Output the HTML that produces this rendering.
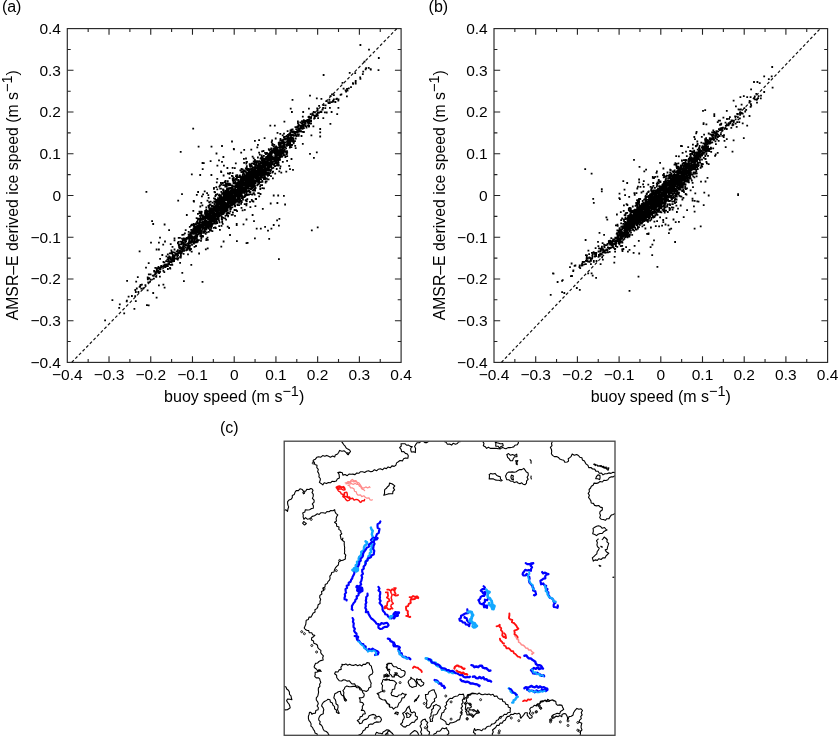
<!DOCTYPE html><html><head><meta charset="utf-8"><style>html,body{margin:0;padding:0;background:#fff;}svg{display:block;}svg{font-size:16px;}text{font-family:"Liberation Sans", Arial, Helvetica, sans-serif;fill:#000;}</style></head><body>
<svg width="838" height="736" viewBox="0 0 838 736">
<path d="M88.16 28.60v3.4M88.16 362.40v-3.4M67.30 341.54h3.4M401.10 341.54h-3.4M109.02 28.60v6.2M109.02 362.40v-6.2M67.30 320.68h6.2M401.10 320.68h-6.2M129.89 28.60v3.4M129.89 362.40v-3.4M67.30 299.81h3.4M401.10 299.81h-3.4M150.75 28.60v6.2M150.75 362.40v-6.2M67.30 278.95h6.2M401.10 278.95h-6.2M171.61 28.60v3.4M171.61 362.40v-3.4M67.30 258.09h3.4M401.10 258.09h-3.4M192.48 28.60v6.2M192.48 362.40v-6.2M67.30 237.22h6.2M401.10 237.22h-6.2M213.34 28.60v3.4M213.34 362.40v-3.4M67.30 216.36h3.4M401.10 216.36h-3.4M234.20 28.60v6.2M234.20 362.40v-6.2M67.30 195.50h6.2M401.10 195.50h-6.2M255.06 28.60v3.4M255.06 362.40v-3.4M67.30 174.64h3.4M401.10 174.64h-3.4M275.93 28.60v6.2M275.93 362.40v-6.2M67.30 153.78h6.2M401.10 153.78h-6.2M296.79 28.60v3.4M296.79 362.40v-3.4M67.30 132.91h3.4M401.10 132.91h-3.4M317.65 28.60v6.2M317.65 362.40v-6.2M67.30 112.05h6.2M401.10 112.05h-6.2M338.51 28.60v3.4M338.51 362.40v-3.4M67.30 91.19h3.4M401.10 91.19h-3.4M359.38 28.60v6.2M359.38 362.40v-6.2M67.30 70.32h6.2M401.10 70.32h-6.2M380.24 28.60v3.4M380.24 362.40v-3.4M67.30 49.46h3.4M401.10 49.46h-3.4" stroke="#222" stroke-width="1.1" fill="none"/>
<rect x="67.30" y="28.60" width="333.80" height="333.80" stroke="#262626" stroke-width="1.15" fill="none"/>
<text x="67.30" y="380.2" text-anchor="middle" font-size="15.5">−0.4</text>
<text x="61.00" y="367.80" text-anchor="end" font-size="15.5">−0.4</text>
<text x="109.02" y="380.2" text-anchor="middle" font-size="15.5">−0.3</text>
<text x="61.00" y="326.07" text-anchor="end" font-size="15.5">−0.3</text>
<text x="150.75" y="380.2" text-anchor="middle" font-size="15.5">−0.2</text>
<text x="61.00" y="284.35" text-anchor="end" font-size="15.5">−0.2</text>
<text x="192.48" y="380.2" text-anchor="middle" font-size="15.5">−0.1</text>
<text x="61.00" y="242.62" text-anchor="end" font-size="15.5">−0.1</text>
<text x="234.20" y="380.2" text-anchor="middle" font-size="15.5">0</text>
<text x="61.00" y="200.90" text-anchor="end" font-size="15.5">0</text>
<text x="275.93" y="380.2" text-anchor="middle" font-size="15.5">0.1</text>
<text x="61.00" y="159.18" text-anchor="end" font-size="15.5">0.1</text>
<text x="317.65" y="380.2" text-anchor="middle" font-size="15.5">0.2</text>
<text x="61.00" y="117.45" text-anchor="end" font-size="15.5">0.2</text>
<text x="359.38" y="380.2" text-anchor="middle" font-size="15.5">0.3</text>
<text x="61.00" y="75.72" text-anchor="end" font-size="15.5">0.3</text>
<text x="401.10" y="380.2" text-anchor="middle" font-size="15.5">0.4</text>
<text x="61.00" y="34.00" text-anchor="end" font-size="15.5">0.4</text>
<line x1="71.7" y1="362.4" x2="396.8" y2="28.6" stroke="#111" stroke-width="1.2" stroke-dasharray="3 2.2"/>
<path d="M192.3 127.8h1.8v1.8h-1.8zM197.7 145.8h1.8v1.8h-1.8zM210.6 145.8h1.8v1.8h-1.8zM221.1 145.1h1.8v1.8h-1.8zM231.1 140.6h1.8v1.8h-1.8zM232.9 148.0h1.8v1.8h-1.8zM179.8 151.0h1.8v1.8h-1.8zM215.6 152.6h1.8v1.8h-1.8zM201.6 162.1h1.8v1.8h-1.8zM202.9 162.3h1.8v1.8h-1.8zM209.7 160.3h1.8v1.8h-1.8zM218.1 159.4h1.8v1.8h-1.8zM221.1 161.0h1.8v1.8h-1.8zM216.5 164.8h1.8v1.8h-1.8zM226.5 167.1h1.8v1.8h-1.8zM201.8 168.2h1.8v1.8h-1.8zM220.4 171.2h1.8v1.8h-1.8zM222.7 174.6h1.8v1.8h-1.8zM190.9 173.5h1.8v1.8h-1.8zM199.3 174.1h1.8v1.8h-1.8zM231.7 172.3h1.8v1.8h-1.8zM232.9 176.9h1.8v1.8h-1.8zM215.9 181.4h1.8v1.8h-1.8zM220.4 183.7h1.8v1.8h-1.8zM223.8 181.4h1.8v1.8h-1.8zM229.5 183.7h1.8v1.8h-1.8zM145.5 190.9h1.8v1.8h-1.8zM181.1 193.2h1.8v1.8h-1.8zM195.9 193.9h1.8v1.8h-1.8zM203.8 190.5h1.8v1.8h-1.8zM202.2 193.4h1.8v1.8h-1.8zM213.6 190.9h1.8v1.8h-1.8zM284.2 203.6h1.8v1.8h-1.8zM272.8 194.6h1.8v1.8h-1.8zM277.3 194.6h1.8v1.8h-1.8zM251.7 214.1h1.8v1.8h-1.8zM253.1 220.2h1.8v1.8h-1.8zM245.6 218.6h1.8v1.8h-1.8zM235.8 223.1h1.8v1.8h-1.8zM235.8 224.1h1.8v1.8h-1.8zM255.8 227.7h1.8v1.8h-1.8zM259.9 227.7h1.8v1.8h-1.8zM264.2 225.9h1.8v1.8h-1.8zM267.1 229.7h1.8v1.8h-1.8zM270.5 227.7h1.8v1.8h-1.8zM272.8 224.1h1.8v1.8h-1.8zM276.2 219.5h1.8v1.8h-1.8zM278.5 217.9h1.8v1.8h-1.8zM278.0 224.7h1.8v1.8h-1.8zM268.3 237.9h1.8v1.8h-1.8zM236.0 240.2h1.8v1.8h-1.8zM245.6 242.2h1.8v1.8h-1.8zM246.7 242.0h1.8v1.8h-1.8zM278.0 258.3h1.8v1.8h-1.8zM310.9 229.5h1.8v1.8h-1.8zM316.8 226.5h1.8v1.8h-1.8zM359.5 44.1h1.8v1.8h-1.8zM368.1 48.7h1.8v1.8h-1.8zM377.9 57.1h1.8v1.8h-1.8zM363.6 60.7h1.8v1.8h-1.8zM369.9 68.6h1.8v1.8h-1.8zM377.6 69.3h1.8v1.8h-1.8zM359.5 77.9h1.8v1.8h-1.8zM348.8 72.0h1.8v1.8h-1.8zM341.6 82.0h1.8v1.8h-1.8zM322.7 74.1h1.8v1.8h-1.8zM342.7 87.7h1.8v1.8h-1.8zM339.7 94.0h1.8v1.8h-1.8zM331.1 93.4h1.8v1.8h-1.8zM329.5 95.2h1.8v1.8h-1.8zM325.5 100.2h1.8v1.8h-1.8zM315.9 97.4h1.8v1.8h-1.8zM320.5 97.9h1.8v1.8h-1.8zM309.1 94.7h1.8v1.8h-1.8zM291.6 99.0h1.8v1.8h-1.8zM289.8 107.7h1.8v1.8h-1.8zM291.0 111.1h1.8v1.8h-1.8zM302.3 111.1h1.8v1.8h-1.8zM308.0 107.7h1.8v1.8h-1.8zM313.7 111.5h1.8v1.8h-1.8zM320.5 111.1h1.8v1.8h-1.8zM323.9 111.5h1.8v1.8h-1.8zM330.7 111.1h1.8v1.8h-1.8zM337.5 107.0h1.8v1.8h-1.8zM336.3 113.3h1.8v1.8h-1.8zM329.5 122.9h1.8v1.8h-1.8zM319.3 128.1h1.8v1.8h-1.8zM319.3 131.5h1.8v1.8h-1.8zM319.3 135.6h1.8v1.8h-1.8zM312.5 125.4h1.8v1.8h-1.8zM310.2 122.4h1.8v1.8h-1.8zM283.5 120.8h1.8v1.8h-1.8zM269.4 124.7h1.8v1.8h-1.8zM273.9 124.7h1.8v1.8h-1.8zM263.7 137.2h1.8v1.8h-1.8zM254.0 139.9h1.8v1.8h-1.8zM243.3 149.0h1.8v1.8h-1.8zM233.1 148.5h1.8v1.8h-1.8zM309.1 153.0h1.8v1.8h-1.8zM315.9 151.4h1.8v1.8h-1.8zM313.0 156.9h1.8v1.8h-1.8zM292.1 168.9h1.8v1.8h-1.8zM281.9 161.0h1.8v1.8h-1.8zM177.3 199.8h1.8v1.8h-1.8zM151.2 220.2h1.8v1.8h-1.8zM152.3 223.1h1.8v1.8h-1.8zM163.7 223.6h1.8v1.8h-1.8zM168.2 229.3h1.8v1.8h-1.8zM150.1 241.8h1.8v1.8h-1.8zM159.1 236.8h1.8v1.8h-1.8zM158.0 241.8h1.8v1.8h-1.8zM164.1 240.6h1.8v1.8h-1.8zM155.7 248.6h1.8v1.8h-1.8zM158.0 248.6h1.8v1.8h-1.8zM138.7 250.4h1.8v1.8h-1.8zM147.8 262.2h1.8v1.8h-1.8zM145.1 266.7h1.8v1.8h-1.8zM126.2 279.9h1.8v1.8h-1.8zM135.3 280.8h1.8v1.8h-1.8zM136.9 276.2h1.8v1.8h-1.8zM141.0 283.7h1.8v1.8h-1.8zM146.7 289.4h1.8v1.8h-1.8zM152.3 292.1h1.8v1.8h-1.8zM155.7 296.7h1.8v1.8h-1.8zM158.0 284.4h1.8v1.8h-1.8zM162.5 283.7h1.8v1.8h-1.8zM163.7 286.7h1.8v1.8h-1.8zM111.5 299.2h1.8v1.8h-1.8zM118.3 306.9h1.8v1.8h-1.8zM123.3 312.5h1.8v1.8h-1.8zM133.5 308.0h1.8v1.8h-1.8zM134.9 300.3h1.8v1.8h-1.8zM146.0 304.2h1.8v1.8h-1.8zM147.8 304.4h1.8v1.8h-1.8zM104.2 319.4h1.8v1.8h-1.8zM183.0 280.3h1.8v1.8h-1.8zM201.6 281.0h1.8v1.8h-1.8zM181.4 271.9h1.8v1.8h-1.8zM190.4 264.0h1.8v1.8h-1.8zM222.7 240.6h1.8v1.8h-1.8zM220.4 245.8h1.8v1.8h-1.8zM206.8 247.4h1.8v1.8h-1.8zM198.2 252.6h1.8v1.8h-1.8zM235.0 198.5h1.8v1.8h-1.8zM229.7 191.5h1.8v1.8h-1.8zM197.0 222.4h1.8v1.8h-1.8zM180.7 240.8h1.8v1.8h-1.8zM190.6 237.1h1.8v1.8h-1.8zM312.8 114.4h1.8v1.8h-1.8zM248.7 179.5h1.8v1.8h-1.8zM240.6 187.0h1.8v1.8h-1.8zM215.2 218.0h1.8v1.8h-1.8zM237.1 190.6h1.8v1.8h-1.8zM242.9 172.0h1.8v1.8h-1.8zM226.1 198.7h1.8v1.8h-1.8zM369.7 68.3h1.8v1.8h-1.8zM206.1 210.4h1.8v1.8h-1.8zM208.7 218.0h1.8v1.8h-1.8zM267.5 155.1h1.8v1.8h-1.8zM298.4 130.4h1.8v1.8h-1.8zM282.6 144.8h1.8v1.8h-1.8zM305.6 125.5h1.8v1.8h-1.8zM259.7 173.7h1.8v1.8h-1.8zM188.8 248.0h1.8v1.8h-1.8zM196.0 229.3h1.8v1.8h-1.8zM180.6 248.5h1.8v1.8h-1.8zM243.4 178.5h1.8v1.8h-1.8zM221.7 210.1h1.8v1.8h-1.8zM203.3 230.4h1.8v1.8h-1.8zM218.1 219.7h1.8v1.8h-1.8zM218.5 203.5h1.8v1.8h-1.8zM216.7 214.7h1.8v1.8h-1.8zM189.7 232.0h1.8v1.8h-1.8zM211.9 214.6h1.8v1.8h-1.8zM205.2 214.8h1.8v1.8h-1.8zM188.2 240.4h1.8v1.8h-1.8zM234.4 201.7h1.8v1.8h-1.8zM289.6 129.4h1.8v1.8h-1.8zM192.9 229.5h1.8v1.8h-1.8zM286.6 140.0h1.8v1.8h-1.8zM268.3 165.2h1.8v1.8h-1.8zM224.5 207.2h1.8v1.8h-1.8zM219.7 197.7h1.8v1.8h-1.8zM179.0 249.8h1.8v1.8h-1.8zM225.2 210.8h1.8v1.8h-1.8zM246.4 186.6h1.8v1.8h-1.8zM186.6 248.9h1.8v1.8h-1.8zM249.5 173.3h1.8v1.8h-1.8zM278.5 146.6h1.8v1.8h-1.8zM155.6 270.4h1.8v1.8h-1.8zM199.5 228.6h1.8v1.8h-1.8zM235.5 179.0h1.8v1.8h-1.8zM309.7 122.8h1.8v1.8h-1.8zM261.9 168.1h1.8v1.8h-1.8zM165.4 263.4h1.8v1.8h-1.8zM271.1 167.5h1.8v1.8h-1.8zM235.0 192.3h1.8v1.8h-1.8zM225.6 207.0h1.8v1.8h-1.8zM267.5 165.5h1.8v1.8h-1.8zM265.0 168.2h1.8v1.8h-1.8zM225.0 182.6h1.8v1.8h-1.8zM283.5 136.0h1.8v1.8h-1.8zM275.5 158.4h1.8v1.8h-1.8zM240.1 176.6h1.8v1.8h-1.8zM186.9 237.6h1.8v1.8h-1.8zM361.9 73.3h1.8v1.8h-1.8zM257.8 163.7h1.8v1.8h-1.8zM242.0 196.3h1.8v1.8h-1.8zM176.4 255.4h1.8v1.8h-1.8zM223.9 197.9h1.8v1.8h-1.8zM248.6 170.1h1.8v1.8h-1.8zM205.6 217.4h1.8v1.8h-1.8zM215.2 220.3h1.8v1.8h-1.8zM279.6 138.0h1.8v1.8h-1.8zM236.1 195.8h1.8v1.8h-1.8zM216.8 213.8h1.8v1.8h-1.8zM264.1 152.0h1.8v1.8h-1.8zM246.9 186.6h1.8v1.8h-1.8zM278.6 154.7h1.8v1.8h-1.8zM266.0 162.4h1.8v1.8h-1.8zM228.3 201.2h1.8v1.8h-1.8zM210.6 208.8h1.8v1.8h-1.8zM216.0 202.4h1.8v1.8h-1.8zM304.7 123.0h1.8v1.8h-1.8zM267.9 162.1h1.8v1.8h-1.8zM258.9 165.1h1.8v1.8h-1.8zM155.4 276.0h1.8v1.8h-1.8zM222.8 204.1h1.8v1.8h-1.8zM192.0 232.4h1.8v1.8h-1.8zM241.8 176.7h1.8v1.8h-1.8zM274.5 148.0h1.8v1.8h-1.8zM254.1 169.3h1.8v1.8h-1.8zM159.6 268.1h1.8v1.8h-1.8zM255.7 171.6h1.8v1.8h-1.8zM263.8 171.8h1.8v1.8h-1.8zM245.0 171.0h1.8v1.8h-1.8zM282.0 151.8h1.8v1.8h-1.8zM287.4 143.1h1.8v1.8h-1.8zM255.9 178.9h1.8v1.8h-1.8zM236.4 199.7h1.8v1.8h-1.8zM290.5 130.7h1.8v1.8h-1.8zM240.9 182.9h1.8v1.8h-1.8zM242.7 169.5h1.8v1.8h-1.8zM230.8 213.9h1.8v1.8h-1.8zM249.6 175.3h1.8v1.8h-1.8zM222.3 206.3h1.8v1.8h-1.8zM184.1 240.2h1.8v1.8h-1.8zM249.7 176.0h1.8v1.8h-1.8zM267.7 161.5h1.8v1.8h-1.8zM252.7 168.4h1.8v1.8h-1.8zM200.5 236.3h1.8v1.8h-1.8zM253.2 181.4h1.8v1.8h-1.8zM290.7 130.3h1.8v1.8h-1.8zM290.2 136.9h1.8v1.8h-1.8zM222.6 210.9h1.8v1.8h-1.8zM249.8 183.6h1.8v1.8h-1.8zM209.3 208.6h1.8v1.8h-1.8zM278.2 152.9h1.8v1.8h-1.8zM308.2 125.1h1.8v1.8h-1.8zM237.4 179.1h1.8v1.8h-1.8zM238.4 185.5h1.8v1.8h-1.8zM302.9 119.2h1.8v1.8h-1.8zM250.7 185.6h1.8v1.8h-1.8zM250.9 169.1h1.8v1.8h-1.8zM297.6 127.7h1.8v1.8h-1.8zM217.4 213.1h1.8v1.8h-1.8zM278.9 153.6h1.8v1.8h-1.8zM228.7 200.1h1.8v1.8h-1.8zM282.9 151.8h1.8v1.8h-1.8zM255.4 174.9h1.8v1.8h-1.8zM260.5 173.3h1.8v1.8h-1.8zM237.3 198.8h1.8v1.8h-1.8zM204.4 228.9h1.8v1.8h-1.8zM206.6 211.9h1.8v1.8h-1.8zM227.8 195.6h1.8v1.8h-1.8zM243.1 186.9h1.8v1.8h-1.8zM252.4 186.4h1.8v1.8h-1.8zM274.6 156.7h1.8v1.8h-1.8zM262.5 162.5h1.8v1.8h-1.8zM278.6 144.5h1.8v1.8h-1.8zM229.4 210.4h1.8v1.8h-1.8zM279.6 148.9h1.8v1.8h-1.8zM214.6 222.2h1.8v1.8h-1.8zM271.6 158.1h1.8v1.8h-1.8zM231.4 189.9h1.8v1.8h-1.8zM153.4 270.8h1.8v1.8h-1.8zM297.1 122.3h1.8v1.8h-1.8zM228.7 184.1h1.8v1.8h-1.8zM208.3 217.6h1.8v1.8h-1.8zM190.3 231.3h1.8v1.8h-1.8zM239.7 183.4h1.8v1.8h-1.8zM201.8 235.7h1.8v1.8h-1.8zM271.7 143.0h1.8v1.8h-1.8zM187.8 230.9h1.8v1.8h-1.8zM231.0 197.4h1.8v1.8h-1.8zM228.3 195.7h1.8v1.8h-1.8zM264.5 163.8h1.8v1.8h-1.8zM200.1 226.7h1.8v1.8h-1.8zM206.3 212.6h1.8v1.8h-1.8zM226.4 208.5h1.8v1.8h-1.8zM261.4 159.9h1.8v1.8h-1.8zM241.3 177.4h1.8v1.8h-1.8zM308.7 116.7h1.8v1.8h-1.8zM219.8 204.1h1.8v1.8h-1.8zM265.4 152.8h1.8v1.8h-1.8zM286.0 137.9h1.8v1.8h-1.8zM253.1 163.1h1.8v1.8h-1.8zM252.5 170.7h1.8v1.8h-1.8zM159.0 271.1h1.8v1.8h-1.8zM249.5 180.2h1.8v1.8h-1.8zM253.8 193.8h1.8v1.8h-1.8zM243.8 175.2h1.8v1.8h-1.8zM352.0 82.3h1.8v1.8h-1.8zM264.4 166.0h1.8v1.8h-1.8zM250.1 177.4h1.8v1.8h-1.8zM215.9 213.8h1.8v1.8h-1.8zM223.6 202.4h1.8v1.8h-1.8zM215.5 200.4h1.8v1.8h-1.8zM305.4 120.5h1.8v1.8h-1.8zM352.2 82.9h1.8v1.8h-1.8zM249.0 175.5h1.8v1.8h-1.8zM179.8 251.3h1.8v1.8h-1.8zM204.0 229.0h1.8v1.8h-1.8zM244.0 191.0h1.8v1.8h-1.8zM246.7 177.7h1.8v1.8h-1.8zM223.6 195.5h1.8v1.8h-1.8zM213.6 203.3h1.8v1.8h-1.8zM207.4 218.8h1.8v1.8h-1.8zM205.2 223.3h1.8v1.8h-1.8zM237.2 188.7h1.8v1.8h-1.8zM332.1 99.7h1.8v1.8h-1.8zM189.1 233.3h1.8v1.8h-1.8zM302.5 125.7h1.8v1.8h-1.8zM252.4 174.1h1.8v1.8h-1.8zM308.3 115.8h1.8v1.8h-1.8zM237.6 181.9h1.8v1.8h-1.8zM205.3 215.6h1.8v1.8h-1.8zM235.3 179.0h1.8v1.8h-1.8zM227.7 201.1h1.8v1.8h-1.8zM246.3 182.6h1.8v1.8h-1.8zM364.7 68.4h1.8v1.8h-1.8zM263.1 178.1h1.8v1.8h-1.8zM266.8 172.2h1.8v1.8h-1.8zM224.1 196.6h1.8v1.8h-1.8zM243.9 173.5h1.8v1.8h-1.8zM256.4 172.1h1.8v1.8h-1.8zM294.3 144.9h1.8v1.8h-1.8zM166.9 260.8h1.8v1.8h-1.8zM244.9 190.7h1.8v1.8h-1.8zM245.4 192.2h1.8v1.8h-1.8zM251.6 182.4h1.8v1.8h-1.8zM230.6 196.4h1.8v1.8h-1.8zM267.8 167.4h1.8v1.8h-1.8zM182.4 248.3h1.8v1.8h-1.8zM251.6 166.3h1.8v1.8h-1.8zM227.0 200.4h1.8v1.8h-1.8zM250.5 170.2h1.8v1.8h-1.8zM230.8 194.1h1.8v1.8h-1.8zM219.3 187.7h1.8v1.8h-1.8zM192.7 237.6h1.8v1.8h-1.8zM247.2 181.7h1.8v1.8h-1.8zM257.9 171.0h1.8v1.8h-1.8zM215.5 206.4h1.8v1.8h-1.8zM183.5 243.5h1.8v1.8h-1.8zM204.1 211.5h1.8v1.8h-1.8zM232.8 190.0h1.8v1.8h-1.8zM262.5 169.0h1.8v1.8h-1.8zM290.5 140.0h1.8v1.8h-1.8zM268.1 157.3h1.8v1.8h-1.8zM220.8 218.1h1.8v1.8h-1.8zM209.8 209.6h1.8v1.8h-1.8zM224.7 194.0h1.8v1.8h-1.8zM218.1 211.2h1.8v1.8h-1.8zM263.2 170.5h1.8v1.8h-1.8zM200.5 219.0h1.8v1.8h-1.8zM273.7 162.8h1.8v1.8h-1.8zM248.3 180.5h1.8v1.8h-1.8zM307.4 120.3h1.8v1.8h-1.8zM249.6 175.3h1.8v1.8h-1.8zM180.1 247.2h1.8v1.8h-1.8zM182.8 233.7h1.8v1.8h-1.8zM202.6 221.2h1.8v1.8h-1.8zM216.0 204.2h1.8v1.8h-1.8zM247.8 173.9h1.8v1.8h-1.8zM308.4 120.8h1.8v1.8h-1.8zM229.7 193.3h1.8v1.8h-1.8zM277.8 142.0h1.8v1.8h-1.8zM277.2 157.8h1.8v1.8h-1.8zM272.4 148.0h1.8v1.8h-1.8zM291.7 128.4h1.8v1.8h-1.8zM270.4 157.0h1.8v1.8h-1.8zM223.1 200.1h1.8v1.8h-1.8zM213.0 187.9h1.8v1.8h-1.8zM211.3 209.1h1.8v1.8h-1.8zM190.8 250.7h1.8v1.8h-1.8zM203.2 224.2h1.8v1.8h-1.8zM184.7 240.2h1.8v1.8h-1.8zM254.6 177.4h1.8v1.8h-1.8zM197.1 231.2h1.8v1.8h-1.8zM215.5 204.9h1.8v1.8h-1.8zM196.5 228.6h1.8v1.8h-1.8zM202.6 220.9h1.8v1.8h-1.8zM275.4 160.4h1.8v1.8h-1.8zM222.9 207.3h1.8v1.8h-1.8zM251.6 172.5h1.8v1.8h-1.8zM233.6 209.1h1.8v1.8h-1.8zM273.2 160.3h1.8v1.8h-1.8zM245.0 178.2h1.8v1.8h-1.8zM254.8 198.0h1.8v1.8h-1.8zM157.6 265.9h1.8v1.8h-1.8zM266.2 172.1h1.8v1.8h-1.8zM194.8 231.1h1.8v1.8h-1.8zM274.3 158.6h1.8v1.8h-1.8zM253.5 173.6h1.8v1.8h-1.8zM208.6 225.9h1.8v1.8h-1.8zM147.3 281.4h1.8v1.8h-1.8zM179.6 240.7h1.8v1.8h-1.8zM250.8 168.3h1.8v1.8h-1.8zM294.5 132.3h1.8v1.8h-1.8zM270.8 159.8h1.8v1.8h-1.8zM276.1 146.7h1.8v1.8h-1.8zM265.1 156.4h1.8v1.8h-1.8zM204.0 220.3h1.8v1.8h-1.8zM215.0 215.7h1.8v1.8h-1.8zM235.5 193.4h1.8v1.8h-1.8zM236.6 195.6h1.8v1.8h-1.8zM241.1 190.5h1.8v1.8h-1.8zM276.6 157.6h1.8v1.8h-1.8zM257.2 171.8h1.8v1.8h-1.8zM258.3 195.4h1.8v1.8h-1.8zM257.4 172.7h1.8v1.8h-1.8zM239.9 179.2h1.8v1.8h-1.8zM215.9 215.7h1.8v1.8h-1.8zM233.0 192.3h1.8v1.8h-1.8zM260.6 173.2h1.8v1.8h-1.8zM293.7 131.9h1.8v1.8h-1.8zM264.9 158.4h1.8v1.8h-1.8zM192.6 231.3h1.8v1.8h-1.8zM194.9 223.7h1.8v1.8h-1.8zM274.9 157.4h1.8v1.8h-1.8zM196.5 233.7h1.8v1.8h-1.8zM225.7 205.7h1.8v1.8h-1.8zM230.8 190.5h1.8v1.8h-1.8zM262.3 162.0h1.8v1.8h-1.8zM223.5 205.2h1.8v1.8h-1.8zM240.7 199.7h1.8v1.8h-1.8zM247.4 178.3h1.8v1.8h-1.8zM156.0 268.7h1.8v1.8h-1.8zM203.2 231.6h1.8v1.8h-1.8zM237.8 193.3h1.8v1.8h-1.8zM200.2 218.6h1.8v1.8h-1.8zM281.6 142.2h1.8v1.8h-1.8zM206.9 225.8h1.8v1.8h-1.8zM322.2 106.9h1.8v1.8h-1.8zM213.1 197.4h1.8v1.8h-1.8zM244.7 187.6h1.8v1.8h-1.8zM251.0 179.7h1.8v1.8h-1.8zM234.9 184.9h1.8v1.8h-1.8zM209.8 222.1h1.8v1.8h-1.8zM201.7 216.6h1.8v1.8h-1.8zM241.7 182.1h1.8v1.8h-1.8zM290.3 138.4h1.8v1.8h-1.8zM200.8 217.7h1.8v1.8h-1.8zM220.2 204.7h1.8v1.8h-1.8zM273.2 164.2h1.8v1.8h-1.8zM242.8 189.0h1.8v1.8h-1.8zM332.5 100.6h1.8v1.8h-1.8zM240.6 179.5h1.8v1.8h-1.8zM226.1 187.3h1.8v1.8h-1.8zM268.5 163.0h1.8v1.8h-1.8zM202.8 231.0h1.8v1.8h-1.8zM238.6 181.2h1.8v1.8h-1.8zM243.7 182.3h1.8v1.8h-1.8zM238.6 185.4h1.8v1.8h-1.8zM293.4 130.9h1.8v1.8h-1.8zM224.4 191.9h1.8v1.8h-1.8zM259.9 161.4h1.8v1.8h-1.8zM243.3 192.0h1.8v1.8h-1.8zM222.6 189.0h1.8v1.8h-1.8zM248.0 169.9h1.8v1.8h-1.8zM236.6 187.7h1.8v1.8h-1.8zM206.9 217.0h1.8v1.8h-1.8zM254.0 159.1h1.8v1.8h-1.8zM256.6 169.4h1.8v1.8h-1.8zM199.5 226.4h1.8v1.8h-1.8zM233.8 203.0h1.8v1.8h-1.8zM244.7 186.3h1.8v1.8h-1.8zM213.6 212.0h1.8v1.8h-1.8zM289.5 138.4h1.8v1.8h-1.8zM245.9 168.6h1.8v1.8h-1.8zM221.4 209.4h1.8v1.8h-1.8zM258.3 181.9h1.8v1.8h-1.8zM204.9 228.6h1.8v1.8h-1.8zM289.2 137.2h1.8v1.8h-1.8zM225.2 205.5h1.8v1.8h-1.8zM284.7 138.5h1.8v1.8h-1.8zM242.1 189.2h1.8v1.8h-1.8zM177.0 249.2h1.8v1.8h-1.8zM291.4 139.7h1.8v1.8h-1.8zM222.5 197.2h1.8v1.8h-1.8zM285.9 153.1h1.8v1.8h-1.8zM268.5 156.6h1.8v1.8h-1.8zM278.3 150.4h1.8v1.8h-1.8zM219.5 210.7h1.8v1.8h-1.8zM171.4 263.9h1.8v1.8h-1.8zM264.1 177.3h1.8v1.8h-1.8zM251.1 167.6h1.8v1.8h-1.8zM265.0 161.6h1.8v1.8h-1.8zM212.7 213.8h1.8v1.8h-1.8zM257.6 173.2h1.8v1.8h-1.8zM253.6 179.8h1.8v1.8h-1.8zM237.0 196.9h1.8v1.8h-1.8zM208.8 210.6h1.8v1.8h-1.8zM284.2 141.7h1.8v1.8h-1.8zM196.9 239.3h1.8v1.8h-1.8zM229.5 193.3h1.8v1.8h-1.8zM243.1 183.1h1.8v1.8h-1.8zM221.5 208.1h1.8v1.8h-1.8zM258.7 173.2h1.8v1.8h-1.8zM218.7 212.2h1.8v1.8h-1.8zM317.2 117.2h1.8v1.8h-1.8zM227.7 183.3h1.8v1.8h-1.8zM229.9 206.5h1.8v1.8h-1.8zM245.1 174.5h1.8v1.8h-1.8zM264.5 172.7h1.8v1.8h-1.8zM234.3 187.4h1.8v1.8h-1.8zM288.1 133.3h1.8v1.8h-1.8zM253.8 169.9h1.8v1.8h-1.8zM233.2 188.7h1.8v1.8h-1.8zM264.5 165.2h1.8v1.8h-1.8zM220.4 212.8h1.8v1.8h-1.8zM217.1 197.3h1.8v1.8h-1.8zM248.6 171.7h1.8v1.8h-1.8zM199.4 235.3h1.8v1.8h-1.8zM229.5 196.6h1.8v1.8h-1.8zM226.4 212.5h1.8v1.8h-1.8zM251.1 184.4h1.8v1.8h-1.8zM259.0 173.7h1.8v1.8h-1.8zM172.3 258.7h1.8v1.8h-1.8zM246.5 179.7h1.8v1.8h-1.8zM194.7 240.9h1.8v1.8h-1.8zM200.0 232.5h1.8v1.8h-1.8zM279.1 156.7h1.8v1.8h-1.8zM184.4 241.4h1.8v1.8h-1.8zM300.4 127.7h1.8v1.8h-1.8zM237.0 193.4h1.8v1.8h-1.8zM234.3 191.0h1.8v1.8h-1.8zM170.7 259.2h1.8v1.8h-1.8zM225.2 196.9h1.8v1.8h-1.8zM234.1 215.0h1.8v1.8h-1.8zM265.8 168.2h1.8v1.8h-1.8zM208.8 212.0h1.8v1.8h-1.8zM236.9 187.1h1.8v1.8h-1.8zM232.3 203.4h1.8v1.8h-1.8zM171.8 255.8h1.8v1.8h-1.8zM236.5 182.3h1.8v1.8h-1.8zM276.9 159.3h1.8v1.8h-1.8zM278.5 141.5h1.8v1.8h-1.8zM240.0 196.0h1.8v1.8h-1.8zM214.7 214.3h1.8v1.8h-1.8zM200.2 234.3h1.8v1.8h-1.8zM213.0 209.4h1.8v1.8h-1.8zM354.8 82.7h1.8v1.8h-1.8zM268.0 159.2h1.8v1.8h-1.8zM259.5 171.1h1.8v1.8h-1.8zM208.6 219.7h1.8v1.8h-1.8zM240.6 191.6h1.8v1.8h-1.8zM255.9 169.6h1.8v1.8h-1.8zM282.7 147.1h1.8v1.8h-1.8zM263.8 166.3h1.8v1.8h-1.8zM212.9 211.7h1.8v1.8h-1.8zM189.5 234.3h1.8v1.8h-1.8zM246.2 193.6h1.8v1.8h-1.8zM227.4 201.6h1.8v1.8h-1.8zM240.2 187.4h1.8v1.8h-1.8zM211.9 209.7h1.8v1.8h-1.8zM256.7 170.6h1.8v1.8h-1.8zM263.8 168.0h1.8v1.8h-1.8zM219.8 208.8h1.8v1.8h-1.8zM229.9 198.9h1.8v1.8h-1.8zM210.7 210.9h1.8v1.8h-1.8zM212.8 222.6h1.8v1.8h-1.8zM252.1 177.6h1.8v1.8h-1.8zM300.7 122.3h1.8v1.8h-1.8zM209.8 200.7h1.8v1.8h-1.8zM255.4 176.9h1.8v1.8h-1.8zM238.3 183.4h1.8v1.8h-1.8zM231.6 200.7h1.8v1.8h-1.8zM231.4 196.7h1.8v1.8h-1.8zM206.5 213.0h1.8v1.8h-1.8zM205.3 225.6h1.8v1.8h-1.8zM206.7 215.4h1.8v1.8h-1.8zM205.0 227.5h1.8v1.8h-1.8zM260.7 167.5h1.8v1.8h-1.8zM226.9 196.4h1.8v1.8h-1.8zM188.4 245.6h1.8v1.8h-1.8zM247.7 182.8h1.8v1.8h-1.8zM229.0 202.8h1.8v1.8h-1.8zM284.0 143.9h1.8v1.8h-1.8zM218.8 209.1h1.8v1.8h-1.8zM257.5 179.3h1.8v1.8h-1.8zM237.7 200.9h1.8v1.8h-1.8zM246.0 176.2h1.8v1.8h-1.8zM227.4 195.1h1.8v1.8h-1.8zM276.7 163.6h1.8v1.8h-1.8zM280.7 151.6h1.8v1.8h-1.8zM216.3 215.3h1.8v1.8h-1.8zM301.1 126.2h1.8v1.8h-1.8zM259.5 174.3h1.8v1.8h-1.8zM139.7 284.1h1.8v1.8h-1.8zM234.6 194.7h1.8v1.8h-1.8zM241.5 171.0h1.8v1.8h-1.8zM301.7 122.6h1.8v1.8h-1.8zM234.5 186.1h1.8v1.8h-1.8zM267.8 171.7h1.8v1.8h-1.8zM298.2 130.8h1.8v1.8h-1.8zM235.8 199.2h1.8v1.8h-1.8zM226.2 198.5h1.8v1.8h-1.8zM206.7 210.4h1.8v1.8h-1.8zM222.4 198.1h1.8v1.8h-1.8zM180.2 247.8h1.8v1.8h-1.8zM206.4 225.6h1.8v1.8h-1.8zM262.6 171.5h1.8v1.8h-1.8zM206.3 221.6h1.8v1.8h-1.8zM214.1 209.3h1.8v1.8h-1.8zM258.3 169.1h1.8v1.8h-1.8zM255.2 167.4h1.8v1.8h-1.8zM238.9 195.6h1.8v1.8h-1.8zM239.1 174.4h1.8v1.8h-1.8zM264.9 170.3h1.8v1.8h-1.8zM194.1 223.6h1.8v1.8h-1.8zM242.8 184.4h1.8v1.8h-1.8zM253.8 175.6h1.8v1.8h-1.8zM299.9 125.1h1.8v1.8h-1.8zM241.2 177.5h1.8v1.8h-1.8zM292.5 140.3h1.8v1.8h-1.8zM195.3 235.5h1.8v1.8h-1.8zM219.9 208.5h1.8v1.8h-1.8zM221.5 202.6h1.8v1.8h-1.8zM243.9 178.0h1.8v1.8h-1.8zM266.8 166.4h1.8v1.8h-1.8zM208.7 207.8h1.8v1.8h-1.8zM301.7 121.2h1.8v1.8h-1.8zM261.5 168.6h1.8v1.8h-1.8zM193.3 231.5h1.8v1.8h-1.8zM279.0 146.2h1.8v1.8h-1.8zM207.6 218.8h1.8v1.8h-1.8zM239.0 182.6h1.8v1.8h-1.8zM212.5 208.6h1.8v1.8h-1.8zM227.0 200.4h1.8v1.8h-1.8zM281.3 147.0h1.8v1.8h-1.8zM173.6 237.4h1.8v1.8h-1.8zM221.0 206.1h1.8v1.8h-1.8zM229.9 198.0h1.8v1.8h-1.8zM185.0 238.1h1.8v1.8h-1.8zM246.9 177.2h1.8v1.8h-1.8zM284.5 156.1h1.8v1.8h-1.8zM235.7 189.3h1.8v1.8h-1.8zM167.6 258.2h1.8v1.8h-1.8zM191.2 230.7h1.8v1.8h-1.8zM220.0 214.3h1.8v1.8h-1.8zM155.1 272.2h1.8v1.8h-1.8zM251.1 176.4h1.8v1.8h-1.8zM258.4 160.2h1.8v1.8h-1.8zM278.2 156.3h1.8v1.8h-1.8zM316.9 114.6h1.8v1.8h-1.8zM255.9 170.0h1.8v1.8h-1.8zM276.5 148.3h1.8v1.8h-1.8zM226.5 195.8h1.8v1.8h-1.8zM247.6 172.3h1.8v1.8h-1.8zM230.1 203.1h1.8v1.8h-1.8zM283.1 148.3h1.8v1.8h-1.8zM258.6 173.9h1.8v1.8h-1.8zM259.9 166.8h1.8v1.8h-1.8zM193.8 230.7h1.8v1.8h-1.8zM233.3 201.2h1.8v1.8h-1.8zM227.1 198.3h1.8v1.8h-1.8zM255.6 177.3h1.8v1.8h-1.8zM225.9 213.2h1.8v1.8h-1.8zM198.8 212.1h1.8v1.8h-1.8zM217.7 215.2h1.8v1.8h-1.8zM255.4 171.2h1.8v1.8h-1.8zM294.8 137.6h1.8v1.8h-1.8zM200.8 230.1h1.8v1.8h-1.8zM244.6 182.0h1.8v1.8h-1.8zM236.0 177.1h1.8v1.8h-1.8zM269.1 151.3h1.8v1.8h-1.8zM236.9 200.3h1.8v1.8h-1.8zM264.2 174.0h1.8v1.8h-1.8zM243.2 179.1h1.8v1.8h-1.8zM249.6 181.9h1.8v1.8h-1.8zM219.0 199.6h1.8v1.8h-1.8zM244.9 175.8h1.8v1.8h-1.8zM270.8 141.2h1.8v1.8h-1.8zM260.2 173.1h1.8v1.8h-1.8zM261.7 156.6h1.8v1.8h-1.8zM211.1 222.8h1.8v1.8h-1.8zM228.2 202.6h1.8v1.8h-1.8zM283.7 137.3h1.8v1.8h-1.8zM261.7 169.7h1.8v1.8h-1.8zM274.3 154.1h1.8v1.8h-1.8zM214.2 201.6h1.8v1.8h-1.8zM270.1 161.2h1.8v1.8h-1.8zM221.2 211.8h1.8v1.8h-1.8zM262.2 170.8h1.8v1.8h-1.8zM222.9 209.4h1.8v1.8h-1.8zM247.4 169.2h1.8v1.8h-1.8zM254.7 171.1h1.8v1.8h-1.8zM172.0 257.6h1.8v1.8h-1.8zM277.2 153.8h1.8v1.8h-1.8zM238.1 191.5h1.8v1.8h-1.8zM263.1 187.4h1.8v1.8h-1.8zM221.6 212.6h1.8v1.8h-1.8zM276.0 155.3h1.8v1.8h-1.8zM226.3 208.4h1.8v1.8h-1.8zM224.7 195.7h1.8v1.8h-1.8zM247.2 175.4h1.8v1.8h-1.8zM194.1 231.5h1.8v1.8h-1.8zM191.9 229.9h1.8v1.8h-1.8zM293.6 130.9h1.8v1.8h-1.8zM354.7 81.6h1.8v1.8h-1.8zM257.0 168.5h1.8v1.8h-1.8zM205.9 227.0h1.8v1.8h-1.8zM232.1 185.8h1.8v1.8h-1.8zM240.5 190.8h1.8v1.8h-1.8zM234.3 192.4h1.8v1.8h-1.8zM224.8 209.3h1.8v1.8h-1.8zM217.5 203.3h1.8v1.8h-1.8zM279.1 143.5h1.8v1.8h-1.8zM260.3 165.9h1.8v1.8h-1.8zM226.6 199.1h1.8v1.8h-1.8zM236.6 185.9h1.8v1.8h-1.8zM248.8 190.8h1.8v1.8h-1.8zM225.7 203.4h1.8v1.8h-1.8zM225.5 195.7h1.8v1.8h-1.8zM273.0 149.5h1.8v1.8h-1.8zM190.0 234.4h1.8v1.8h-1.8zM182.0 240.3h1.8v1.8h-1.8zM248.8 187.9h1.8v1.8h-1.8zM291.8 140.8h1.8v1.8h-1.8zM228.4 198.2h1.8v1.8h-1.8zM224.4 195.3h1.8v1.8h-1.8zM311.7 112.6h1.8v1.8h-1.8zM345.2 90.8h1.8v1.8h-1.8zM263.0 157.7h1.8v1.8h-1.8zM183.2 238.7h1.8v1.8h-1.8zM224.4 206.2h1.8v1.8h-1.8zM215.4 214.3h1.8v1.8h-1.8zM258.2 176.6h1.8v1.8h-1.8zM198.9 220.4h1.8v1.8h-1.8zM214.4 201.7h1.8v1.8h-1.8zM266.7 168.0h1.8v1.8h-1.8zM165.8 264.9h1.8v1.8h-1.8zM299.4 130.2h1.8v1.8h-1.8zM247.7 180.8h1.8v1.8h-1.8zM203.3 220.8h1.8v1.8h-1.8zM205.6 228.4h1.8v1.8h-1.8zM192.1 231.0h1.8v1.8h-1.8zM256.8 171.1h1.8v1.8h-1.8zM222.9 203.1h1.8v1.8h-1.8zM250.3 186.1h1.8v1.8h-1.8zM269.2 162.1h1.8v1.8h-1.8zM304.6 120.9h1.8v1.8h-1.8zM238.7 200.7h1.8v1.8h-1.8zM214.4 195.2h1.8v1.8h-1.8zM204.5 221.0h1.8v1.8h-1.8zM196.1 221.1h1.8v1.8h-1.8zM166.4 258.8h1.8v1.8h-1.8zM261.5 187.3h1.8v1.8h-1.8zM173.7 257.4h1.8v1.8h-1.8zM207.5 221.3h1.8v1.8h-1.8zM225.4 190.2h1.8v1.8h-1.8zM290.6 128.8h1.8v1.8h-1.8zM234.6 185.6h1.8v1.8h-1.8zM259.2 173.4h1.8v1.8h-1.8zM225.3 192.2h1.8v1.8h-1.8zM229.7 196.5h1.8v1.8h-1.8zM180.0 253.5h1.8v1.8h-1.8zM247.0 184.0h1.8v1.8h-1.8zM206.7 215.2h1.8v1.8h-1.8zM227.5 202.0h1.8v1.8h-1.8zM263.8 172.6h1.8v1.8h-1.8zM299.3 127.1h1.8v1.8h-1.8zM250.0 170.6h1.8v1.8h-1.8zM230.3 202.5h1.8v1.8h-1.8zM246.1 177.3h1.8v1.8h-1.8zM254.6 182.2h1.8v1.8h-1.8zM180.7 247.5h1.8v1.8h-1.8zM262.2 172.5h1.8v1.8h-1.8zM269.9 156.9h1.8v1.8h-1.8zM197.1 239.5h1.8v1.8h-1.8zM267.7 156.5h1.8v1.8h-1.8zM268.0 173.1h1.8v1.8h-1.8zM194.0 241.6h1.8v1.8h-1.8zM254.6 176.9h1.8v1.8h-1.8zM245.7 194.0h1.8v1.8h-1.8zM236.4 183.9h1.8v1.8h-1.8zM254.7 164.5h1.8v1.8h-1.8zM271.4 143.1h1.8v1.8h-1.8zM259.5 169.2h1.8v1.8h-1.8zM225.3 191.9h1.8v1.8h-1.8zM198.2 229.0h1.8v1.8h-1.8zM203.8 220.1h1.8v1.8h-1.8zM248.8 181.7h1.8v1.8h-1.8zM221.9 204.8h1.8v1.8h-1.8zM253.9 176.2h1.8v1.8h-1.8zM255.6 180.7h1.8v1.8h-1.8zM204.8 220.0h1.8v1.8h-1.8zM228.1 197.2h1.8v1.8h-1.8zM247.1 168.2h1.8v1.8h-1.8zM235.4 190.9h1.8v1.8h-1.8zM206.3 224.6h1.8v1.8h-1.8zM217.0 216.4h1.8v1.8h-1.8zM195.5 225.7h1.8v1.8h-1.8zM228.9 191.0h1.8v1.8h-1.8zM267.3 155.5h1.8v1.8h-1.8zM301.8 122.9h1.8v1.8h-1.8zM256.5 171.0h1.8v1.8h-1.8zM249.5 191.3h1.8v1.8h-1.8zM187.8 234.0h1.8v1.8h-1.8zM236.5 198.1h1.8v1.8h-1.8zM257.4 178.6h1.8v1.8h-1.8zM223.1 196.9h1.8v1.8h-1.8zM252.6 170.1h1.8v1.8h-1.8zM179.9 256.6h1.8v1.8h-1.8zM246.2 178.6h1.8v1.8h-1.8zM297.1 131.0h1.8v1.8h-1.8zM268.5 161.6h1.8v1.8h-1.8zM212.8 207.3h1.8v1.8h-1.8zM241.4 186.1h1.8v1.8h-1.8zM284.8 135.7h1.8v1.8h-1.8zM264.2 176.2h1.8v1.8h-1.8zM217.5 203.3h1.8v1.8h-1.8zM257.3 171.2h1.8v1.8h-1.8zM243.7 184.7h1.8v1.8h-1.8zM214.2 216.8h1.8v1.8h-1.8zM214.9 216.4h1.8v1.8h-1.8zM216.6 211.4h1.8v1.8h-1.8zM274.9 151.1h1.8v1.8h-1.8zM246.8 179.5h1.8v1.8h-1.8zM248.1 169.6h1.8v1.8h-1.8zM265.7 180.4h1.8v1.8h-1.8zM238.4 194.1h1.8v1.8h-1.8zM210.1 207.3h1.8v1.8h-1.8zM295.8 135.2h1.8v1.8h-1.8zM245.4 183.8h1.8v1.8h-1.8zM214.9 227.3h1.8v1.8h-1.8zM241.7 187.9h1.8v1.8h-1.8zM239.8 184.3h1.8v1.8h-1.8zM319.4 110.8h1.8v1.8h-1.8zM239.1 185.0h1.8v1.8h-1.8zM177.5 257.3h1.8v1.8h-1.8zM274.8 152.8h1.8v1.8h-1.8zM237.7 183.1h1.8v1.8h-1.8zM244.0 182.0h1.8v1.8h-1.8zM223.6 198.7h1.8v1.8h-1.8zM218.9 197.8h1.8v1.8h-1.8zM236.0 199.7h1.8v1.8h-1.8zM197.4 228.8h1.8v1.8h-1.8zM243.8 203.2h1.8v1.8h-1.8zM296.2 126.3h1.8v1.8h-1.8zM280.4 154.1h1.8v1.8h-1.8zM250.0 178.9h1.8v1.8h-1.8zM249.8 180.9h1.8v1.8h-1.8zM252.8 173.8h1.8v1.8h-1.8zM171.1 263.5h1.8v1.8h-1.8zM147.9 273.4h1.8v1.8h-1.8zM270.1 150.9h1.8v1.8h-1.8zM263.8 164.0h1.8v1.8h-1.8zM126.0 299.8h1.8v1.8h-1.8zM262.6 150.1h1.8v1.8h-1.8zM233.7 204.7h1.8v1.8h-1.8zM216.7 209.4h1.8v1.8h-1.8zM242.1 180.4h1.8v1.8h-1.8zM215.9 201.3h1.8v1.8h-1.8zM195.6 232.1h1.8v1.8h-1.8zM262.4 175.0h1.8v1.8h-1.8zM216.6 207.6h1.8v1.8h-1.8zM224.5 208.9h1.8v1.8h-1.8zM196.1 229.8h1.8v1.8h-1.8zM265.5 169.5h1.8v1.8h-1.8zM266.1 173.8h1.8v1.8h-1.8zM213.7 217.5h1.8v1.8h-1.8zM236.2 184.3h1.8v1.8h-1.8zM290.6 138.6h1.8v1.8h-1.8zM225.1 202.7h1.8v1.8h-1.8zM228.5 182.8h1.8v1.8h-1.8zM221.2 192.8h1.8v1.8h-1.8zM232.2 185.9h1.8v1.8h-1.8zM159.5 267.1h1.8v1.8h-1.8zM280.1 149.2h1.8v1.8h-1.8zM228.6 212.5h1.8v1.8h-1.8zM235.5 185.6h1.8v1.8h-1.8zM205.8 224.8h1.8v1.8h-1.8zM202.5 222.8h1.8v1.8h-1.8zM277.7 156.8h1.8v1.8h-1.8zM222.0 199.8h1.8v1.8h-1.8zM222.7 205.9h1.8v1.8h-1.8zM223.0 203.4h1.8v1.8h-1.8zM213.4 218.3h1.8v1.8h-1.8zM251.0 183.6h1.8v1.8h-1.8zM262.0 169.6h1.8v1.8h-1.8zM208.0 217.1h1.8v1.8h-1.8zM222.4 209.9h1.8v1.8h-1.8zM196.8 227.4h1.8v1.8h-1.8zM246.4 186.6h1.8v1.8h-1.8zM221.9 182.1h1.8v1.8h-1.8zM274.4 159.7h1.8v1.8h-1.8zM303.0 131.1h1.8v1.8h-1.8zM261.1 171.9h1.8v1.8h-1.8zM204.6 223.2h1.8v1.8h-1.8zM208.7 219.7h1.8v1.8h-1.8zM239.8 200.4h1.8v1.8h-1.8zM227.5 203.7h1.8v1.8h-1.8zM170.3 258.2h1.8v1.8h-1.8zM239.1 175.9h1.8v1.8h-1.8zM213.8 213.3h1.8v1.8h-1.8zM269.5 152.8h1.8v1.8h-1.8zM229.4 200.4h1.8v1.8h-1.8zM285.2 151.8h1.8v1.8h-1.8zM266.0 158.1h1.8v1.8h-1.8zM238.2 186.7h1.8v1.8h-1.8zM259.2 174.0h1.8v1.8h-1.8zM244.6 188.7h1.8v1.8h-1.8zM188.6 238.1h1.8v1.8h-1.8zM222.4 184.3h1.8v1.8h-1.8zM228.1 197.2h1.8v1.8h-1.8zM139.2 285.6h1.8v1.8h-1.8zM251.2 187.1h1.8v1.8h-1.8zM183.0 237.5h1.8v1.8h-1.8zM302.4 124.7h1.8v1.8h-1.8zM223.4 202.7h1.8v1.8h-1.8zM273.4 151.2h1.8v1.8h-1.8zM215.8 200.7h1.8v1.8h-1.8zM253.2 174.7h1.8v1.8h-1.8zM227.9 193.3h1.8v1.8h-1.8zM234.2 205.4h1.8v1.8h-1.8zM214.1 217.8h1.8v1.8h-1.8zM309.8 113.2h1.8v1.8h-1.8zM262.8 163.2h1.8v1.8h-1.8zM249.3 164.7h1.8v1.8h-1.8zM270.2 159.2h1.8v1.8h-1.8zM163.4 271.3h1.8v1.8h-1.8zM228.6 182.8h1.8v1.8h-1.8zM280.9 139.4h1.8v1.8h-1.8zM195.1 245.1h1.8v1.8h-1.8zM275.9 164.3h1.8v1.8h-1.8zM204.0 223.7h1.8v1.8h-1.8zM229.2 171.9h1.8v1.8h-1.8zM259.4 178.4h1.8v1.8h-1.8zM261.1 159.3h1.8v1.8h-1.8zM250.3 171.5h1.8v1.8h-1.8zM224.1 193.7h1.8v1.8h-1.8zM154.1 273.3h1.8v1.8h-1.8zM248.0 173.9h1.8v1.8h-1.8zM259.3 167.0h1.8v1.8h-1.8zM219.7 210.4h1.8v1.8h-1.8zM262.7 159.0h1.8v1.8h-1.8zM286.3 151.6h1.8v1.8h-1.8zM297.8 135.0h1.8v1.8h-1.8zM224.6 197.0h1.8v1.8h-1.8zM254.2 189.7h1.8v1.8h-1.8zM248.0 183.0h1.8v1.8h-1.8zM258.7 173.1h1.8v1.8h-1.8zM217.1 217.0h1.8v1.8h-1.8zM178.2 246.3h1.8v1.8h-1.8zM296.6 133.3h1.8v1.8h-1.8zM228.8 197.0h1.8v1.8h-1.8zM292.5 138.6h1.8v1.8h-1.8zM233.8 192.6h1.8v1.8h-1.8zM248.2 169.2h1.8v1.8h-1.8zM271.2 139.6h1.8v1.8h-1.8zM238.4 180.5h1.8v1.8h-1.8zM257.7 176.7h1.8v1.8h-1.8zM221.8 210.4h1.8v1.8h-1.8zM258.5 171.2h1.8v1.8h-1.8zM254.4 163.2h1.8v1.8h-1.8zM214.2 191.5h1.8v1.8h-1.8zM279.7 150.5h1.8v1.8h-1.8zM182.6 243.7h1.8v1.8h-1.8zM196.6 224.4h1.8v1.8h-1.8zM245.6 172.0h1.8v1.8h-1.8zM264.7 170.2h1.8v1.8h-1.8zM176.4 252.8h1.8v1.8h-1.8zM222.3 203.8h1.8v1.8h-1.8zM184.1 241.6h1.8v1.8h-1.8zM297.3 129.2h1.8v1.8h-1.8zM227.2 188.7h1.8v1.8h-1.8zM206.6 236.8h1.8v1.8h-1.8zM215.5 201.3h1.8v1.8h-1.8zM236.8 188.6h1.8v1.8h-1.8zM217.5 204.9h1.8v1.8h-1.8zM225.0 191.6h1.8v1.8h-1.8zM224.0 195.0h1.8v1.8h-1.8zM215.6 203.7h1.8v1.8h-1.8zM232.7 199.0h1.8v1.8h-1.8zM234.2 185.3h1.8v1.8h-1.8zM307.6 116.1h1.8v1.8h-1.8zM260.9 174.4h1.8v1.8h-1.8zM263.7 159.9h1.8v1.8h-1.8zM228.0 187.2h1.8v1.8h-1.8zM207.8 196.9h1.8v1.8h-1.8zM231.2 188.7h1.8v1.8h-1.8zM158.7 268.8h1.8v1.8h-1.8zM239.3 180.6h1.8v1.8h-1.8zM242.0 190.6h1.8v1.8h-1.8zM193.6 245.9h1.8v1.8h-1.8zM272.9 149.7h1.8v1.8h-1.8zM266.6 168.3h1.8v1.8h-1.8zM261.2 167.4h1.8v1.8h-1.8zM253.5 187.2h1.8v1.8h-1.8zM316.4 112.8h1.8v1.8h-1.8zM263.6 159.7h1.8v1.8h-1.8zM211.4 205.3h1.8v1.8h-1.8zM201.9 223.6h1.8v1.8h-1.8zM283.6 141.3h1.8v1.8h-1.8zM230.1 207.9h1.8v1.8h-1.8zM233.9 167.2h1.8v1.8h-1.8zM251.2 172.1h1.8v1.8h-1.8zM237.8 194.3h1.8v1.8h-1.8zM264.1 167.6h1.8v1.8h-1.8zM270.3 157.7h1.8v1.8h-1.8zM243.3 191.2h1.8v1.8h-1.8zM235.0 194.9h1.8v1.8h-1.8zM279.1 152.9h1.8v1.8h-1.8zM211.3 216.6h1.8v1.8h-1.8zM264.4 166.6h1.8v1.8h-1.8zM214.5 210.1h1.8v1.8h-1.8zM275.5 151.6h1.8v1.8h-1.8zM216.5 206.2h1.8v1.8h-1.8zM266.3 157.3h1.8v1.8h-1.8zM220.4 190.9h1.8v1.8h-1.8zM250.8 182.2h1.8v1.8h-1.8zM317.9 111.9h1.8v1.8h-1.8zM211.5 223.8h1.8v1.8h-1.8zM222.5 188.8h1.8v1.8h-1.8zM286.9 143.8h1.8v1.8h-1.8zM198.3 227.9h1.8v1.8h-1.8zM274.4 150.2h1.8v1.8h-1.8zM213.8 213.0h1.8v1.8h-1.8zM179.3 256.0h1.8v1.8h-1.8zM187.7 233.4h1.8v1.8h-1.8zM179.0 247.4h1.8v1.8h-1.8zM232.2 179.8h1.8v1.8h-1.8zM178.0 244.4h1.8v1.8h-1.8zM163.1 265.8h1.8v1.8h-1.8zM252.4 181.3h1.8v1.8h-1.8zM213.3 209.7h1.8v1.8h-1.8zM232.3 202.6h1.8v1.8h-1.8zM211.9 213.5h1.8v1.8h-1.8zM216.8 209.4h1.8v1.8h-1.8zM211.4 218.8h1.8v1.8h-1.8zM223.3 194.2h1.8v1.8h-1.8zM283.2 138.7h1.8v1.8h-1.8zM256.5 164.4h1.8v1.8h-1.8zM223.9 192.1h1.8v1.8h-1.8zM247.0 180.0h1.8v1.8h-1.8zM265.7 163.7h1.8v1.8h-1.8zM208.4 219.1h1.8v1.8h-1.8zM261.3 166.4h1.8v1.8h-1.8zM277.7 154.2h1.8v1.8h-1.8zM262.6 166.0h1.8v1.8h-1.8zM226.8 189.5h1.8v1.8h-1.8zM282.5 154.4h1.8v1.8h-1.8zM180.8 242.6h1.8v1.8h-1.8zM304.3 120.0h1.8v1.8h-1.8zM271.9 156.4h1.8v1.8h-1.8zM315.5 113.5h1.8v1.8h-1.8zM199.4 227.9h1.8v1.8h-1.8zM231.9 175.4h1.8v1.8h-1.8zM231.2 186.8h1.8v1.8h-1.8zM249.9 181.9h1.8v1.8h-1.8zM287.4 144.3h1.8v1.8h-1.8zM210.9 208.1h1.8v1.8h-1.8zM247.6 177.8h1.8v1.8h-1.8zM154.6 271.2h1.8v1.8h-1.8zM188.7 236.3h1.8v1.8h-1.8zM236.6 185.8h1.8v1.8h-1.8zM242.4 182.9h1.8v1.8h-1.8zM274.6 154.1h1.8v1.8h-1.8zM176.1 250.5h1.8v1.8h-1.8zM198.4 232.8h1.8v1.8h-1.8zM238.8 188.3h1.8v1.8h-1.8zM212.5 215.1h1.8v1.8h-1.8zM246.1 176.5h1.8v1.8h-1.8zM275.9 147.5h1.8v1.8h-1.8zM268.2 158.4h1.8v1.8h-1.8zM246.1 161.0h1.8v1.8h-1.8zM212.0 214.1h1.8v1.8h-1.8zM286.4 143.4h1.8v1.8h-1.8zM212.9 214.5h1.8v1.8h-1.8zM278.7 158.4h1.8v1.8h-1.8zM244.1 181.2h1.8v1.8h-1.8zM264.1 172.8h1.8v1.8h-1.8zM232.3 196.4h1.8v1.8h-1.8zM168.3 263.3h1.8v1.8h-1.8zM223.4 200.3h1.8v1.8h-1.8zM254.8 177.5h1.8v1.8h-1.8zM239.2 195.7h1.8v1.8h-1.8zM245.1 186.8h1.8v1.8h-1.8zM195.7 240.9h1.8v1.8h-1.8zM165.5 255.5h1.8v1.8h-1.8zM251.8 179.2h1.8v1.8h-1.8zM269.3 172.3h1.8v1.8h-1.8zM197.8 233.5h1.8v1.8h-1.8zM167.8 262.9h1.8v1.8h-1.8zM178.2 246.6h1.8v1.8h-1.8zM273.8 156.2h1.8v1.8h-1.8zM197.4 229.3h1.8v1.8h-1.8zM210.6 218.2h1.8v1.8h-1.8zM200.3 235.5h1.8v1.8h-1.8zM247.8 185.8h1.8v1.8h-1.8zM232.0 201.3h1.8v1.8h-1.8zM220.1 200.5h1.8v1.8h-1.8zM219.7 201.2h1.8v1.8h-1.8zM281.3 141.1h1.8v1.8h-1.8zM281.5 150.6h1.8v1.8h-1.8zM229.5 186.9h1.8v1.8h-1.8zM281.7 152.4h1.8v1.8h-1.8zM212.0 213.6h1.8v1.8h-1.8zM260.3 156.9h1.8v1.8h-1.8zM202.8 230.8h1.8v1.8h-1.8zM202.1 215.2h1.8v1.8h-1.8zM262.3 160.7h1.8v1.8h-1.8zM299.6 130.4h1.8v1.8h-1.8zM259.9 184.2h1.8v1.8h-1.8zM253.5 174.6h1.8v1.8h-1.8zM198.0 226.3h1.8v1.8h-1.8zM254.0 172.5h1.8v1.8h-1.8zM240.9 180.7h1.8v1.8h-1.8zM218.8 215.0h1.8v1.8h-1.8zM277.7 150.1h1.8v1.8h-1.8zM260.0 176.0h1.8v1.8h-1.8zM266.1 157.5h1.8v1.8h-1.8zM118.9 303.5h1.8v1.8h-1.8zM134.4 289.1h1.8v1.8h-1.8zM252.5 200.6h1.8v1.8h-1.8zM250.8 164.9h1.8v1.8h-1.8zM277.7 151.6h1.8v1.8h-1.8zM224.2 195.1h1.8v1.8h-1.8zM261.7 170.9h1.8v1.8h-1.8zM258.0 174.7h1.8v1.8h-1.8zM206.6 199.8h1.8v1.8h-1.8zM192.1 232.9h1.8v1.8h-1.8zM262.3 168.8h1.8v1.8h-1.8zM268.0 164.0h1.8v1.8h-1.8zM173.2 255.7h1.8v1.8h-1.8zM268.3 149.3h1.8v1.8h-1.8zM221.0 198.9h1.8v1.8h-1.8zM239.6 186.9h1.8v1.8h-1.8zM195.0 234.4h1.8v1.8h-1.8zM235.0 178.5h1.8v1.8h-1.8zM219.2 196.6h1.8v1.8h-1.8zM253.8 181.9h1.8v1.8h-1.8zM248.7 172.1h1.8v1.8h-1.8zM265.5 161.1h1.8v1.8h-1.8zM252.8 188.8h1.8v1.8h-1.8zM159.4 267.7h1.8v1.8h-1.8zM235.5 200.8h1.8v1.8h-1.8zM178.4 243.9h1.8v1.8h-1.8zM327.4 101.6h1.8v1.8h-1.8zM207.5 204.9h1.8v1.8h-1.8zM237.4 188.1h1.8v1.8h-1.8zM224.7 192.8h1.8v1.8h-1.8zM335.4 98.3h1.8v1.8h-1.8zM221.6 200.8h1.8v1.8h-1.8zM198.2 225.9h1.8v1.8h-1.8zM247.5 173.6h1.8v1.8h-1.8zM238.3 190.2h1.8v1.8h-1.8zM210.4 221.5h1.8v1.8h-1.8zM193.1 230.3h1.8v1.8h-1.8zM289.2 144.0h1.8v1.8h-1.8zM216.4 213.0h1.8v1.8h-1.8zM243.3 190.4h1.8v1.8h-1.8zM203.3 221.0h1.8v1.8h-1.8zM191.8 232.6h1.8v1.8h-1.8zM284.0 138.5h1.8v1.8h-1.8zM204.7 215.4h1.8v1.8h-1.8zM217.4 201.8h1.8v1.8h-1.8zM224.6 214.9h1.8v1.8h-1.8zM296.5 133.7h1.8v1.8h-1.8zM223.5 211.8h1.8v1.8h-1.8zM171.2 252.6h1.8v1.8h-1.8zM207.9 231.0h1.8v1.8h-1.8zM213.3 207.3h1.8v1.8h-1.8zM209.8 215.6h1.8v1.8h-1.8zM222.3 189.2h1.8v1.8h-1.8zM261.6 163.8h1.8v1.8h-1.8zM182.3 246.5h1.8v1.8h-1.8zM270.1 155.1h1.8v1.8h-1.8zM221.5 197.2h1.8v1.8h-1.8zM308.1 122.6h1.8v1.8h-1.8zM252.8 184.3h1.8v1.8h-1.8zM268.3 174.3h1.8v1.8h-1.8zM225.5 184.5h1.8v1.8h-1.8zM224.8 192.4h1.8v1.8h-1.8zM231.5 202.0h1.8v1.8h-1.8zM272.9 150.7h1.8v1.8h-1.8zM225.9 185.2h1.8v1.8h-1.8zM217.6 217.9h1.8v1.8h-1.8zM283.8 149.2h1.8v1.8h-1.8zM226.4 204.8h1.8v1.8h-1.8zM282.0 151.9h1.8v1.8h-1.8zM219.5 207.4h1.8v1.8h-1.8zM237.4 204.2h1.8v1.8h-1.8zM209.3 211.3h1.8v1.8h-1.8zM255.9 175.4h1.8v1.8h-1.8zM250.0 175.3h1.8v1.8h-1.8zM196.3 235.1h1.8v1.8h-1.8zM265.5 171.4h1.8v1.8h-1.8zM244.3 183.4h1.8v1.8h-1.8zM168.9 252.5h1.8v1.8h-1.8zM246.4 198.2h1.8v1.8h-1.8zM276.7 159.5h1.8v1.8h-1.8zM191.1 244.0h1.8v1.8h-1.8zM179.5 246.3h1.8v1.8h-1.8zM324.4 107.2h1.8v1.8h-1.8zM288.6 138.0h1.8v1.8h-1.8zM229.3 184.2h1.8v1.8h-1.8zM237.3 180.3h1.8v1.8h-1.8zM233.2 190.8h1.8v1.8h-1.8zM262.8 169.3h1.8v1.8h-1.8zM177.0 242.1h1.8v1.8h-1.8zM170.2 261.1h1.8v1.8h-1.8zM228.6 194.7h1.8v1.8h-1.8zM243.9 184.2h1.8v1.8h-1.8zM272.9 150.6h1.8v1.8h-1.8zM142.7 287.2h1.8v1.8h-1.8zM186.5 247.6h1.8v1.8h-1.8zM259.6 165.4h1.8v1.8h-1.8zM238.5 180.3h1.8v1.8h-1.8zM224.9 198.1h1.8v1.8h-1.8zM195.1 230.1h1.8v1.8h-1.8zM259.6 193.1h1.8v1.8h-1.8zM270.9 158.3h1.8v1.8h-1.8zM207.2 223.3h1.8v1.8h-1.8zM264.2 164.2h1.8v1.8h-1.8zM281.2 148.9h1.8v1.8h-1.8zM221.6 205.8h1.8v1.8h-1.8zM284.4 146.2h1.8v1.8h-1.8zM219.5 210.2h1.8v1.8h-1.8zM260.5 161.3h1.8v1.8h-1.8zM229.4 199.0h1.8v1.8h-1.8zM232.6 191.2h1.8v1.8h-1.8zM237.8 181.2h1.8v1.8h-1.8zM171.5 256.0h1.8v1.8h-1.8zM186.4 242.9h1.8v1.8h-1.8zM298.6 130.8h1.8v1.8h-1.8zM227.3 198.8h1.8v1.8h-1.8zM203.9 226.3h1.8v1.8h-1.8zM192.4 230.7h1.8v1.8h-1.8zM163.7 264.8h1.8v1.8h-1.8zM261.4 180.0h1.8v1.8h-1.8zM213.0 213.8h1.8v1.8h-1.8zM208.1 205.6h1.8v1.8h-1.8zM230.4 196.5h1.8v1.8h-1.8zM274.9 149.4h1.8v1.8h-1.8zM255.7 177.2h1.8v1.8h-1.8zM316.9 111.3h1.8v1.8h-1.8zM267.0 159.8h1.8v1.8h-1.8zM277.1 157.4h1.8v1.8h-1.8zM223.1 207.2h1.8v1.8h-1.8zM168.7 255.9h1.8v1.8h-1.8zM218.5 215.6h1.8v1.8h-1.8zM266.1 159.9h1.8v1.8h-1.8zM216.4 205.4h1.8v1.8h-1.8zM181.5 249.7h1.8v1.8h-1.8zM226.9 189.8h1.8v1.8h-1.8zM210.1 221.1h1.8v1.8h-1.8zM254.5 166.4h1.8v1.8h-1.8zM208.2 218.2h1.8v1.8h-1.8zM212.7 214.1h1.8v1.8h-1.8zM222.0 203.4h1.8v1.8h-1.8zM266.8 155.0h1.8v1.8h-1.8zM152.9 274.9h1.8v1.8h-1.8zM257.7 164.2h1.8v1.8h-1.8zM260.4 168.5h1.8v1.8h-1.8zM269.0 168.8h1.8v1.8h-1.8zM242.0 176.5h1.8v1.8h-1.8zM240.5 171.2h1.8v1.8h-1.8zM266.6 160.7h1.8v1.8h-1.8zM255.5 160.2h1.8v1.8h-1.8zM170.3 252.5h1.8v1.8h-1.8zM240.9 191.0h1.8v1.8h-1.8zM208.0 225.7h1.8v1.8h-1.8zM231.4 188.1h1.8v1.8h-1.8zM134.3 295.3h1.8v1.8h-1.8zM265.8 164.2h1.8v1.8h-1.8zM187.4 236.4h1.8v1.8h-1.8zM259.3 178.3h1.8v1.8h-1.8zM172.0 254.1h1.8v1.8h-1.8zM229.3 208.5h1.8v1.8h-1.8zM195.1 222.6h1.8v1.8h-1.8zM219.9 209.9h1.8v1.8h-1.8zM231.8 198.0h1.8v1.8h-1.8zM240.2 203.0h1.8v1.8h-1.8zM284.6 138.1h1.8v1.8h-1.8zM206.1 210.0h1.8v1.8h-1.8zM245.8 184.2h1.8v1.8h-1.8zM319.7 111.1h1.8v1.8h-1.8zM218.1 206.9h1.8v1.8h-1.8zM267.7 161.9h1.8v1.8h-1.8zM268.1 166.1h1.8v1.8h-1.8zM218.3 225.2h1.8v1.8h-1.8zM257.9 166.6h1.8v1.8h-1.8zM261.1 162.2h1.8v1.8h-1.8zM248.8 178.3h1.8v1.8h-1.8zM238.9 200.0h1.8v1.8h-1.8zM218.7 221.5h1.8v1.8h-1.8zM301.5 130.9h1.8v1.8h-1.8zM273.2 150.4h1.8v1.8h-1.8zM239.3 185.1h1.8v1.8h-1.8zM261.0 155.7h1.8v1.8h-1.8zM184.0 232.5h1.8v1.8h-1.8zM321.7 108.8h1.8v1.8h-1.8zM261.3 165.2h1.8v1.8h-1.8zM236.5 182.0h1.8v1.8h-1.8zM286.4 142.2h1.8v1.8h-1.8zM210.3 207.5h1.8v1.8h-1.8zM261.1 168.1h1.8v1.8h-1.8zM225.7 199.4h1.8v1.8h-1.8zM206.0 210.6h1.8v1.8h-1.8zM286.9 143.8h1.8v1.8h-1.8zM162.6 261.1h1.8v1.8h-1.8zM240.3 177.7h1.8v1.8h-1.8zM221.8 201.3h1.8v1.8h-1.8zM264.9 162.3h1.8v1.8h-1.8zM251.8 183.4h1.8v1.8h-1.8zM271.4 144.2h1.8v1.8h-1.8zM217.6 198.6h1.8v1.8h-1.8zM270.3 152.8h1.8v1.8h-1.8zM223.6 205.7h1.8v1.8h-1.8zM322.7 104.3h1.8v1.8h-1.8zM278.4 156.4h1.8v1.8h-1.8zM281.7 145.5h1.8v1.8h-1.8zM154.4 267.0h1.8v1.8h-1.8zM235.3 209.2h1.8v1.8h-1.8zM253.9 171.6h1.8v1.8h-1.8zM205.4 227.4h1.8v1.8h-1.8zM229.6 183.6h1.8v1.8h-1.8zM224.2 217.4h1.8v1.8h-1.8zM205.0 216.7h1.8v1.8h-1.8zM222.4 217.0h1.8v1.8h-1.8zM241.6 182.0h1.8v1.8h-1.8zM225.9 198.2h1.8v1.8h-1.8zM273.9 152.3h1.8v1.8h-1.8zM270.9 150.3h1.8v1.8h-1.8zM181.3 246.8h1.8v1.8h-1.8zM325.7 100.2h1.8v1.8h-1.8zM198.6 222.3h1.8v1.8h-1.8zM203.4 216.6h1.8v1.8h-1.8zM229.6 202.9h1.8v1.8h-1.8zM188.8 238.8h1.8v1.8h-1.8zM209.2 213.5h1.8v1.8h-1.8zM222.1 212.1h1.8v1.8h-1.8zM293.1 140.8h1.8v1.8h-1.8zM213.4 200.5h1.8v1.8h-1.8zM189.1 241.3h1.8v1.8h-1.8zM290.5 136.6h1.8v1.8h-1.8zM267.0 175.0h1.8v1.8h-1.8zM191.8 236.5h1.8v1.8h-1.8zM271.2 156.2h1.8v1.8h-1.8zM254.9 174.0h1.8v1.8h-1.8zM252.1 174.1h1.8v1.8h-1.8zM261.4 164.3h1.8v1.8h-1.8zM231.3 186.7h1.8v1.8h-1.8zM241.3 181.2h1.8v1.8h-1.8zM215.8 201.1h1.8v1.8h-1.8zM229.6 205.8h1.8v1.8h-1.8zM148.5 277.7h1.8v1.8h-1.8zM228.5 173.0h1.8v1.8h-1.8zM190.7 231.2h1.8v1.8h-1.8zM289.6 132.8h1.8v1.8h-1.8zM211.4 215.3h1.8v1.8h-1.8zM229.4 197.2h1.8v1.8h-1.8zM235.2 184.5h1.8v1.8h-1.8zM247.7 193.9h1.8v1.8h-1.8zM175.2 254.0h1.8v1.8h-1.8zM256.0 170.6h1.8v1.8h-1.8zM264.4 163.9h1.8v1.8h-1.8zM204.1 217.2h1.8v1.8h-1.8zM287.2 137.7h1.8v1.8h-1.8zM237.1 188.2h1.8v1.8h-1.8zM189.1 249.4h1.8v1.8h-1.8zM224.5 204.0h1.8v1.8h-1.8zM220.1 194.6h1.8v1.8h-1.8zM242.8 188.5h1.8v1.8h-1.8zM233.0 178.4h1.8v1.8h-1.8zM221.6 207.7h1.8v1.8h-1.8zM213.5 212.0h1.8v1.8h-1.8zM246.8 179.7h1.8v1.8h-1.8zM265.6 161.9h1.8v1.8h-1.8zM212.1 208.2h1.8v1.8h-1.8zM220.6 213.7h1.8v1.8h-1.8zM224.9 205.6h1.8v1.8h-1.8zM210.6 223.6h1.8v1.8h-1.8zM231.9 179.5h1.8v1.8h-1.8zM206.0 224.7h1.8v1.8h-1.8zM127.7 295.7h1.8v1.8h-1.8zM188.3 234.9h1.8v1.8h-1.8zM200.4 221.9h1.8v1.8h-1.8zM191.7 229.2h1.8v1.8h-1.8zM262.0 161.5h1.8v1.8h-1.8zM200.4 231.4h1.8v1.8h-1.8zM179.8 252.7h1.8v1.8h-1.8zM257.0 156.6h1.8v1.8h-1.8zM276.3 153.0h1.8v1.8h-1.8zM268.5 159.3h1.8v1.8h-1.8zM260.9 169.9h1.8v1.8h-1.8zM316.3 107.5h1.8v1.8h-1.8zM310.2 120.1h1.8v1.8h-1.8zM276.5 150.8h1.8v1.8h-1.8zM193.0 242.8h1.8v1.8h-1.8zM295.0 134.4h1.8v1.8h-1.8zM189.1 244.6h1.8v1.8h-1.8zM187.5 244.3h1.8v1.8h-1.8zM266.8 152.9h1.8v1.8h-1.8zM223.2 203.5h1.8v1.8h-1.8zM219.2 195.6h1.8v1.8h-1.8zM223.3 203.3h1.8v1.8h-1.8zM224.6 202.0h1.8v1.8h-1.8zM275.8 157.9h1.8v1.8h-1.8zM194.7 227.2h1.8v1.8h-1.8zM270.2 153.3h1.8v1.8h-1.8zM167.1 256.8h1.8v1.8h-1.8zM241.4 195.3h1.8v1.8h-1.8zM206.3 216.7h1.8v1.8h-1.8zM247.7 184.6h1.8v1.8h-1.8zM206.4 217.9h1.8v1.8h-1.8zM177.9 252.1h1.8v1.8h-1.8zM160.3 265.9h1.8v1.8h-1.8zM221.8 213.2h1.8v1.8h-1.8zM213.0 205.6h1.8v1.8h-1.8zM217.9 206.0h1.8v1.8h-1.8zM272.2 170.7h1.8v1.8h-1.8zM235.5 184.7h1.8v1.8h-1.8zM242.2 181.3h1.8v1.8h-1.8zM192.1 232.7h1.8v1.8h-1.8zM189.1 236.4h1.8v1.8h-1.8zM203.7 222.0h1.8v1.8h-1.8zM289.1 141.9h1.8v1.8h-1.8zM272.6 145.7h1.8v1.8h-1.8zM242.2 173.0h1.8v1.8h-1.8zM210.7 209.9h1.8v1.8h-1.8zM250.8 174.4h1.8v1.8h-1.8zM260.4 175.5h1.8v1.8h-1.8zM237.0 190.3h1.8v1.8h-1.8zM242.9 175.8h1.8v1.8h-1.8zM258.2 164.7h1.8v1.8h-1.8zM245.7 187.6h1.8v1.8h-1.8zM290.2 139.5h1.8v1.8h-1.8zM211.7 205.4h1.8v1.8h-1.8zM204.2 221.5h1.8v1.8h-1.8zM182.6 245.0h1.8v1.8h-1.8zM210.9 219.6h1.8v1.8h-1.8zM238.2 180.9h1.8v1.8h-1.8zM242.1 176.0h1.8v1.8h-1.8zM237.5 176.3h1.8v1.8h-1.8zM219.3 207.9h1.8v1.8h-1.8zM250.1 170.2h1.8v1.8h-1.8zM254.4 167.4h1.8v1.8h-1.8zM228.3 195.5h1.8v1.8h-1.8zM201.0 214.8h1.8v1.8h-1.8zM307.1 124.6h1.8v1.8h-1.8zM222.5 201.5h1.8v1.8h-1.8zM160.8 266.0h1.8v1.8h-1.8zM254.4 163.8h1.8v1.8h-1.8zM258.6 164.0h1.8v1.8h-1.8zM243.8 175.5h1.8v1.8h-1.8zM188.4 238.2h1.8v1.8h-1.8zM303.1 120.4h1.8v1.8h-1.8zM199.8 224.9h1.8v1.8h-1.8zM281.0 149.3h1.8v1.8h-1.8zM243.0 158.0h1.8v1.8h-1.8zM190.4 235.7h1.8v1.8h-1.8zM149.9 278.7h1.8v1.8h-1.8zM243.6 178.4h1.8v1.8h-1.8zM192.8 223.1h1.8v1.8h-1.8zM203.9 227.7h1.8v1.8h-1.8zM232.4 195.8h1.8v1.8h-1.8zM215.4 199.1h1.8v1.8h-1.8zM235.4 174.6h1.8v1.8h-1.8zM173.8 251.7h1.8v1.8h-1.8zM227.7 200.1h1.8v1.8h-1.8zM231.0 199.0h1.8v1.8h-1.8zM239.8 179.7h1.8v1.8h-1.8zM261.7 161.8h1.8v1.8h-1.8zM217.4 200.4h1.8v1.8h-1.8zM216.7 206.1h1.8v1.8h-1.8zM233.1 191.8h1.8v1.8h-1.8zM227.4 211.7h1.8v1.8h-1.8zM224.3 192.1h1.8v1.8h-1.8zM245.2 177.2h1.8v1.8h-1.8zM300.6 135.1h1.8v1.8h-1.8zM153.0 277.8h1.8v1.8h-1.8zM271.7 161.1h1.8v1.8h-1.8zM236.8 190.1h1.8v1.8h-1.8zM154.4 273.4h1.8v1.8h-1.8zM214.9 210.4h1.8v1.8h-1.8zM308.4 121.6h1.8v1.8h-1.8zM282.1 139.8h1.8v1.8h-1.8zM211.3 210.7h1.8v1.8h-1.8zM282.9 144.8h1.8v1.8h-1.8zM215.8 211.2h1.8v1.8h-1.8zM237.4 182.4h1.8v1.8h-1.8zM204.8 210.6h1.8v1.8h-1.8zM217.2 207.2h1.8v1.8h-1.8zM253.9 181.4h1.8v1.8h-1.8zM346.1 88.1h1.8v1.8h-1.8zM228.8 205.3h1.8v1.8h-1.8zM196.0 236.4h1.8v1.8h-1.8zM188.2 241.4h1.8v1.8h-1.8zM262.3 172.0h1.8v1.8h-1.8zM208.0 227.6h1.8v1.8h-1.8zM230.6 194.3h1.8v1.8h-1.8zM265.3 164.8h1.8v1.8h-1.8zM252.4 169.8h1.8v1.8h-1.8zM202.7 227.5h1.8v1.8h-1.8zM225.1 207.9h1.8v1.8h-1.8zM239.9 194.7h1.8v1.8h-1.8zM258.8 167.1h1.8v1.8h-1.8zM218.9 196.1h1.8v1.8h-1.8zM250.8 162.8h1.8v1.8h-1.8zM239.1 176.3h1.8v1.8h-1.8zM140.4 287.7h1.8v1.8h-1.8zM223.4 200.4h1.8v1.8h-1.8zM222.8 196.0h1.8v1.8h-1.8zM243.9 179.5h1.8v1.8h-1.8zM257.5 164.1h1.8v1.8h-1.8zM200.8 226.2h1.8v1.8h-1.8zM294.9 134.7h1.8v1.8h-1.8zM254.6 170.9h1.8v1.8h-1.8zM208.0 215.4h1.8v1.8h-1.8zM180.3 252.3h1.8v1.8h-1.8zM162.7 264.4h1.8v1.8h-1.8zM239.9 186.7h1.8v1.8h-1.8zM217.0 204.8h1.8v1.8h-1.8zM250.0 164.0h1.8v1.8h-1.8zM246.6 179.8h1.8v1.8h-1.8zM195.8 235.0h1.8v1.8h-1.8zM250.5 186.3h1.8v1.8h-1.8zM245.1 176.9h1.8v1.8h-1.8zM269.8 154.1h1.8v1.8h-1.8zM280.1 152.4h1.8v1.8h-1.8zM255.5 161.9h1.8v1.8h-1.8zM207.5 215.8h1.8v1.8h-1.8zM244.8 177.0h1.8v1.8h-1.8zM245.8 181.8h1.8v1.8h-1.8zM268.2 166.6h1.8v1.8h-1.8zM208.5 210.0h1.8v1.8h-1.8zM251.8 178.8h1.8v1.8h-1.8zM263.0 163.1h1.8v1.8h-1.8zM219.1 184.6h1.8v1.8h-1.8zM245.8 185.3h1.8v1.8h-1.8zM243.3 176.1h1.8v1.8h-1.8zM220.6 202.1h1.8v1.8h-1.8zM292.6 138.4h1.8v1.8h-1.8zM289.2 138.0h1.8v1.8h-1.8zM163.5 261.8h1.8v1.8h-1.8zM187.6 247.8h1.8v1.8h-1.8zM274.2 151.1h1.8v1.8h-1.8zM203.7 228.4h1.8v1.8h-1.8zM238.0 192.5h1.8v1.8h-1.8zM219.0 209.3h1.8v1.8h-1.8zM189.6 241.9h1.8v1.8h-1.8zM241.7 168.5h1.8v1.8h-1.8zM265.2 172.0h1.8v1.8h-1.8zM267.6 159.3h1.8v1.8h-1.8zM258.2 180.2h1.8v1.8h-1.8zM258.9 178.2h1.8v1.8h-1.8zM216.8 205.0h1.8v1.8h-1.8zM249.1 172.7h1.8v1.8h-1.8zM228.6 194.6h1.8v1.8h-1.8zM233.3 195.8h1.8v1.8h-1.8zM195.5 236.2h1.8v1.8h-1.8zM243.2 169.5h1.8v1.8h-1.8zM253.9 184.2h1.8v1.8h-1.8zM215.5 200.6h1.8v1.8h-1.8zM226.8 209.2h1.8v1.8h-1.8zM256.0 171.9h1.8v1.8h-1.8zM225.7 194.6h1.8v1.8h-1.8zM229.6 199.6h1.8v1.8h-1.8zM193.1 239.9h1.8v1.8h-1.8zM224.2 180.8h1.8v1.8h-1.8zM277.8 157.5h1.8v1.8h-1.8zM279.6 153.8h1.8v1.8h-1.8zM238.4 184.1h1.8v1.8h-1.8zM226.7 197.5h1.8v1.8h-1.8zM254.6 172.9h1.8v1.8h-1.8zM232.8 198.7h1.8v1.8h-1.8zM199.1 220.1h1.8v1.8h-1.8zM208.3 201.2h1.8v1.8h-1.8zM230.8 204.1h1.8v1.8h-1.8zM218.9 202.1h1.8v1.8h-1.8zM251.6 181.2h1.8v1.8h-1.8zM288.0 134.8h1.8v1.8h-1.8zM239.1 198.3h1.8v1.8h-1.8zM257.5 175.6h1.8v1.8h-1.8zM210.9 216.2h1.8v1.8h-1.8zM213.4 220.6h1.8v1.8h-1.8zM256.8 173.2h1.8v1.8h-1.8zM191.2 239.7h1.8v1.8h-1.8zM227.4 199.4h1.8v1.8h-1.8zM256.9 164.6h1.8v1.8h-1.8zM176.8 250.7h1.8v1.8h-1.8zM239.4 193.7h1.8v1.8h-1.8zM244.1 188.2h1.8v1.8h-1.8zM204.9 248.4h1.8v1.8h-1.8zM243.0 169.4h1.8v1.8h-1.8zM249.0 184.0h1.8v1.8h-1.8zM238.3 197.9h1.8v1.8h-1.8zM173.2 260.2h1.8v1.8h-1.8zM230.3 203.1h1.8v1.8h-1.8zM259.6 167.2h1.8v1.8h-1.8zM125.8 300.5h1.8v1.8h-1.8zM180.9 251.7h1.8v1.8h-1.8zM292.0 130.7h1.8v1.8h-1.8zM250.3 167.5h1.8v1.8h-1.8zM235.0 195.0h1.8v1.8h-1.8zM234.1 194.0h1.8v1.8h-1.8zM234.9 199.5h1.8v1.8h-1.8zM182.8 244.7h1.8v1.8h-1.8zM236.6 184.4h1.8v1.8h-1.8zM251.5 179.1h1.8v1.8h-1.8zM218.4 185.7h1.8v1.8h-1.8zM251.3 170.4h1.8v1.8h-1.8zM250.7 178.3h1.8v1.8h-1.8zM271.6 156.3h1.8v1.8h-1.8zM251.6 173.3h1.8v1.8h-1.8zM242.4 176.0h1.8v1.8h-1.8zM196.3 231.0h1.8v1.8h-1.8zM265.3 173.5h1.8v1.8h-1.8zM274.7 155.9h1.8v1.8h-1.8zM208.3 221.2h1.8v1.8h-1.8zM228.0 204.9h1.8v1.8h-1.8zM210.8 215.9h1.8v1.8h-1.8zM250.1 179.6h1.8v1.8h-1.8zM216.7 200.3h1.8v1.8h-1.8zM285.9 143.6h1.8v1.8h-1.8zM234.3 190.9h1.8v1.8h-1.8zM187.5 235.9h1.8v1.8h-1.8zM265.9 171.9h1.8v1.8h-1.8zM208.6 225.1h1.8v1.8h-1.8zM252.0 182.7h1.8v1.8h-1.8zM257.1 174.7h1.8v1.8h-1.8zM174.0 257.7h1.8v1.8h-1.8zM204.5 213.9h1.8v1.8h-1.8zM275.4 151.9h1.8v1.8h-1.8zM251.6 171.2h1.8v1.8h-1.8zM199.2 229.8h1.8v1.8h-1.8zM203.7 222.5h1.8v1.8h-1.8zM264.0 178.3h1.8v1.8h-1.8zM313.2 117.6h1.8v1.8h-1.8zM240.0 185.6h1.8v1.8h-1.8zM270.7 149.6h1.8v1.8h-1.8zM234.3 182.6h1.8v1.8h-1.8zM251.9 178.0h1.8v1.8h-1.8zM252.1 173.6h1.8v1.8h-1.8zM277.2 164.8h1.8v1.8h-1.8zM170.5 249.5h1.8v1.8h-1.8zM243.1 169.8h1.8v1.8h-1.8zM254.0 170.0h1.8v1.8h-1.8zM208.2 210.9h1.8v1.8h-1.8zM231.0 187.6h1.8v1.8h-1.8zM189.8 236.8h1.8v1.8h-1.8zM265.0 164.6h1.8v1.8h-1.8zM213.1 209.6h1.8v1.8h-1.8zM219.2 205.6h1.8v1.8h-1.8zM222.6 202.9h1.8v1.8h-1.8zM172.5 251.4h1.8v1.8h-1.8zM185.6 238.4h1.8v1.8h-1.8zM244.1 183.6h1.8v1.8h-1.8zM229.9 199.7h1.8v1.8h-1.8zM248.3 177.3h1.8v1.8h-1.8zM223.3 211.1h1.8v1.8h-1.8zM215.6 208.2h1.8v1.8h-1.8zM245.8 167.2h1.8v1.8h-1.8zM328.0 102.3h1.8v1.8h-1.8zM243.5 188.3h1.8v1.8h-1.8zM193.0 231.6h1.8v1.8h-1.8zM284.5 138.5h1.8v1.8h-1.8zM243.6 182.0h1.8v1.8h-1.8zM206.7 221.7h1.8v1.8h-1.8zM210.7 221.9h1.8v1.8h-1.8zM259.2 168.5h1.8v1.8h-1.8zM297.6 123.7h1.8v1.8h-1.8zM178.8 250.6h1.8v1.8h-1.8zM234.7 193.8h1.8v1.8h-1.8zM191.1 238.1h1.8v1.8h-1.8zM297.2 127.5h1.8v1.8h-1.8zM260.0 168.0h1.8v1.8h-1.8zM260.0 164.7h1.8v1.8h-1.8zM193.8 232.8h1.8v1.8h-1.8zM227.4 199.7h1.8v1.8h-1.8zM255.2 172.4h1.8v1.8h-1.8zM207.1 220.9h1.8v1.8h-1.8zM250.4 188.0h1.8v1.8h-1.8zM222.5 199.5h1.8v1.8h-1.8zM247.8 172.3h1.8v1.8h-1.8zM182.1 238.7h1.8v1.8h-1.8zM249.6 193.2h1.8v1.8h-1.8zM220.0 201.4h1.8v1.8h-1.8zM200.9 225.9h1.8v1.8h-1.8zM239.3 180.8h1.8v1.8h-1.8zM253.0 171.7h1.8v1.8h-1.8zM272.7 158.5h1.8v1.8h-1.8zM243.5 189.3h1.8v1.8h-1.8zM279.2 146.9h1.8v1.8h-1.8zM239.3 188.7h1.8v1.8h-1.8zM205.2 211.3h1.8v1.8h-1.8zM195.5 229.7h1.8v1.8h-1.8zM248.8 191.1h1.8v1.8h-1.8zM276.3 153.6h1.8v1.8h-1.8zM267.4 158.4h1.8v1.8h-1.8zM253.5 184.7h1.8v1.8h-1.8zM242.7 184.2h1.8v1.8h-1.8zM189.1 241.4h1.8v1.8h-1.8zM193.2 238.1h1.8v1.8h-1.8zM294.3 131.3h1.8v1.8h-1.8zM135.9 287.6h1.8v1.8h-1.8zM184.8 246.7h1.8v1.8h-1.8zM158.0 267.1h1.8v1.8h-1.8zM287.7 139.2h1.8v1.8h-1.8zM231.5 185.7h1.8v1.8h-1.8zM263.4 175.6h1.8v1.8h-1.8zM260.2 172.1h1.8v1.8h-1.8zM206.9 225.7h1.8v1.8h-1.8zM216.7 211.8h1.8v1.8h-1.8zM282.3 138.7h1.8v1.8h-1.8zM260.6 162.5h1.8v1.8h-1.8zM240.8 169.0h1.8v1.8h-1.8zM250.2 183.8h1.8v1.8h-1.8zM213.8 209.1h1.8v1.8h-1.8zM217.5 206.8h1.8v1.8h-1.8zM216.3 208.2h1.8v1.8h-1.8zM231.5 190.1h1.8v1.8h-1.8zM267.0 162.8h1.8v1.8h-1.8zM185.6 236.9h1.8v1.8h-1.8zM226.8 191.1h1.8v1.8h-1.8zM328.4 98.8h1.8v1.8h-1.8zM254.1 179.9h1.8v1.8h-1.8zM336.0 97.8h1.8v1.8h-1.8zM279.0 153.1h1.8v1.8h-1.8zM219.4 214.5h1.8v1.8h-1.8zM248.5 170.9h1.8v1.8h-1.8zM281.2 151.1h1.8v1.8h-1.8zM249.7 176.5h1.8v1.8h-1.8zM217.6 218.1h1.8v1.8h-1.8zM298.5 124.4h1.8v1.8h-1.8zM256.3 184.5h1.8v1.8h-1.8zM207.3 215.7h1.8v1.8h-1.8zM194.9 227.9h1.8v1.8h-1.8zM193.5 232.3h1.8v1.8h-1.8zM267.3 167.7h1.8v1.8h-1.8zM304.5 125.1h1.8v1.8h-1.8zM259.2 185.7h1.8v1.8h-1.8zM264.4 166.7h1.8v1.8h-1.8zM231.2 196.7h1.8v1.8h-1.8zM188.4 239.1h1.8v1.8h-1.8zM291.2 136.8h1.8v1.8h-1.8zM264.7 171.6h1.8v1.8h-1.8zM241.6 188.4h1.8v1.8h-1.8zM260.2 178.5h1.8v1.8h-1.8zM182.2 242.0h1.8v1.8h-1.8zM195.9 234.8h1.8v1.8h-1.8zM247.6 168.0h1.8v1.8h-1.8zM196.8 219.5h1.8v1.8h-1.8zM231.8 184.4h1.8v1.8h-1.8zM286.5 136.2h1.8v1.8h-1.8zM203.7 230.3h1.8v1.8h-1.8zM220.0 209.4h1.8v1.8h-1.8zM222.6 204.6h1.8v1.8h-1.8zM213.9 208.7h1.8v1.8h-1.8zM190.1 237.5h1.8v1.8h-1.8zM239.0 183.1h1.8v1.8h-1.8zM239.6 184.9h1.8v1.8h-1.8zM253.2 183.5h1.8v1.8h-1.8zM280.1 145.5h1.8v1.8h-1.8zM260.6 172.2h1.8v1.8h-1.8zM204.3 210.0h1.8v1.8h-1.8zM239.4 194.2h1.8v1.8h-1.8zM231.4 193.6h1.8v1.8h-1.8zM259.2 177.6h1.8v1.8h-1.8zM224.8 198.1h1.8v1.8h-1.8zM219.3 211.9h1.8v1.8h-1.8zM169.7 258.3h1.8v1.8h-1.8zM276.0 156.2h1.8v1.8h-1.8zM280.2 149.5h1.8v1.8h-1.8zM239.4 193.4h1.8v1.8h-1.8zM276.9 152.8h1.8v1.8h-1.8zM228.9 196.4h1.8v1.8h-1.8zM137.5 291.1h1.8v1.8h-1.8zM217.8 217.9h1.8v1.8h-1.8zM208.2 223.6h1.8v1.8h-1.8zM213.8 216.6h1.8v1.8h-1.8zM354.8 80.0h1.8v1.8h-1.8zM311.8 113.3h1.8v1.8h-1.8zM247.3 189.7h1.8v1.8h-1.8zM238.2 191.0h1.8v1.8h-1.8zM359.3 76.4h1.8v1.8h-1.8zM251.5 200.2h1.8v1.8h-1.8zM222.5 205.3h1.8v1.8h-1.8zM233.0 179.4h1.8v1.8h-1.8zM281.3 147.2h1.8v1.8h-1.8zM225.8 189.3h1.8v1.8h-1.8zM283.0 136.5h1.8v1.8h-1.8zM202.7 232.0h1.8v1.8h-1.8zM207.8 218.0h1.8v1.8h-1.8zM310.1 117.7h1.8v1.8h-1.8zM221.7 201.5h1.8v1.8h-1.8zM214.9 222.6h1.8v1.8h-1.8zM234.2 196.8h1.8v1.8h-1.8zM253.0 180.6h1.8v1.8h-1.8zM238.7 187.0h1.8v1.8h-1.8zM196.8 240.8h1.8v1.8h-1.8zM245.0 188.7h1.8v1.8h-1.8zM199.1 214.8h1.8v1.8h-1.8zM292.9 135.0h1.8v1.8h-1.8zM238.7 174.9h1.8v1.8h-1.8zM220.9 207.2h1.8v1.8h-1.8zM181.4 234.0h1.8v1.8h-1.8zM264.8 180.5h1.8v1.8h-1.8zM264.0 166.9h1.8v1.8h-1.8zM229.6 196.8h1.8v1.8h-1.8zM261.6 164.4h1.8v1.8h-1.8zM232.5 181.3h1.8v1.8h-1.8zM207.9 206.6h1.8v1.8h-1.8zM215.2 210.5h1.8v1.8h-1.8zM279.4 133.0h1.8v1.8h-1.8zM308.5 118.9h1.8v1.8h-1.8zM228.2 193.4h1.8v1.8h-1.8zM204.2 218.8h1.8v1.8h-1.8zM188.8 242.3h1.8v1.8h-1.8zM235.3 184.7h1.8v1.8h-1.8zM191.5 232.0h1.8v1.8h-1.8zM257.5 162.5h1.8v1.8h-1.8zM237.6 188.8h1.8v1.8h-1.8zM183.6 245.8h1.8v1.8h-1.8zM225.7 192.6h1.8v1.8h-1.8zM222.4 209.9h1.8v1.8h-1.8zM261.0 173.2h1.8v1.8h-1.8zM257.1 168.8h1.8v1.8h-1.8zM214.5 208.2h1.8v1.8h-1.8zM250.9 186.7h1.8v1.8h-1.8zM270.6 160.2h1.8v1.8h-1.8zM216.7 208.5h1.8v1.8h-1.8zM189.8 240.9h1.8v1.8h-1.8zM270.0 148.7h1.8v1.8h-1.8zM266.0 156.1h1.8v1.8h-1.8zM244.2 193.7h1.8v1.8h-1.8zM242.2 180.3h1.8v1.8h-1.8zM184.9 244.2h1.8v1.8h-1.8zM254.1 185.3h1.8v1.8h-1.8zM278.5 150.4h1.8v1.8h-1.8zM239.4 190.5h1.8v1.8h-1.8zM237.0 192.0h1.8v1.8h-1.8zM260.9 174.4h1.8v1.8h-1.8zM261.1 166.7h1.8v1.8h-1.8zM238.0 186.4h1.8v1.8h-1.8zM231.1 204.2h1.8v1.8h-1.8zM260.0 168.6h1.8v1.8h-1.8zM244.4 181.4h1.8v1.8h-1.8zM220.6 210.0h1.8v1.8h-1.8zM173.6 239.5h1.8v1.8h-1.8zM262.0 165.9h1.8v1.8h-1.8zM255.8 171.0h1.8v1.8h-1.8zM239.5 186.6h1.8v1.8h-1.8zM193.2 230.9h1.8v1.8h-1.8zM211.8 220.5h1.8v1.8h-1.8zM214.3 226.5h1.8v1.8h-1.8zM195.9 230.6h1.8v1.8h-1.8zM270.2 164.7h1.8v1.8h-1.8zM300.2 130.2h1.8v1.8h-1.8zM269.3 158.1h1.8v1.8h-1.8zM283.1 132.8h1.8v1.8h-1.8zM263.0 163.8h1.8v1.8h-1.8zM249.1 170.5h1.8v1.8h-1.8zM231.7 177.7h1.8v1.8h-1.8zM262.4 171.2h1.8v1.8h-1.8zM286.5 141.5h1.8v1.8h-1.8zM272.5 166.9h1.8v1.8h-1.8zM282.5 145.5h1.8v1.8h-1.8zM211.6 213.0h1.8v1.8h-1.8zM218.6 209.2h1.8v1.8h-1.8zM275.2 145.6h1.8v1.8h-1.8zM215.2 213.2h1.8v1.8h-1.8zM328.5 99.0h1.8v1.8h-1.8zM252.2 179.8h1.8v1.8h-1.8zM261.3 160.1h1.8v1.8h-1.8zM273.7 165.3h1.8v1.8h-1.8zM269.8 161.1h1.8v1.8h-1.8zM275.8 154.4h1.8v1.8h-1.8zM250.4 181.3h1.8v1.8h-1.8zM207.5 221.6h1.8v1.8h-1.8zM294.1 140.2h1.8v1.8h-1.8zM264.2 171.5h1.8v1.8h-1.8zM223.3 197.1h1.8v1.8h-1.8zM270.9 159.5h1.8v1.8h-1.8zM277.9 149.6h1.8v1.8h-1.8zM264.5 160.7h1.8v1.8h-1.8zM226.6 206.9h1.8v1.8h-1.8zM272.2 157.1h1.8v1.8h-1.8zM196.2 229.9h1.8v1.8h-1.8zM270.6 164.9h1.8v1.8h-1.8zM236.9 190.2h1.8v1.8h-1.8zM269.2 159.5h1.8v1.8h-1.8zM259.1 162.9h1.8v1.8h-1.8zM183.8 239.1h1.8v1.8h-1.8zM251.5 180.5h1.8v1.8h-1.8zM233.2 197.8h1.8v1.8h-1.8zM204.7 212.1h1.8v1.8h-1.8zM214.3 198.3h1.8v1.8h-1.8zM298.0 133.4h1.8v1.8h-1.8zM224.7 180.1h1.8v1.8h-1.8zM232.4 192.8h1.8v1.8h-1.8zM263.9 169.0h1.8v1.8h-1.8zM238.0 197.4h1.8v1.8h-1.8zM254.5 169.6h1.8v1.8h-1.8zM294.4 134.1h1.8v1.8h-1.8zM240.1 189.5h1.8v1.8h-1.8zM216.4 193.2h1.8v1.8h-1.8zM219.4 198.2h1.8v1.8h-1.8zM241.4 190.4h1.8v1.8h-1.8zM244.2 188.0h1.8v1.8h-1.8zM233.6 202.3h1.8v1.8h-1.8zM226.3 194.0h1.8v1.8h-1.8zM170.7 252.3h1.8v1.8h-1.8zM209.7 203.4h1.8v1.8h-1.8zM296.6 131.1h1.8v1.8h-1.8zM251.6 186.1h1.8v1.8h-1.8zM217.2 215.6h1.8v1.8h-1.8zM246.4 187.5h1.8v1.8h-1.8zM297.8 125.1h1.8v1.8h-1.8zM222.1 192.5h1.8v1.8h-1.8zM250.6 171.9h1.8v1.8h-1.8zM227.8 197.2h1.8v1.8h-1.8zM215.2 199.7h1.8v1.8h-1.8zM200.8 210.9h1.8v1.8h-1.8zM274.1 151.4h1.8v1.8h-1.8zM246.2 179.8h1.8v1.8h-1.8zM238.4 192.4h1.8v1.8h-1.8zM255.3 176.1h1.8v1.8h-1.8zM240.6 176.2h1.8v1.8h-1.8zM289.1 141.8h1.8v1.8h-1.8zM265.7 177.9h1.8v1.8h-1.8zM257.7 167.7h1.8v1.8h-1.8zM248.6 170.1h1.8v1.8h-1.8zM279.5 141.9h1.8v1.8h-1.8zM244.7 190.7h1.8v1.8h-1.8zM224.8 197.1h1.8v1.8h-1.8zM209.5 212.7h1.8v1.8h-1.8zM219.4 212.3h1.8v1.8h-1.8zM246.3 172.3h1.8v1.8h-1.8zM227.3 194.6h1.8v1.8h-1.8zM264.2 161.2h1.8v1.8h-1.8zM269.8 163.4h1.8v1.8h-1.8zM201.3 223.3h1.8v1.8h-1.8zM220.8 196.3h1.8v1.8h-1.8zM243.7 176.9h1.8v1.8h-1.8zM249.6 175.7h1.8v1.8h-1.8zM266.8 152.7h1.8v1.8h-1.8zM244.7 190.1h1.8v1.8h-1.8zM259.0 173.8h1.8v1.8h-1.8zM289.1 132.4h1.8v1.8h-1.8zM300.8 125.8h1.8v1.8h-1.8zM214.4 206.1h1.8v1.8h-1.8zM208.6 222.3h1.8v1.8h-1.8zM231.8 194.1h1.8v1.8h-1.8zM211.5 230.2h1.8v1.8h-1.8zM184.3 237.9h1.8v1.8h-1.8zM245.1 199.6h1.8v1.8h-1.8zM171.6 260.3h1.8v1.8h-1.8zM170.0 257.9h1.8v1.8h-1.8zM228.2 191.9h1.8v1.8h-1.8zM231.7 198.1h1.8v1.8h-1.8zM197.3 222.5h1.8v1.8h-1.8zM257.4 166.6h1.8v1.8h-1.8zM222.9 206.0h1.8v1.8h-1.8zM230.7 198.9h1.8v1.8h-1.8zM217.9 203.5h1.8v1.8h-1.8zM245.9 191.0h1.8v1.8h-1.8zM217.8 194.6h1.8v1.8h-1.8zM276.1 149.9h1.8v1.8h-1.8zM198.8 225.4h1.8v1.8h-1.8zM291.6 131.2h1.8v1.8h-1.8zM263.7 157.7h1.8v1.8h-1.8zM275.1 159.7h1.8v1.8h-1.8zM271.0 149.9h1.8v1.8h-1.8zM244.1 189.5h1.8v1.8h-1.8zM288.4 140.8h1.8v1.8h-1.8zM252.7 171.7h1.8v1.8h-1.8zM222.9 194.2h1.8v1.8h-1.8zM245.5 181.3h1.8v1.8h-1.8zM261.9 166.1h1.8v1.8h-1.8zM214.9 215.1h1.8v1.8h-1.8zM231.2 196.2h1.8v1.8h-1.8zM201.5 204.4h1.8v1.8h-1.8zM238.5 186.1h1.8v1.8h-1.8zM247.1 178.5h1.8v1.8h-1.8zM238.6 186.9h1.8v1.8h-1.8zM197.7 230.9h1.8v1.8h-1.8zM259.1 160.8h1.8v1.8h-1.8zM202.2 235.3h1.8v1.8h-1.8zM248.0 181.2h1.8v1.8h-1.8zM282.2 140.9h1.8v1.8h-1.8zM262.3 168.7h1.8v1.8h-1.8zM292.0 139.7h1.8v1.8h-1.8zM226.5 197.9h1.8v1.8h-1.8zM248.1 193.4h1.8v1.8h-1.8zM265.9 164.4h1.8v1.8h-1.8zM252.6 176.0h1.8v1.8h-1.8zM242.4 175.6h1.8v1.8h-1.8zM285.9 144.7h1.8v1.8h-1.8zM264.5 173.9h1.8v1.8h-1.8zM222.3 193.5h1.8v1.8h-1.8zM219.9 202.5h1.8v1.8h-1.8zM244.3 180.2h1.8v1.8h-1.8zM247.2 187.8h1.8v1.8h-1.8zM267.4 157.5h1.8v1.8h-1.8zM280.7 141.5h1.8v1.8h-1.8zM293.4 131.6h1.8v1.8h-1.8zM241.5 178.8h1.8v1.8h-1.8zM226.6 199.8h1.8v1.8h-1.8zM188.8 247.0h1.8v1.8h-1.8zM192.7 236.9h1.8v1.8h-1.8zM208.7 211.4h1.8v1.8h-1.8zM256.8 169.7h1.8v1.8h-1.8zM284.0 154.3h1.8v1.8h-1.8zM260.0 174.2h1.8v1.8h-1.8zM241.3 178.7h1.8v1.8h-1.8zM248.7 178.5h1.8v1.8h-1.8zM265.6 155.9h1.8v1.8h-1.8zM270.0 155.4h1.8v1.8h-1.8zM274.6 149.0h1.8v1.8h-1.8zM307.0 122.0h1.8v1.8h-1.8zM247.0 172.6h1.8v1.8h-1.8zM240.0 180.3h1.8v1.8h-1.8zM220.0 201.6h1.8v1.8h-1.8zM260.8 156.1h1.8v1.8h-1.8zM251.5 168.7h1.8v1.8h-1.8zM212.8 226.9h1.8v1.8h-1.8zM257.4 174.2h1.8v1.8h-1.8zM246.0 194.1h1.8v1.8h-1.8zM245.1 188.3h1.8v1.8h-1.8zM156.9 267.4h1.8v1.8h-1.8zM167.0 265.2h1.8v1.8h-1.8zM146.8 276.6h1.8v1.8h-1.8zM217.3 208.3h1.8v1.8h-1.8zM193.2 226.8h1.8v1.8h-1.8zM249.1 165.7h1.8v1.8h-1.8zM229.7 207.3h1.8v1.8h-1.8zM245.3 183.7h1.8v1.8h-1.8zM273.1 150.2h1.8v1.8h-1.8zM199.9 224.0h1.8v1.8h-1.8zM281.8 146.7h1.8v1.8h-1.8zM250.9 198.9h1.8v1.8h-1.8zM252.3 169.0h1.8v1.8h-1.8zM243.4 177.8h1.8v1.8h-1.8zM205.7 221.5h1.8v1.8h-1.8zM250.0 177.1h1.8v1.8h-1.8zM239.6 178.5h1.8v1.8h-1.8zM246.3 182.3h1.8v1.8h-1.8zM219.7 198.5h1.8v1.8h-1.8zM171.5 260.8h1.8v1.8h-1.8zM237.4 189.5h1.8v1.8h-1.8zM182.7 253.0h1.8v1.8h-1.8zM229.4 203.6h1.8v1.8h-1.8zM246.6 184.9h1.8v1.8h-1.8zM263.3 165.9h1.8v1.8h-1.8zM340.5 93.5h1.8v1.8h-1.8zM222.7 194.9h1.8v1.8h-1.8zM237.5 188.4h1.8v1.8h-1.8zM285.2 147.4h1.8v1.8h-1.8zM269.4 153.7h1.8v1.8h-1.8zM250.0 188.1h1.8v1.8h-1.8zM337.6 98.6h1.8v1.8h-1.8zM255.2 163.6h1.8v1.8h-1.8zM250.8 169.5h1.8v1.8h-1.8zM227.4 183.4h1.8v1.8h-1.8zM260.8 169.0h1.8v1.8h-1.8zM197.4 222.5h1.8v1.8h-1.8zM248.9 164.5h1.8v1.8h-1.8zM165.3 264.3h1.8v1.8h-1.8zM226.1 195.5h1.8v1.8h-1.8zM205.3 212.1h1.8v1.8h-1.8zM243.6 196.2h1.8v1.8h-1.8zM262.5 166.0h1.8v1.8h-1.8zM282.9 151.2h1.8v1.8h-1.8zM162.5 269.9h1.8v1.8h-1.8zM235.6 186.1h1.8v1.8h-1.8zM185.2 240.4h1.8v1.8h-1.8zM244.9 179.6h1.8v1.8h-1.8zM235.3 189.0h1.8v1.8h-1.8zM214.0 218.7h1.8v1.8h-1.8zM277.8 164.1h1.8v1.8h-1.8zM233.8 204.1h1.8v1.8h-1.8zM294.5 126.3h1.8v1.8h-1.8zM257.7 175.2h1.8v1.8h-1.8zM257.6 169.2h1.8v1.8h-1.8zM175.1 252.8h1.8v1.8h-1.8zM210.2 229.8h1.8v1.8h-1.8zM221.3 201.7h1.8v1.8h-1.8zM266.7 168.2h1.8v1.8h-1.8zM280.3 148.9h1.8v1.8h-1.8zM214.0 218.1h1.8v1.8h-1.8zM252.1 171.8h1.8v1.8h-1.8zM211.5 213.2h1.8v1.8h-1.8zM237.6 187.7h1.8v1.8h-1.8zM316.7 109.2h1.8v1.8h-1.8zM217.5 208.8h1.8v1.8h-1.8zM227.8 184.4h1.8v1.8h-1.8zM237.7 187.4h1.8v1.8h-1.8zM245.9 167.1h1.8v1.8h-1.8zM228.7 177.2h1.8v1.8h-1.8zM218.4 212.8h1.8v1.8h-1.8zM251.6 184.9h1.8v1.8h-1.8zM198.1 218.3h1.8v1.8h-1.8zM251.7 189.4h1.8v1.8h-1.8zM329.0 106.9h1.8v1.8h-1.8zM238.8 184.2h1.8v1.8h-1.8zM187.2 245.2h1.8v1.8h-1.8zM230.4 198.6h1.8v1.8h-1.8zM294.3 132.8h1.8v1.8h-1.8zM211.4 208.5h1.8v1.8h-1.8zM207.1 225.2h1.8v1.8h-1.8zM288.9 146.6h1.8v1.8h-1.8zM245.1 178.2h1.8v1.8h-1.8zM262.2 173.9h1.8v1.8h-1.8zM275.5 156.1h1.8v1.8h-1.8zM179.9 253.7h1.8v1.8h-1.8zM199.2 230.4h1.8v1.8h-1.8zM214.5 206.7h1.8v1.8h-1.8zM215.0 194.1h1.8v1.8h-1.8zM168.3 261.5h1.8v1.8h-1.8zM211.3 217.5h1.8v1.8h-1.8zM264.9 153.2h1.8v1.8h-1.8zM201.7 226.8h1.8v1.8h-1.8zM175.6 257.5h1.8v1.8h-1.8zM214.5 206.3h1.8v1.8h-1.8zM226.1 190.7h1.8v1.8h-1.8zM285.9 135.1h1.8v1.8h-1.8zM295.3 128.2h1.8v1.8h-1.8zM204.5 210.0h1.8v1.8h-1.8zM276.5 162.3h1.8v1.8h-1.8zM198.3 230.5h1.8v1.8h-1.8zM280.8 148.9h1.8v1.8h-1.8zM256.1 167.0h1.8v1.8h-1.8zM248.8 177.6h1.8v1.8h-1.8zM238.9 181.8h1.8v1.8h-1.8zM220.8 208.1h1.8v1.8h-1.8zM204.9 227.4h1.8v1.8h-1.8zM202.5 231.5h1.8v1.8h-1.8zM221.2 202.0h1.8v1.8h-1.8zM207.4 215.6h1.8v1.8h-1.8zM194.4 231.2h1.8v1.8h-1.8zM261.4 165.7h1.8v1.8h-1.8zM218.8 212.2h1.8v1.8h-1.8zM244.3 189.1h1.8v1.8h-1.8zM221.5 211.6h1.8v1.8h-1.8zM200.4 238.0h1.8v1.8h-1.8zM242.8 190.8h1.8v1.8h-1.8zM233.9 194.6h1.8v1.8h-1.8zM142.4 287.8h1.8v1.8h-1.8zM247.0 190.5h1.8v1.8h-1.8zM203.9 222.1h1.8v1.8h-1.8zM177.2 254.3h1.8v1.8h-1.8zM149.7 273.4h1.8v1.8h-1.8zM275.2 151.6h1.8v1.8h-1.8zM275.8 168.1h1.8v1.8h-1.8zM266.2 161.0h1.8v1.8h-1.8zM217.2 212.2h1.8v1.8h-1.8zM179.6 250.4h1.8v1.8h-1.8zM243.6 195.2h1.8v1.8h-1.8zM246.9 181.0h1.8v1.8h-1.8zM219.6 195.1h1.8v1.8h-1.8zM251.7 155.8h1.8v1.8h-1.8zM237.1 194.3h1.8v1.8h-1.8zM197.2 226.9h1.8v1.8h-1.8zM367.8 67.0h1.8v1.8h-1.8zM249.0 176.7h1.8v1.8h-1.8zM277.0 162.2h1.8v1.8h-1.8zM248.9 178.6h1.8v1.8h-1.8zM202.3 226.7h1.8v1.8h-1.8zM251.7 175.7h1.8v1.8h-1.8zM226.2 202.9h1.8v1.8h-1.8zM214.0 209.7h1.8v1.8h-1.8zM199.1 225.4h1.8v1.8h-1.8zM238.9 181.6h1.8v1.8h-1.8zM296.5 125.8h1.8v1.8h-1.8zM237.2 182.2h1.8v1.8h-1.8zM208.1 217.2h1.8v1.8h-1.8zM261.9 166.1h1.8v1.8h-1.8zM350.1 86.3h1.8v1.8h-1.8zM262.8 177.6h1.8v1.8h-1.8zM221.1 199.0h1.8v1.8h-1.8zM223.1 204.4h1.8v1.8h-1.8zM202.0 235.8h1.8v1.8h-1.8zM240.7 190.1h1.8v1.8h-1.8zM243.4 190.7h1.8v1.8h-1.8zM238.6 184.4h1.8v1.8h-1.8zM346.6 89.8h1.8v1.8h-1.8zM211.8 212.3h1.8v1.8h-1.8zM219.6 209.2h1.8v1.8h-1.8zM231.5 206.5h1.8v1.8h-1.8zM213.2 215.3h1.8v1.8h-1.8zM276.7 149.7h1.8v1.8h-1.8zM274.6 153.2h1.8v1.8h-1.8zM157.2 271.6h1.8v1.8h-1.8zM203.5 216.3h1.8v1.8h-1.8zM206.5 212.4h1.8v1.8h-1.8zM243.2 161.9h1.8v1.8h-1.8zM153.2 269.9h1.8v1.8h-1.8zM195.7 217.2h1.8v1.8h-1.8zM257.3 176.9h1.8v1.8h-1.8zM233.4 188.2h1.8v1.8h-1.8zM253.7 184.9h1.8v1.8h-1.8zM206.8 222.9h1.8v1.8h-1.8zM256.3 160.3h1.8v1.8h-1.8zM267.9 148.2h1.8v1.8h-1.8zM222.6 204.3h1.8v1.8h-1.8zM174.5 253.7h1.8v1.8h-1.8zM321.5 108.7h1.8v1.8h-1.8zM199.6 228.9h1.8v1.8h-1.8zM236.2 210.3h1.8v1.8h-1.8zM297.0 120.4h1.8v1.8h-1.8zM251.6 167.5h1.8v1.8h-1.8zM219.6 206.9h1.8v1.8h-1.8zM219.3 206.2h1.8v1.8h-1.8zM177.7 243.5h1.8v1.8h-1.8zM277.8 151.0h1.8v1.8h-1.8zM270.1 169.1h1.8v1.8h-1.8zM201.1 235.0h1.8v1.8h-1.8zM236.0 194.6h1.8v1.8h-1.8zM202.2 223.6h1.8v1.8h-1.8zM257.5 179.5h1.8v1.8h-1.8zM220.9 208.0h1.8v1.8h-1.8zM255.8 174.0h1.8v1.8h-1.8zM277.4 152.6h1.8v1.8h-1.8zM259.8 181.3h1.8v1.8h-1.8zM229.9 199.6h1.8v1.8h-1.8zM280.0 144.8h1.8v1.8h-1.8zM236.2 189.9h1.8v1.8h-1.8zM251.4 171.4h1.8v1.8h-1.8zM227.7 190.3h1.8v1.8h-1.8zM223.0 191.4h1.8v1.8h-1.8zM199.7 221.7h1.8v1.8h-1.8zM180.0 255.3h1.8v1.8h-1.8zM207.0 222.1h1.8v1.8h-1.8zM180.5 243.4h1.8v1.8h-1.8zM221.2 203.6h1.8v1.8h-1.8zM160.4 266.5h1.8v1.8h-1.8zM235.0 198.8h1.8v1.8h-1.8zM201.1 214.6h1.8v1.8h-1.8zM231.2 197.4h1.8v1.8h-1.8zM199.7 231.4h1.8v1.8h-1.8zM242.7 183.5h1.8v1.8h-1.8zM193.4 237.5h1.8v1.8h-1.8zM236.7 204.2h1.8v1.8h-1.8zM167.0 268.1h1.8v1.8h-1.8zM168.3 255.5h1.8v1.8h-1.8zM261.5 168.0h1.8v1.8h-1.8zM254.0 172.4h1.8v1.8h-1.8zM231.6 199.7h1.8v1.8h-1.8zM196.3 233.4h1.8v1.8h-1.8zM254.0 175.1h1.8v1.8h-1.8zM238.4 180.3h1.8v1.8h-1.8zM215.9 203.1h1.8v1.8h-1.8zM214.8 215.7h1.8v1.8h-1.8zM283.3 145.1h1.8v1.8h-1.8zM259.8 168.2h1.8v1.8h-1.8zM230.1 202.1h1.8v1.8h-1.8zM220.2 201.2h1.8v1.8h-1.8zM231.9 196.0h1.8v1.8h-1.8zM289.4 141.0h1.8v1.8h-1.8zM216.7 202.8h1.8v1.8h-1.8zM204.8 232.9h1.8v1.8h-1.8zM268.3 165.5h1.8v1.8h-1.8zM203.8 220.0h1.8v1.8h-1.8zM230.8 184.8h1.8v1.8h-1.8zM241.6 191.9h1.8v1.8h-1.8zM243.8 179.5h1.8v1.8h-1.8zM285.2 137.9h1.8v1.8h-1.8zM219.2 209.6h1.8v1.8h-1.8zM242.5 172.3h1.8v1.8h-1.8zM138.7 286.0h1.8v1.8h-1.8zM264.3 166.7h1.8v1.8h-1.8zM287.1 136.3h1.8v1.8h-1.8zM252.2 177.4h1.8v1.8h-1.8zM217.7 211.7h1.8v1.8h-1.8zM286.1 150.2h1.8v1.8h-1.8zM165.2 260.2h1.8v1.8h-1.8zM347.9 87.4h1.8v1.8h-1.8zM200.5 212.7h1.8v1.8h-1.8zM273.8 148.1h1.8v1.8h-1.8zM166.9 264.3h1.8v1.8h-1.8zM252.4 172.8h1.8v1.8h-1.8zM198.2 223.4h1.8v1.8h-1.8zM270.2 154.4h1.8v1.8h-1.8zM196.6 230.0h1.8v1.8h-1.8zM217.3 213.1h1.8v1.8h-1.8zM216.9 205.6h1.8v1.8h-1.8zM279.4 146.8h1.8v1.8h-1.8zM183.2 249.9h1.8v1.8h-1.8zM243.5 184.8h1.8v1.8h-1.8zM238.2 201.9h1.8v1.8h-1.8zM259.4 188.1h1.8v1.8h-1.8zM199.7 218.8h1.8v1.8h-1.8zM168.0 260.1h1.8v1.8h-1.8zM198.7 232.1h1.8v1.8h-1.8zM271.5 149.8h1.8v1.8h-1.8zM261.4 167.3h1.8v1.8h-1.8zM187.2 242.8h1.8v1.8h-1.8zM303.0 127.3h1.8v1.8h-1.8zM214.2 207.4h1.8v1.8h-1.8zM227.3 192.0h1.8v1.8h-1.8zM281.3 151.9h1.8v1.8h-1.8zM279.6 143.9h1.8v1.8h-1.8zM240.5 188.0h1.8v1.8h-1.8zM235.9 201.0h1.8v1.8h-1.8zM304.9 120.2h1.8v1.8h-1.8zM216.4 199.3h1.8v1.8h-1.8zM218.3 199.0h1.8v1.8h-1.8zM215.7 212.9h1.8v1.8h-1.8zM190.1 233.5h1.8v1.8h-1.8zM247.5 178.9h1.8v1.8h-1.8zM226.9 180.3h1.8v1.8h-1.8zM265.0 168.4h1.8v1.8h-1.8zM209.8 228.5h1.8v1.8h-1.8zM170.0 257.3h1.8v1.8h-1.8zM144.5 284.2h1.8v1.8h-1.8zM243.3 175.5h1.8v1.8h-1.8zM261.5 168.6h1.8v1.8h-1.8zM230.3 190.6h1.8v1.8h-1.8zM188.7 241.5h1.8v1.8h-1.8zM262.4 164.9h1.8v1.8h-1.8zM286.5 135.9h1.8v1.8h-1.8zM225.1 191.7h1.8v1.8h-1.8zM245.7 184.5h1.8v1.8h-1.8zM225.8 189.7h1.8v1.8h-1.8zM266.8 166.5h1.8v1.8h-1.8zM202.0 214.6h1.8v1.8h-1.8zM193.4 232.3h1.8v1.8h-1.8zM234.6 190.9h1.8v1.8h-1.8zM233.8 185.8h1.8v1.8h-1.8zM212.6 219.3h1.8v1.8h-1.8zM243.0 187.8h1.8v1.8h-1.8zM268.9 164.7h1.8v1.8h-1.8zM215.9 218.6h1.8v1.8h-1.8zM266.3 161.2h1.8v1.8h-1.8zM251.3 193.7h1.8v1.8h-1.8zM148.3 277.2h1.8v1.8h-1.8zM239.2 180.2h1.8v1.8h-1.8zM259.5 170.2h1.8v1.8h-1.8zM191.0 235.5h1.8v1.8h-1.8zM257.8 175.0h1.8v1.8h-1.8zM253.0 189.6h1.8v1.8h-1.8zM261.6 180.9h1.8v1.8h-1.8zM286.5 144.2h1.8v1.8h-1.8zM193.3 224.8h1.8v1.8h-1.8zM209.2 225.3h1.8v1.8h-1.8zM252.1 172.5h1.8v1.8h-1.8zM243.5 178.8h1.8v1.8h-1.8zM205.4 239.3h1.8v1.8h-1.8zM268.7 163.1h1.8v1.8h-1.8zM217.6 215.8h1.8v1.8h-1.8zM177.1 254.5h1.8v1.8h-1.8zM190.5 239.8h1.8v1.8h-1.8zM220.5 213.6h1.8v1.8h-1.8zM238.5 189.8h1.8v1.8h-1.8zM212.9 214.3h1.8v1.8h-1.8zM228.8 194.2h1.8v1.8h-1.8zM209.1 215.0h1.8v1.8h-1.8zM156.4 270.7h1.8v1.8h-1.8zM224.8 197.9h1.8v1.8h-1.8zM244.0 174.8h1.8v1.8h-1.8zM261.5 158.0h1.8v1.8h-1.8zM237.9 183.4h1.8v1.8h-1.8zM277.3 161.0h1.8v1.8h-1.8zM239.8 189.8h1.8v1.8h-1.8zM236.5 203.4h1.8v1.8h-1.8zM254.4 163.5h1.8v1.8h-1.8zM237.9 195.3h1.8v1.8h-1.8zM258.7 165.1h1.8v1.8h-1.8zM241.7 183.6h1.8v1.8h-1.8zM315.5 115.1h1.8v1.8h-1.8zM212.7 217.1h1.8v1.8h-1.8zM204.1 212.7h1.8v1.8h-1.8zM246.4 172.9h1.8v1.8h-1.8zM234.5 180.9h1.8v1.8h-1.8zM266.9 165.6h1.8v1.8h-1.8zM334.5 101.1h1.8v1.8h-1.8zM279.2 155.4h1.8v1.8h-1.8zM274.6 165.3h1.8v1.8h-1.8zM291.2 144.0h1.8v1.8h-1.8zM179.3 243.5h1.8v1.8h-1.8zM265.3 157.2h1.8v1.8h-1.8zM275.5 162.2h1.8v1.8h-1.8zM239.2 198.2h1.8v1.8h-1.8zM225.3 199.1h1.8v1.8h-1.8zM215.9 208.0h1.8v1.8h-1.8zM259.1 164.5h1.8v1.8h-1.8zM246.4 179.6h1.8v1.8h-1.8zM249.4 178.9h1.8v1.8h-1.8zM287.9 136.8h1.8v1.8h-1.8zM269.6 156.4h1.8v1.8h-1.8zM298.8 128.4h1.8v1.8h-1.8zM175.9 253.1h1.8v1.8h-1.8zM229.9 190.4h1.8v1.8h-1.8zM185.6 248.7h1.8v1.8h-1.8zM261.0 176.1h1.8v1.8h-1.8zM313.9 117.1h1.8v1.8h-1.8zM276.1 155.8h1.8v1.8h-1.8zM247.2 180.3h1.8v1.8h-1.8zM266.4 160.9h1.8v1.8h-1.8zM254.1 172.0h1.8v1.8h-1.8zM242.1 198.8h1.8v1.8h-1.8zM257.1 170.1h1.8v1.8h-1.8zM241.9 173.9h1.8v1.8h-1.8zM228.1 197.2h1.8v1.8h-1.8zM270.1 175.2h1.8v1.8h-1.8zM254.0 171.4h1.8v1.8h-1.8zM232.1 197.5h1.8v1.8h-1.8zM199.8 212.3h1.8v1.8h-1.8zM275.8 148.7h1.8v1.8h-1.8zM232.4 201.8h1.8v1.8h-1.8zM252.5 181.6h1.8v1.8h-1.8zM227.1 193.5h1.8v1.8h-1.8zM325.8 111.6h1.8v1.8h-1.8zM173.6 248.6h1.8v1.8h-1.8zM200.0 225.4h1.8v1.8h-1.8zM248.3 176.8h1.8v1.8h-1.8zM229.0 192.5h1.8v1.8h-1.8zM221.8 205.1h1.8v1.8h-1.8zM249.8 183.1h1.8v1.8h-1.8zM252.3 162.4h1.8v1.8h-1.8zM252.4 192.6h1.8v1.8h-1.8zM187.4 245.5h1.8v1.8h-1.8zM270.6 159.4h1.8v1.8h-1.8zM199.8 226.7h1.8v1.8h-1.8zM256.8 183.5h1.8v1.8h-1.8zM203.1 215.7h1.8v1.8h-1.8zM172.6 255.0h1.8v1.8h-1.8zM221.7 203.8h1.8v1.8h-1.8zM305.6 126.7h1.8v1.8h-1.8zM174.6 253.6h1.8v1.8h-1.8zM211.2 213.4h1.8v1.8h-1.8zM218.8 200.4h1.8v1.8h-1.8zM213.4 214.5h1.8v1.8h-1.8zM223.6 203.0h1.8v1.8h-1.8zM279.8 146.7h1.8v1.8h-1.8zM269.7 161.0h1.8v1.8h-1.8zM190.1 248.1h1.8v1.8h-1.8zM227.0 188.7h1.8v1.8h-1.8zM192.0 236.3h1.8v1.8h-1.8zM266.0 158.2h1.8v1.8h-1.8zM223.7 195.6h1.8v1.8h-1.8zM241.7 182.3h1.8v1.8h-1.8zM153.0 274.4h1.8v1.8h-1.8zM228.8 187.9h1.8v1.8h-1.8zM205.2 211.0h1.8v1.8h-1.8zM263.1 172.5h1.8v1.8h-1.8zM248.4 190.1h1.8v1.8h-1.8zM269.1 156.9h1.8v1.8h-1.8zM243.2 170.3h1.8v1.8h-1.8zM217.2 204.8h1.8v1.8h-1.8zM217.5 212.0h1.8v1.8h-1.8zM280.6 151.7h1.8v1.8h-1.8zM212.3 206.7h1.8v1.8h-1.8zM258.8 161.0h1.8v1.8h-1.8zM238.2 181.4h1.8v1.8h-1.8zM139.3 285.3h1.8v1.8h-1.8zM304.7 122.6h1.8v1.8h-1.8zM170.9 251.2h1.8v1.8h-1.8zM324.7 104.4h1.8v1.8h-1.8zM261.2 184.3h1.8v1.8h-1.8zM269.2 152.4h1.8v1.8h-1.8zM220.4 205.9h1.8v1.8h-1.8zM205.0 217.5h1.8v1.8h-1.8zM247.4 187.3h1.8v1.8h-1.8zM241.2 187.9h1.8v1.8h-1.8zM275.2 151.3h1.8v1.8h-1.8zM265.3 167.2h1.8v1.8h-1.8zM193.4 241.4h1.8v1.8h-1.8zM255.0 170.1h1.8v1.8h-1.8zM250.2 178.7h1.8v1.8h-1.8zM189.6 241.1h1.8v1.8h-1.8zM279.4 146.1h1.8v1.8h-1.8zM151.9 274.7h1.8v1.8h-1.8zM269.2 155.6h1.8v1.8h-1.8zM190.2 236.6h1.8v1.8h-1.8zM134.9 291.1h1.8v1.8h-1.8zM228.7 193.6h1.8v1.8h-1.8zM146.9 278.5h1.8v1.8h-1.8zM238.3 196.3h1.8v1.8h-1.8zM253.6 168.2h1.8v1.8h-1.8zM225.2 218.8h1.8v1.8h-1.8zM215.8 207.4h1.8v1.8h-1.8zM210.5 210.3h1.8v1.8h-1.8zM241.7 209.5h1.8v1.8h-1.8zM195.9 241.4h1.8v1.8h-1.8zM214.6 217.7h1.8v1.8h-1.8zM173.3 258.6h1.8v1.8h-1.8zM233.4 190.0h1.8v1.8h-1.8zM225.8 213.0h1.8v1.8h-1.8zM175.8 250.5h1.8v1.8h-1.8zM262.8 163.3h1.8v1.8h-1.8zM260.5 166.6h1.8v1.8h-1.8zM236.5 192.6h1.8v1.8h-1.8zM256.0 179.4h1.8v1.8h-1.8zM330.8 101.3h1.8v1.8h-1.8zM250.2 185.9h1.8v1.8h-1.8zM187.3 245.5h1.8v1.8h-1.8zM275.4 150.7h1.8v1.8h-1.8zM238.2 189.1h1.8v1.8h-1.8zM253.3 174.6h1.8v1.8h-1.8zM217.4 216.3h1.8v1.8h-1.8zM254.7 187.1h1.8v1.8h-1.8zM247.6 169.8h1.8v1.8h-1.8zM226.6 197.2h1.8v1.8h-1.8zM306.4 119.4h1.8v1.8h-1.8zM239.8 186.6h1.8v1.8h-1.8zM222.9 197.5h1.8v1.8h-1.8zM215.7 212.6h1.8v1.8h-1.8zM197.1 230.0h1.8v1.8h-1.8zM269.6 156.5h1.8v1.8h-1.8zM215.8 203.8h1.8v1.8h-1.8zM131.0 295.1h1.8v1.8h-1.8zM279.6 141.7h1.8v1.8h-1.8zM183.0 247.8h1.8v1.8h-1.8zM270.9 152.9h1.8v1.8h-1.8zM221.0 217.0h1.8v1.8h-1.8zM263.2 162.1h1.8v1.8h-1.8zM221.8 223.0h1.8v1.8h-1.8zM227.0 189.4h1.8v1.8h-1.8zM256.0 170.2h1.8v1.8h-1.8zM235.6 194.9h1.8v1.8h-1.8zM227.7 193.5h1.8v1.8h-1.8zM217.7 212.2h1.8v1.8h-1.8zM275.8 151.1h1.8v1.8h-1.8zM230.9 201.4h1.8v1.8h-1.8zM273.5 160.7h1.8v1.8h-1.8zM221.9 207.8h1.8v1.8h-1.8zM264.3 172.5h1.8v1.8h-1.8zM213.3 206.1h1.8v1.8h-1.8zM268.6 169.3h1.8v1.8h-1.8zM254.8 172.0h1.8v1.8h-1.8zM258.3 182.1h1.8v1.8h-1.8zM223.2 203.3h1.8v1.8h-1.8zM244.5 183.5h1.8v1.8h-1.8zM180.1 252.1h1.8v1.8h-1.8zM263.9 167.6h1.8v1.8h-1.8zM213.7 197.5h1.8v1.8h-1.8zM235.1 195.4h1.8v1.8h-1.8zM286.9 134.0h1.8v1.8h-1.8zM305.6 119.8h1.8v1.8h-1.8zM207.5 214.6h1.8v1.8h-1.8zM237.5 186.8h1.8v1.8h-1.8zM194.8 229.5h1.8v1.8h-1.8zM278.3 144.1h1.8v1.8h-1.8zM267.4 178.4h1.8v1.8h-1.8zM212.8 212.0h1.8v1.8h-1.8zM224.7 190.0h1.8v1.8h-1.8zM200.1 221.4h1.8v1.8h-1.8zM270.7 157.5h1.8v1.8h-1.8zM244.0 189.1h1.8v1.8h-1.8zM209.8 211.4h1.8v1.8h-1.8zM235.1 178.0h1.8v1.8h-1.8zM226.2 206.6h1.8v1.8h-1.8zM269.3 159.5h1.8v1.8h-1.8zM205.4 212.6h1.8v1.8h-1.8zM247.9 187.5h1.8v1.8h-1.8zM197.9 230.1h1.8v1.8h-1.8zM328.9 101.3h1.8v1.8h-1.8zM193.6 235.4h1.8v1.8h-1.8zM245.6 179.3h1.8v1.8h-1.8zM238.0 201.0h1.8v1.8h-1.8zM268.1 162.3h1.8v1.8h-1.8zM220.0 205.9h1.8v1.8h-1.8zM279.4 151.6h1.8v1.8h-1.8zM317.2 112.0h1.8v1.8h-1.8zM198.8 229.2h1.8v1.8h-1.8zM296.8 131.0h1.8v1.8h-1.8zM245.2 189.3h1.8v1.8h-1.8zM182.1 245.6h1.8v1.8h-1.8zM313.8 115.1h1.8v1.8h-1.8zM222.1 188.5h1.8v1.8h-1.8zM235.1 185.5h1.8v1.8h-1.8zM286.7 130.2h1.8v1.8h-1.8zM216.3 199.1h1.8v1.8h-1.8zM236.4 196.0h1.8v1.8h-1.8zM244.5 187.1h1.8v1.8h-1.8zM301.1 120.3h1.8v1.8h-1.8zM214.8 204.7h1.8v1.8h-1.8zM262.6 163.7h1.8v1.8h-1.8zM249.1 185.1h1.8v1.8h-1.8zM231.4 194.2h1.8v1.8h-1.8zM207.3 214.8h1.8v1.8h-1.8zM244.7 187.3h1.8v1.8h-1.8zM233.8 189.5h1.8v1.8h-1.8zM209.2 218.1h1.8v1.8h-1.8zM244.5 195.2h1.8v1.8h-1.8zM195.2 226.8h1.8v1.8h-1.8zM209.0 217.1h1.8v1.8h-1.8zM226.7 182.3h1.8v1.8h-1.8zM253.0 192.2h1.8v1.8h-1.8zM229.6 202.5h1.8v1.8h-1.8zM253.5 179.6h1.8v1.8h-1.8zM181.6 250.5h1.8v1.8h-1.8zM263.6 161.9h1.8v1.8h-1.8zM210.7 216.1h1.8v1.8h-1.8zM218.2 199.8h1.8v1.8h-1.8zM246.4 182.1h1.8v1.8h-1.8zM289.2 140.1h1.8v1.8h-1.8zM210.5 211.6h1.8v1.8h-1.8zM241.6 191.4h1.8v1.8h-1.8zM155.8 267.3h1.8v1.8h-1.8zM232.4 189.7h1.8v1.8h-1.8zM225.9 203.0h1.8v1.8h-1.8zM264.9 161.8h1.8v1.8h-1.8zM204.8 222.9h1.8v1.8h-1.8zM276.8 146.5h1.8v1.8h-1.8zM245.9 165.3h1.8v1.8h-1.8zM231.5 191.3h1.8v1.8h-1.8zM233.3 191.1h1.8v1.8h-1.8zM250.5 165.1h1.8v1.8h-1.8zM251.0 176.7h1.8v1.8h-1.8zM236.8 184.0h1.8v1.8h-1.8zM307.2 120.2h1.8v1.8h-1.8zM220.9 213.8h1.8v1.8h-1.8zM269.9 169.2h1.8v1.8h-1.8zM246.2 179.6h1.8v1.8h-1.8zM200.1 240.0h1.8v1.8h-1.8zM263.0 154.9h1.8v1.8h-1.8zM238.9 180.9h1.8v1.8h-1.8zM282.7 153.8h1.8v1.8h-1.8zM262.4 165.2h1.8v1.8h-1.8zM232.4 188.8h1.8v1.8h-1.8zM207.8 213.8h1.8v1.8h-1.8zM210.1 216.3h1.8v1.8h-1.8zM206.1 214.6h1.8v1.8h-1.8zM197.7 232.9h1.8v1.8h-1.8zM222.1 201.6h1.8v1.8h-1.8zM256.7 174.0h1.8v1.8h-1.8zM219.6 196.4h1.8v1.8h-1.8zM245.4 162.6h1.8v1.8h-1.8zM211.1 216.8h1.8v1.8h-1.8zM262.9 164.1h1.8v1.8h-1.8zM268.6 155.3h1.8v1.8h-1.8zM248.2 182.9h1.8v1.8h-1.8zM262.2 172.1h1.8v1.8h-1.8zM209.6 207.7h1.8v1.8h-1.8zM224.0 207.6h1.8v1.8h-1.8zM233.2 194.7h1.8v1.8h-1.8zM205.0 225.2h1.8v1.8h-1.8zM210.6 219.5h1.8v1.8h-1.8zM337.4 99.8h1.8v1.8h-1.8zM281.7 141.3h1.8v1.8h-1.8zM242.4 177.4h1.8v1.8h-1.8zM201.2 224.1h1.8v1.8h-1.8zM270.4 166.4h1.8v1.8h-1.8zM212.9 206.8h1.8v1.8h-1.8zM205.6 221.1h1.8v1.8h-1.8zM216.0 201.2h1.8v1.8h-1.8zM220.7 199.8h1.8v1.8h-1.8zM202.3 218.2h1.8v1.8h-1.8zM207.7 213.0h1.8v1.8h-1.8zM228.7 195.3h1.8v1.8h-1.8zM279.4 139.4h1.8v1.8h-1.8zM289.8 140.1h1.8v1.8h-1.8zM177.6 251.8h1.8v1.8h-1.8zM256.9 160.6h1.8v1.8h-1.8zM221.1 204.7h1.8v1.8h-1.8zM239.0 181.3h1.8v1.8h-1.8zM216.9 208.5h1.8v1.8h-1.8zM248.7 179.6h1.8v1.8h-1.8zM277.8 149.4h1.8v1.8h-1.8zM287.6 141.2h1.8v1.8h-1.8zM198.8 225.1h1.8v1.8h-1.8zM225.8 188.9h1.8v1.8h-1.8zM210.5 219.9h1.8v1.8h-1.8zM209.2 223.7h1.8v1.8h-1.8zM204.2 216.1h1.8v1.8h-1.8zM255.2 164.4h1.8v1.8h-1.8zM289.1 145.6h1.8v1.8h-1.8zM211.3 208.9h1.8v1.8h-1.8zM213.4 205.3h1.8v1.8h-1.8zM226.9 203.2h1.8v1.8h-1.8zM248.8 176.3h1.8v1.8h-1.8zM250.1 181.0h1.8v1.8h-1.8zM257.7 183.5h1.8v1.8h-1.8zM250.8 172.1h1.8v1.8h-1.8zM247.8 181.5h1.8v1.8h-1.8zM229.0 202.4h1.8v1.8h-1.8zM213.9 218.7h1.8v1.8h-1.8zM238.7 193.8h1.8v1.8h-1.8zM267.4 164.5h1.8v1.8h-1.8zM252.0 173.9h1.8v1.8h-1.8zM183.0 248.3h1.8v1.8h-1.8zM297.6 128.9h1.8v1.8h-1.8zM198.0 239.2h1.8v1.8h-1.8zM220.6 213.3h1.8v1.8h-1.8zM222.7 189.7h1.8v1.8h-1.8zM181.1 237.7h1.8v1.8h-1.8zM262.2 162.8h1.8v1.8h-1.8zM168.5 257.4h1.8v1.8h-1.8zM248.0 170.3h1.8v1.8h-1.8zM231.8 187.9h1.8v1.8h-1.8zM303.4 120.9h1.8v1.8h-1.8zM216.2 201.0h1.8v1.8h-1.8zM188.8 245.5h1.8v1.8h-1.8zM222.7 197.3h1.8v1.8h-1.8zM232.2 188.5h1.8v1.8h-1.8zM289.5 131.4h1.8v1.8h-1.8zM222.0 213.1h1.8v1.8h-1.8zM273.8 150.8h1.8v1.8h-1.8zM161.9 266.0h1.8v1.8h-1.8zM269.4 170.2h1.8v1.8h-1.8zM217.0 215.6h1.8v1.8h-1.8zM266.6 173.8h1.8v1.8h-1.8zM247.8 174.8h1.8v1.8h-1.8zM296.6 130.3h1.8v1.8h-1.8zM232.0 195.0h1.8v1.8h-1.8zM191.0 241.1h1.8v1.8h-1.8zM270.7 160.5h1.8v1.8h-1.8zM222.1 209.8h1.8v1.8h-1.8zM205.4 208.9h1.8v1.8h-1.8zM259.9 177.6h1.8v1.8h-1.8zM191.8 232.1h1.8v1.8h-1.8zM193.7 226.1h1.8v1.8h-1.8zM266.8 160.9h1.8v1.8h-1.8zM236.4 174.3h1.8v1.8h-1.8zM261.7 158.5h1.8v1.8h-1.8zM251.1 172.8h1.8v1.8h-1.8zM306.6 119.0h1.8v1.8h-1.8zM228.9 196.5h1.8v1.8h-1.8zM260.2 168.7h1.8v1.8h-1.8zM263.5 170.2h1.8v1.8h-1.8zM254.6 170.0h1.8v1.8h-1.8zM199.3 229.1h1.8v1.8h-1.8zM224.3 207.0h1.8v1.8h-1.8zM193.9 238.5h1.8v1.8h-1.8zM204.1 219.8h1.8v1.8h-1.8zM190.9 242.0h1.8v1.8h-1.8zM186.9 236.9h1.8v1.8h-1.8zM249.1 177.1h1.8v1.8h-1.8zM195.7 239.7h1.8v1.8h-1.8zM277.9 143.4h1.8v1.8h-1.8zM204.3 231.0h1.8v1.8h-1.8zM201.6 220.2h1.8v1.8h-1.8zM267.7 153.7h1.8v1.8h-1.8zM228.8 183.1h1.8v1.8h-1.8zM252.2 178.4h1.8v1.8h-1.8zM214.3 207.3h1.8v1.8h-1.8zM230.5 202.9h1.8v1.8h-1.8zM344.7 89.4h1.8v1.8h-1.8zM212.4 211.6h1.8v1.8h-1.8zM200.8 225.4h1.8v1.8h-1.8zM234.6 193.1h1.8v1.8h-1.8zM286.4 141.6h1.8v1.8h-1.8zM248.9 180.2h1.8v1.8h-1.8zM235.5 194.5h1.8v1.8h-1.8zM238.3 204.3h1.8v1.8h-1.8zM217.7 215.8h1.8v1.8h-1.8zM275.3 149.0h1.8v1.8h-1.8zM274.4 159.3h1.8v1.8h-1.8zM196.7 230.8h1.8v1.8h-1.8zM192.1 236.5h1.8v1.8h-1.8zM274.9 151.8h1.8v1.8h-1.8zM281.0 151.7h1.8v1.8h-1.8zM227.4 197.0h1.8v1.8h-1.8zM365.2 67.3h1.8v1.8h-1.8zM250.7 172.7h1.8v1.8h-1.8zM224.5 197.2h1.8v1.8h-1.8zM289.3 142.7h1.8v1.8h-1.8zM254.1 181.0h1.8v1.8h-1.8zM204.8 227.3h1.8v1.8h-1.8zM230.0 200.2h1.8v1.8h-1.8zM234.0 198.9h1.8v1.8h-1.8zM191.7 240.9h1.8v1.8h-1.8zM176.9 258.8h1.8v1.8h-1.8zM296.0 130.4h1.8v1.8h-1.8zM229.5 195.8h1.8v1.8h-1.8zM228.2 193.7h1.8v1.8h-1.8zM199.3 225.9h1.8v1.8h-1.8zM247.4 183.5h1.8v1.8h-1.8zM202.1 226.2h1.8v1.8h-1.8zM222.7 211.3h1.8v1.8h-1.8zM235.6 183.0h1.8v1.8h-1.8zM240.8 197.3h1.8v1.8h-1.8zM277.1 151.3h1.8v1.8h-1.8zM218.9 197.5h1.8v1.8h-1.8zM213.4 215.8h1.8v1.8h-1.8zM244.0 169.6h1.8v1.8h-1.8zM232.2 192.4h1.8v1.8h-1.8zM252.8 176.3h1.8v1.8h-1.8zM235.0 186.0h1.8v1.8h-1.8zM201.6 228.7h1.8v1.8h-1.8zM205.6 213.9h1.8v1.8h-1.8zM267.7 178.5h1.8v1.8h-1.8zM212.2 207.9h1.8v1.8h-1.8zM221.2 212.4h1.8v1.8h-1.8zM258.3 171.9h1.8v1.8h-1.8zM257.3 181.4h1.8v1.8h-1.8zM266.0 152.1h1.8v1.8h-1.8zM241.2 185.8h1.8v1.8h-1.8zM220.2 197.9h1.8v1.8h-1.8zM233.7 179.2h1.8v1.8h-1.8zM219.0 200.1h1.8v1.8h-1.8zM211.8 201.8h1.8v1.8h-1.8zM169.6 261.0h1.8v1.8h-1.8zM251.9 173.6h1.8v1.8h-1.8zM256.3 165.3h1.8v1.8h-1.8zM206.1 223.3h1.8v1.8h-1.8zM247.7 173.9h1.8v1.8h-1.8zM209.5 217.0h1.8v1.8h-1.8zM252.8 160.4h1.8v1.8h-1.8zM234.2 205.0h1.8v1.8h-1.8zM211.8 213.9h1.8v1.8h-1.8zM234.1 200.7h1.8v1.8h-1.8zM267.4 155.7h1.8v1.8h-1.8zM292.8 130.4h1.8v1.8h-1.8zM282.1 146.6h1.8v1.8h-1.8zM270.3 163.0h1.8v1.8h-1.8zM225.0 210.1h1.8v1.8h-1.8zM227.3 202.0h1.8v1.8h-1.8zM297.5 129.2h1.8v1.8h-1.8zM242.3 188.6h1.8v1.8h-1.8zM291.5 134.1h1.8v1.8h-1.8zM232.4 195.5h1.8v1.8h-1.8zM197.2 217.7h1.8v1.8h-1.8zM286.9 138.9h1.8v1.8h-1.8zM224.9 194.7h1.8v1.8h-1.8zM222.7 195.9h1.8v1.8h-1.8zM190.3 229.0h1.8v1.8h-1.8zM299.4 121.5h1.8v1.8h-1.8zM213.9 222.0h1.8v1.8h-1.8zM232.0 202.0h1.8v1.8h-1.8zM221.0 210.2h1.8v1.8h-1.8zM169.1 267.1h1.8v1.8h-1.8zM226.3 192.9h1.8v1.8h-1.8zM283.1 144.1h1.8v1.8h-1.8zM248.2 171.2h1.8v1.8h-1.8zM192.8 224.9h1.8v1.8h-1.8zM214.5 209.5h1.8v1.8h-1.8zM221.3 218.9h1.8v1.8h-1.8zM225.7 196.8h1.8v1.8h-1.8zM254.1 165.6h1.8v1.8h-1.8zM270.3 147.4h1.8v1.8h-1.8zM283.9 150.8h1.8v1.8h-1.8zM253.2 177.0h1.8v1.8h-1.8zM226.8 212.3h1.8v1.8h-1.8zM241.0 191.2h1.8v1.8h-1.8zM160.5 264.9h1.8v1.8h-1.8zM247.2 187.4h1.8v1.8h-1.8zM240.3 181.7h1.8v1.8h-1.8zM265.9 173.6h1.8v1.8h-1.8zM216.3 222.3h1.8v1.8h-1.8zM260.5 170.8h1.8v1.8h-1.8zM246.0 173.2h1.8v1.8h-1.8zM271.5 163.1h1.8v1.8h-1.8zM207.3 224.1h1.8v1.8h-1.8zM230.1 200.3h1.8v1.8h-1.8zM227.4 200.6h1.8v1.8h-1.8zM211.5 213.5h1.8v1.8h-1.8zM230.8 190.5h1.8v1.8h-1.8zM164.1 264.0h1.8v1.8h-1.8zM178.5 246.0h1.8v1.8h-1.8zM263.9 158.4h1.8v1.8h-1.8zM242.5 177.4h1.8v1.8h-1.8zM229.5 195.8h1.8v1.8h-1.8zM213.1 208.7h1.8v1.8h-1.8zM224.1 184.3h1.8v1.8h-1.8zM226.7 209.8h1.8v1.8h-1.8zM165.1 265.2h1.8v1.8h-1.8zM239.5 190.8h1.8v1.8h-1.8zM202.0 226.9h1.8v1.8h-1.8zM263.5 158.3h1.8v1.8h-1.8zM267.5 157.8h1.8v1.8h-1.8zM270.4 166.2h1.8v1.8h-1.8zM271.6 150.0h1.8v1.8h-1.8zM272.5 150.3h1.8v1.8h-1.8zM190.1 224.7h1.8v1.8h-1.8zM224.5 210.5h1.8v1.8h-1.8zM225.7 214.2h1.8v1.8h-1.8zM239.4 169.4h1.8v1.8h-1.8zM205.8 221.5h1.8v1.8h-1.8zM273.8 158.0h1.8v1.8h-1.8zM229.5 205.6h1.8v1.8h-1.8zM268.5 156.0h1.8v1.8h-1.8zM230.9 195.6h1.8v1.8h-1.8zM244.9 182.9h1.8v1.8h-1.8zM273.1 151.8h1.8v1.8h-1.8zM211.6 205.1h1.8v1.8h-1.8zM241.5 182.0h1.8v1.8h-1.8zM245.9 181.9h1.8v1.8h-1.8zM218.5 207.8h1.8v1.8h-1.8zM160.1 265.4h1.8v1.8h-1.8zM290.7 137.4h1.8v1.8h-1.8zM249.1 168.3h1.8v1.8h-1.8zM231.9 213.7h1.8v1.8h-1.8zM258.1 163.6h1.8v1.8h-1.8zM259.5 176.8h1.8v1.8h-1.8zM221.0 202.5h1.8v1.8h-1.8zM193.4 237.1h1.8v1.8h-1.8zM267.1 169.8h1.8v1.8h-1.8zM234.9 193.6h1.8v1.8h-1.8zM229.2 191.3h1.8v1.8h-1.8zM263.7 170.4h1.8v1.8h-1.8zM237.3 189.9h1.8v1.8h-1.8zM240.1 180.0h1.8v1.8h-1.8zM307.3 118.9h1.8v1.8h-1.8zM274.7 161.6h1.8v1.8h-1.8zM209.9 225.0h1.8v1.8h-1.8zM260.9 159.3h1.8v1.8h-1.8zM169.1 256.6h1.8v1.8h-1.8zM193.1 232.9h1.8v1.8h-1.8zM223.7 200.3h1.8v1.8h-1.8zM224.3 210.6h1.8v1.8h-1.8zM241.3 184.2h1.8v1.8h-1.8zM240.7 192.9h1.8v1.8h-1.8zM212.4 216.2h1.8v1.8h-1.8zM198.7 218.1h1.8v1.8h-1.8zM227.2 215.5h1.8v1.8h-1.8zM245.7 202.8h1.8v1.8h-1.8zM222.1 210.2h1.8v1.8h-1.8zM205.6 217.2h1.8v1.8h-1.8zM256.2 171.2h1.8v1.8h-1.8zM171.2 251.7h1.8v1.8h-1.8zM251.8 170.4h1.8v1.8h-1.8zM286.5 140.2h1.8v1.8h-1.8zM210.2 214.8h1.8v1.8h-1.8zM267.8 157.7h1.8v1.8h-1.8zM257.2 174.5h1.8v1.8h-1.8zM232.8 189.0h1.8v1.8h-1.8zM226.5 202.3h1.8v1.8h-1.8zM264.5 164.7h1.8v1.8h-1.8zM222.4 204.2h1.8v1.8h-1.8zM274.6 148.2h1.8v1.8h-1.8zM241.8 179.3h1.8v1.8h-1.8zM250.2 181.3h1.8v1.8h-1.8zM197.9 225.1h1.8v1.8h-1.8zM166.9 253.4h1.8v1.8h-1.8zM253.4 173.7h1.8v1.8h-1.8zM269.0 164.6h1.8v1.8h-1.8zM201.5 221.4h1.8v1.8h-1.8zM261.3 172.0h1.8v1.8h-1.8zM262.6 158.0h1.8v1.8h-1.8zM277.0 152.4h1.8v1.8h-1.8zM226.9 211.7h1.8v1.8h-1.8zM277.4 154.0h1.8v1.8h-1.8zM244.2 185.7h1.8v1.8h-1.8zM240.5 190.1h1.8v1.8h-1.8zM203.4 221.1h1.8v1.8h-1.8zM241.8 189.9h1.8v1.8h-1.8zM191.3 236.0h1.8v1.8h-1.8zM260.8 154.5h1.8v1.8h-1.8zM362.3 70.8h1.8v1.8h-1.8zM273.6 147.8h1.8v1.8h-1.8zM278.4 155.2h1.8v1.8h-1.8zM252.1 176.7h1.8v1.8h-1.8zM281.8 134.5h1.8v1.8h-1.8zM198.4 228.5h1.8v1.8h-1.8zM219.6 204.8h1.8v1.8h-1.8zM304.1 121.2h1.8v1.8h-1.8zM252.9 174.7h1.8v1.8h-1.8zM218.7 209.3h1.8v1.8h-1.8zM229.9 187.2h1.8v1.8h-1.8zM198.8 228.9h1.8v1.8h-1.8zM220.6 206.6h1.8v1.8h-1.8zM262.4 173.2h1.8v1.8h-1.8zM219.7 210.9h1.8v1.8h-1.8zM267.7 155.8h1.8v1.8h-1.8zM279.1 159.0h1.8v1.8h-1.8zM249.1 201.0h1.8v1.8h-1.8zM259.5 178.4h1.8v1.8h-1.8zM206.2 223.1h1.8v1.8h-1.8zM251.3 175.1h1.8v1.8h-1.8zM254.8 177.1h1.8v1.8h-1.8zM190.6 235.1h1.8v1.8h-1.8zM223.4 208.0h1.8v1.8h-1.8zM255.6 170.7h1.8v1.8h-1.8zM221.9 199.6h1.8v1.8h-1.8zM220.1 201.1h1.8v1.8h-1.8zM306.0 119.9h1.8v1.8h-1.8zM262.3 170.9h1.8v1.8h-1.8zM236.7 183.1h1.8v1.8h-1.8zM271.8 162.6h1.8v1.8h-1.8zM173.9 254.5h1.8v1.8h-1.8zM201.6 227.3h1.8v1.8h-1.8zM225.5 198.5h1.8v1.8h-1.8zM213.7 209.2h1.8v1.8h-1.8zM218.4 201.5h1.8v1.8h-1.8zM295.4 134.5h1.8v1.8h-1.8zM221.7 216.8h1.8v1.8h-1.8zM208.0 217.3h1.8v1.8h-1.8zM283.4 148.9h1.8v1.8h-1.8zM260.5 172.0h1.8v1.8h-1.8zM274.5 148.5h1.8v1.8h-1.8zM232.9 177.4h1.8v1.8h-1.8zM260.1 174.5h1.8v1.8h-1.8zM225.9 182.9h1.8v1.8h-1.8zM171.6 251.3h1.8v1.8h-1.8zM177.6 241.0h1.8v1.8h-1.8zM252.8 157.4h1.8v1.8h-1.8zM193.9 238.9h1.8v1.8h-1.8zM196.6 229.9h1.8v1.8h-1.8zM256.8 169.6h1.8v1.8h-1.8zM261.3 167.0h1.8v1.8h-1.8zM290.7 144.2h1.8v1.8h-1.8zM188.7 244.8h1.8v1.8h-1.8zM217.0 211.2h1.8v1.8h-1.8zM275.0 154.0h1.8v1.8h-1.8zM227.4 195.0h1.8v1.8h-1.8zM272.0 170.7h1.8v1.8h-1.8zM222.0 202.9h1.8v1.8h-1.8zM254.1 188.2h1.8v1.8h-1.8zM233.4 188.6h1.8v1.8h-1.8zM281.5 142.8h1.8v1.8h-1.8zM278.3 157.8h1.8v1.8h-1.8zM240.8 184.1h1.8v1.8h-1.8zM254.8 163.6h1.8v1.8h-1.8zM169.1 257.2h1.8v1.8h-1.8zM227.3 195.2h1.8v1.8h-1.8zM191.0 223.8h1.8v1.8h-1.8zM258.0 175.9h1.8v1.8h-1.8zM242.0 197.3h1.8v1.8h-1.8zM257.1 171.3h1.8v1.8h-1.8zM155.8 269.2h1.8v1.8h-1.8zM185.2 249.5h1.8v1.8h-1.8zM251.4 170.2h1.8v1.8h-1.8zM226.4 194.3h1.8v1.8h-1.8zM239.9 195.5h1.8v1.8h-1.8zM262.7 161.8h1.8v1.8h-1.8zM206.0 231.4h1.8v1.8h-1.8zM280.1 149.3h1.8v1.8h-1.8zM231.0 191.7h1.8v1.8h-1.8zM226.9 197.4h1.8v1.8h-1.8zM256.8 180.4h1.8v1.8h-1.8zM230.3 199.4h1.8v1.8h-1.8zM218.4 214.6h1.8v1.8h-1.8zM223.6 208.3h1.8v1.8h-1.8zM212.9 217.0h1.8v1.8h-1.8zM280.6 156.0h1.8v1.8h-1.8zM229.6 189.5h1.8v1.8h-1.8zM209.0 223.7h1.8v1.8h-1.8zM233.4 199.5h1.8v1.8h-1.8zM223.8 205.8h1.8v1.8h-1.8zM186.4 244.9h1.8v1.8h-1.8zM223.5 203.3h1.8v1.8h-1.8zM248.5 179.7h1.8v1.8h-1.8zM240.5 178.5h1.8v1.8h-1.8zM269.0 164.5h1.8v1.8h-1.8zM262.3 177.0h1.8v1.8h-1.8zM170.5 251.8h1.8v1.8h-1.8zM257.8 170.0h1.8v1.8h-1.8zM274.4 154.2h1.8v1.8h-1.8zM239.5 192.7h1.8v1.8h-1.8zM268.7 153.1h1.8v1.8h-1.8zM253.5 172.9h1.8v1.8h-1.8zM253.9 161.1h1.8v1.8h-1.8zM198.6 223.8h1.8v1.8h-1.8zM289.8 133.9h1.8v1.8h-1.8zM260.2 164.7h1.8v1.8h-1.8zM193.6 230.6h1.8v1.8h-1.8zM269.1 166.0h1.8v1.8h-1.8zM231.0 175.0h1.8v1.8h-1.8zM187.7 243.7h1.8v1.8h-1.8zM217.1 208.2h1.8v1.8h-1.8zM202.2 226.6h1.8v1.8h-1.8zM237.7 191.1h1.8v1.8h-1.8zM282.4 153.2h1.8v1.8h-1.8zM222.7 197.4h1.8v1.8h-1.8zM259.1 173.4h1.8v1.8h-1.8zM300.7 124.4h1.8v1.8h-1.8zM200.4 235.5h1.8v1.8h-1.8zM235.3 195.0h1.8v1.8h-1.8zM211.2 205.2h1.8v1.8h-1.8zM303.6 123.9h1.8v1.8h-1.8zM238.9 188.8h1.8v1.8h-1.8zM295.5 131.1h1.8v1.8h-1.8zM217.7 214.3h1.8v1.8h-1.8zM251.7 170.8h1.8v1.8h-1.8zM250.6 176.4h1.8v1.8h-1.8zM258.8 170.8h1.8v1.8h-1.8zM209.3 215.9h1.8v1.8h-1.8zM259.0 167.6h1.8v1.8h-1.8zM203.4 221.9h1.8v1.8h-1.8zM248.1 169.6h1.8v1.8h-1.8zM239.1 191.6h1.8v1.8h-1.8zM215.7 211.0h1.8v1.8h-1.8zM219.5 197.7h1.8v1.8h-1.8zM292.2 131.6h1.8v1.8h-1.8zM227.8 197.9h1.8v1.8h-1.8zM196.2 225.9h1.8v1.8h-1.8zM196.3 238.4h1.8v1.8h-1.8zM261.8 157.1h1.8v1.8h-1.8zM179.0 251.4h1.8v1.8h-1.8zM297.9 124.3h1.8v1.8h-1.8zM227.2 214.7h1.8v1.8h-1.8zM264.1 159.3h1.8v1.8h-1.8zM268.2 161.7h1.8v1.8h-1.8zM235.8 182.6h1.8v1.8h-1.8zM287.2 135.9h1.8v1.8h-1.8zM271.3 151.7h1.8v1.8h-1.8zM238.2 195.4h1.8v1.8h-1.8zM308.5 121.3h1.8v1.8h-1.8zM256.5 180.0h1.8v1.8h-1.8zM211.7 210.3h1.8v1.8h-1.8zM226.9 187.9h1.8v1.8h-1.8zM204.6 213.7h1.8v1.8h-1.8zM260.7 171.6h1.8v1.8h-1.8zM240.7 190.4h1.8v1.8h-1.8zM269.1 157.5h1.8v1.8h-1.8zM171.6 246.0h1.8v1.8h-1.8zM220.5 200.9h1.8v1.8h-1.8zM234.2 192.6h1.8v1.8h-1.8zM222.8 212.6h1.8v1.8h-1.8zM163.1 265.6h1.8v1.8h-1.8zM301.7 127.9h1.8v1.8h-1.8zM194.2 236.9h1.8v1.8h-1.8zM241.2 175.6h1.8v1.8h-1.8zM253.8 179.3h1.8v1.8h-1.8zM226.5 203.5h1.8v1.8h-1.8zM209.0 229.4h1.8v1.8h-1.8zM211.9 212.2h1.8v1.8h-1.8zM328.9 102.1h1.8v1.8h-1.8zM203.3 221.8h1.8v1.8h-1.8zM236.1 196.0h1.8v1.8h-1.8zM227.8 206.6h1.8v1.8h-1.8zM194.2 227.6h1.8v1.8h-1.8zM292.3 137.3h1.8v1.8h-1.8zM215.4 209.8h1.8v1.8h-1.8zM228.9 196.9h1.8v1.8h-1.8zM250.6 184.9h1.8v1.8h-1.8zM181.6 249.0h1.8v1.8h-1.8zM281.3 155.6h1.8v1.8h-1.8zM244.9 178.5h1.8v1.8h-1.8zM247.0 186.6h1.8v1.8h-1.8zM279.3 144.3h1.8v1.8h-1.8zM215.5 207.0h1.8v1.8h-1.8zM204.6 213.9h1.8v1.8h-1.8zM243.7 188.3h1.8v1.8h-1.8zM253.9 167.3h1.8v1.8h-1.8zM282.9 149.7h1.8v1.8h-1.8zM257.5 170.6h1.8v1.8h-1.8zM283.2 142.3h1.8v1.8h-1.8zM245.1 157.6h1.8v1.8h-1.8zM240.9 201.3h1.8v1.8h-1.8zM213.0 218.2h1.8v1.8h-1.8zM198.5 210.7h1.8v1.8h-1.8zM263.5 159.3h1.8v1.8h-1.8zM269.8 202.6h1.8v1.8h-1.8zM220.1 170.6h1.8v1.8h-1.8zM228.9 195.2h1.8v1.8h-1.8zM228.2 227.1h1.8v1.8h-1.8zM221.6 203.0h1.8v1.8h-1.8zM205.6 220.1h1.8v1.8h-1.8zM256.4 176.1h1.8v1.8h-1.8zM159.0 275.7h1.8v1.8h-1.8zM254.5 205.2h1.8v1.8h-1.8zM221.6 212.6h1.8v1.8h-1.8zM164.6 266.1h1.8v1.8h-1.8zM310.2 116.2h1.8v1.8h-1.8zM220.9 215.9h1.8v1.8h-1.8zM184.8 243.7h1.8v1.8h-1.8zM213.8 222.5h1.8v1.8h-1.8zM183.1 248.4h1.8v1.8h-1.8zM285.4 170.7h1.8v1.8h-1.8zM205.6 238.4h1.8v1.8h-1.8zM169.8 243.3h1.8v1.8h-1.8zM240.9 194.5h1.8v1.8h-1.8zM276.6 132.0h1.8v1.8h-1.8zM216.3 202.1h1.8v1.8h-1.8zM227.0 172.4h1.8v1.8h-1.8zM229.1 234.1h1.8v1.8h-1.8zM318.2 105.0h1.8v1.8h-1.8zM208.3 209.5h1.8v1.8h-1.8zM280.5 142.6h1.8v1.8h-1.8zM206.2 192.2h1.8v1.8h-1.8zM290.6 158.1h1.8v1.8h-1.8zM209.9 224.6h1.8v1.8h-1.8zM228.4 192.6h1.8v1.8h-1.8zM219.0 228.9h1.8v1.8h-1.8zM246.5 169.1h1.8v1.8h-1.8zM258.9 153.7h1.8v1.8h-1.8zM217.2 215.9h1.8v1.8h-1.8zM260.4 169.4h1.8v1.8h-1.8zM261.9 207.9h1.8v1.8h-1.8zM213.1 187.0h1.8v1.8h-1.8zM215.4 186.3h1.8v1.8h-1.8zM274.3 172.8h1.8v1.8h-1.8zM249.0 173.6h1.8v1.8h-1.8zM194.4 228.2h1.8v1.8h-1.8zM190.8 224.3h1.8v1.8h-1.8zM216.4 178.0h1.8v1.8h-1.8zM240.6 168.0h1.8v1.8h-1.8zM252.1 184.4h1.8v1.8h-1.8zM185.9 214.1h1.8v1.8h-1.8zM220.5 203.5h1.8v1.8h-1.8zM256.2 160.9h1.8v1.8h-1.8zM226.6 198.1h1.8v1.8h-1.8zM254.0 237.5h1.8v1.8h-1.8zM158.3 272.3h1.8v1.8h-1.8zM234.0 181.9h1.8v1.8h-1.8zM239.5 201.0h1.8v1.8h-1.8zM289.1 168.2h1.8v1.8h-1.8zM286.3 155.2h1.8v1.8h-1.8zM286.2 159.9h1.8v1.8h-1.8zM197.2 191.1h1.8v1.8h-1.8zM250.4 148.8h1.8v1.8h-1.8zM231.7 167.0h1.8v1.8h-1.8zM301.9 143.0h1.8v1.8h-1.8zM249.5 206.3h1.8v1.8h-1.8zM284.0 138.8h1.8v1.8h-1.8zM220.1 187.7h1.8v1.8h-1.8zM256.4 146.4h1.8v1.8h-1.8zM210.3 226.9h1.8v1.8h-1.8zM246.0 174.5h1.8v1.8h-1.8zM279.7 139.0h1.8v1.8h-1.8zM223.7 202.2h1.8v1.8h-1.8zM211.9 218.5h1.8v1.8h-1.8zM169.6 263.9h1.8v1.8h-1.8zM187.0 246.9h1.8v1.8h-1.8zM188.9 225.9h1.8v1.8h-1.8zM252.1 166.4h1.8v1.8h-1.8zM236.1 175.1h1.8v1.8h-1.8zM195.6 237.6h1.8v1.8h-1.8zM204.8 217.0h1.8v1.8h-1.8zM195.1 229.1h1.8v1.8h-1.8zM208.9 208.5h1.8v1.8h-1.8zM265.9 177.6h1.8v1.8h-1.8zM290.5 146.2h1.8v1.8h-1.8zM224.4 185.8h1.8v1.8h-1.8zM333.0 94.2h1.8v1.8h-1.8zM223.0 164.8h1.8v1.8h-1.8zM346.0 95.4h1.8v1.8h-1.8zM196.7 221.6h1.8v1.8h-1.8zM228.2 227.3h1.8v1.8h-1.8zM234.9 162.4h1.8v1.8h-1.8zM247.4 183.1h1.8v1.8h-1.8zM354.3 72.2h1.8v1.8h-1.8zM274.3 146.2h1.8v1.8h-1.8zM209.5 218.6h1.8v1.8h-1.8zM257.0 144.0h1.8v1.8h-1.8zM259.6 157.8h1.8v1.8h-1.8zM161.4 254.1h1.8v1.8h-1.8zM320.5 110.8h1.8v1.8h-1.8zM206.9 238.9h1.8v1.8h-1.8zM255.2 198.1h1.8v1.8h-1.8zM260.0 171.1h1.8v1.8h-1.8zM267.8 167.8h1.8v1.8h-1.8zM267.4 163.6h1.8v1.8h-1.8zM200.8 225.9h1.8v1.8h-1.8zM246.1 184.5h1.8v1.8h-1.8zM308.0 125.7h1.8v1.8h-1.8zM232.3 188.9h1.8v1.8h-1.8zM240.3 151.7h1.8v1.8h-1.8zM214.4 209.7h1.8v1.8h-1.8zM273.4 143.9h1.8v1.8h-1.8zM215.6 214.0h1.8v1.8h-1.8zM211.6 222.8h1.8v1.8h-1.8zM257.9 192.2h1.8v1.8h-1.8zM243.9 208.9h1.8v1.8h-1.8zM277.7 162.0h1.8v1.8h-1.8zM211.0 225.1h1.8v1.8h-1.8zM200.4 210.7h1.8v1.8h-1.8zM257.2 177.0h1.8v1.8h-1.8zM221.3 221.1h1.8v1.8h-1.8zM292.8 142.4h1.8v1.8h-1.8zM235.3 182.4h1.8v1.8h-1.8zM243.9 173.9h1.8v1.8h-1.8zM294.0 132.1h1.8v1.8h-1.8zM262.5 174.6h1.8v1.8h-1.8zM209.1 203.9h1.8v1.8h-1.8zM159.2 258.0h1.8v1.8h-1.8zM244.9 167.4h1.8v1.8h-1.8zM200.4 201.9h1.8v1.8h-1.8zM285.7 150.6h1.8v1.8h-1.8zM234.0 182.7h1.8v1.8h-1.8zM257.3 192.3h1.8v1.8h-1.8zM202.3 225.6h1.8v1.8h-1.8zM310.5 134.5h1.8v1.8h-1.8zM197.0 212.9h1.8v1.8h-1.8zM264.7 181.6h1.8v1.8h-1.8zM279.2 167.5h1.8v1.8h-1.8zM272.0 177.5h1.8v1.8h-1.8zM220.6 225.0h1.8v1.8h-1.8zM223.5 204.5h1.8v1.8h-1.8zM333.0 98.5h1.8v1.8h-1.8zM286.0 144.9h1.8v1.8h-1.8zM229.4 195.2h1.8v1.8h-1.8zM207.4 226.9h1.8v1.8h-1.8zM177.8 237.0h1.8v1.8h-1.8zM277.0 149.5h1.8v1.8h-1.8zM275.1 155.1h1.8v1.8h-1.8zM162.3 243.8h1.8v1.8h-1.8zM276.5 202.1h1.8v1.8h-1.8zM223.2 192.9h1.8v1.8h-1.8zM226.0 197.2h1.8v1.8h-1.8zM192.4 210.0h1.8v1.8h-1.8zM235.0 175.5h1.8v1.8h-1.8zM204.7 210.6h1.8v1.8h-1.8zM199.5 216.6h1.8v1.8h-1.8zM200.4 213.8h1.8v1.8h-1.8zM322.4 117.2h1.8v1.8h-1.8zM261.2 150.4h1.8v1.8h-1.8zM246.9 175.3h1.8v1.8h-1.8zM251.9 162.5h1.8v1.8h-1.8zM210.5 174.1h1.8v1.8h-1.8zM218.6 193.7h1.8v1.8h-1.8zM232.6 182.3h1.8v1.8h-1.8zM205.4 206.6h1.8v1.8h-1.8zM258.2 151.7h1.8v1.8h-1.8zM216.0 220.8h1.8v1.8h-1.8zM271.5 171.6h1.8v1.8h-1.8zM221.8 210.7h1.8v1.8h-1.8zM205.6 237.9h1.8v1.8h-1.8zM258.2 139.2h1.8v1.8h-1.8zM198.6 230.0h1.8v1.8h-1.8zM245.4 161.6h1.8v1.8h-1.8zM200.6 232.3h1.8v1.8h-1.8zM208.7 203.6h1.8v1.8h-1.8zM245.5 204.4h1.8v1.8h-1.8zM277.8 159.5h1.8v1.8h-1.8zM184.8 229.2h1.8v1.8h-1.8zM208.3 217.5h1.8v1.8h-1.8zM224.4 191.3h1.8v1.8h-1.8zM179.2 261.9h1.8v1.8h-1.8zM279.6 165.5h1.8v1.8h-1.8zM222.5 156.1h1.8v1.8h-1.8zM201.0 195.4h1.8v1.8h-1.8zM169.4 267.7h1.8v1.8h-1.8zM234.6 198.5h1.8v1.8h-1.8zM193.1 200.6h1.8v1.8h-1.8zM302.6 121.5h1.8v1.8h-1.8zM226.8 225.7h1.8v1.8h-1.8zM280.4 171.8h1.8v1.8h-1.8zM274.8 137.6h1.8v1.8h-1.8zM248.8 163.3h1.8v1.8h-1.8zM220.0 181.9h1.8v1.8h-1.8zM199.4 205.6h1.8v1.8h-1.8zM283.0 195.0h1.8v1.8h-1.8zM297.0 125.6h1.8v1.8h-1.8zM288.3 164.9h1.8v1.8h-1.8zM273.7 165.0h1.8v1.8h-1.8zM207.3 221.5h1.8v1.8h-1.8zM230.1 200.6h1.8v1.8h-1.8zM192.8 200.1h1.8v1.8h-1.8zM175.9 258.0h1.8v1.8h-1.8zM294.8 147.2h1.8v1.8h-1.8zM211.9 217.9h1.8v1.8h-1.8zM278.2 152.6h1.8v1.8h-1.8zM157.3 269.8h1.8v1.8h-1.8zM232.0 211.5h1.8v1.8h-1.8zM312.8 111.0h1.8v1.8h-1.8zM242.6 223.5h1.8v1.8h-1.8zM195.7 225.7h1.8v1.8h-1.8zM301.9 115.7h1.8v1.8h-1.8zM244.8 199.2h1.8v1.8h-1.8zM189.3 241.8h1.8v1.8h-1.8zM212.5 210.4h1.8v1.8h-1.8zM247.4 171.5h1.8v1.8h-1.8zM290.0 135.0h1.8v1.8h-1.8zM278.4 170.4h1.8v1.8h-1.8zM245.9 200.3h1.8v1.8h-1.8zM187.1 253.4h1.8v1.8h-1.8zM200.3 235.7h1.8v1.8h-1.8zM237.8 193.7h1.8v1.8h-1.8zM216.4 188.4h1.8v1.8h-1.8zM257.3 168.5h1.8v1.8h-1.8zM210.8 205.3h1.8v1.8h-1.8zM149.2 280.8h1.8v1.8h-1.8zM179.0 236.9h1.8v1.8h-1.8zM222.5 191.8h1.8v1.8h-1.8zM181.8 249.1h1.8v1.8h-1.8zM192.5 227.8h1.8v1.8h-1.8zM204.5 227.1h1.8v1.8h-1.8zM239.7 179.3h1.8v1.8h-1.8zM207.4 194.3h1.8v1.8h-1.8zM237.9 181.5h1.8v1.8h-1.8zM219.8 204.6h1.8v1.8h-1.8zM240.6 207.0h1.8v1.8h-1.8zM278.5 152.9h1.8v1.8h-1.8z" fill="#000"/>
<text x="1.9" y="12.3">(a)</text>
<text x="234.2" y="402" text-anchor="middle">buoy speed (m s<tspan dy="-6" font-size="14.5">−1</tspan><tspan dy="6">)</tspan></text>
<text transform="translate(17.6 195.3) rotate(-90)" text-anchor="middle" font-size="15.8">AMSR–E derived ice speed (m s<tspan dy="-6" font-size="14.5">−1</tspan><tspan dy="6">)</tspan></text>
<path d="M514.85 28.60v3.4M514.85 362.40v-3.4M494.00 341.54h3.4M827.60 341.54h-3.4M535.70 28.60v6.2M535.70 362.40v-6.2M494.00 320.68h6.2M827.60 320.68h-6.2M556.55 28.60v3.4M556.55 362.40v-3.4M494.00 299.81h3.4M827.60 299.81h-3.4M577.40 28.60v6.2M577.40 362.40v-6.2M494.00 278.95h6.2M827.60 278.95h-6.2M598.25 28.60v3.4M598.25 362.40v-3.4M494.00 258.09h3.4M827.60 258.09h-3.4M619.10 28.60v6.2M619.10 362.40v-6.2M494.00 237.22h6.2M827.60 237.22h-6.2M639.95 28.60v3.4M639.95 362.40v-3.4M494.00 216.36h3.4M827.60 216.36h-3.4M660.80 28.60v6.2M660.80 362.40v-6.2M494.00 195.50h6.2M827.60 195.50h-6.2M681.65 28.60v3.4M681.65 362.40v-3.4M494.00 174.64h3.4M827.60 174.64h-3.4M702.50 28.60v6.2M702.50 362.40v-6.2M494.00 153.78h6.2M827.60 153.78h-6.2M723.35 28.60v3.4M723.35 362.40v-3.4M494.00 132.91h3.4M827.60 132.91h-3.4M744.20 28.60v6.2M744.20 362.40v-6.2M494.00 112.05h6.2M827.60 112.05h-6.2M765.05 28.60v3.4M765.05 362.40v-3.4M494.00 91.19h3.4M827.60 91.19h-3.4M785.90 28.60v6.2M785.90 362.40v-6.2M494.00 70.32h6.2M827.60 70.32h-6.2M806.75 28.60v3.4M806.75 362.40v-3.4M494.00 49.46h3.4M827.60 49.46h-3.4" stroke="#222" stroke-width="1.1" fill="none"/>
<rect x="494.00" y="28.60" width="333.60" height="333.80" stroke="#262626" stroke-width="1.15" fill="none"/>
<text x="494.00" y="380.2" text-anchor="middle" font-size="15.5">−0.4</text>
<text x="487.70" y="367.80" text-anchor="end" font-size="15.5">−0.4</text>
<text x="535.70" y="380.2" text-anchor="middle" font-size="15.5">−0.3</text>
<text x="487.70" y="326.07" text-anchor="end" font-size="15.5">−0.3</text>
<text x="577.40" y="380.2" text-anchor="middle" font-size="15.5">−0.2</text>
<text x="487.70" y="284.35" text-anchor="end" font-size="15.5">−0.2</text>
<text x="619.10" y="380.2" text-anchor="middle" font-size="15.5">−0.1</text>
<text x="487.70" y="242.62" text-anchor="end" font-size="15.5">−0.1</text>
<text x="660.80" y="380.2" text-anchor="middle" font-size="15.5">0</text>
<text x="487.70" y="200.90" text-anchor="end" font-size="15.5">0</text>
<text x="702.50" y="380.2" text-anchor="middle" font-size="15.5">0.1</text>
<text x="487.70" y="159.18" text-anchor="end" font-size="15.5">0.1</text>
<text x="744.20" y="380.2" text-anchor="middle" font-size="15.5">0.2</text>
<text x="487.70" y="117.45" text-anchor="end" font-size="15.5">0.2</text>
<text x="785.90" y="380.2" text-anchor="middle" font-size="15.5">0.3</text>
<text x="487.70" y="75.72" text-anchor="end" font-size="15.5">0.3</text>
<text x="827.60" y="380.2" text-anchor="middle" font-size="15.5">0.4</text>
<text x="487.70" y="34.00" text-anchor="end" font-size="15.5">0.4</text>
<line x1="501.4" y1="362.4" x2="819.9" y2="29" stroke="#111" stroke-width="1.2" stroke-dasharray="3 2.2"/>
<path d="M584.3 168.2h1.8v1.8h-1.8zM590.7 172.8h1.8v1.8h-1.8zM633.1 158.9h1.8v1.8h-1.8zM638.6 166.0h1.8v1.8h-1.8zM659.2 161.9h1.8v1.8h-1.8zM655.6 171.9h1.8v1.8h-1.8zM651.9 176.9h1.8v1.8h-1.8zM656.5 175.7h1.8v1.8h-1.8zM622.4 180.3h1.8v1.8h-1.8zM626.3 182.1h1.8v1.8h-1.8zM623.6 188.7h1.8v1.8h-1.8zM600.9 188.2h1.8v1.8h-1.8zM600.9 190.5h1.8v1.8h-1.8zM618.6 192.7h1.8v1.8h-1.8zM638.3 181.4h1.8v1.8h-1.8zM642.9 180.3h1.8v1.8h-1.8zM639.5 185.9h1.8v1.8h-1.8zM642.9 185.9h1.8v1.8h-1.8zM647.4 183.7h1.8v1.8h-1.8zM649.7 185.9h1.8v1.8h-1.8zM651.9 190.5h1.8v1.8h-1.8zM640.6 191.6h1.8v1.8h-1.8zM771.3 66.1h1.8v1.8h-1.8zM763.3 75.4h1.8v1.8h-1.8zM770.8 75.4h1.8v1.8h-1.8zM767.9 78.2h1.8v1.8h-1.8zM753.1 81.1h1.8v1.8h-1.8zM756.5 81.1h1.8v1.8h-1.8zM758.8 82.2h1.8v1.8h-1.8zM750.2 88.4h1.8v1.8h-1.8zM771.7 86.8h1.8v1.8h-1.8zM763.3 91.1h1.8v1.8h-1.8zM755.4 92.9h1.8v1.8h-1.8zM757.7 95.2h1.8v1.8h-1.8zM759.9 97.4h1.8v1.8h-1.8zM753.1 97.4h1.8v1.8h-1.8zM749.7 96.3h1.8v1.8h-1.8zM746.3 96.3h1.8v1.8h-1.8zM742.9 95.2h1.8v1.8h-1.8zM739.5 96.3h1.8v1.8h-1.8zM732.7 99.7h1.8v1.8h-1.8zM735.0 105.4h1.8v1.8h-1.8zM740.7 103.8h1.8v1.8h-1.8zM738.4 108.8h1.8v1.8h-1.8zM725.9 109.9h1.8v1.8h-1.8zM704.3 109.2h1.8v1.8h-1.8zM702.1 109.9h1.8v1.8h-1.8zM713.4 113.3h1.8v1.8h-1.8zM713.4 115.1h1.8v1.8h-1.8zM722.5 116.7h1.8v1.8h-1.8zM728.2 117.9h1.8v1.8h-1.8zM719.1 119.7h1.8v1.8h-1.8zM716.8 121.3h1.8v1.8h-1.8zM732.7 120.1h1.8v1.8h-1.8zM738.4 121.3h1.8v1.8h-1.8zM742.9 115.6h1.8v1.8h-1.8zM748.6 115.1h1.8v1.8h-1.8zM746.3 124.7h1.8v1.8h-1.8zM741.8 122.4h1.8v1.8h-1.8zM705.5 123.5h1.8v1.8h-1.8zM730.4 126.9h1.8v1.8h-1.8zM725.9 128.1h1.8v1.8h-1.8zM721.4 129.2h1.8v1.8h-1.8zM715.7 130.3h1.8v1.8h-1.8zM711.2 131.5h1.8v1.8h-1.8zM707.8 132.6h1.8v1.8h-1.8zM703.2 133.7h1.8v1.8h-1.8zM700.9 136.0h1.8v1.8h-1.8zM712.3 133.7h1.8v1.8h-1.8zM716.8 136.0h1.8v1.8h-1.8zM721.4 134.9h1.8v1.8h-1.8zM725.9 138.3h1.8v1.8h-1.8zM732.7 139.4h1.8v1.8h-1.8zM742.9 137.2h1.8v1.8h-1.8zM731.6 150.8h1.8v1.8h-1.8zM724.8 146.2h1.8v1.8h-1.8zM716.8 151.9h1.8v1.8h-1.8zM712.3 147.4h1.8v1.8h-1.8zM705.5 142.8h1.8v1.8h-1.8zM698.7 145.1h1.8v1.8h-1.8zM696.4 140.6h1.8v1.8h-1.8zM694.1 138.3h1.8v1.8h-1.8zM691.9 147.4h1.8v1.8h-1.8zM687.3 146.2h1.8v1.8h-1.8zM685.1 150.8h1.8v1.8h-1.8zM680.1 145.1h1.8v1.8h-1.8zM681.7 151.9h1.8v1.8h-1.8zM705.5 161.0h1.8v1.8h-1.8zM707.8 163.2h1.8v1.8h-1.8zM699.8 166.7h1.8v1.8h-1.8zM706.6 176.9h1.8v1.8h-1.8zM737.2 193.2h1.8v1.8h-1.8zM592.3 198.0h1.8v1.8h-1.8zM592.9 202.0h1.8v1.8h-1.8zM619.0 198.2h1.8v1.8h-1.8zM552.1 272.4h1.8v1.8h-1.8zM552.6 272.8h1.8v1.8h-1.8zM549.8 293.9h1.8v1.8h-1.8zM561.2 291.2h1.8v1.8h-1.8zM563.4 292.1h1.8v1.8h-1.8zM569.1 266.3h1.8v1.8h-1.8zM573.7 264.9h1.8v1.8h-1.8zM575.9 287.1h1.8v1.8h-1.8zM578.9 288.9h1.8v1.8h-1.8zM579.3 267.2h1.8v1.8h-1.8zM581.6 264.4h1.8v1.8h-1.8zM585.0 254.2h1.8v1.8h-1.8zM585.0 259.9h1.8v1.8h-1.8zM585.0 263.3h1.8v1.8h-1.8zM587.3 272.4h1.8v1.8h-1.8zM590.7 272.4h1.8v1.8h-1.8zM591.8 274.7h1.8v1.8h-1.8zM595.2 276.9h1.8v1.8h-1.8zM589.5 259.9h1.8v1.8h-1.8zM592.9 259.9h1.8v1.8h-1.8zM595.2 253.1h1.8v1.8h-1.8zM597.5 245.2h1.8v1.8h-1.8zM599.7 263.3h1.8v1.8h-1.8zM602.0 258.8h1.8v1.8h-1.8zM613.4 261.7h1.8v1.8h-1.8zM628.6 289.9h1.8v1.8h-1.8zM637.6 275.8h1.8v1.8h-1.8zM656.5 266.0h1.8v1.8h-1.8zM651.3 254.2h1.8v1.8h-1.8zM649.7 246.3h1.8v1.8h-1.8zM653.1 239.5h1.8v1.8h-1.8zM638.3 252.6h1.8v1.8h-1.8zM632.7 252.0h1.8v1.8h-1.8zM627.0 250.8h1.8v1.8h-1.8zM621.3 248.6h1.8v1.8h-1.8zM707.8 194.6h1.8v1.8h-1.8zM696.4 200.5h1.8v1.8h-1.8zM702.8 204.3h1.8v1.8h-1.8zM693.0 205.4h1.8v1.8h-1.8zM693.7 210.7h1.8v1.8h-1.8zM682.8 216.3h1.8v1.8h-1.8zM677.1 207.7h1.8v1.8h-1.8zM676.0 211.1h1.8v1.8h-1.8zM674.8 221.3h1.8v1.8h-1.8zM672.6 218.6h1.8v1.8h-1.8zM670.3 227.7h1.8v1.8h-1.8zM668.7 228.6h1.8v1.8h-1.8zM668.0 232.2h1.8v1.8h-1.8zM674.2 241.1h1.8v1.8h-1.8zM693.7 227.7h1.8v1.8h-1.8zM699.8 225.4h1.8v1.8h-1.8zM664.6 223.6h1.8v1.8h-1.8zM662.4 221.3h1.8v1.8h-1.8zM661.2 224.7h1.8v1.8h-1.8zM663.5 210.0h1.8v1.8h-1.8zM666.9 211.1h1.8v1.8h-1.8zM669.2 204.3h1.8v1.8h-1.8zM671.4 203.2h1.8v1.8h-1.8zM737.2 194.1h1.8v1.8h-1.8zM666.3 188.4h1.8v1.8h-1.8zM591.4 254.5h1.8v1.8h-1.8zM651.0 199.6h1.8v1.8h-1.8zM663.1 184.4h1.8v1.8h-1.8zM627.8 231.8h1.8v1.8h-1.8zM621.5 241.6h1.8v1.8h-1.8zM614.6 237.1h1.8v1.8h-1.8zM689.6 170.2h1.8v1.8h-1.8zM617.7 234.8h1.8v1.8h-1.8zM725.2 124.8h1.8v1.8h-1.8zM626.0 230.6h1.8v1.8h-1.8zM661.0 199.0h1.8v1.8h-1.8zM677.0 186.8h1.8v1.8h-1.8zM651.3 213.6h1.8v1.8h-1.8zM663.5 191.3h1.8v1.8h-1.8zM686.6 169.2h1.8v1.8h-1.8zM719.6 127.4h1.8v1.8h-1.8zM684.2 176.4h1.8v1.8h-1.8zM620.3 229.8h1.8v1.8h-1.8zM682.5 179.8h1.8v1.8h-1.8zM599.3 247.8h1.8v1.8h-1.8zM635.3 220.5h1.8v1.8h-1.8zM655.5 206.1h1.8v1.8h-1.8zM638.6 218.9h1.8v1.8h-1.8zM607.9 242.0h1.8v1.8h-1.8zM615.0 244.1h1.8v1.8h-1.8zM624.7 212.8h1.8v1.8h-1.8zM673.5 186.8h1.8v1.8h-1.8zM636.7 213.1h1.8v1.8h-1.8zM686.8 171.2h1.8v1.8h-1.8zM589.4 257.4h1.8v1.8h-1.8zM626.7 220.8h1.8v1.8h-1.8zM622.5 248.1h1.8v1.8h-1.8zM655.2 196.8h1.8v1.8h-1.8zM654.7 204.7h1.8v1.8h-1.8zM630.8 214.0h1.8v1.8h-1.8zM666.0 189.2h1.8v1.8h-1.8zM695.9 172.5h1.8v1.8h-1.8zM652.3 198.9h1.8v1.8h-1.8zM675.6 198.4h1.8v1.8h-1.8zM674.9 181.1h1.8v1.8h-1.8zM684.5 176.0h1.8v1.8h-1.8zM626.3 222.8h1.8v1.8h-1.8zM656.9 200.4h1.8v1.8h-1.8zM674.0 198.9h1.8v1.8h-1.8zM673.5 174.8h1.8v1.8h-1.8zM672.3 187.4h1.8v1.8h-1.8zM640.9 203.6h1.8v1.8h-1.8zM685.7 180.7h1.8v1.8h-1.8zM695.8 157.5h1.8v1.8h-1.8zM692.4 151.1h1.8v1.8h-1.8zM639.2 211.1h1.8v1.8h-1.8zM648.7 214.4h1.8v1.8h-1.8zM664.6 187.5h1.8v1.8h-1.8zM624.5 227.3h1.8v1.8h-1.8zM630.6 216.1h1.8v1.8h-1.8zM651.5 204.5h1.8v1.8h-1.8zM651.9 204.6h1.8v1.8h-1.8zM684.5 177.0h1.8v1.8h-1.8zM594.1 253.2h1.8v1.8h-1.8zM640.3 209.6h1.8v1.8h-1.8zM630.3 217.5h1.8v1.8h-1.8zM697.5 151.6h1.8v1.8h-1.8zM635.7 220.8h1.8v1.8h-1.8zM632.9 209.4h1.8v1.8h-1.8zM634.1 218.5h1.8v1.8h-1.8zM670.3 186.9h1.8v1.8h-1.8zM699.0 159.0h1.8v1.8h-1.8zM635.0 218.1h1.8v1.8h-1.8zM677.9 171.5h1.8v1.8h-1.8zM704.2 144.2h1.8v1.8h-1.8zM673.7 177.4h1.8v1.8h-1.8zM661.5 192.9h1.8v1.8h-1.8zM636.4 219.4h1.8v1.8h-1.8zM630.5 223.7h1.8v1.8h-1.8zM703.8 142.6h1.8v1.8h-1.8zM656.2 203.4h1.8v1.8h-1.8zM624.8 225.6h1.8v1.8h-1.8zM693.5 160.8h1.8v1.8h-1.8zM657.1 190.9h1.8v1.8h-1.8zM642.8 205.3h1.8v1.8h-1.8zM677.6 184.4h1.8v1.8h-1.8zM635.6 224.2h1.8v1.8h-1.8zM617.2 236.2h1.8v1.8h-1.8zM692.8 154.4h1.8v1.8h-1.8zM645.1 216.4h1.8v1.8h-1.8zM697.3 157.6h1.8v1.8h-1.8zM592.9 261.0h1.8v1.8h-1.8zM587.2 260.6h1.8v1.8h-1.8zM646.4 216.0h1.8v1.8h-1.8zM635.3 222.7h1.8v1.8h-1.8zM623.6 223.9h1.8v1.8h-1.8zM658.9 186.7h1.8v1.8h-1.8zM678.3 176.3h1.8v1.8h-1.8zM661.8 189.5h1.8v1.8h-1.8zM645.2 203.3h1.8v1.8h-1.8zM680.2 183.8h1.8v1.8h-1.8zM692.3 157.8h1.8v1.8h-1.8zM704.7 140.8h1.8v1.8h-1.8zM670.3 190.0h1.8v1.8h-1.8zM689.2 167.8h1.8v1.8h-1.8zM620.9 234.5h1.8v1.8h-1.8zM590.1 260.0h1.8v1.8h-1.8zM675.6 189.1h1.8v1.8h-1.8zM708.7 142.1h1.8v1.8h-1.8zM637.8 214.3h1.8v1.8h-1.8zM659.7 196.0h1.8v1.8h-1.8zM657.9 190.0h1.8v1.8h-1.8zM624.6 216.8h1.8v1.8h-1.8zM719.1 123.9h1.8v1.8h-1.8zM701.0 146.6h1.8v1.8h-1.8zM674.5 198.0h1.8v1.8h-1.8zM586.1 254.4h1.8v1.8h-1.8zM683.4 173.2h1.8v1.8h-1.8zM651.7 215.4h1.8v1.8h-1.8zM651.6 186.6h1.8v1.8h-1.8zM663.6 189.3h1.8v1.8h-1.8zM651.2 206.7h1.8v1.8h-1.8zM630.1 231.7h1.8v1.8h-1.8zM644.3 205.7h1.8v1.8h-1.8zM625.9 224.9h1.8v1.8h-1.8zM664.6 188.5h1.8v1.8h-1.8zM661.3 192.0h1.8v1.8h-1.8zM732.7 121.5h1.8v1.8h-1.8zM665.4 194.2h1.8v1.8h-1.8zM635.4 222.7h1.8v1.8h-1.8zM647.3 211.5h1.8v1.8h-1.8zM649.0 202.7h1.8v1.8h-1.8zM646.8 205.2h1.8v1.8h-1.8zM673.0 182.3h1.8v1.8h-1.8zM642.1 220.4h1.8v1.8h-1.8zM633.5 218.5h1.8v1.8h-1.8zM653.5 201.4h1.8v1.8h-1.8zM669.0 192.4h1.8v1.8h-1.8zM667.7 196.3h1.8v1.8h-1.8zM702.4 147.0h1.8v1.8h-1.8zM643.7 207.1h1.8v1.8h-1.8zM629.5 212.8h1.8v1.8h-1.8zM676.6 175.0h1.8v1.8h-1.8zM672.9 175.9h1.8v1.8h-1.8zM643.4 218.5h1.8v1.8h-1.8zM651.5 194.7h1.8v1.8h-1.8zM689.7 167.8h1.8v1.8h-1.8zM640.3 206.7h1.8v1.8h-1.8zM641.1 214.9h1.8v1.8h-1.8zM641.9 212.1h1.8v1.8h-1.8zM625.3 222.9h1.8v1.8h-1.8zM674.4 188.8h1.8v1.8h-1.8zM626.3 234.9h1.8v1.8h-1.8zM700.4 141.8h1.8v1.8h-1.8zM646.6 216.3h1.8v1.8h-1.8zM666.5 184.0h1.8v1.8h-1.8zM649.3 207.3h1.8v1.8h-1.8zM658.3 195.0h1.8v1.8h-1.8zM681.8 169.4h1.8v1.8h-1.8zM593.6 252.1h1.8v1.8h-1.8zM652.2 215.3h1.8v1.8h-1.8zM669.0 195.1h1.8v1.8h-1.8zM693.6 152.6h1.8v1.8h-1.8zM688.9 162.7h1.8v1.8h-1.8zM687.9 168.8h1.8v1.8h-1.8zM669.0 180.2h1.8v1.8h-1.8zM635.1 220.7h1.8v1.8h-1.8zM664.1 181.6h1.8v1.8h-1.8zM682.6 169.1h1.8v1.8h-1.8zM637.6 209.9h1.8v1.8h-1.8zM621.7 235.5h1.8v1.8h-1.8zM658.0 196.5h1.8v1.8h-1.8zM707.1 147.2h1.8v1.8h-1.8zM702.9 157.0h1.8v1.8h-1.8zM632.2 217.8h1.8v1.8h-1.8zM665.7 186.1h1.8v1.8h-1.8zM683.8 171.5h1.8v1.8h-1.8zM675.3 175.8h1.8v1.8h-1.8zM627.5 221.3h1.8v1.8h-1.8zM623.1 226.9h1.8v1.8h-1.8zM640.6 204.8h1.8v1.8h-1.8zM671.1 182.9h1.8v1.8h-1.8zM691.3 166.1h1.8v1.8h-1.8zM697.7 150.7h1.8v1.8h-1.8zM651.9 196.4h1.8v1.8h-1.8zM626.7 218.2h1.8v1.8h-1.8zM700.7 153.0h1.8v1.8h-1.8zM685.0 176.8h1.8v1.8h-1.8zM753.9 95.6h1.8v1.8h-1.8zM642.3 216.2h1.8v1.8h-1.8zM708.9 137.3h1.8v1.8h-1.8zM628.8 218.1h1.8v1.8h-1.8zM601.7 242.2h1.8v1.8h-1.8zM705.4 146.3h1.8v1.8h-1.8zM679.7 178.4h1.8v1.8h-1.8zM720.4 122.8h1.8v1.8h-1.8zM682.4 177.3h1.8v1.8h-1.8zM644.5 215.2h1.8v1.8h-1.8zM635.5 221.0h1.8v1.8h-1.8zM660.2 203.8h1.8v1.8h-1.8zM676.1 174.2h1.8v1.8h-1.8zM639.7 215.6h1.8v1.8h-1.8zM692.3 158.9h1.8v1.8h-1.8zM657.3 194.5h1.8v1.8h-1.8zM650.0 206.3h1.8v1.8h-1.8zM681.3 179.3h1.8v1.8h-1.8zM694.5 171.5h1.8v1.8h-1.8zM671.9 194.0h1.8v1.8h-1.8zM662.4 201.3h1.8v1.8h-1.8zM687.4 166.0h1.8v1.8h-1.8zM648.3 205.7h1.8v1.8h-1.8zM646.4 219.9h1.8v1.8h-1.8zM638.1 226.3h1.8v1.8h-1.8zM675.8 176.3h1.8v1.8h-1.8zM618.7 238.0h1.8v1.8h-1.8zM655.3 202.6h1.8v1.8h-1.8zM630.2 223.0h1.8v1.8h-1.8zM674.4 182.5h1.8v1.8h-1.8zM635.5 203.1h1.8v1.8h-1.8zM694.5 163.5h1.8v1.8h-1.8zM620.5 231.2h1.8v1.8h-1.8zM692.4 172.3h1.8v1.8h-1.8zM656.1 200.2h1.8v1.8h-1.8zM655.2 201.7h1.8v1.8h-1.8zM654.8 207.1h1.8v1.8h-1.8zM638.5 220.5h1.8v1.8h-1.8zM675.6 163.1h1.8v1.8h-1.8zM659.1 203.9h1.8v1.8h-1.8zM700.4 154.2h1.8v1.8h-1.8zM686.4 171.7h1.8v1.8h-1.8zM651.7 201.9h1.8v1.8h-1.8zM619.8 234.9h1.8v1.8h-1.8zM635.3 211.6h1.8v1.8h-1.8zM684.7 158.9h1.8v1.8h-1.8zM680.8 174.1h1.8v1.8h-1.8zM686.7 165.3h1.8v1.8h-1.8zM650.4 203.2h1.8v1.8h-1.8zM637.7 202.5h1.8v1.8h-1.8zM675.9 186.0h1.8v1.8h-1.8zM642.1 206.9h1.8v1.8h-1.8zM676.0 183.0h1.8v1.8h-1.8zM627.0 227.7h1.8v1.8h-1.8zM724.6 121.8h1.8v1.8h-1.8zM645.4 209.5h1.8v1.8h-1.8zM624.3 229.2h1.8v1.8h-1.8zM629.7 225.0h1.8v1.8h-1.8zM688.4 170.2h1.8v1.8h-1.8zM626.0 217.8h1.8v1.8h-1.8zM720.9 128.3h1.8v1.8h-1.8zM677.7 174.9h1.8v1.8h-1.8zM626.0 235.0h1.8v1.8h-1.8zM620.0 233.1h1.8v1.8h-1.8zM675.2 177.9h1.8v1.8h-1.8zM634.6 218.5h1.8v1.8h-1.8zM643.9 213.4h1.8v1.8h-1.8zM622.8 236.0h1.8v1.8h-1.8zM656.3 197.3h1.8v1.8h-1.8zM680.1 164.4h1.8v1.8h-1.8zM632.7 217.9h1.8v1.8h-1.8zM687.6 168.2h1.8v1.8h-1.8zM721.7 129.4h1.8v1.8h-1.8zM698.0 153.6h1.8v1.8h-1.8zM677.8 173.8h1.8v1.8h-1.8zM689.7 158.6h1.8v1.8h-1.8zM659.8 189.3h1.8v1.8h-1.8zM706.0 139.0h1.8v1.8h-1.8zM651.6 203.4h1.8v1.8h-1.8zM672.1 193.1h1.8v1.8h-1.8zM608.2 247.4h1.8v1.8h-1.8zM639.0 221.7h1.8v1.8h-1.8zM691.4 163.5h1.8v1.8h-1.8zM650.7 212.3h1.8v1.8h-1.8zM630.8 211.3h1.8v1.8h-1.8zM675.4 198.7h1.8v1.8h-1.8zM704.5 158.1h1.8v1.8h-1.8zM629.7 224.7h1.8v1.8h-1.8zM675.0 180.1h1.8v1.8h-1.8zM645.3 199.6h1.8v1.8h-1.8zM649.9 203.8h1.8v1.8h-1.8zM667.7 188.4h1.8v1.8h-1.8zM690.3 160.1h1.8v1.8h-1.8zM637.4 214.3h1.8v1.8h-1.8zM620.0 237.8h1.8v1.8h-1.8zM658.8 201.1h1.8v1.8h-1.8zM650.9 199.9h1.8v1.8h-1.8zM620.0 236.6h1.8v1.8h-1.8zM625.0 225.3h1.8v1.8h-1.8zM665.6 186.6h1.8v1.8h-1.8zM633.7 222.5h1.8v1.8h-1.8zM662.7 191.1h1.8v1.8h-1.8zM684.7 171.2h1.8v1.8h-1.8zM652.9 191.7h1.8v1.8h-1.8zM663.5 192.8h1.8v1.8h-1.8zM621.3 227.4h1.8v1.8h-1.8zM678.5 176.7h1.8v1.8h-1.8zM631.2 219.6h1.8v1.8h-1.8zM660.9 200.5h1.8v1.8h-1.8zM561.2 279.9h1.8v1.8h-1.8zM667.0 190.8h1.8v1.8h-1.8zM708.9 138.4h1.8v1.8h-1.8zM666.3 188.9h1.8v1.8h-1.8zM603.9 250.6h1.8v1.8h-1.8zM688.1 160.4h1.8v1.8h-1.8zM671.5 181.2h1.8v1.8h-1.8zM670.5 178.5h1.8v1.8h-1.8zM690.6 158.4h1.8v1.8h-1.8zM634.2 212.5h1.8v1.8h-1.8zM689.2 171.0h1.8v1.8h-1.8zM622.5 227.1h1.8v1.8h-1.8zM660.7 207.1h1.8v1.8h-1.8zM678.6 178.8h1.8v1.8h-1.8zM618.9 227.3h1.8v1.8h-1.8zM625.9 223.3h1.8v1.8h-1.8zM688.1 169.8h1.8v1.8h-1.8zM627.5 227.0h1.8v1.8h-1.8zM689.0 177.5h1.8v1.8h-1.8zM659.1 198.1h1.8v1.8h-1.8zM671.0 183.8h1.8v1.8h-1.8zM644.9 204.2h1.8v1.8h-1.8zM641.6 202.8h1.8v1.8h-1.8zM696.2 160.2h1.8v1.8h-1.8zM696.7 163.6h1.8v1.8h-1.8zM687.5 163.8h1.8v1.8h-1.8zM647.1 219.1h1.8v1.8h-1.8zM629.2 225.3h1.8v1.8h-1.8zM673.0 180.0h1.8v1.8h-1.8zM651.2 192.5h1.8v1.8h-1.8zM664.1 186.8h1.8v1.8h-1.8zM625.3 229.3h1.8v1.8h-1.8zM677.1 172.7h1.8v1.8h-1.8zM680.3 171.3h1.8v1.8h-1.8zM684.7 183.6h1.8v1.8h-1.8zM675.1 176.2h1.8v1.8h-1.8zM642.7 207.7h1.8v1.8h-1.8zM690.1 158.1h1.8v1.8h-1.8zM639.1 208.4h1.8v1.8h-1.8zM661.4 189.8h1.8v1.8h-1.8zM629.4 229.2h1.8v1.8h-1.8zM682.6 183.5h1.8v1.8h-1.8zM668.8 203.3h1.8v1.8h-1.8zM627.0 228.6h1.8v1.8h-1.8zM684.3 187.2h1.8v1.8h-1.8zM640.8 213.4h1.8v1.8h-1.8zM694.6 166.1h1.8v1.8h-1.8zM705.5 152.8h1.8v1.8h-1.8zM647.3 213.9h1.8v1.8h-1.8zM649.6 204.9h1.8v1.8h-1.8zM668.7 191.4h1.8v1.8h-1.8zM661.0 199.2h1.8v1.8h-1.8zM668.4 183.1h1.8v1.8h-1.8zM621.4 225.4h1.8v1.8h-1.8zM633.8 222.7h1.8v1.8h-1.8zM632.7 215.4h1.8v1.8h-1.8zM700.6 163.4h1.8v1.8h-1.8zM647.6 195.2h1.8v1.8h-1.8zM698.0 149.6h1.8v1.8h-1.8zM682.5 167.9h1.8v1.8h-1.8zM619.6 237.4h1.8v1.8h-1.8zM632.2 226.3h1.8v1.8h-1.8zM687.2 171.7h1.8v1.8h-1.8zM663.9 204.7h1.8v1.8h-1.8zM682.1 167.7h1.8v1.8h-1.8zM681.8 174.1h1.8v1.8h-1.8zM726.0 123.4h1.8v1.8h-1.8zM645.5 201.8h1.8v1.8h-1.8zM661.2 194.0h1.8v1.8h-1.8zM653.8 194.9h1.8v1.8h-1.8zM642.8 218.0h1.8v1.8h-1.8zM649.2 193.4h1.8v1.8h-1.8zM654.9 198.1h1.8v1.8h-1.8zM665.6 182.3h1.8v1.8h-1.8zM650.2 194.6h1.8v1.8h-1.8zM744.3 110.6h1.8v1.8h-1.8zM652.3 198.3h1.8v1.8h-1.8zM679.9 175.2h1.8v1.8h-1.8zM656.8 197.6h1.8v1.8h-1.8zM658.3 193.7h1.8v1.8h-1.8zM650.8 200.8h1.8v1.8h-1.8zM659.0 197.7h1.8v1.8h-1.8zM651.0 203.0h1.8v1.8h-1.8zM668.3 191.1h1.8v1.8h-1.8zM659.4 194.1h1.8v1.8h-1.8zM659.8 187.2h1.8v1.8h-1.8zM658.9 187.5h1.8v1.8h-1.8zM661.7 199.8h1.8v1.8h-1.8zM668.6 184.9h1.8v1.8h-1.8zM685.5 167.3h1.8v1.8h-1.8zM648.1 197.4h1.8v1.8h-1.8zM651.6 192.9h1.8v1.8h-1.8zM651.1 199.0h1.8v1.8h-1.8zM683.4 169.3h1.8v1.8h-1.8zM666.5 199.7h1.8v1.8h-1.8zM641.5 214.1h1.8v1.8h-1.8zM640.9 207.5h1.8v1.8h-1.8zM665.3 192.9h1.8v1.8h-1.8zM652.1 200.0h1.8v1.8h-1.8zM662.1 174.3h1.8v1.8h-1.8zM718.7 135.1h1.8v1.8h-1.8zM684.3 185.8h1.8v1.8h-1.8zM631.7 225.7h1.8v1.8h-1.8zM646.1 192.6h1.8v1.8h-1.8zM676.2 183.2h1.8v1.8h-1.8zM585.7 258.1h1.8v1.8h-1.8zM610.7 241.6h1.8v1.8h-1.8zM609.0 242.3h1.8v1.8h-1.8zM674.1 179.3h1.8v1.8h-1.8zM646.3 208.5h1.8v1.8h-1.8zM673.1 182.6h1.8v1.8h-1.8zM705.2 145.0h1.8v1.8h-1.8zM677.5 170.5h1.8v1.8h-1.8zM623.7 233.5h1.8v1.8h-1.8zM628.7 221.7h1.8v1.8h-1.8zM689.9 177.6h1.8v1.8h-1.8zM626.4 229.5h1.8v1.8h-1.8zM658.6 193.0h1.8v1.8h-1.8zM680.0 184.2h1.8v1.8h-1.8zM638.3 214.0h1.8v1.8h-1.8zM712.6 138.6h1.8v1.8h-1.8zM636.6 219.9h1.8v1.8h-1.8zM636.8 211.6h1.8v1.8h-1.8zM620.2 222.4h1.8v1.8h-1.8zM643.5 210.0h1.8v1.8h-1.8zM636.2 206.3h1.8v1.8h-1.8zM635.8 218.1h1.8v1.8h-1.8zM754.1 98.5h1.8v1.8h-1.8zM624.6 236.2h1.8v1.8h-1.8zM678.9 171.0h1.8v1.8h-1.8zM650.1 197.6h1.8v1.8h-1.8zM669.7 186.8h1.8v1.8h-1.8zM673.9 176.8h1.8v1.8h-1.8zM674.7 192.2h1.8v1.8h-1.8zM629.8 220.4h1.8v1.8h-1.8zM679.7 182.7h1.8v1.8h-1.8zM655.1 206.7h1.8v1.8h-1.8zM636.4 220.0h1.8v1.8h-1.8zM644.9 207.3h1.8v1.8h-1.8zM620.1 231.7h1.8v1.8h-1.8zM629.7 229.8h1.8v1.8h-1.8zM647.1 213.0h1.8v1.8h-1.8zM638.9 205.1h1.8v1.8h-1.8zM667.3 190.0h1.8v1.8h-1.8zM556.7 281.1h1.8v1.8h-1.8zM734.2 115.5h1.8v1.8h-1.8zM683.7 171.3h1.8v1.8h-1.8zM645.9 212.6h1.8v1.8h-1.8zM664.8 194.0h1.8v1.8h-1.8zM583.5 260.9h1.8v1.8h-1.8zM715.0 143.2h1.8v1.8h-1.8zM666.6 199.0h1.8v1.8h-1.8zM664.5 184.8h1.8v1.8h-1.8zM704.7 145.4h1.8v1.8h-1.8zM705.4 153.4h1.8v1.8h-1.8zM652.2 202.7h1.8v1.8h-1.8zM674.7 180.2h1.8v1.8h-1.8zM617.5 231.9h1.8v1.8h-1.8zM637.2 217.2h1.8v1.8h-1.8zM641.1 217.5h1.8v1.8h-1.8zM581.9 261.3h1.8v1.8h-1.8zM662.6 194.5h1.8v1.8h-1.8zM638.2 207.8h1.8v1.8h-1.8zM739.1 111.9h1.8v1.8h-1.8zM649.6 199.9h1.8v1.8h-1.8zM657.1 190.4h1.8v1.8h-1.8zM618.4 242.5h1.8v1.8h-1.8zM671.6 170.5h1.8v1.8h-1.8zM649.2 199.6h1.8v1.8h-1.8zM687.4 177.0h1.8v1.8h-1.8zM642.9 214.3h1.8v1.8h-1.8zM686.4 162.9h1.8v1.8h-1.8zM623.6 231.3h1.8v1.8h-1.8zM666.8 189.7h1.8v1.8h-1.8zM651.1 199.0h1.8v1.8h-1.8zM665.2 184.3h1.8v1.8h-1.8zM618.3 237.3h1.8v1.8h-1.8zM695.0 159.3h1.8v1.8h-1.8zM681.6 184.9h1.8v1.8h-1.8zM653.7 199.9h1.8v1.8h-1.8zM607.0 251.5h1.8v1.8h-1.8zM612.4 246.3h1.8v1.8h-1.8zM656.6 194.3h1.8v1.8h-1.8zM661.0 200.2h1.8v1.8h-1.8zM653.5 203.4h1.8v1.8h-1.8zM666.3 189.0h1.8v1.8h-1.8zM625.8 233.2h1.8v1.8h-1.8zM736.3 113.0h1.8v1.8h-1.8zM699.0 159.6h1.8v1.8h-1.8zM659.9 198.0h1.8v1.8h-1.8zM683.6 172.6h1.8v1.8h-1.8zM685.2 175.7h1.8v1.8h-1.8zM580.8 264.6h1.8v1.8h-1.8zM653.5 195.3h1.8v1.8h-1.8zM691.4 165.2h1.8v1.8h-1.8zM641.1 221.7h1.8v1.8h-1.8zM704.7 157.9h1.8v1.8h-1.8zM660.7 198.1h1.8v1.8h-1.8zM656.0 209.0h1.8v1.8h-1.8zM636.7 219.2h1.8v1.8h-1.8zM672.2 180.6h1.8v1.8h-1.8zM656.8 198.1h1.8v1.8h-1.8zM635.9 219.2h1.8v1.8h-1.8zM685.8 173.5h1.8v1.8h-1.8zM702.5 146.2h1.8v1.8h-1.8zM667.9 188.2h1.8v1.8h-1.8zM647.2 211.7h1.8v1.8h-1.8zM683.9 170.2h1.8v1.8h-1.8zM682.0 171.8h1.8v1.8h-1.8zM717.0 136.1h1.8v1.8h-1.8zM658.1 194.2h1.8v1.8h-1.8zM631.5 216.7h1.8v1.8h-1.8zM662.3 191.5h1.8v1.8h-1.8zM635.4 216.5h1.8v1.8h-1.8zM634.4 219.7h1.8v1.8h-1.8zM658.2 199.0h1.8v1.8h-1.8zM698.4 151.9h1.8v1.8h-1.8zM643.8 208.1h1.8v1.8h-1.8zM636.0 214.1h1.8v1.8h-1.8zM689.5 169.4h1.8v1.8h-1.8zM652.2 205.6h1.8v1.8h-1.8zM705.4 142.9h1.8v1.8h-1.8zM606.5 248.9h1.8v1.8h-1.8zM695.0 154.8h1.8v1.8h-1.8zM690.3 166.8h1.8v1.8h-1.8zM657.3 204.0h1.8v1.8h-1.8zM634.4 219.1h1.8v1.8h-1.8zM712.2 136.8h1.8v1.8h-1.8zM644.9 195.1h1.8v1.8h-1.8zM680.7 166.5h1.8v1.8h-1.8zM639.9 222.1h1.8v1.8h-1.8zM708.1 141.7h1.8v1.8h-1.8zM646.3 203.0h1.8v1.8h-1.8zM669.7 176.3h1.8v1.8h-1.8zM674.5 179.7h1.8v1.8h-1.8zM625.0 231.0h1.8v1.8h-1.8zM660.8 202.9h1.8v1.8h-1.8zM711.9 138.4h1.8v1.8h-1.8zM701.1 154.0h1.8v1.8h-1.8zM633.7 220.1h1.8v1.8h-1.8zM667.9 187.0h1.8v1.8h-1.8zM660.5 188.8h1.8v1.8h-1.8zM656.3 189.7h1.8v1.8h-1.8zM673.5 192.1h1.8v1.8h-1.8zM644.1 214.5h1.8v1.8h-1.8zM641.7 214.9h1.8v1.8h-1.8zM649.7 196.2h1.8v1.8h-1.8zM682.7 182.8h1.8v1.8h-1.8zM636.3 218.1h1.8v1.8h-1.8zM628.8 226.3h1.8v1.8h-1.8zM672.1 181.8h1.8v1.8h-1.8zM625.9 227.9h1.8v1.8h-1.8zM655.3 206.2h1.8v1.8h-1.8zM684.9 170.5h1.8v1.8h-1.8zM680.8 181.1h1.8v1.8h-1.8zM625.4 228.6h1.8v1.8h-1.8zM646.0 216.6h1.8v1.8h-1.8zM686.2 171.3h1.8v1.8h-1.8zM660.7 198.7h1.8v1.8h-1.8zM705.2 148.2h1.8v1.8h-1.8zM632.9 221.6h1.8v1.8h-1.8zM667.7 182.4h1.8v1.8h-1.8zM706.4 147.7h1.8v1.8h-1.8zM652.2 198.8h1.8v1.8h-1.8zM672.4 178.2h1.8v1.8h-1.8zM619.8 229.4h1.8v1.8h-1.8zM645.4 219.0h1.8v1.8h-1.8zM620.2 219.2h1.8v1.8h-1.8zM641.1 211.7h1.8v1.8h-1.8zM630.4 209.7h1.8v1.8h-1.8zM704.2 146.0h1.8v1.8h-1.8zM631.0 227.3h1.8v1.8h-1.8zM666.4 184.3h1.8v1.8h-1.8zM642.5 217.5h1.8v1.8h-1.8zM652.9 199.3h1.8v1.8h-1.8zM690.3 162.3h1.8v1.8h-1.8zM651.9 176.1h1.8v1.8h-1.8zM699.7 150.7h1.8v1.8h-1.8zM650.0 199.5h1.8v1.8h-1.8zM617.7 234.7h1.8v1.8h-1.8zM685.9 155.2h1.8v1.8h-1.8zM645.1 217.8h1.8v1.8h-1.8zM640.7 206.2h1.8v1.8h-1.8zM703.3 149.2h1.8v1.8h-1.8zM685.8 173.5h1.8v1.8h-1.8zM646.4 198.9h1.8v1.8h-1.8zM634.1 212.9h1.8v1.8h-1.8zM616.4 229.5h1.8v1.8h-1.8zM679.9 167.4h1.8v1.8h-1.8zM700.5 164.9h1.8v1.8h-1.8zM670.0 178.7h1.8v1.8h-1.8zM642.9 203.1h1.8v1.8h-1.8zM692.3 159.0h1.8v1.8h-1.8zM700.7 154.8h1.8v1.8h-1.8zM714.6 135.1h1.8v1.8h-1.8zM639.9 209.3h1.8v1.8h-1.8zM695.6 151.6h1.8v1.8h-1.8zM683.0 159.3h1.8v1.8h-1.8zM638.1 198.1h1.8v1.8h-1.8zM737.5 118.4h1.8v1.8h-1.8zM620.4 234.6h1.8v1.8h-1.8zM689.2 153.5h1.8v1.8h-1.8zM633.6 226.8h1.8v1.8h-1.8zM612.8 240.7h1.8v1.8h-1.8zM708.0 149.5h1.8v1.8h-1.8zM673.9 182.7h1.8v1.8h-1.8zM690.0 159.7h1.8v1.8h-1.8zM646.1 208.7h1.8v1.8h-1.8zM663.7 203.2h1.8v1.8h-1.8zM644.9 207.7h1.8v1.8h-1.8zM670.0 191.0h1.8v1.8h-1.8zM572.3 270.2h1.8v1.8h-1.8zM680.7 183.9h1.8v1.8h-1.8zM687.3 167.0h1.8v1.8h-1.8zM636.3 216.7h1.8v1.8h-1.8zM695.7 158.3h1.8v1.8h-1.8zM665.1 200.3h1.8v1.8h-1.8zM619.8 238.5h1.8v1.8h-1.8zM626.5 224.4h1.8v1.8h-1.8zM631.7 224.8h1.8v1.8h-1.8zM635.7 216.7h1.8v1.8h-1.8zM685.0 177.8h1.8v1.8h-1.8zM648.2 217.6h1.8v1.8h-1.8zM673.1 179.3h1.8v1.8h-1.8zM670.1 189.5h1.8v1.8h-1.8zM623.1 218.5h1.8v1.8h-1.8zM645.0 208.1h1.8v1.8h-1.8zM657.7 198.3h1.8v1.8h-1.8zM633.6 222.0h1.8v1.8h-1.8zM640.5 217.1h1.8v1.8h-1.8zM614.9 240.1h1.8v1.8h-1.8zM688.1 158.0h1.8v1.8h-1.8zM671.8 193.2h1.8v1.8h-1.8zM679.0 183.3h1.8v1.8h-1.8zM637.8 217.2h1.8v1.8h-1.8zM683.5 164.5h1.8v1.8h-1.8zM640.9 208.1h1.8v1.8h-1.8zM740.8 112.1h1.8v1.8h-1.8zM691.6 151.3h1.8v1.8h-1.8zM684.6 176.8h1.8v1.8h-1.8zM652.7 202.7h1.8v1.8h-1.8zM615.4 236.9h1.8v1.8h-1.8zM644.1 210.6h1.8v1.8h-1.8zM676.3 181.2h1.8v1.8h-1.8zM658.3 209.3h1.8v1.8h-1.8zM624.9 230.6h1.8v1.8h-1.8zM673.0 189.2h1.8v1.8h-1.8zM670.2 185.7h1.8v1.8h-1.8zM677.7 181.4h1.8v1.8h-1.8zM654.7 208.3h1.8v1.8h-1.8zM659.9 195.3h1.8v1.8h-1.8zM611.5 243.4h1.8v1.8h-1.8zM626.1 234.1h1.8v1.8h-1.8zM640.0 214.5h1.8v1.8h-1.8zM679.3 170.7h1.8v1.8h-1.8zM681.1 178.1h1.8v1.8h-1.8zM647.5 214.6h1.8v1.8h-1.8zM689.0 173.9h1.8v1.8h-1.8zM664.5 180.1h1.8v1.8h-1.8zM671.9 187.0h1.8v1.8h-1.8zM625.8 231.0h1.8v1.8h-1.8zM718.9 129.1h1.8v1.8h-1.8zM653.8 210.1h1.8v1.8h-1.8zM679.1 171.0h1.8v1.8h-1.8zM628.7 220.9h1.8v1.8h-1.8zM627.0 232.7h1.8v1.8h-1.8zM631.1 210.8h1.8v1.8h-1.8zM648.7 212.2h1.8v1.8h-1.8zM669.1 182.8h1.8v1.8h-1.8zM645.9 211.7h1.8v1.8h-1.8zM675.8 185.6h1.8v1.8h-1.8zM657.6 195.2h1.8v1.8h-1.8zM664.0 192.0h1.8v1.8h-1.8zM691.3 167.4h1.8v1.8h-1.8zM658.8 203.6h1.8v1.8h-1.8zM666.6 181.8h1.8v1.8h-1.8zM631.6 215.1h1.8v1.8h-1.8zM629.0 209.9h1.8v1.8h-1.8zM670.8 191.4h1.8v1.8h-1.8zM629.4 223.9h1.8v1.8h-1.8zM679.2 171.7h1.8v1.8h-1.8zM645.2 211.2h1.8v1.8h-1.8zM644.3 210.7h1.8v1.8h-1.8zM638.6 215.9h1.8v1.8h-1.8zM627.0 231.6h1.8v1.8h-1.8zM609.7 247.1h1.8v1.8h-1.8zM661.5 187.1h1.8v1.8h-1.8zM662.9 201.5h1.8v1.8h-1.8zM630.3 224.2h1.8v1.8h-1.8zM693.0 160.3h1.8v1.8h-1.8zM634.1 213.1h1.8v1.8h-1.8zM636.6 224.5h1.8v1.8h-1.8zM682.2 170.2h1.8v1.8h-1.8zM621.0 233.2h1.8v1.8h-1.8zM694.7 172.6h1.8v1.8h-1.8zM650.8 190.4h1.8v1.8h-1.8zM644.3 211.2h1.8v1.8h-1.8zM636.1 215.0h1.8v1.8h-1.8zM630.1 222.3h1.8v1.8h-1.8zM639.7 210.1h1.8v1.8h-1.8zM755.8 99.0h1.8v1.8h-1.8zM619.0 241.6h1.8v1.8h-1.8zM672.5 192.4h1.8v1.8h-1.8zM647.8 198.7h1.8v1.8h-1.8zM644.4 215.6h1.8v1.8h-1.8zM683.7 167.9h1.8v1.8h-1.8zM630.2 219.7h1.8v1.8h-1.8zM643.7 206.2h1.8v1.8h-1.8zM646.3 215.4h1.8v1.8h-1.8zM628.8 229.0h1.8v1.8h-1.8zM627.3 232.3h1.8v1.8h-1.8zM657.6 205.5h1.8v1.8h-1.8zM647.9 217.0h1.8v1.8h-1.8zM669.2 184.1h1.8v1.8h-1.8zM700.1 149.7h1.8v1.8h-1.8zM690.9 179.6h1.8v1.8h-1.8zM664.9 186.2h1.8v1.8h-1.8zM682.1 168.1h1.8v1.8h-1.8zM671.9 196.7h1.8v1.8h-1.8zM646.9 202.2h1.8v1.8h-1.8zM661.0 196.6h1.8v1.8h-1.8zM653.0 200.5h1.8v1.8h-1.8zM698.6 150.8h1.8v1.8h-1.8zM631.1 224.6h1.8v1.8h-1.8zM609.2 241.4h1.8v1.8h-1.8zM664.5 198.0h1.8v1.8h-1.8zM669.5 188.5h1.8v1.8h-1.8zM695.6 152.8h1.8v1.8h-1.8zM653.5 199.7h1.8v1.8h-1.8zM666.5 191.8h1.8v1.8h-1.8zM645.4 201.5h1.8v1.8h-1.8zM637.3 215.8h1.8v1.8h-1.8zM659.2 190.4h1.8v1.8h-1.8zM628.3 222.0h1.8v1.8h-1.8zM683.2 178.3h1.8v1.8h-1.8zM707.3 141.4h1.8v1.8h-1.8zM692.1 168.0h1.8v1.8h-1.8zM628.8 218.6h1.8v1.8h-1.8zM689.3 150.1h1.8v1.8h-1.8zM653.0 197.6h1.8v1.8h-1.8zM657.1 202.9h1.8v1.8h-1.8zM652.8 201.9h1.8v1.8h-1.8zM696.3 166.4h1.8v1.8h-1.8zM684.3 171.8h1.8v1.8h-1.8zM644.4 218.0h1.8v1.8h-1.8zM615.5 242.1h1.8v1.8h-1.8zM664.7 196.1h1.8v1.8h-1.8zM676.1 182.3h1.8v1.8h-1.8zM629.2 213.9h1.8v1.8h-1.8zM598.9 254.1h1.8v1.8h-1.8zM619.9 245.2h1.8v1.8h-1.8zM647.2 209.3h1.8v1.8h-1.8zM681.0 168.2h1.8v1.8h-1.8zM701.0 163.1h1.8v1.8h-1.8zM640.1 211.1h1.8v1.8h-1.8zM619.8 231.4h1.8v1.8h-1.8zM655.2 192.1h1.8v1.8h-1.8zM646.9 213.8h1.8v1.8h-1.8zM634.1 221.1h1.8v1.8h-1.8zM646.9 209.1h1.8v1.8h-1.8zM710.2 147.6h1.8v1.8h-1.8zM701.1 158.7h1.8v1.8h-1.8zM716.5 133.7h1.8v1.8h-1.8zM684.3 179.5h1.8v1.8h-1.8zM690.5 162.1h1.8v1.8h-1.8zM612.8 239.8h1.8v1.8h-1.8zM642.7 211.9h1.8v1.8h-1.8zM691.0 150.6h1.8v1.8h-1.8zM648.3 201.9h1.8v1.8h-1.8zM685.3 168.0h1.8v1.8h-1.8zM667.0 184.5h1.8v1.8h-1.8zM680.4 184.8h1.8v1.8h-1.8zM684.5 168.0h1.8v1.8h-1.8zM673.2 180.9h1.8v1.8h-1.8zM630.8 222.7h1.8v1.8h-1.8zM629.0 221.0h1.8v1.8h-1.8zM675.6 164.0h1.8v1.8h-1.8zM663.6 190.8h1.8v1.8h-1.8zM674.9 183.1h1.8v1.8h-1.8zM684.6 161.6h1.8v1.8h-1.8zM647.2 208.3h1.8v1.8h-1.8zM741.8 112.8h1.8v1.8h-1.8zM681.2 184.3h1.8v1.8h-1.8zM623.1 226.0h1.8v1.8h-1.8zM659.9 200.3h1.8v1.8h-1.8zM671.9 188.8h1.8v1.8h-1.8zM628.0 215.4h1.8v1.8h-1.8zM658.4 202.0h1.8v1.8h-1.8zM632.9 213.1h1.8v1.8h-1.8zM699.8 155.0h1.8v1.8h-1.8zM720.5 127.3h1.8v1.8h-1.8zM682.3 188.8h1.8v1.8h-1.8zM678.6 171.6h1.8v1.8h-1.8zM663.8 196.4h1.8v1.8h-1.8zM675.0 171.3h1.8v1.8h-1.8zM679.2 178.7h1.8v1.8h-1.8zM685.8 159.2h1.8v1.8h-1.8zM698.0 147.5h1.8v1.8h-1.8zM706.4 142.8h1.8v1.8h-1.8zM638.5 207.9h1.8v1.8h-1.8zM645.6 208.4h1.8v1.8h-1.8zM668.8 190.7h1.8v1.8h-1.8zM679.7 178.8h1.8v1.8h-1.8zM679.2 185.6h1.8v1.8h-1.8zM668.0 181.0h1.8v1.8h-1.8zM637.0 219.2h1.8v1.8h-1.8zM636.4 216.0h1.8v1.8h-1.8zM653.2 204.5h1.8v1.8h-1.8zM661.1 194.5h1.8v1.8h-1.8zM680.5 173.6h1.8v1.8h-1.8zM640.2 211.9h1.8v1.8h-1.8zM644.7 210.0h1.8v1.8h-1.8zM703.5 151.3h1.8v1.8h-1.8zM671.8 181.2h1.8v1.8h-1.8zM639.0 208.4h1.8v1.8h-1.8zM673.7 178.2h1.8v1.8h-1.8zM661.3 197.8h1.8v1.8h-1.8zM633.2 211.6h1.8v1.8h-1.8zM671.7 176.6h1.8v1.8h-1.8zM708.8 148.1h1.8v1.8h-1.8zM673.5 184.2h1.8v1.8h-1.8zM679.4 180.6h1.8v1.8h-1.8zM687.3 174.6h1.8v1.8h-1.8zM707.0 149.1h1.8v1.8h-1.8zM653.1 208.5h1.8v1.8h-1.8zM660.6 187.7h1.8v1.8h-1.8zM702.4 142.4h1.8v1.8h-1.8zM652.0 208.3h1.8v1.8h-1.8zM581.8 261.1h1.8v1.8h-1.8zM684.3 167.4h1.8v1.8h-1.8zM647.7 207.0h1.8v1.8h-1.8zM686.1 179.8h1.8v1.8h-1.8zM636.6 199.2h1.8v1.8h-1.8zM621.3 237.6h1.8v1.8h-1.8zM707.7 139.6h1.8v1.8h-1.8zM681.0 171.7h1.8v1.8h-1.8zM642.0 203.2h1.8v1.8h-1.8zM649.5 204.5h1.8v1.8h-1.8zM646.9 219.4h1.8v1.8h-1.8zM670.8 182.6h1.8v1.8h-1.8zM603.7 246.2h1.8v1.8h-1.8zM624.7 221.8h1.8v1.8h-1.8zM591.9 253.3h1.8v1.8h-1.8zM650.3 199.7h1.8v1.8h-1.8zM727.7 124.5h1.8v1.8h-1.8zM628.7 228.2h1.8v1.8h-1.8zM639.9 209.3h1.8v1.8h-1.8zM649.5 203.5h1.8v1.8h-1.8zM649.9 204.4h1.8v1.8h-1.8zM654.2 207.4h1.8v1.8h-1.8zM712.7 134.6h1.8v1.8h-1.8zM640.9 214.1h1.8v1.8h-1.8zM639.5 207.4h1.8v1.8h-1.8zM672.6 184.2h1.8v1.8h-1.8zM705.1 143.1h1.8v1.8h-1.8zM660.1 202.3h1.8v1.8h-1.8zM681.9 174.5h1.8v1.8h-1.8zM660.8 195.5h1.8v1.8h-1.8zM679.7 166.8h1.8v1.8h-1.8zM686.2 164.3h1.8v1.8h-1.8zM658.6 185.3h1.8v1.8h-1.8zM655.0 194.6h1.8v1.8h-1.8zM684.7 159.8h1.8v1.8h-1.8zM693.2 165.0h1.8v1.8h-1.8zM644.4 197.7h1.8v1.8h-1.8zM672.5 188.7h1.8v1.8h-1.8zM757.2 97.2h1.8v1.8h-1.8zM756.1 101.8h1.8v1.8h-1.8zM636.2 216.1h1.8v1.8h-1.8zM693.4 150.6h1.8v1.8h-1.8zM681.8 163.7h1.8v1.8h-1.8zM641.2 217.5h1.8v1.8h-1.8zM616.7 237.1h1.8v1.8h-1.8zM656.7 199.9h1.8v1.8h-1.8zM663.2 190.0h1.8v1.8h-1.8zM601.0 247.4h1.8v1.8h-1.8zM653.6 204.1h1.8v1.8h-1.8zM702.8 151.8h1.8v1.8h-1.8zM653.1 193.7h1.8v1.8h-1.8zM639.7 216.9h1.8v1.8h-1.8zM671.7 178.3h1.8v1.8h-1.8zM686.4 175.3h1.8v1.8h-1.8zM634.4 214.3h1.8v1.8h-1.8zM693.0 157.3h1.8v1.8h-1.8zM652.2 190.0h1.8v1.8h-1.8zM594.1 255.7h1.8v1.8h-1.8zM659.7 190.7h1.8v1.8h-1.8zM660.7 191.9h1.8v1.8h-1.8zM659.0 204.2h1.8v1.8h-1.8zM703.7 148.6h1.8v1.8h-1.8zM658.5 208.0h1.8v1.8h-1.8zM598.1 247.4h1.8v1.8h-1.8zM603.2 243.7h1.8v1.8h-1.8zM695.6 157.4h1.8v1.8h-1.8zM683.6 182.0h1.8v1.8h-1.8zM682.2 190.2h1.8v1.8h-1.8zM662.6 204.8h1.8v1.8h-1.8zM629.8 222.1h1.8v1.8h-1.8zM643.9 206.7h1.8v1.8h-1.8zM716.1 132.4h1.8v1.8h-1.8zM690.0 171.7h1.8v1.8h-1.8zM657.8 198.6h1.8v1.8h-1.8zM643.3 207.6h1.8v1.8h-1.8zM677.6 178.5h1.8v1.8h-1.8zM656.0 198.9h1.8v1.8h-1.8zM603.3 245.7h1.8v1.8h-1.8zM628.2 218.9h1.8v1.8h-1.8zM658.3 194.4h1.8v1.8h-1.8zM697.0 158.4h1.8v1.8h-1.8zM688.0 160.5h1.8v1.8h-1.8zM640.8 216.7h1.8v1.8h-1.8zM636.3 214.6h1.8v1.8h-1.8zM691.9 158.4h1.8v1.8h-1.8zM627.2 215.7h1.8v1.8h-1.8zM686.1 170.7h1.8v1.8h-1.8zM643.1 205.9h1.8v1.8h-1.8zM651.8 195.8h1.8v1.8h-1.8zM687.2 166.9h1.8v1.8h-1.8zM640.3 214.1h1.8v1.8h-1.8zM692.0 163.7h1.8v1.8h-1.8zM663.3 198.2h1.8v1.8h-1.8zM605.5 244.2h1.8v1.8h-1.8zM646.0 207.0h1.8v1.8h-1.8zM689.7 166.4h1.8v1.8h-1.8zM685.4 177.4h1.8v1.8h-1.8zM658.1 207.3h1.8v1.8h-1.8zM631.5 221.2h1.8v1.8h-1.8zM622.8 218.7h1.8v1.8h-1.8zM694.4 167.7h1.8v1.8h-1.8zM665.9 174.7h1.8v1.8h-1.8zM681.5 171.8h1.8v1.8h-1.8zM674.2 185.1h1.8v1.8h-1.8zM649.5 201.7h1.8v1.8h-1.8zM685.0 176.3h1.8v1.8h-1.8zM616.3 237.2h1.8v1.8h-1.8zM653.0 196.0h1.8v1.8h-1.8zM676.2 179.2h1.8v1.8h-1.8zM687.0 163.3h1.8v1.8h-1.8zM688.7 164.1h1.8v1.8h-1.8zM635.6 228.6h1.8v1.8h-1.8zM638.4 209.9h1.8v1.8h-1.8zM636.7 219.5h1.8v1.8h-1.8zM614.8 240.2h1.8v1.8h-1.8zM625.9 233.4h1.8v1.8h-1.8zM634.2 213.7h1.8v1.8h-1.8zM685.9 174.4h1.8v1.8h-1.8zM662.0 191.7h1.8v1.8h-1.8zM682.8 189.4h1.8v1.8h-1.8zM645.8 204.7h1.8v1.8h-1.8zM663.2 189.6h1.8v1.8h-1.8zM693.7 160.4h1.8v1.8h-1.8zM695.4 157.8h1.8v1.8h-1.8zM634.5 222.3h1.8v1.8h-1.8zM636.6 219.1h1.8v1.8h-1.8zM687.0 174.7h1.8v1.8h-1.8zM651.4 195.7h1.8v1.8h-1.8zM690.0 173.6h1.8v1.8h-1.8zM670.7 188.3h1.8v1.8h-1.8zM680.1 170.5h1.8v1.8h-1.8zM642.3 203.2h1.8v1.8h-1.8zM673.5 186.0h1.8v1.8h-1.8zM675.6 165.6h1.8v1.8h-1.8zM627.8 217.8h1.8v1.8h-1.8zM699.3 161.8h1.8v1.8h-1.8zM680.6 179.1h1.8v1.8h-1.8zM644.2 210.5h1.8v1.8h-1.8zM673.0 184.3h1.8v1.8h-1.8zM637.0 211.4h1.8v1.8h-1.8zM661.7 184.2h1.8v1.8h-1.8zM602.4 251.4h1.8v1.8h-1.8zM653.5 208.7h1.8v1.8h-1.8zM705.4 146.3h1.8v1.8h-1.8zM648.6 209.8h1.8v1.8h-1.8zM696.4 151.5h1.8v1.8h-1.8zM726.1 118.1h1.8v1.8h-1.8zM641.3 217.6h1.8v1.8h-1.8zM638.2 201.8h1.8v1.8h-1.8zM698.1 149.7h1.8v1.8h-1.8zM616.9 235.3h1.8v1.8h-1.8zM666.1 188.0h1.8v1.8h-1.8zM639.2 211.5h1.8v1.8h-1.8zM635.4 216.6h1.8v1.8h-1.8zM654.4 196.0h1.8v1.8h-1.8zM679.8 170.2h1.8v1.8h-1.8zM654.6 211.9h1.8v1.8h-1.8zM634.4 215.8h1.8v1.8h-1.8zM658.8 192.0h1.8v1.8h-1.8zM660.5 211.5h1.8v1.8h-1.8zM712.4 134.1h1.8v1.8h-1.8zM622.8 234.2h1.8v1.8h-1.8zM695.4 165.2h1.8v1.8h-1.8zM694.8 165.1h1.8v1.8h-1.8zM690.5 164.8h1.8v1.8h-1.8zM670.6 188.7h1.8v1.8h-1.8zM631.5 214.6h1.8v1.8h-1.8zM644.9 209.4h1.8v1.8h-1.8zM638.6 211.2h1.8v1.8h-1.8zM655.9 192.1h1.8v1.8h-1.8zM689.9 153.0h1.8v1.8h-1.8zM718.8 134.8h1.8v1.8h-1.8zM638.0 214.0h1.8v1.8h-1.8zM629.6 222.0h1.8v1.8h-1.8zM632.3 220.0h1.8v1.8h-1.8zM615.6 240.7h1.8v1.8h-1.8zM672.7 174.8h1.8v1.8h-1.8zM659.3 196.2h1.8v1.8h-1.8zM677.8 174.8h1.8v1.8h-1.8zM668.6 185.6h1.8v1.8h-1.8zM688.4 169.3h1.8v1.8h-1.8zM641.3 203.4h1.8v1.8h-1.8zM640.6 214.4h1.8v1.8h-1.8zM639.5 219.0h1.8v1.8h-1.8zM660.5 195.4h1.8v1.8h-1.8zM594.7 247.2h1.8v1.8h-1.8zM676.9 165.9h1.8v1.8h-1.8zM642.6 205.5h1.8v1.8h-1.8zM648.8 196.6h1.8v1.8h-1.8zM681.2 178.9h1.8v1.8h-1.8zM611.7 243.3h1.8v1.8h-1.8zM631.7 220.0h1.8v1.8h-1.8zM635.8 203.7h1.8v1.8h-1.8zM698.5 158.5h1.8v1.8h-1.8zM628.0 207.5h1.8v1.8h-1.8zM657.8 200.8h1.8v1.8h-1.8zM692.5 168.1h1.8v1.8h-1.8zM637.5 215.3h1.8v1.8h-1.8zM647.2 203.8h1.8v1.8h-1.8zM688.5 159.6h1.8v1.8h-1.8zM685.4 170.3h1.8v1.8h-1.8zM653.8 198.4h1.8v1.8h-1.8zM688.4 168.9h1.8v1.8h-1.8zM670.2 190.2h1.8v1.8h-1.8zM641.7 211.8h1.8v1.8h-1.8zM680.9 166.2h1.8v1.8h-1.8zM621.5 233.4h1.8v1.8h-1.8zM670.8 186.8h1.8v1.8h-1.8zM658.5 199.0h1.8v1.8h-1.8zM707.4 141.4h1.8v1.8h-1.8zM650.4 216.9h1.8v1.8h-1.8zM701.3 165.6h1.8v1.8h-1.8zM624.4 223.4h1.8v1.8h-1.8zM637.6 217.9h1.8v1.8h-1.8zM659.9 199.5h1.8v1.8h-1.8zM683.6 174.0h1.8v1.8h-1.8zM628.6 220.8h1.8v1.8h-1.8zM628.5 235.7h1.8v1.8h-1.8zM672.4 187.1h1.8v1.8h-1.8zM644.3 212.8h1.8v1.8h-1.8zM648.1 202.5h1.8v1.8h-1.8zM663.3 192.8h1.8v1.8h-1.8zM635.3 208.9h1.8v1.8h-1.8zM685.2 162.6h1.8v1.8h-1.8zM678.0 170.5h1.8v1.8h-1.8zM668.4 175.6h1.8v1.8h-1.8zM652.2 202.9h1.8v1.8h-1.8zM662.6 187.3h1.8v1.8h-1.8zM651.9 193.5h1.8v1.8h-1.8zM614.9 245.2h1.8v1.8h-1.8zM653.5 206.6h1.8v1.8h-1.8zM664.0 183.2h1.8v1.8h-1.8zM660.3 189.3h1.8v1.8h-1.8zM676.7 173.1h1.8v1.8h-1.8zM702.8 146.9h1.8v1.8h-1.8zM749.7 105.9h1.8v1.8h-1.8zM651.3 203.7h1.8v1.8h-1.8zM675.6 178.4h1.8v1.8h-1.8zM668.8 190.3h1.8v1.8h-1.8zM659.9 205.3h1.8v1.8h-1.8zM698.1 154.3h1.8v1.8h-1.8zM657.5 191.7h1.8v1.8h-1.8zM609.2 243.6h1.8v1.8h-1.8zM687.8 165.4h1.8v1.8h-1.8zM665.7 186.0h1.8v1.8h-1.8zM703.8 146.0h1.8v1.8h-1.8zM645.5 206.7h1.8v1.8h-1.8zM681.4 169.2h1.8v1.8h-1.8zM690.3 157.2h1.8v1.8h-1.8zM649.0 194.2h1.8v1.8h-1.8zM616.1 237.4h1.8v1.8h-1.8zM684.4 173.3h1.8v1.8h-1.8zM623.2 227.2h1.8v1.8h-1.8zM632.3 218.4h1.8v1.8h-1.8zM624.8 225.9h1.8v1.8h-1.8zM634.7 218.6h1.8v1.8h-1.8zM673.8 180.2h1.8v1.8h-1.8zM676.2 172.7h1.8v1.8h-1.8zM692.1 158.2h1.8v1.8h-1.8zM653.1 204.4h1.8v1.8h-1.8zM671.1 177.3h1.8v1.8h-1.8zM591.0 252.0h1.8v1.8h-1.8zM687.9 174.7h1.8v1.8h-1.8zM574.5 264.6h1.8v1.8h-1.8zM656.2 198.0h1.8v1.8h-1.8zM699.0 159.3h1.8v1.8h-1.8zM668.2 191.7h1.8v1.8h-1.8zM656.0 200.8h1.8v1.8h-1.8zM662.4 190.2h1.8v1.8h-1.8zM650.1 196.7h1.8v1.8h-1.8zM645.2 207.8h1.8v1.8h-1.8zM637.6 223.0h1.8v1.8h-1.8zM611.0 241.0h1.8v1.8h-1.8zM674.7 183.7h1.8v1.8h-1.8zM655.9 195.7h1.8v1.8h-1.8zM693.7 165.1h1.8v1.8h-1.8zM710.8 134.1h1.8v1.8h-1.8zM693.2 149.8h1.8v1.8h-1.8zM673.6 174.7h1.8v1.8h-1.8zM653.5 193.7h1.8v1.8h-1.8zM671.9 184.1h1.8v1.8h-1.8zM645.4 196.5h1.8v1.8h-1.8zM691.6 166.5h1.8v1.8h-1.8zM685.2 169.0h1.8v1.8h-1.8zM661.7 188.2h1.8v1.8h-1.8zM595.2 253.6h1.8v1.8h-1.8zM597.6 256.0h1.8v1.8h-1.8zM745.3 108.9h1.8v1.8h-1.8zM595.6 260.1h1.8v1.8h-1.8zM680.7 186.5h1.8v1.8h-1.8zM640.7 206.6h1.8v1.8h-1.8zM616.5 235.3h1.8v1.8h-1.8zM632.6 223.5h1.8v1.8h-1.8zM663.0 186.4h1.8v1.8h-1.8zM639.5 213.9h1.8v1.8h-1.8zM658.3 190.8h1.8v1.8h-1.8zM610.7 243.8h1.8v1.8h-1.8zM667.2 198.3h1.8v1.8h-1.8zM649.6 203.9h1.8v1.8h-1.8zM686.9 176.1h1.8v1.8h-1.8zM724.2 127.3h1.8v1.8h-1.8zM641.8 200.1h1.8v1.8h-1.8zM679.2 174.5h1.8v1.8h-1.8zM739.9 112.8h1.8v1.8h-1.8zM638.6 213.7h1.8v1.8h-1.8zM694.5 164.5h1.8v1.8h-1.8zM632.7 220.4h1.8v1.8h-1.8zM628.2 224.8h1.8v1.8h-1.8zM632.5 220.1h1.8v1.8h-1.8zM666.0 182.7h1.8v1.8h-1.8zM666.9 195.1h1.8v1.8h-1.8zM675.0 188.3h1.8v1.8h-1.8zM616.5 238.8h1.8v1.8h-1.8zM678.0 181.7h1.8v1.8h-1.8zM657.0 209.9h1.8v1.8h-1.8zM629.9 224.4h1.8v1.8h-1.8zM684.4 164.6h1.8v1.8h-1.8zM627.9 227.5h1.8v1.8h-1.8zM619.9 230.4h1.8v1.8h-1.8zM599.8 249.9h1.8v1.8h-1.8zM682.4 169.6h1.8v1.8h-1.8zM653.6 215.5h1.8v1.8h-1.8zM616.6 240.1h1.8v1.8h-1.8zM702.2 152.5h1.8v1.8h-1.8zM694.0 156.8h1.8v1.8h-1.8zM675.8 165.7h1.8v1.8h-1.8zM706.6 143.5h1.8v1.8h-1.8zM659.6 189.3h1.8v1.8h-1.8zM618.5 229.2h1.8v1.8h-1.8zM651.0 197.0h1.8v1.8h-1.8zM639.3 213.1h1.8v1.8h-1.8zM675.9 195.7h1.8v1.8h-1.8zM672.9 182.8h1.8v1.8h-1.8zM642.1 207.2h1.8v1.8h-1.8zM659.6 180.6h1.8v1.8h-1.8zM688.1 158.8h1.8v1.8h-1.8zM611.2 241.0h1.8v1.8h-1.8zM618.8 232.9h1.8v1.8h-1.8zM688.8 156.6h1.8v1.8h-1.8zM652.5 190.2h1.8v1.8h-1.8zM664.8 182.0h1.8v1.8h-1.8zM677.6 173.9h1.8v1.8h-1.8zM647.8 206.4h1.8v1.8h-1.8zM694.8 171.9h1.8v1.8h-1.8zM628.1 220.7h1.8v1.8h-1.8zM600.8 248.9h1.8v1.8h-1.8zM671.1 198.5h1.8v1.8h-1.8zM682.1 179.0h1.8v1.8h-1.8zM646.0 210.0h1.8v1.8h-1.8zM651.1 212.8h1.8v1.8h-1.8zM626.0 230.0h1.8v1.8h-1.8zM714.5 140.5h1.8v1.8h-1.8zM669.1 208.1h1.8v1.8h-1.8zM659.4 197.3h1.8v1.8h-1.8zM709.8 147.9h1.8v1.8h-1.8zM626.3 212.0h1.8v1.8h-1.8zM665.5 194.2h1.8v1.8h-1.8zM719.5 123.6h1.8v1.8h-1.8zM656.0 205.9h1.8v1.8h-1.8zM629.0 233.7h1.8v1.8h-1.8zM671.1 185.7h1.8v1.8h-1.8zM676.7 180.8h1.8v1.8h-1.8zM661.6 209.0h1.8v1.8h-1.8zM659.9 195.1h1.8v1.8h-1.8zM591.4 256.8h1.8v1.8h-1.8zM672.8 176.9h1.8v1.8h-1.8zM624.4 230.9h1.8v1.8h-1.8zM681.9 171.1h1.8v1.8h-1.8zM646.5 206.6h1.8v1.8h-1.8zM634.1 208.7h1.8v1.8h-1.8zM669.8 181.1h1.8v1.8h-1.8zM673.6 179.9h1.8v1.8h-1.8zM696.4 154.7h1.8v1.8h-1.8zM691.1 160.7h1.8v1.8h-1.8zM677.6 184.0h1.8v1.8h-1.8zM673.7 188.0h1.8v1.8h-1.8zM646.5 201.0h1.8v1.8h-1.8zM626.6 219.7h1.8v1.8h-1.8zM629.6 210.8h1.8v1.8h-1.8zM639.9 206.3h1.8v1.8h-1.8zM657.8 196.5h1.8v1.8h-1.8zM615.2 241.0h1.8v1.8h-1.8zM655.5 195.4h1.8v1.8h-1.8zM644.5 200.8h1.8v1.8h-1.8zM684.9 172.9h1.8v1.8h-1.8zM643.2 219.7h1.8v1.8h-1.8zM670.5 181.2h1.8v1.8h-1.8zM686.2 164.8h1.8v1.8h-1.8zM693.6 158.7h1.8v1.8h-1.8zM657.9 200.6h1.8v1.8h-1.8zM620.5 233.5h1.8v1.8h-1.8zM696.7 157.4h1.8v1.8h-1.8zM622.4 239.0h1.8v1.8h-1.8zM684.5 170.6h1.8v1.8h-1.8zM671.0 188.3h1.8v1.8h-1.8zM699.3 151.3h1.8v1.8h-1.8zM668.6 195.8h1.8v1.8h-1.8zM733.0 120.0h1.8v1.8h-1.8zM704.2 138.3h1.8v1.8h-1.8zM663.4 190.9h1.8v1.8h-1.8zM636.4 204.2h1.8v1.8h-1.8zM636.9 205.4h1.8v1.8h-1.8zM680.6 175.3h1.8v1.8h-1.8zM634.7 218.5h1.8v1.8h-1.8zM627.6 219.3h1.8v1.8h-1.8zM656.4 202.2h1.8v1.8h-1.8zM681.1 176.1h1.8v1.8h-1.8zM620.4 225.8h1.8v1.8h-1.8zM693.6 155.2h1.8v1.8h-1.8zM614.3 248.0h1.8v1.8h-1.8zM670.6 179.0h1.8v1.8h-1.8zM654.8 197.0h1.8v1.8h-1.8zM605.2 249.2h1.8v1.8h-1.8zM646.1 213.9h1.8v1.8h-1.8zM641.5 225.4h1.8v1.8h-1.8zM673.0 179.7h1.8v1.8h-1.8zM590.0 258.4h1.8v1.8h-1.8zM655.7 212.2h1.8v1.8h-1.8zM669.6 194.9h1.8v1.8h-1.8zM647.0 202.9h1.8v1.8h-1.8zM643.2 211.5h1.8v1.8h-1.8zM670.9 195.5h1.8v1.8h-1.8zM675.7 194.6h1.8v1.8h-1.8zM669.9 185.5h1.8v1.8h-1.8zM667.2 195.9h1.8v1.8h-1.8zM677.6 165.9h1.8v1.8h-1.8zM654.6 196.6h1.8v1.8h-1.8zM641.8 221.1h1.8v1.8h-1.8zM680.1 172.2h1.8v1.8h-1.8zM665.7 187.3h1.8v1.8h-1.8zM715.1 134.0h1.8v1.8h-1.8zM619.5 241.8h1.8v1.8h-1.8zM632.0 221.0h1.8v1.8h-1.8zM695.1 156.1h1.8v1.8h-1.8zM587.0 257.3h1.8v1.8h-1.8zM717.4 130.4h1.8v1.8h-1.8zM668.2 200.1h1.8v1.8h-1.8zM611.1 241.0h1.8v1.8h-1.8zM654.9 202.4h1.8v1.8h-1.8zM685.1 176.7h1.8v1.8h-1.8zM655.9 182.7h1.8v1.8h-1.8zM647.3 210.7h1.8v1.8h-1.8zM668.9 196.3h1.8v1.8h-1.8zM665.0 184.7h1.8v1.8h-1.8zM656.5 200.7h1.8v1.8h-1.8zM682.8 178.8h1.8v1.8h-1.8zM702.3 148.6h1.8v1.8h-1.8zM640.3 208.4h1.8v1.8h-1.8zM631.9 205.6h1.8v1.8h-1.8zM669.3 182.7h1.8v1.8h-1.8zM689.7 165.6h1.8v1.8h-1.8zM677.1 165.8h1.8v1.8h-1.8zM693.3 162.2h1.8v1.8h-1.8zM618.5 234.4h1.8v1.8h-1.8zM679.0 183.8h1.8v1.8h-1.8zM682.6 177.0h1.8v1.8h-1.8zM626.7 224.8h1.8v1.8h-1.8zM678.3 170.7h1.8v1.8h-1.8zM689.7 168.2h1.8v1.8h-1.8zM601.0 253.7h1.8v1.8h-1.8zM682.9 167.3h1.8v1.8h-1.8zM690.2 162.4h1.8v1.8h-1.8zM669.5 188.4h1.8v1.8h-1.8zM642.8 212.9h1.8v1.8h-1.8zM658.3 197.7h1.8v1.8h-1.8zM590.0 263.3h1.8v1.8h-1.8zM649.5 207.6h1.8v1.8h-1.8zM649.3 206.7h1.8v1.8h-1.8zM659.2 202.4h1.8v1.8h-1.8zM675.8 175.6h1.8v1.8h-1.8zM691.3 160.7h1.8v1.8h-1.8zM628.3 216.7h1.8v1.8h-1.8zM628.7 227.8h1.8v1.8h-1.8zM625.0 212.3h1.8v1.8h-1.8zM647.0 212.0h1.8v1.8h-1.8zM682.2 164.7h1.8v1.8h-1.8zM693.7 158.6h1.8v1.8h-1.8zM656.0 196.8h1.8v1.8h-1.8zM674.7 183.4h1.8v1.8h-1.8zM585.8 256.2h1.8v1.8h-1.8zM656.2 200.2h1.8v1.8h-1.8zM653.6 195.3h1.8v1.8h-1.8zM660.9 197.4h1.8v1.8h-1.8zM663.8 193.4h1.8v1.8h-1.8zM660.2 201.7h1.8v1.8h-1.8zM674.9 180.7h1.8v1.8h-1.8zM608.8 251.0h1.8v1.8h-1.8zM698.6 150.9h1.8v1.8h-1.8zM630.3 227.2h1.8v1.8h-1.8zM682.0 186.6h1.8v1.8h-1.8zM604.5 251.7h1.8v1.8h-1.8zM679.0 180.8h1.8v1.8h-1.8zM677.8 167.0h1.8v1.8h-1.8zM621.2 217.6h1.8v1.8h-1.8zM648.6 212.8h1.8v1.8h-1.8zM691.0 157.3h1.8v1.8h-1.8zM629.0 218.8h1.8v1.8h-1.8zM655.2 191.5h1.8v1.8h-1.8zM666.2 182.1h1.8v1.8h-1.8zM664.6 195.1h1.8v1.8h-1.8zM645.5 210.8h1.8v1.8h-1.8zM692.8 173.0h1.8v1.8h-1.8zM648.0 206.4h1.8v1.8h-1.8zM635.0 217.8h1.8v1.8h-1.8zM693.3 161.2h1.8v1.8h-1.8zM644.6 206.4h1.8v1.8h-1.8zM696.9 168.2h1.8v1.8h-1.8zM644.7 208.8h1.8v1.8h-1.8zM620.8 231.0h1.8v1.8h-1.8zM677.5 172.4h1.8v1.8h-1.8zM714.2 136.5h1.8v1.8h-1.8zM679.8 178.9h1.8v1.8h-1.8zM666.3 204.6h1.8v1.8h-1.8zM683.7 183.8h1.8v1.8h-1.8zM676.2 192.9h1.8v1.8h-1.8zM668.6 177.2h1.8v1.8h-1.8zM639.4 210.5h1.8v1.8h-1.8zM673.3 170.3h1.8v1.8h-1.8zM619.7 234.7h1.8v1.8h-1.8zM735.8 126.0h1.8v1.8h-1.8zM700.7 150.9h1.8v1.8h-1.8zM674.1 184.7h1.8v1.8h-1.8zM623.6 226.3h1.8v1.8h-1.8zM636.6 213.5h1.8v1.8h-1.8zM674.4 187.8h1.8v1.8h-1.8zM644.1 215.1h1.8v1.8h-1.8zM671.8 186.6h1.8v1.8h-1.8zM717.8 119.7h1.8v1.8h-1.8zM673.9 180.6h1.8v1.8h-1.8zM650.6 198.5h1.8v1.8h-1.8zM677.9 182.9h1.8v1.8h-1.8zM639.4 207.5h1.8v1.8h-1.8zM690.8 164.0h1.8v1.8h-1.8zM702.8 145.8h1.8v1.8h-1.8zM631.6 228.2h1.8v1.8h-1.8zM730.6 119.5h1.8v1.8h-1.8zM729.7 121.2h1.8v1.8h-1.8zM662.8 176.4h1.8v1.8h-1.8zM680.4 173.6h1.8v1.8h-1.8zM631.4 218.3h1.8v1.8h-1.8zM650.8 187.7h1.8v1.8h-1.8zM643.0 204.5h1.8v1.8h-1.8zM639.7 219.2h1.8v1.8h-1.8zM637.4 217.7h1.8v1.8h-1.8zM655.7 198.9h1.8v1.8h-1.8zM649.2 215.7h1.8v1.8h-1.8zM644.6 202.4h1.8v1.8h-1.8zM665.1 198.2h1.8v1.8h-1.8zM667.9 195.8h1.8v1.8h-1.8zM642.5 207.0h1.8v1.8h-1.8zM670.4 191.8h1.8v1.8h-1.8zM602.3 250.1h1.8v1.8h-1.8zM663.4 194.2h1.8v1.8h-1.8zM666.6 171.6h1.8v1.8h-1.8zM647.2 202.9h1.8v1.8h-1.8zM629.0 223.6h1.8v1.8h-1.8zM673.3 200.4h1.8v1.8h-1.8zM631.6 228.7h1.8v1.8h-1.8zM678.7 167.9h1.8v1.8h-1.8zM622.9 232.2h1.8v1.8h-1.8zM669.7 186.0h1.8v1.8h-1.8zM599.5 250.2h1.8v1.8h-1.8zM674.2 194.5h1.8v1.8h-1.8zM667.2 177.2h1.8v1.8h-1.8zM705.7 141.6h1.8v1.8h-1.8zM639.6 221.1h1.8v1.8h-1.8zM654.6 203.7h1.8v1.8h-1.8zM654.6 199.1h1.8v1.8h-1.8zM626.5 204.1h1.8v1.8h-1.8zM661.0 192.2h1.8v1.8h-1.8zM630.7 221.3h1.8v1.8h-1.8zM640.4 218.8h1.8v1.8h-1.8zM634.3 212.1h1.8v1.8h-1.8zM661.9 194.0h1.8v1.8h-1.8zM649.8 194.9h1.8v1.8h-1.8zM659.4 198.4h1.8v1.8h-1.8zM714.3 132.7h1.8v1.8h-1.8zM594.0 255.3h1.8v1.8h-1.8zM665.4 184.9h1.8v1.8h-1.8zM665.4 190.8h1.8v1.8h-1.8zM695.7 156.1h1.8v1.8h-1.8zM715.2 134.6h1.8v1.8h-1.8zM685.1 165.6h1.8v1.8h-1.8zM661.5 202.4h1.8v1.8h-1.8zM627.4 227.2h1.8v1.8h-1.8zM678.1 191.9h1.8v1.8h-1.8zM677.3 175.6h1.8v1.8h-1.8zM684.3 173.3h1.8v1.8h-1.8zM605.5 248.5h1.8v1.8h-1.8zM642.6 208.3h1.8v1.8h-1.8zM646.2 210.4h1.8v1.8h-1.8zM669.5 189.2h1.8v1.8h-1.8zM654.6 193.1h1.8v1.8h-1.8zM625.2 233.4h1.8v1.8h-1.8zM664.1 203.6h1.8v1.8h-1.8zM659.5 195.7h1.8v1.8h-1.8zM587.0 257.6h1.8v1.8h-1.8zM619.8 231.5h1.8v1.8h-1.8zM671.6 200.7h1.8v1.8h-1.8zM739.0 117.5h1.8v1.8h-1.8zM674.8 187.9h1.8v1.8h-1.8zM650.8 194.9h1.8v1.8h-1.8zM674.9 184.0h1.8v1.8h-1.8zM636.7 212.4h1.8v1.8h-1.8zM658.4 196.1h1.8v1.8h-1.8zM646.6 195.9h1.8v1.8h-1.8zM649.9 201.7h1.8v1.8h-1.8zM670.2 191.3h1.8v1.8h-1.8zM675.9 176.3h1.8v1.8h-1.8zM637.0 215.4h1.8v1.8h-1.8zM647.8 196.3h1.8v1.8h-1.8zM647.6 214.0h1.8v1.8h-1.8zM699.3 153.6h1.8v1.8h-1.8zM659.6 198.3h1.8v1.8h-1.8zM627.6 224.6h1.8v1.8h-1.8zM692.4 166.9h1.8v1.8h-1.8zM650.2 202.5h1.8v1.8h-1.8zM638.3 221.8h1.8v1.8h-1.8zM692.2 168.4h1.8v1.8h-1.8zM692.9 166.4h1.8v1.8h-1.8zM643.4 208.2h1.8v1.8h-1.8zM661.0 194.7h1.8v1.8h-1.8zM640.6 216.7h1.8v1.8h-1.8zM634.1 217.1h1.8v1.8h-1.8zM704.8 141.5h1.8v1.8h-1.8zM635.0 212.2h1.8v1.8h-1.8zM629.3 215.8h1.8v1.8h-1.8zM652.8 212.4h1.8v1.8h-1.8zM629.0 227.8h1.8v1.8h-1.8zM662.8 182.7h1.8v1.8h-1.8zM709.6 133.4h1.8v1.8h-1.8zM650.3 188.9h1.8v1.8h-1.8zM677.8 184.6h1.8v1.8h-1.8zM666.6 189.2h1.8v1.8h-1.8zM691.6 158.0h1.8v1.8h-1.8zM692.3 163.4h1.8v1.8h-1.8zM680.7 170.5h1.8v1.8h-1.8zM631.1 211.5h1.8v1.8h-1.8zM707.0 146.0h1.8v1.8h-1.8zM658.3 194.6h1.8v1.8h-1.8zM634.2 214.3h1.8v1.8h-1.8zM655.9 185.6h1.8v1.8h-1.8zM704.8 148.6h1.8v1.8h-1.8zM672.4 190.5h1.8v1.8h-1.8zM649.4 198.8h1.8v1.8h-1.8zM678.6 172.2h1.8v1.8h-1.8zM640.2 212.3h1.8v1.8h-1.8zM664.8 188.0h1.8v1.8h-1.8zM686.5 166.8h1.8v1.8h-1.8zM642.8 202.4h1.8v1.8h-1.8zM625.1 227.6h1.8v1.8h-1.8zM736.3 121.3h1.8v1.8h-1.8zM669.0 173.9h1.8v1.8h-1.8zM651.2 197.5h1.8v1.8h-1.8zM677.2 176.6h1.8v1.8h-1.8zM660.2 197.6h1.8v1.8h-1.8zM640.6 213.7h1.8v1.8h-1.8zM641.5 206.5h1.8v1.8h-1.8zM657.5 198.4h1.8v1.8h-1.8zM641.2 203.1h1.8v1.8h-1.8zM664.5 198.7h1.8v1.8h-1.8zM748.5 101.8h1.8v1.8h-1.8zM659.7 190.0h1.8v1.8h-1.8zM639.6 213.6h1.8v1.8h-1.8zM688.7 171.8h1.8v1.8h-1.8zM750.3 104.8h1.8v1.8h-1.8zM653.1 207.3h1.8v1.8h-1.8zM672.9 189.8h1.8v1.8h-1.8zM661.2 184.6h1.8v1.8h-1.8zM639.8 215.4h1.8v1.8h-1.8zM617.7 234.6h1.8v1.8h-1.8zM659.7 201.3h1.8v1.8h-1.8zM659.5 191.8h1.8v1.8h-1.8zM635.4 211.8h1.8v1.8h-1.8zM673.5 172.3h1.8v1.8h-1.8zM646.0 203.5h1.8v1.8h-1.8zM685.0 166.7h1.8v1.8h-1.8zM638.6 220.7h1.8v1.8h-1.8zM630.1 223.9h1.8v1.8h-1.8zM710.8 138.3h1.8v1.8h-1.8zM665.6 184.1h1.8v1.8h-1.8zM627.8 224.6h1.8v1.8h-1.8zM685.7 173.0h1.8v1.8h-1.8zM680.2 184.6h1.8v1.8h-1.8zM661.7 189.3h1.8v1.8h-1.8zM632.0 224.9h1.8v1.8h-1.8zM673.2 181.3h1.8v1.8h-1.8zM687.2 164.9h1.8v1.8h-1.8zM682.0 169.6h1.8v1.8h-1.8zM697.1 153.0h1.8v1.8h-1.8zM663.5 206.2h1.8v1.8h-1.8zM648.9 215.2h1.8v1.8h-1.8zM661.6 194.2h1.8v1.8h-1.8zM644.9 203.3h1.8v1.8h-1.8zM687.9 173.2h1.8v1.8h-1.8zM677.7 180.9h1.8v1.8h-1.8zM661.4 201.3h1.8v1.8h-1.8zM617.6 231.2h1.8v1.8h-1.8zM652.0 205.9h1.8v1.8h-1.8zM681.7 164.6h1.8v1.8h-1.8zM613.8 238.8h1.8v1.8h-1.8zM681.4 182.3h1.8v1.8h-1.8zM649.7 202.3h1.8v1.8h-1.8zM667.7 187.4h1.8v1.8h-1.8zM664.1 193.5h1.8v1.8h-1.8zM598.0 254.1h1.8v1.8h-1.8zM676.8 193.0h1.8v1.8h-1.8zM660.6 193.2h1.8v1.8h-1.8zM657.4 196.6h1.8v1.8h-1.8zM626.7 235.6h1.8v1.8h-1.8zM653.8 202.9h1.8v1.8h-1.8zM599.3 252.4h1.8v1.8h-1.8zM683.0 165.7h1.8v1.8h-1.8zM647.5 205.6h1.8v1.8h-1.8zM705.0 140.4h1.8v1.8h-1.8zM647.3 202.2h1.8v1.8h-1.8zM651.5 202.4h1.8v1.8h-1.8zM677.2 167.8h1.8v1.8h-1.8zM610.2 242.4h1.8v1.8h-1.8zM706.3 149.7h1.8v1.8h-1.8zM670.2 186.9h1.8v1.8h-1.8zM676.3 180.6h1.8v1.8h-1.8zM684.9 159.5h1.8v1.8h-1.8zM680.0 182.4h1.8v1.8h-1.8zM640.3 214.0h1.8v1.8h-1.8zM670.0 191.9h1.8v1.8h-1.8zM626.0 226.1h1.8v1.8h-1.8zM659.0 185.2h1.8v1.8h-1.8zM647.9 216.4h1.8v1.8h-1.8zM643.6 209.6h1.8v1.8h-1.8zM696.8 161.5h1.8v1.8h-1.8zM617.5 229.7h1.8v1.8h-1.8zM630.6 226.8h1.8v1.8h-1.8zM675.0 180.7h1.8v1.8h-1.8zM644.9 211.4h1.8v1.8h-1.8zM686.8 178.6h1.8v1.8h-1.8zM674.5 175.5h1.8v1.8h-1.8zM641.5 204.3h1.8v1.8h-1.8zM636.6 214.5h1.8v1.8h-1.8zM652.9 203.2h1.8v1.8h-1.8zM658.1 198.5h1.8v1.8h-1.8zM670.4 181.9h1.8v1.8h-1.8zM644.0 207.6h1.8v1.8h-1.8zM624.1 222.0h1.8v1.8h-1.8zM675.6 189.8h1.8v1.8h-1.8zM668.9 190.2h1.8v1.8h-1.8zM622.5 225.2h1.8v1.8h-1.8zM637.3 209.4h1.8v1.8h-1.8zM685.5 166.0h1.8v1.8h-1.8zM656.5 208.5h1.8v1.8h-1.8zM686.0 173.7h1.8v1.8h-1.8zM683.5 176.8h1.8v1.8h-1.8zM684.4 176.2h1.8v1.8h-1.8zM633.3 219.8h1.8v1.8h-1.8zM692.8 158.5h1.8v1.8h-1.8zM651.9 206.4h1.8v1.8h-1.8zM656.6 213.9h1.8v1.8h-1.8zM643.2 198.7h1.8v1.8h-1.8zM676.5 192.3h1.8v1.8h-1.8zM649.3 210.3h1.8v1.8h-1.8zM707.9 141.6h1.8v1.8h-1.8zM657.4 193.0h1.8v1.8h-1.8zM651.8 208.3h1.8v1.8h-1.8zM666.9 184.8h1.8v1.8h-1.8zM673.9 183.9h1.8v1.8h-1.8zM670.2 179.4h1.8v1.8h-1.8zM654.8 196.7h1.8v1.8h-1.8zM656.6 203.0h1.8v1.8h-1.8zM655.8 196.8h1.8v1.8h-1.8zM664.1 189.7h1.8v1.8h-1.8zM629.9 207.6h1.8v1.8h-1.8zM610.4 237.2h1.8v1.8h-1.8zM690.9 165.2h1.8v1.8h-1.8zM683.4 180.4h1.8v1.8h-1.8zM636.9 199.7h1.8v1.8h-1.8zM684.5 168.3h1.8v1.8h-1.8zM652.3 210.5h1.8v1.8h-1.8zM632.6 211.2h1.8v1.8h-1.8zM652.3 204.4h1.8v1.8h-1.8zM591.2 257.8h1.8v1.8h-1.8zM705.8 138.9h1.8v1.8h-1.8zM651.6 205.3h1.8v1.8h-1.8zM616.6 223.8h1.8v1.8h-1.8zM672.1 186.4h1.8v1.8h-1.8zM669.7 182.5h1.8v1.8h-1.8zM677.0 180.4h1.8v1.8h-1.8zM672.2 176.9h1.8v1.8h-1.8zM677.1 172.2h1.8v1.8h-1.8zM646.2 202.3h1.8v1.8h-1.8zM647.4 195.0h1.8v1.8h-1.8zM677.8 171.4h1.8v1.8h-1.8zM668.5 206.9h1.8v1.8h-1.8zM668.1 190.1h1.8v1.8h-1.8zM681.6 179.3h1.8v1.8h-1.8zM654.3 202.8h1.8v1.8h-1.8zM637.7 212.7h1.8v1.8h-1.8zM634.7 218.0h1.8v1.8h-1.8zM624.8 235.1h1.8v1.8h-1.8zM660.0 191.3h1.8v1.8h-1.8zM651.6 206.3h1.8v1.8h-1.8zM653.5 216.3h1.8v1.8h-1.8zM631.7 221.0h1.8v1.8h-1.8zM608.4 240.1h1.8v1.8h-1.8zM641.1 219.7h1.8v1.8h-1.8zM626.0 227.1h1.8v1.8h-1.8zM627.0 217.1h1.8v1.8h-1.8zM597.6 250.6h1.8v1.8h-1.8zM645.7 193.3h1.8v1.8h-1.8zM645.3 209.2h1.8v1.8h-1.8zM603.7 249.7h1.8v1.8h-1.8zM694.8 151.9h1.8v1.8h-1.8zM650.3 199.8h1.8v1.8h-1.8zM600.0 248.2h1.8v1.8h-1.8zM650.5 194.3h1.8v1.8h-1.8zM696.5 162.3h1.8v1.8h-1.8zM631.8 221.4h1.8v1.8h-1.8zM653.3 201.0h1.8v1.8h-1.8zM661.0 197.3h1.8v1.8h-1.8zM708.9 148.2h1.8v1.8h-1.8zM633.0 214.9h1.8v1.8h-1.8zM679.3 169.5h1.8v1.8h-1.8zM685.3 174.8h1.8v1.8h-1.8zM638.1 217.4h1.8v1.8h-1.8zM658.6 192.9h1.8v1.8h-1.8zM651.9 206.2h1.8v1.8h-1.8zM649.4 207.6h1.8v1.8h-1.8zM688.0 181.4h1.8v1.8h-1.8zM619.6 229.6h1.8v1.8h-1.8zM611.5 240.0h1.8v1.8h-1.8zM641.8 220.3h1.8v1.8h-1.8zM713.7 132.0h1.8v1.8h-1.8zM656.2 200.5h1.8v1.8h-1.8zM691.7 182.0h1.8v1.8h-1.8zM656.9 196.6h1.8v1.8h-1.8zM664.9 200.8h1.8v1.8h-1.8zM645.2 199.3h1.8v1.8h-1.8zM657.3 194.3h1.8v1.8h-1.8zM622.5 226.2h1.8v1.8h-1.8zM681.1 186.4h1.8v1.8h-1.8zM670.9 190.5h1.8v1.8h-1.8zM687.2 181.0h1.8v1.8h-1.8zM729.0 116.3h1.8v1.8h-1.8zM628.8 221.0h1.8v1.8h-1.8zM685.0 163.7h1.8v1.8h-1.8zM682.6 164.5h1.8v1.8h-1.8zM609.7 241.3h1.8v1.8h-1.8zM683.1 168.4h1.8v1.8h-1.8zM627.1 223.8h1.8v1.8h-1.8zM684.8 178.8h1.8v1.8h-1.8zM620.4 234.0h1.8v1.8h-1.8zM680.9 178.8h1.8v1.8h-1.8zM689.8 154.9h1.8v1.8h-1.8zM647.0 213.6h1.8v1.8h-1.8zM664.0 186.0h1.8v1.8h-1.8zM666.8 203.6h1.8v1.8h-1.8zM650.5 206.4h1.8v1.8h-1.8zM661.8 183.7h1.8v1.8h-1.8zM658.5 180.4h1.8v1.8h-1.8zM666.4 196.3h1.8v1.8h-1.8zM676.3 169.7h1.8v1.8h-1.8zM602.6 248.6h1.8v1.8h-1.8zM668.9 190.8h1.8v1.8h-1.8zM653.8 201.7h1.8v1.8h-1.8zM677.8 175.8h1.8v1.8h-1.8zM613.9 238.6h1.8v1.8h-1.8zM637.4 213.1h1.8v1.8h-1.8zM635.9 215.0h1.8v1.8h-1.8zM656.5 194.2h1.8v1.8h-1.8zM653.2 210.8h1.8v1.8h-1.8zM652.4 192.0h1.8v1.8h-1.8zM630.2 227.2h1.8v1.8h-1.8zM698.3 155.5h1.8v1.8h-1.8zM642.0 212.9h1.8v1.8h-1.8zM646.8 205.5h1.8v1.8h-1.8zM646.3 201.2h1.8v1.8h-1.8zM669.6 191.4h1.8v1.8h-1.8zM648.3 209.0h1.8v1.8h-1.8zM629.3 216.6h1.8v1.8h-1.8zM657.0 198.6h1.8v1.8h-1.8zM682.8 177.6h1.8v1.8h-1.8zM650.3 195.5h1.8v1.8h-1.8zM645.8 210.0h1.8v1.8h-1.8zM615.8 232.9h1.8v1.8h-1.8zM636.0 212.3h1.8v1.8h-1.8zM632.4 217.4h1.8v1.8h-1.8zM644.9 214.6h1.8v1.8h-1.8zM644.5 195.8h1.8v1.8h-1.8zM633.8 217.1h1.8v1.8h-1.8zM672.6 190.4h1.8v1.8h-1.8zM689.6 162.6h1.8v1.8h-1.8zM628.1 222.3h1.8v1.8h-1.8zM682.6 171.2h1.8v1.8h-1.8zM660.9 188.1h1.8v1.8h-1.8zM623.7 231.2h1.8v1.8h-1.8zM650.8 201.8h1.8v1.8h-1.8zM631.7 228.9h1.8v1.8h-1.8zM682.0 184.6h1.8v1.8h-1.8zM736.9 113.5h1.8v1.8h-1.8zM659.1 186.4h1.8v1.8h-1.8zM646.8 201.2h1.8v1.8h-1.8zM673.8 169.4h1.8v1.8h-1.8zM682.1 183.2h1.8v1.8h-1.8zM729.3 122.4h1.8v1.8h-1.8zM631.7 220.0h1.8v1.8h-1.8zM696.1 164.0h1.8v1.8h-1.8zM739.4 111.3h1.8v1.8h-1.8zM709.8 139.3h1.8v1.8h-1.8zM661.4 195.7h1.8v1.8h-1.8zM676.2 177.2h1.8v1.8h-1.8zM630.7 215.7h1.8v1.8h-1.8zM680.5 174.9h1.8v1.8h-1.8zM697.7 162.0h1.8v1.8h-1.8zM646.2 201.0h1.8v1.8h-1.8zM634.3 222.9h1.8v1.8h-1.8zM648.5 199.2h1.8v1.8h-1.8zM637.0 210.9h1.8v1.8h-1.8zM634.9 228.5h1.8v1.8h-1.8zM642.6 211.8h1.8v1.8h-1.8zM657.4 208.3h1.8v1.8h-1.8zM687.5 164.3h1.8v1.8h-1.8zM571.1 275.1h1.8v1.8h-1.8zM652.4 216.8h1.8v1.8h-1.8zM635.5 217.0h1.8v1.8h-1.8zM673.8 184.8h1.8v1.8h-1.8zM722.1 126.7h1.8v1.8h-1.8zM656.7 202.2h1.8v1.8h-1.8zM640.8 218.2h1.8v1.8h-1.8zM633.6 216.8h1.8v1.8h-1.8zM685.6 193.8h1.8v1.8h-1.8zM656.2 210.5h1.8v1.8h-1.8zM698.5 158.5h1.8v1.8h-1.8zM615.4 240.8h1.8v1.8h-1.8zM652.8 189.5h1.8v1.8h-1.8zM732.4 123.9h1.8v1.8h-1.8zM675.5 174.1h1.8v1.8h-1.8zM687.4 162.4h1.8v1.8h-1.8zM624.0 227.9h1.8v1.8h-1.8zM664.1 199.4h1.8v1.8h-1.8zM664.9 200.6h1.8v1.8h-1.8zM621.1 231.3h1.8v1.8h-1.8zM667.0 188.8h1.8v1.8h-1.8zM641.9 213.0h1.8v1.8h-1.8zM731.5 124.5h1.8v1.8h-1.8zM622.5 233.1h1.8v1.8h-1.8zM692.8 168.5h1.8v1.8h-1.8zM661.2 189.7h1.8v1.8h-1.8zM654.3 192.0h1.8v1.8h-1.8zM701.6 145.3h1.8v1.8h-1.8zM659.9 196.2h1.8v1.8h-1.8zM651.0 213.9h1.8v1.8h-1.8zM588.5 256.4h1.8v1.8h-1.8zM686.5 171.9h1.8v1.8h-1.8zM635.3 219.7h1.8v1.8h-1.8zM688.9 175.3h1.8v1.8h-1.8zM686.4 169.6h1.8v1.8h-1.8zM665.5 185.1h1.8v1.8h-1.8zM694.7 158.9h1.8v1.8h-1.8zM734.7 118.5h1.8v1.8h-1.8zM650.2 213.8h1.8v1.8h-1.8zM669.8 195.6h1.8v1.8h-1.8zM620.5 236.0h1.8v1.8h-1.8zM635.3 202.1h1.8v1.8h-1.8zM630.2 212.0h1.8v1.8h-1.8zM667.4 175.0h1.8v1.8h-1.8zM626.8 229.0h1.8v1.8h-1.8zM670.0 192.4h1.8v1.8h-1.8zM648.9 210.3h1.8v1.8h-1.8zM660.0 200.1h1.8v1.8h-1.8zM664.3 191.4h1.8v1.8h-1.8zM607.6 247.4h1.8v1.8h-1.8zM618.4 232.2h1.8v1.8h-1.8zM697.5 157.1h1.8v1.8h-1.8zM683.4 172.7h1.8v1.8h-1.8zM683.5 162.2h1.8v1.8h-1.8zM659.5 210.8h1.8v1.8h-1.8zM676.4 186.6h1.8v1.8h-1.8zM630.0 214.7h1.8v1.8h-1.8zM670.6 194.8h1.8v1.8h-1.8zM634.6 222.8h1.8v1.8h-1.8zM647.1 202.0h1.8v1.8h-1.8zM667.2 184.2h1.8v1.8h-1.8zM637.3 213.8h1.8v1.8h-1.8zM622.7 234.2h1.8v1.8h-1.8zM664.4 191.5h1.8v1.8h-1.8zM687.8 179.3h1.8v1.8h-1.8zM646.6 201.1h1.8v1.8h-1.8zM647.4 208.7h1.8v1.8h-1.8zM687.9 162.1h1.8v1.8h-1.8zM663.1 181.0h1.8v1.8h-1.8zM599.0 255.0h1.8v1.8h-1.8zM638.8 219.2h1.8v1.8h-1.8zM657.7 189.1h1.8v1.8h-1.8zM645.1 204.5h1.8v1.8h-1.8zM643.6 213.6h1.8v1.8h-1.8zM634.4 222.4h1.8v1.8h-1.8zM667.7 188.4h1.8v1.8h-1.8zM683.1 191.3h1.8v1.8h-1.8zM685.1 167.4h1.8v1.8h-1.8zM713.3 138.8h1.8v1.8h-1.8zM687.4 170.1h1.8v1.8h-1.8zM682.1 168.7h1.8v1.8h-1.8zM683.3 168.8h1.8v1.8h-1.8zM631.5 224.3h1.8v1.8h-1.8zM660.2 189.1h1.8v1.8h-1.8zM682.5 197.0h1.8v1.8h-1.8zM704.7 143.1h1.8v1.8h-1.8zM601.8 248.8h1.8v1.8h-1.8zM691.5 153.1h1.8v1.8h-1.8zM628.7 210.1h1.8v1.8h-1.8zM659.2 216.5h1.8v1.8h-1.8zM642.8 211.8h1.8v1.8h-1.8zM702.6 151.7h1.8v1.8h-1.8zM662.7 189.0h1.8v1.8h-1.8zM711.4 141.5h1.8v1.8h-1.8zM688.7 160.0h1.8v1.8h-1.8zM634.9 221.6h1.8v1.8h-1.8zM674.2 188.2h1.8v1.8h-1.8zM669.5 176.7h1.8v1.8h-1.8zM674.9 182.0h1.8v1.8h-1.8zM652.3 201.7h1.8v1.8h-1.8zM661.4 194.1h1.8v1.8h-1.8zM672.6 171.2h1.8v1.8h-1.8zM688.9 158.1h1.8v1.8h-1.8zM707.2 145.5h1.8v1.8h-1.8zM689.4 172.1h1.8v1.8h-1.8zM622.4 231.8h1.8v1.8h-1.8zM676.9 174.0h1.8v1.8h-1.8zM668.0 180.6h1.8v1.8h-1.8zM672.0 185.9h1.8v1.8h-1.8zM653.1 201.2h1.8v1.8h-1.8zM680.1 178.1h1.8v1.8h-1.8zM675.0 195.6h1.8v1.8h-1.8zM646.3 205.6h1.8v1.8h-1.8zM641.9 218.3h1.8v1.8h-1.8zM627.7 227.1h1.8v1.8h-1.8zM606.6 243.1h1.8v1.8h-1.8zM692.9 161.4h1.8v1.8h-1.8zM638.1 212.2h1.8v1.8h-1.8zM673.0 182.0h1.8v1.8h-1.8zM668.2 186.4h1.8v1.8h-1.8zM679.8 184.5h1.8v1.8h-1.8zM708.8 138.6h1.8v1.8h-1.8zM636.1 215.5h1.8v1.8h-1.8zM679.7 180.3h1.8v1.8h-1.8zM633.2 224.5h1.8v1.8h-1.8zM682.9 171.5h1.8v1.8h-1.8zM636.1 218.1h1.8v1.8h-1.8zM682.1 171.7h1.8v1.8h-1.8zM630.3 218.2h1.8v1.8h-1.8zM656.6 196.9h1.8v1.8h-1.8zM658.3 196.4h1.8v1.8h-1.8zM654.8 191.4h1.8v1.8h-1.8zM679.9 165.2h1.8v1.8h-1.8zM644.5 201.5h1.8v1.8h-1.8zM637.0 206.9h1.8v1.8h-1.8zM624.6 214.5h1.8v1.8h-1.8zM670.8 195.4h1.8v1.8h-1.8zM683.0 162.1h1.8v1.8h-1.8zM656.4 189.1h1.8v1.8h-1.8zM652.6 203.9h1.8v1.8h-1.8zM666.1 180.2h1.8v1.8h-1.8zM625.9 230.4h1.8v1.8h-1.8zM616.1 232.3h1.8v1.8h-1.8zM657.1 189.1h1.8v1.8h-1.8zM670.3 186.6h1.8v1.8h-1.8zM617.5 238.5h1.8v1.8h-1.8zM642.7 215.6h1.8v1.8h-1.8zM645.0 210.9h1.8v1.8h-1.8zM626.5 227.3h1.8v1.8h-1.8zM642.5 204.8h1.8v1.8h-1.8zM674.0 173.7h1.8v1.8h-1.8zM637.1 221.1h1.8v1.8h-1.8zM621.4 228.8h1.8v1.8h-1.8zM627.0 234.0h1.8v1.8h-1.8zM675.4 164.1h1.8v1.8h-1.8zM653.3 195.9h1.8v1.8h-1.8zM633.3 229.7h1.8v1.8h-1.8zM659.6 207.3h1.8v1.8h-1.8zM679.7 166.6h1.8v1.8h-1.8zM659.9 197.3h1.8v1.8h-1.8zM653.8 201.0h1.8v1.8h-1.8zM655.1 195.6h1.8v1.8h-1.8zM665.5 189.1h1.8v1.8h-1.8zM638.6 218.0h1.8v1.8h-1.8zM730.7 120.1h1.8v1.8h-1.8zM625.3 225.5h1.8v1.8h-1.8zM671.0 187.3h1.8v1.8h-1.8zM677.9 188.6h1.8v1.8h-1.8zM646.1 204.5h1.8v1.8h-1.8zM678.5 179.1h1.8v1.8h-1.8zM628.6 223.3h1.8v1.8h-1.8zM660.6 196.8h1.8v1.8h-1.8zM694.4 161.0h1.8v1.8h-1.8zM635.8 210.5h1.8v1.8h-1.8zM659.1 206.3h1.8v1.8h-1.8zM648.0 208.2h1.8v1.8h-1.8zM639.5 214.8h1.8v1.8h-1.8zM685.7 166.0h1.8v1.8h-1.8zM693.8 168.4h1.8v1.8h-1.8zM601.6 251.7h1.8v1.8h-1.8zM618.6 227.5h1.8v1.8h-1.8zM705.3 148.9h1.8v1.8h-1.8zM670.9 182.9h1.8v1.8h-1.8zM676.5 172.8h1.8v1.8h-1.8zM657.6 199.5h1.8v1.8h-1.8zM623.7 234.3h1.8v1.8h-1.8zM607.9 240.3h1.8v1.8h-1.8zM647.2 210.0h1.8v1.8h-1.8zM640.0 218.7h1.8v1.8h-1.8zM645.9 207.1h1.8v1.8h-1.8zM624.6 227.1h1.8v1.8h-1.8zM674.5 190.2h1.8v1.8h-1.8zM694.0 154.3h1.8v1.8h-1.8zM643.6 215.0h1.8v1.8h-1.8zM658.4 188.0h1.8v1.8h-1.8zM699.9 154.1h1.8v1.8h-1.8zM639.0 206.3h1.8v1.8h-1.8zM638.3 216.3h1.8v1.8h-1.8zM697.3 165.1h1.8v1.8h-1.8zM668.0 189.6h1.8v1.8h-1.8zM648.1 211.8h1.8v1.8h-1.8zM675.2 178.5h1.8v1.8h-1.8zM682.2 168.7h1.8v1.8h-1.8zM634.2 210.9h1.8v1.8h-1.8zM617.8 237.6h1.8v1.8h-1.8zM641.7 215.4h1.8v1.8h-1.8zM680.4 183.9h1.8v1.8h-1.8zM672.7 174.9h1.8v1.8h-1.8zM655.8 196.5h1.8v1.8h-1.8zM643.6 208.6h1.8v1.8h-1.8zM628.6 222.6h1.8v1.8h-1.8zM630.5 216.3h1.8v1.8h-1.8zM654.6 193.1h1.8v1.8h-1.8zM704.7 142.0h1.8v1.8h-1.8zM647.0 202.9h1.8v1.8h-1.8zM691.0 164.2h1.8v1.8h-1.8zM721.4 127.1h1.8v1.8h-1.8zM672.4 175.7h1.8v1.8h-1.8zM668.6 179.5h1.8v1.8h-1.8zM662.7 202.4h1.8v1.8h-1.8zM633.6 221.9h1.8v1.8h-1.8zM639.2 216.2h1.8v1.8h-1.8zM631.1 226.0h1.8v1.8h-1.8zM657.8 195.3h1.8v1.8h-1.8zM629.3 223.1h1.8v1.8h-1.8zM649.7 195.9h1.8v1.8h-1.8zM672.8 190.5h1.8v1.8h-1.8zM703.0 153.0h1.8v1.8h-1.8zM640.4 206.8h1.8v1.8h-1.8zM659.7 197.9h1.8v1.8h-1.8zM644.9 200.6h1.8v1.8h-1.8zM654.1 198.6h1.8v1.8h-1.8zM625.8 226.8h1.8v1.8h-1.8zM645.6 206.0h1.8v1.8h-1.8zM672.9 186.7h1.8v1.8h-1.8zM701.6 151.5h1.8v1.8h-1.8zM653.3 196.8h1.8v1.8h-1.8zM662.2 189.8h1.8v1.8h-1.8zM686.9 171.7h1.8v1.8h-1.8zM658.8 191.7h1.8v1.8h-1.8zM662.8 185.9h1.8v1.8h-1.8zM677.4 180.5h1.8v1.8h-1.8zM614.4 236.7h1.8v1.8h-1.8zM601.0 245.9h1.8v1.8h-1.8zM650.4 188.2h1.8v1.8h-1.8zM632.8 224.6h1.8v1.8h-1.8zM635.0 215.1h1.8v1.8h-1.8zM685.5 166.0h1.8v1.8h-1.8zM670.6 172.8h1.8v1.8h-1.8zM619.2 239.3h1.8v1.8h-1.8zM688.1 165.8h1.8v1.8h-1.8zM626.8 220.6h1.8v1.8h-1.8zM685.5 176.3h1.8v1.8h-1.8zM640.6 206.6h1.8v1.8h-1.8zM664.2 187.5h1.8v1.8h-1.8zM636.7 221.7h1.8v1.8h-1.8zM657.1 188.0h1.8v1.8h-1.8zM652.4 204.6h1.8v1.8h-1.8zM630.6 221.6h1.8v1.8h-1.8zM668.3 180.4h1.8v1.8h-1.8zM712.1 137.5h1.8v1.8h-1.8zM669.3 188.4h1.8v1.8h-1.8zM684.1 177.7h1.8v1.8h-1.8zM676.2 181.4h1.8v1.8h-1.8zM623.5 238.0h1.8v1.8h-1.8zM614.4 242.7h1.8v1.8h-1.8zM595.4 251.9h1.8v1.8h-1.8zM588.2 253.2h1.8v1.8h-1.8zM634.1 217.7h1.8v1.8h-1.8zM640.7 203.8h1.8v1.8h-1.8zM728.3 122.6h1.8v1.8h-1.8zM629.8 209.0h1.8v1.8h-1.8zM700.4 150.8h1.8v1.8h-1.8zM663.8 211.6h1.8v1.8h-1.8zM647.1 220.9h1.8v1.8h-1.8zM649.1 197.6h1.8v1.8h-1.8zM611.7 246.1h1.8v1.8h-1.8zM632.5 219.3h1.8v1.8h-1.8zM634.6 214.9h1.8v1.8h-1.8zM635.1 214.1h1.8v1.8h-1.8zM643.2 220.1h1.8v1.8h-1.8zM647.8 202.7h1.8v1.8h-1.8zM646.1 206.5h1.8v1.8h-1.8zM650.7 208.4h1.8v1.8h-1.8zM680.7 172.9h1.8v1.8h-1.8zM626.7 228.3h1.8v1.8h-1.8zM657.0 198.3h1.8v1.8h-1.8zM699.5 156.6h1.8v1.8h-1.8zM651.8 207.2h1.8v1.8h-1.8zM686.4 165.5h1.8v1.8h-1.8zM629.2 217.9h1.8v1.8h-1.8zM655.3 201.0h1.8v1.8h-1.8zM657.9 178.9h1.8v1.8h-1.8zM657.1 196.8h1.8v1.8h-1.8zM696.2 158.8h1.8v1.8h-1.8zM673.6 163.7h1.8v1.8h-1.8zM690.6 169.2h1.8v1.8h-1.8zM649.7 206.1h1.8v1.8h-1.8zM658.5 199.3h1.8v1.8h-1.8zM627.6 224.4h1.8v1.8h-1.8zM663.4 197.5h1.8v1.8h-1.8zM675.1 180.4h1.8v1.8h-1.8zM650.7 202.7h1.8v1.8h-1.8zM669.4 184.8h1.8v1.8h-1.8zM617.0 235.7h1.8v1.8h-1.8zM635.8 213.0h1.8v1.8h-1.8zM657.8 203.1h1.8v1.8h-1.8zM640.1 214.0h1.8v1.8h-1.8zM660.7 203.0h1.8v1.8h-1.8zM671.3 186.6h1.8v1.8h-1.8zM690.2 166.5h1.8v1.8h-1.8zM626.2 230.6h1.8v1.8h-1.8zM616.4 245.9h1.8v1.8h-1.8zM692.3 161.3h1.8v1.8h-1.8zM651.3 192.1h1.8v1.8h-1.8zM653.6 196.2h1.8v1.8h-1.8zM614.4 243.5h1.8v1.8h-1.8zM650.4 207.1h1.8v1.8h-1.8zM651.3 197.2h1.8v1.8h-1.8zM677.1 191.8h1.8v1.8h-1.8zM656.1 202.6h1.8v1.8h-1.8zM714.8 137.3h1.8v1.8h-1.8zM670.5 182.8h1.8v1.8h-1.8zM668.8 190.4h1.8v1.8h-1.8zM629.2 227.2h1.8v1.8h-1.8zM675.0 178.7h1.8v1.8h-1.8zM611.0 244.2h1.8v1.8h-1.8zM643.3 224.3h1.8v1.8h-1.8zM650.7 200.9h1.8v1.8h-1.8zM651.2 203.6h1.8v1.8h-1.8zM691.8 159.3h1.8v1.8h-1.8zM676.4 179.2h1.8v1.8h-1.8zM665.9 196.9h1.8v1.8h-1.8zM663.2 192.3h1.8v1.8h-1.8zM616.2 238.6h1.8v1.8h-1.8zM578.8 264.6h1.8v1.8h-1.8zM655.3 204.9h1.8v1.8h-1.8zM677.7 191.5h1.8v1.8h-1.8zM663.6 192.1h1.8v1.8h-1.8zM628.4 214.6h1.8v1.8h-1.8zM675.0 194.0h1.8v1.8h-1.8zM638.0 208.2h1.8v1.8h-1.8zM658.6 185.8h1.8v1.8h-1.8zM669.7 199.9h1.8v1.8h-1.8zM684.0 180.2h1.8v1.8h-1.8zM678.1 174.7h1.8v1.8h-1.8zM672.1 183.6h1.8v1.8h-1.8zM692.4 175.4h1.8v1.8h-1.8zM657.8 195.8h1.8v1.8h-1.8zM654.1 197.5h1.8v1.8h-1.8zM631.7 225.6h1.8v1.8h-1.8zM679.7 176.2h1.8v1.8h-1.8zM639.8 208.9h1.8v1.8h-1.8zM680.4 172.1h1.8v1.8h-1.8zM621.8 225.8h1.8v1.8h-1.8zM652.8 199.3h1.8v1.8h-1.8zM673.1 190.4h1.8v1.8h-1.8zM655.8 197.8h1.8v1.8h-1.8zM737.0 116.3h1.8v1.8h-1.8zM667.1 194.6h1.8v1.8h-1.8zM637.0 227.6h1.8v1.8h-1.8zM694.3 157.2h1.8v1.8h-1.8zM683.9 176.4h1.8v1.8h-1.8zM651.3 203.9h1.8v1.8h-1.8zM591.7 255.4h1.8v1.8h-1.8zM696.2 152.6h1.8v1.8h-1.8zM669.3 183.7h1.8v1.8h-1.8zM694.5 156.8h1.8v1.8h-1.8zM586.2 260.1h1.8v1.8h-1.8zM662.4 198.8h1.8v1.8h-1.8zM638.4 203.8h1.8v1.8h-1.8zM677.4 183.0h1.8v1.8h-1.8zM712.4 129.5h1.8v1.8h-1.8zM666.7 184.7h1.8v1.8h-1.8zM615.1 240.0h1.8v1.8h-1.8zM628.9 226.6h1.8v1.8h-1.8zM687.6 179.6h1.8v1.8h-1.8zM677.0 183.8h1.8v1.8h-1.8zM677.6 175.6h1.8v1.8h-1.8zM624.4 231.4h1.8v1.8h-1.8zM599.9 253.1h1.8v1.8h-1.8zM639.0 206.6h1.8v1.8h-1.8zM696.1 144.6h1.8v1.8h-1.8zM619.7 236.2h1.8v1.8h-1.8zM714.7 136.1h1.8v1.8h-1.8zM619.2 240.2h1.8v1.8h-1.8zM611.7 245.0h1.8v1.8h-1.8zM748.7 99.9h1.8v1.8h-1.8zM726.5 124.4h1.8v1.8h-1.8zM628.1 227.9h1.8v1.8h-1.8zM628.3 226.4h1.8v1.8h-1.8zM611.7 244.4h1.8v1.8h-1.8zM689.9 169.5h1.8v1.8h-1.8zM678.5 181.0h1.8v1.8h-1.8zM714.5 132.1h1.8v1.8h-1.8zM665.0 180.6h1.8v1.8h-1.8zM650.9 199.7h1.8v1.8h-1.8zM642.1 212.0h1.8v1.8h-1.8zM637.1 206.9h1.8v1.8h-1.8zM627.8 217.5h1.8v1.8h-1.8zM695.9 154.6h1.8v1.8h-1.8zM689.1 167.7h1.8v1.8h-1.8zM636.5 202.9h1.8v1.8h-1.8zM696.8 148.7h1.8v1.8h-1.8zM681.0 159.4h1.8v1.8h-1.8zM631.3 220.9h1.8v1.8h-1.8zM650.4 212.1h1.8v1.8h-1.8zM684.7 165.5h1.8v1.8h-1.8zM664.7 194.8h1.8v1.8h-1.8zM706.2 139.6h1.8v1.8h-1.8zM680.7 178.1h1.8v1.8h-1.8zM640.9 207.1h1.8v1.8h-1.8zM681.1 172.9h1.8v1.8h-1.8zM630.9 225.4h1.8v1.8h-1.8zM684.8 177.4h1.8v1.8h-1.8zM715.4 130.6h1.8v1.8h-1.8zM639.4 222.0h1.8v1.8h-1.8zM648.1 213.0h1.8v1.8h-1.8zM637.9 220.6h1.8v1.8h-1.8zM622.7 227.0h1.8v1.8h-1.8zM671.4 197.2h1.8v1.8h-1.8zM710.3 137.4h1.8v1.8h-1.8zM672.9 195.4h1.8v1.8h-1.8zM668.9 192.8h1.8v1.8h-1.8zM644.6 214.4h1.8v1.8h-1.8zM621.1 232.3h1.8v1.8h-1.8zM651.3 196.4h1.8v1.8h-1.8zM687.0 177.7h1.8v1.8h-1.8zM674.2 189.8h1.8v1.8h-1.8zM673.0 174.1h1.8v1.8h-1.8zM624.1 224.8h1.8v1.8h-1.8zM653.0 202.4h1.8v1.8h-1.8zM670.2 190.5h1.8v1.8h-1.8zM637.0 213.5h1.8v1.8h-1.8zM685.4 171.7h1.8v1.8h-1.8zM659.6 189.6h1.8v1.8h-1.8zM618.2 230.8h1.8v1.8h-1.8zM708.2 142.8h1.8v1.8h-1.8zM651.3 193.5h1.8v1.8h-1.8zM638.0 218.9h1.8v1.8h-1.8zM662.0 189.1h1.8v1.8h-1.8zM667.4 199.9h1.8v1.8h-1.8zM675.3 179.2h1.8v1.8h-1.8zM620.4 235.3h1.8v1.8h-1.8zM601.0 245.7h1.8v1.8h-1.8zM691.5 168.5h1.8v1.8h-1.8zM656.3 205.4h1.8v1.8h-1.8zM672.2 183.7h1.8v1.8h-1.8zM645.0 203.0h1.8v1.8h-1.8zM641.0 222.7h1.8v1.8h-1.8zM641.9 211.9h1.8v1.8h-1.8zM679.0 178.9h1.8v1.8h-1.8zM657.8 182.5h1.8v1.8h-1.8zM662.1 198.0h1.8v1.8h-1.8zM679.8 171.9h1.8v1.8h-1.8zM678.9 167.7h1.8v1.8h-1.8zM685.2 165.4h1.8v1.8h-1.8zM607.0 246.5h1.8v1.8h-1.8zM683.1 182.1h1.8v1.8h-1.8zM637.9 217.3h1.8v1.8h-1.8zM663.5 199.0h1.8v1.8h-1.8zM669.9 195.7h1.8v1.8h-1.8zM670.7 198.3h1.8v1.8h-1.8zM720.1 128.9h1.8v1.8h-1.8zM620.0 237.6h1.8v1.8h-1.8zM650.4 218.8h1.8v1.8h-1.8zM634.4 218.8h1.8v1.8h-1.8zM709.3 147.9h1.8v1.8h-1.8zM686.5 169.7h1.8v1.8h-1.8zM676.0 178.0h1.8v1.8h-1.8zM624.2 233.9h1.8v1.8h-1.8zM648.9 202.1h1.8v1.8h-1.8zM679.0 172.2h1.8v1.8h-1.8zM635.6 218.1h1.8v1.8h-1.8zM616.7 236.0h1.8v1.8h-1.8zM635.9 214.2h1.8v1.8h-1.8zM686.0 175.7h1.8v1.8h-1.8zM678.6 182.7h1.8v1.8h-1.8zM656.0 203.6h1.8v1.8h-1.8zM670.4 178.2h1.8v1.8h-1.8zM658.8 205.0h1.8v1.8h-1.8zM635.2 209.6h1.8v1.8h-1.8zM638.3 200.4h1.8v1.8h-1.8zM711.4 135.4h1.8v1.8h-1.8zM682.5 172.3h1.8v1.8h-1.8zM670.4 179.4h1.8v1.8h-1.8zM665.8 197.7h1.8v1.8h-1.8zM683.9 163.1h1.8v1.8h-1.8zM673.4 182.2h1.8v1.8h-1.8zM671.3 178.8h1.8v1.8h-1.8zM646.3 206.6h1.8v1.8h-1.8zM632.9 223.5h1.8v1.8h-1.8zM633.3 222.1h1.8v1.8h-1.8zM663.9 195.9h1.8v1.8h-1.8zM611.1 241.8h1.8v1.8h-1.8zM624.2 231.8h1.8v1.8h-1.8zM734.7 122.7h1.8v1.8h-1.8zM624.1 233.1h1.8v1.8h-1.8zM671.9 179.7h1.8v1.8h-1.8zM669.5 181.6h1.8v1.8h-1.8zM656.7 195.5h1.8v1.8h-1.8zM680.0 176.9h1.8v1.8h-1.8zM674.3 174.0h1.8v1.8h-1.8zM640.9 203.7h1.8v1.8h-1.8zM652.0 198.5h1.8v1.8h-1.8zM609.4 239.8h1.8v1.8h-1.8zM693.5 157.2h1.8v1.8h-1.8zM705.9 141.3h1.8v1.8h-1.8zM643.3 204.1h1.8v1.8h-1.8zM636.0 209.0h1.8v1.8h-1.8zM660.6 185.9h1.8v1.8h-1.8zM662.6 202.6h1.8v1.8h-1.8zM670.1 182.1h1.8v1.8h-1.8zM670.8 185.1h1.8v1.8h-1.8zM687.9 158.3h1.8v1.8h-1.8zM664.9 198.2h1.8v1.8h-1.8zM707.9 148.2h1.8v1.8h-1.8zM668.0 174.5h1.8v1.8h-1.8zM669.6 188.2h1.8v1.8h-1.8zM660.1 187.7h1.8v1.8h-1.8zM683.9 170.0h1.8v1.8h-1.8zM666.6 189.5h1.8v1.8h-1.8zM657.8 198.4h1.8v1.8h-1.8zM609.9 246.7h1.8v1.8h-1.8zM650.3 203.9h1.8v1.8h-1.8zM643.1 214.7h1.8v1.8h-1.8zM713.3 131.1h1.8v1.8h-1.8zM612.8 247.0h1.8v1.8h-1.8zM619.8 236.3h1.8v1.8h-1.8zM674.7 188.8h1.8v1.8h-1.8zM631.6 220.1h1.8v1.8h-1.8zM611.1 243.9h1.8v1.8h-1.8zM625.0 233.4h1.8v1.8h-1.8zM679.0 186.7h1.8v1.8h-1.8zM740.0 108.6h1.8v1.8h-1.8zM680.8 172.9h1.8v1.8h-1.8zM601.2 256.4h1.8v1.8h-1.8zM663.6 187.6h1.8v1.8h-1.8zM606.7 243.8h1.8v1.8h-1.8zM683.0 170.6h1.8v1.8h-1.8zM695.1 164.2h1.8v1.8h-1.8zM641.8 208.1h1.8v1.8h-1.8zM636.3 207.4h1.8v1.8h-1.8zM664.2 197.7h1.8v1.8h-1.8zM666.1 189.1h1.8v1.8h-1.8zM690.7 169.0h1.8v1.8h-1.8zM650.2 189.7h1.8v1.8h-1.8zM664.6 200.1h1.8v1.8h-1.8zM644.6 201.2h1.8v1.8h-1.8zM637.7 222.5h1.8v1.8h-1.8zM664.6 206.4h1.8v1.8h-1.8zM661.3 201.8h1.8v1.8h-1.8zM676.5 173.1h1.8v1.8h-1.8zM627.6 217.8h1.8v1.8h-1.8zM619.6 241.3h1.8v1.8h-1.8zM649.5 195.9h1.8v1.8h-1.8zM750.0 103.3h1.8v1.8h-1.8zM635.8 223.6h1.8v1.8h-1.8zM629.0 225.8h1.8v1.8h-1.8zM666.4 205.8h1.8v1.8h-1.8zM594.7 253.2h1.8v1.8h-1.8zM739.2 113.9h1.8v1.8h-1.8zM644.9 207.6h1.8v1.8h-1.8zM638.3 208.0h1.8v1.8h-1.8zM689.2 167.2h1.8v1.8h-1.8zM681.1 159.9h1.8v1.8h-1.8zM641.4 208.7h1.8v1.8h-1.8zM679.2 179.0h1.8v1.8h-1.8zM657.4 198.0h1.8v1.8h-1.8zM627.9 220.0h1.8v1.8h-1.8zM628.8 228.3h1.8v1.8h-1.8zM694.9 156.1h1.8v1.8h-1.8zM671.4 177.8h1.8v1.8h-1.8zM756.4 98.1h1.8v1.8h-1.8zM691.1 164.4h1.8v1.8h-1.8zM632.2 211.2h1.8v1.8h-1.8zM720.0 133.2h1.8v1.8h-1.8zM697.0 158.0h1.8v1.8h-1.8zM651.2 194.4h1.8v1.8h-1.8zM701.4 153.3h1.8v1.8h-1.8zM704.6 147.0h1.8v1.8h-1.8zM652.7 204.1h1.8v1.8h-1.8zM611.2 243.2h1.8v1.8h-1.8zM664.8 199.5h1.8v1.8h-1.8zM693.5 156.0h1.8v1.8h-1.8zM651.4 210.7h1.8v1.8h-1.8zM622.3 223.0h1.8v1.8h-1.8zM706.2 142.5h1.8v1.8h-1.8zM664.6 189.3h1.8v1.8h-1.8zM686.9 166.1h1.8v1.8h-1.8zM666.0 188.5h1.8v1.8h-1.8zM679.8 188.5h1.8v1.8h-1.8zM680.5 172.7h1.8v1.8h-1.8zM635.3 217.2h1.8v1.8h-1.8zM614.6 241.1h1.8v1.8h-1.8zM687.6 163.3h1.8v1.8h-1.8zM687.4 160.8h1.8v1.8h-1.8zM690.4 167.8h1.8v1.8h-1.8zM692.1 166.7h1.8v1.8h-1.8zM694.0 158.2h1.8v1.8h-1.8zM699.3 155.8h1.8v1.8h-1.8zM651.3 201.1h1.8v1.8h-1.8zM653.7 193.3h1.8v1.8h-1.8zM654.1 204.6h1.8v1.8h-1.8zM676.4 189.7h1.8v1.8h-1.8zM678.5 194.9h1.8v1.8h-1.8zM650.1 193.7h1.8v1.8h-1.8zM676.9 187.5h1.8v1.8h-1.8zM642.2 204.3h1.8v1.8h-1.8zM673.8 180.9h1.8v1.8h-1.8zM686.1 187.4h1.8v1.8h-1.8zM693.4 164.9h1.8v1.8h-1.8zM671.5 182.4h1.8v1.8h-1.8zM687.1 165.1h1.8v1.8h-1.8zM646.2 213.8h1.8v1.8h-1.8zM654.2 196.9h1.8v1.8h-1.8zM702.3 147.4h1.8v1.8h-1.8zM654.3 210.3h1.8v1.8h-1.8zM644.6 198.3h1.8v1.8h-1.8zM687.0 164.7h1.8v1.8h-1.8zM665.8 184.1h1.8v1.8h-1.8zM677.0 179.4h1.8v1.8h-1.8zM678.4 186.9h1.8v1.8h-1.8zM561.8 279.3h1.8v1.8h-1.8zM668.0 193.5h1.8v1.8h-1.8zM673.9 182.2h1.8v1.8h-1.8zM665.2 188.5h1.8v1.8h-1.8zM646.9 211.8h1.8v1.8h-1.8zM630.4 220.2h1.8v1.8h-1.8zM648.0 203.6h1.8v1.8h-1.8zM698.8 149.5h1.8v1.8h-1.8zM678.1 179.2h1.8v1.8h-1.8zM610.6 243.9h1.8v1.8h-1.8zM671.8 186.1h1.8v1.8h-1.8zM654.4 214.6h1.8v1.8h-1.8zM621.0 240.5h1.8v1.8h-1.8zM709.4 141.1h1.8v1.8h-1.8zM700.5 154.7h1.8v1.8h-1.8zM655.6 203.2h1.8v1.8h-1.8zM636.1 210.7h1.8v1.8h-1.8zM644.7 213.4h1.8v1.8h-1.8zM639.7 219.5h1.8v1.8h-1.8zM641.6 210.3h1.8v1.8h-1.8zM658.0 200.6h1.8v1.8h-1.8zM663.4 201.3h1.8v1.8h-1.8zM621.5 233.8h1.8v1.8h-1.8zM622.6 225.4h1.8v1.8h-1.8zM634.7 213.7h1.8v1.8h-1.8zM645.9 208.0h1.8v1.8h-1.8zM662.8 194.4h1.8v1.8h-1.8zM729.5 120.9h1.8v1.8h-1.8zM685.0 166.3h1.8v1.8h-1.8zM677.6 172.3h1.8v1.8h-1.8zM717.1 133.8h1.8v1.8h-1.8zM653.7 194.2h1.8v1.8h-1.8zM617.7 235.1h1.8v1.8h-1.8zM632.7 218.4h1.8v1.8h-1.8zM652.9 197.5h1.8v1.8h-1.8zM633.4 223.2h1.8v1.8h-1.8zM684.0 169.0h1.8v1.8h-1.8zM630.2 221.7h1.8v1.8h-1.8zM618.2 230.7h1.8v1.8h-1.8zM673.6 174.8h1.8v1.8h-1.8zM639.1 216.2h1.8v1.8h-1.8zM676.1 171.1h1.8v1.8h-1.8zM630.0 224.7h1.8v1.8h-1.8zM635.8 224.3h1.8v1.8h-1.8zM693.5 163.5h1.8v1.8h-1.8zM632.3 221.5h1.8v1.8h-1.8zM710.5 141.8h1.8v1.8h-1.8zM662.6 189.3h1.8v1.8h-1.8zM656.8 197.6h1.8v1.8h-1.8zM667.1 179.3h1.8v1.8h-1.8zM640.2 213.7h1.8v1.8h-1.8zM642.4 206.8h1.8v1.8h-1.8zM663.6 194.7h1.8v1.8h-1.8zM682.1 177.4h1.8v1.8h-1.8zM670.9 190.1h1.8v1.8h-1.8zM656.3 183.9h1.8v1.8h-1.8zM660.3 187.0h1.8v1.8h-1.8zM628.8 234.2h1.8v1.8h-1.8zM677.4 186.8h1.8v1.8h-1.8zM666.0 185.9h1.8v1.8h-1.8zM666.2 191.9h1.8v1.8h-1.8zM636.3 207.0h1.8v1.8h-1.8zM672.9 181.6h1.8v1.8h-1.8zM645.2 206.2h1.8v1.8h-1.8zM681.4 171.7h1.8v1.8h-1.8zM712.9 131.5h1.8v1.8h-1.8zM668.0 193.4h1.8v1.8h-1.8zM652.2 204.8h1.8v1.8h-1.8zM660.0 196.3h1.8v1.8h-1.8zM692.8 171.5h1.8v1.8h-1.8zM697.0 163.6h1.8v1.8h-1.8zM656.0 189.4h1.8v1.8h-1.8zM698.1 154.0h1.8v1.8h-1.8zM589.0 256.9h1.8v1.8h-1.8zM592.7 251.3h1.8v1.8h-1.8zM655.1 193.9h1.8v1.8h-1.8zM618.6 238.8h1.8v1.8h-1.8zM680.7 172.0h1.8v1.8h-1.8zM608.8 242.5h1.8v1.8h-1.8zM643.0 218.6h1.8v1.8h-1.8zM672.0 186.2h1.8v1.8h-1.8zM660.4 199.4h1.8v1.8h-1.8zM636.3 208.8h1.8v1.8h-1.8zM630.4 225.7h1.8v1.8h-1.8zM627.2 226.0h1.8v1.8h-1.8zM639.5 216.5h1.8v1.8h-1.8zM651.1 203.3h1.8v1.8h-1.8zM640.9 212.7h1.8v1.8h-1.8zM743.5 107.3h1.8v1.8h-1.8zM724.9 125.0h1.8v1.8h-1.8zM676.5 178.3h1.8v1.8h-1.8zM669.0 183.7h1.8v1.8h-1.8zM654.3 194.2h1.8v1.8h-1.8zM620.8 235.9h1.8v1.8h-1.8zM618.8 233.4h1.8v1.8h-1.8zM649.8 196.8h1.8v1.8h-1.8zM646.8 216.4h1.8v1.8h-1.8zM653.2 195.8h1.8v1.8h-1.8zM677.7 193.5h1.8v1.8h-1.8zM616.8 225.0h1.8v1.8h-1.8zM624.8 226.2h1.8v1.8h-1.8zM658.2 185.4h1.8v1.8h-1.8zM652.1 198.5h1.8v1.8h-1.8zM620.0 238.3h1.8v1.8h-1.8zM668.8 186.9h1.8v1.8h-1.8zM661.7 205.4h1.8v1.8h-1.8zM681.0 181.6h1.8v1.8h-1.8zM638.5 209.7h1.8v1.8h-1.8zM691.2 173.7h1.8v1.8h-1.8zM701.0 149.8h1.8v1.8h-1.8zM645.9 213.7h1.8v1.8h-1.8zM646.8 206.2h1.8v1.8h-1.8zM685.3 172.3h1.8v1.8h-1.8zM647.8 200.3h1.8v1.8h-1.8zM687.7 167.0h1.8v1.8h-1.8zM643.5 214.7h1.8v1.8h-1.8zM666.0 194.5h1.8v1.8h-1.8zM653.9 206.9h1.8v1.8h-1.8zM625.4 232.5h1.8v1.8h-1.8zM645.0 219.8h1.8v1.8h-1.8zM676.4 174.2h1.8v1.8h-1.8zM645.2 210.7h1.8v1.8h-1.8zM693.5 176.4h1.8v1.8h-1.8zM684.3 171.3h1.8v1.8h-1.8zM622.4 234.8h1.8v1.8h-1.8zM671.1 182.4h1.8v1.8h-1.8zM621.5 233.9h1.8v1.8h-1.8zM661.2 186.2h1.8v1.8h-1.8zM674.5 183.1h1.8v1.8h-1.8zM616.9 234.0h1.8v1.8h-1.8zM701.3 154.4h1.8v1.8h-1.8zM642.8 207.8h1.8v1.8h-1.8zM645.2 196.9h1.8v1.8h-1.8zM666.1 191.9h1.8v1.8h-1.8zM679.7 188.7h1.8v1.8h-1.8zM617.8 238.4h1.8v1.8h-1.8zM654.6 214.2h1.8v1.8h-1.8zM703.1 145.9h1.8v1.8h-1.8zM636.4 209.2h1.8v1.8h-1.8zM699.7 167.0h1.8v1.8h-1.8zM636.9 218.4h1.8v1.8h-1.8zM701.8 148.6h1.8v1.8h-1.8zM617.8 231.7h1.8v1.8h-1.8zM664.9 185.2h1.8v1.8h-1.8zM652.7 196.9h1.8v1.8h-1.8zM643.9 217.3h1.8v1.8h-1.8zM658.1 192.1h1.8v1.8h-1.8zM675.4 194.9h1.8v1.8h-1.8zM606.6 249.3h1.8v1.8h-1.8zM661.2 199.0h1.8v1.8h-1.8zM632.4 215.8h1.8v1.8h-1.8zM638.8 214.6h1.8v1.8h-1.8zM588.7 260.9h1.8v1.8h-1.8zM679.7 168.2h1.8v1.8h-1.8zM625.7 229.9h1.8v1.8h-1.8zM665.1 186.3h1.8v1.8h-1.8zM669.6 173.8h1.8v1.8h-1.8zM608.5 246.9h1.8v1.8h-1.8zM664.1 198.6h1.8v1.8h-1.8zM664.6 189.2h1.8v1.8h-1.8zM645.5 201.7h1.8v1.8h-1.8zM709.9 146.8h1.8v1.8h-1.8zM638.0 206.6h1.8v1.8h-1.8zM670.4 192.5h1.8v1.8h-1.8zM612.0 246.3h1.8v1.8h-1.8zM572.5 269.4h1.8v1.8h-1.8zM671.5 189.0h1.8v1.8h-1.8zM684.9 173.3h1.8v1.8h-1.8zM670.0 175.3h1.8v1.8h-1.8zM625.2 221.4h1.8v1.8h-1.8zM619.2 237.7h1.8v1.8h-1.8zM678.2 184.6h1.8v1.8h-1.8zM655.4 191.7h1.8v1.8h-1.8zM723.1 134.2h1.8v1.8h-1.8zM689.5 157.3h1.8v1.8h-1.8zM613.9 248.1h1.8v1.8h-1.8zM663.2 196.0h1.8v1.8h-1.8zM618.5 243.4h1.8v1.8h-1.8zM624.6 218.3h1.8v1.8h-1.8zM625.7 226.9h1.8v1.8h-1.8zM624.9 231.0h1.8v1.8h-1.8zM673.3 180.1h1.8v1.8h-1.8zM649.1 202.6h1.8v1.8h-1.8zM604.0 251.6h1.8v1.8h-1.8zM642.6 207.6h1.8v1.8h-1.8zM665.0 190.0h1.8v1.8h-1.8zM697.2 155.6h1.8v1.8h-1.8zM684.4 171.8h1.8v1.8h-1.8zM680.4 171.3h1.8v1.8h-1.8zM731.7 123.2h1.8v1.8h-1.8zM660.0 202.2h1.8v1.8h-1.8zM621.0 237.5h1.8v1.8h-1.8zM668.6 193.5h1.8v1.8h-1.8zM641.3 207.6h1.8v1.8h-1.8zM629.7 221.5h1.8v1.8h-1.8zM581.2 262.7h1.8v1.8h-1.8zM665.5 189.7h1.8v1.8h-1.8zM703.7 143.7h1.8v1.8h-1.8zM659.4 190.6h1.8v1.8h-1.8zM669.6 181.0h1.8v1.8h-1.8zM631.4 214.8h1.8v1.8h-1.8zM666.0 185.5h1.8v1.8h-1.8zM654.6 197.6h1.8v1.8h-1.8zM623.2 220.4h1.8v1.8h-1.8zM671.8 189.4h1.8v1.8h-1.8zM652.6 191.8h1.8v1.8h-1.8zM684.6 177.8h1.8v1.8h-1.8zM704.7 150.7h1.8v1.8h-1.8zM664.7 179.8h1.8v1.8h-1.8zM694.7 164.5h1.8v1.8h-1.8zM647.0 209.3h1.8v1.8h-1.8zM681.3 190.1h1.8v1.8h-1.8zM674.8 194.3h1.8v1.8h-1.8zM634.9 218.7h1.8v1.8h-1.8zM641.1 218.3h1.8v1.8h-1.8zM644.1 198.6h1.8v1.8h-1.8zM698.8 154.4h1.8v1.8h-1.8zM642.8 204.9h1.8v1.8h-1.8zM672.0 174.5h1.8v1.8h-1.8zM649.5 213.5h1.8v1.8h-1.8zM649.9 203.6h1.8v1.8h-1.8zM694.9 165.6h1.8v1.8h-1.8zM689.7 165.0h1.8v1.8h-1.8zM670.8 184.2h1.8v1.8h-1.8zM587.5 249.8h1.8v1.8h-1.8zM633.6 216.6h1.8v1.8h-1.8zM682.8 176.0h1.8v1.8h-1.8zM633.4 225.2h1.8v1.8h-1.8zM718.0 128.3h1.8v1.8h-1.8zM692.5 158.8h1.8v1.8h-1.8zM632.3 225.2h1.8v1.8h-1.8zM727.8 122.3h1.8v1.8h-1.8zM689.3 175.4h1.8v1.8h-1.8zM677.4 168.5h1.8v1.8h-1.8zM723.8 127.9h1.8v1.8h-1.8zM710.3 151.0h1.8v1.8h-1.8zM625.2 246.2h1.8v1.8h-1.8zM681.1 176.8h1.8v1.8h-1.8zM618.4 197.3h1.8v1.8h-1.8zM702.7 122.2h1.8v1.8h-1.8zM604.3 244.2h1.8v1.8h-1.8zM658.8 187.0h1.8v1.8h-1.8zM662.3 183.2h1.8v1.8h-1.8zM648.5 212.1h1.8v1.8h-1.8zM619.9 211.2h1.8v1.8h-1.8zM695.7 175.5h1.8v1.8h-1.8zM659.9 195.2h1.8v1.8h-1.8zM650.4 212.0h1.8v1.8h-1.8zM644.3 210.1h1.8v1.8h-1.8zM656.0 170.4h1.8v1.8h-1.8zM612.2 238.5h1.8v1.8h-1.8zM697.6 200.8h1.8v1.8h-1.8zM636.8 207.8h1.8v1.8h-1.8zM692.3 166.5h1.8v1.8h-1.8zM659.5 211.1h1.8v1.8h-1.8zM570.7 262.6h1.8v1.8h-1.8zM702.0 163.3h1.8v1.8h-1.8zM636.3 210.5h1.8v1.8h-1.8zM634.6 205.0h1.8v1.8h-1.8zM629.3 216.1h1.8v1.8h-1.8zM613.2 242.9h1.8v1.8h-1.8zM681.1 145.2h1.8v1.8h-1.8zM705.2 137.2h1.8v1.8h-1.8zM655.6 213.1h1.8v1.8h-1.8zM659.8 188.6h1.8v1.8h-1.8zM672.5 206.7h1.8v1.8h-1.8zM647.7 232.5h1.8v1.8h-1.8zM693.0 159.8h1.8v1.8h-1.8zM570.0 275.3h1.8v1.8h-1.8zM692.0 143.8h1.8v1.8h-1.8zM598.6 232.0h1.8v1.8h-1.8zM637.1 185.8h1.8v1.8h-1.8zM667.6 190.0h1.8v1.8h-1.8zM670.2 174.6h1.8v1.8h-1.8zM657.9 196.3h1.8v1.8h-1.8zM654.4 189.5h1.8v1.8h-1.8zM683.2 174.1h1.8v1.8h-1.8zM615.0 224.4h1.8v1.8h-1.8zM622.8 210.0h1.8v1.8h-1.8zM671.9 203.2h1.8v1.8h-1.8zM657.7 179.4h1.8v1.8h-1.8zM617.9 240.6h1.8v1.8h-1.8zM675.0 184.4h1.8v1.8h-1.8zM662.3 219.1h1.8v1.8h-1.8zM629.3 210.5h1.8v1.8h-1.8zM674.5 175.0h1.8v1.8h-1.8zM639.3 198.1h1.8v1.8h-1.8zM656.7 181.6h1.8v1.8h-1.8zM650.3 209.7h1.8v1.8h-1.8zM661.7 189.2h1.8v1.8h-1.8zM647.7 212.9h1.8v1.8h-1.8zM643.4 170.4h1.8v1.8h-1.8zM695.2 168.7h1.8v1.8h-1.8zM679.8 204.6h1.8v1.8h-1.8zM683.8 176.8h1.8v1.8h-1.8zM653.8 189.4h1.8v1.8h-1.8zM720.1 123.6h1.8v1.8h-1.8zM635.3 214.0h1.8v1.8h-1.8zM653.5 215.9h1.8v1.8h-1.8zM667.5 224.4h1.8v1.8h-1.8zM702.6 123.3h1.8v1.8h-1.8zM637.0 201.1h1.8v1.8h-1.8zM654.4 191.1h1.8v1.8h-1.8zM685.0 188.3h1.8v1.8h-1.8zM663.5 188.0h1.8v1.8h-1.8zM641.1 216.5h1.8v1.8h-1.8zM652.5 185.0h1.8v1.8h-1.8zM694.9 145.0h1.8v1.8h-1.8zM650.1 209.9h1.8v1.8h-1.8zM712.2 133.4h1.8v1.8h-1.8zM678.5 186.6h1.8v1.8h-1.8zM626.3 221.6h1.8v1.8h-1.8zM613.7 256.0h1.8v1.8h-1.8zM697.9 164.2h1.8v1.8h-1.8zM708.4 150.3h1.8v1.8h-1.8zM623.3 229.5h1.8v1.8h-1.8zM659.6 181.1h1.8v1.8h-1.8zM636.1 199.4h1.8v1.8h-1.8zM655.6 196.7h1.8v1.8h-1.8zM658.5 185.8h1.8v1.8h-1.8zM692.8 165.5h1.8v1.8h-1.8zM723.6 140.0h1.8v1.8h-1.8zM618.1 231.4h1.8v1.8h-1.8zM689.0 176.9h1.8v1.8h-1.8zM675.3 201.3h1.8v1.8h-1.8zM669.3 171.6h1.8v1.8h-1.8zM638.2 178.6h1.8v1.8h-1.8zM662.8 210.3h1.8v1.8h-1.8zM658.2 225.5h1.8v1.8h-1.8zM703.4 191.7h1.8v1.8h-1.8zM681.7 162.6h1.8v1.8h-1.8zM672.7 187.3h1.8v1.8h-1.8zM650.3 192.8h1.8v1.8h-1.8zM633.6 210.5h1.8v1.8h-1.8zM636.2 207.6h1.8v1.8h-1.8zM665.2 209.7h1.8v1.8h-1.8zM650.0 226.6h1.8v1.8h-1.8zM647.5 233.2h1.8v1.8h-1.8zM645.1 213.7h1.8v1.8h-1.8zM668.0 184.7h1.8v1.8h-1.8zM675.3 155.3h1.8v1.8h-1.8zM651.3 195.2h1.8v1.8h-1.8zM651.0 197.1h1.8v1.8h-1.8zM584.7 239.1h1.8v1.8h-1.8zM686.6 167.2h1.8v1.8h-1.8zM654.2 175.9h1.8v1.8h-1.8zM669.6 169.2h1.8v1.8h-1.8zM638.1 198.9h1.8v1.8h-1.8zM654.4 191.3h1.8v1.8h-1.8zM628.6 230.1h1.8v1.8h-1.8zM669.4 191.0h1.8v1.8h-1.8zM627.9 209.3h1.8v1.8h-1.8zM657.0 203.3h1.8v1.8h-1.8zM603.2 233.9h1.8v1.8h-1.8zM706.0 162.5h1.8v1.8h-1.8zM717.8 139.9h1.8v1.8h-1.8zM629.0 210.1h1.8v1.8h-1.8zM677.9 177.1h1.8v1.8h-1.8zM675.7 198.6h1.8v1.8h-1.8zM696.7 143.1h1.8v1.8h-1.8zM704.6 180.6h1.8v1.8h-1.8zM654.9 225.2h1.8v1.8h-1.8zM651.5 243.7h1.8v1.8h-1.8zM664.7 202.1h1.8v1.8h-1.8zM653.9 192.0h1.8v1.8h-1.8zM760.1 94.8h1.8v1.8h-1.8zM621.3 232.2h1.8v1.8h-1.8zM714.8 153.6h1.8v1.8h-1.8zM617.9 242.1h1.8v1.8h-1.8zM635.6 192.2h1.8v1.8h-1.8zM707.1 155.0h1.8v1.8h-1.8zM664.5 201.4h1.8v1.8h-1.8zM656.2 220.2h1.8v1.8h-1.8zM684.8 193.1h1.8v1.8h-1.8zM654.1 205.8h1.8v1.8h-1.8zM665.2 175.9h1.8v1.8h-1.8zM686.4 164.8h1.8v1.8h-1.8zM654.3 202.7h1.8v1.8h-1.8zM633.5 192.2h1.8v1.8h-1.8zM663.5 176.1h1.8v1.8h-1.8zM636.5 202.7h1.8v1.8h-1.8zM646.4 215.0h1.8v1.8h-1.8zM678.0 155.5h1.8v1.8h-1.8zM621.6 250.1h1.8v1.8h-1.8zM647.3 191.1h1.8v1.8h-1.8zM663.0 173.1h1.8v1.8h-1.8zM700.1 180.8h1.8v1.8h-1.8zM601.9 248.2h1.8v1.8h-1.8zM695.3 132.4h1.8v1.8h-1.8zM680.5 195.7h1.8v1.8h-1.8zM677.7 183.4h1.8v1.8h-1.8zM578.5 266.2h1.8v1.8h-1.8zM646.1 212.0h1.8v1.8h-1.8zM595.2 255.3h1.8v1.8h-1.8zM642.4 190.4h1.8v1.8h-1.8zM616.0 213.6h1.8v1.8h-1.8zM685.4 163.5h1.8v1.8h-1.8zM658.2 190.9h1.8v1.8h-1.8zM643.3 210.4h1.8v1.8h-1.8zM630.8 211.8h1.8v1.8h-1.8zM657.6 210.9h1.8v1.8h-1.8zM628.3 195.9h1.8v1.8h-1.8zM654.2 175.9h1.8v1.8h-1.8zM642.5 201.9h1.8v1.8h-1.8zM722.8 136.1h1.8v1.8h-1.8zM630.8 225.1h1.8v1.8h-1.8zM663.3 174.9h1.8v1.8h-1.8zM704.3 139.6h1.8v1.8h-1.8zM670.6 189.5h1.8v1.8h-1.8zM704.4 155.1h1.8v1.8h-1.8zM673.8 196.7h1.8v1.8h-1.8zM649.8 195.0h1.8v1.8h-1.8zM638.0 209.3h1.8v1.8h-1.8zM644.8 196.9h1.8v1.8h-1.8zM704.8 150.2h1.8v1.8h-1.8zM623.0 204.5h1.8v1.8h-1.8zM630.8 222.9h1.8v1.8h-1.8zM693.4 136.1h1.8v1.8h-1.8zM682.7 173.9h1.8v1.8h-1.8zM649.2 219.8h1.8v1.8h-1.8zM663.4 207.3h1.8v1.8h-1.8zM664.4 175.6h1.8v1.8h-1.8zM677.0 172.9h1.8v1.8h-1.8zM632.3 228.7h1.8v1.8h-1.8zM644.5 227.6h1.8v1.8h-1.8zM714.2 155.0h1.8v1.8h-1.8zM626.6 236.5h1.8v1.8h-1.8zM638.2 214.5h1.8v1.8h-1.8zM647.9 190.6h1.8v1.8h-1.8zM621.3 245.0h1.8v1.8h-1.8zM628.6 249.0h1.8v1.8h-1.8zM694.4 192.5h1.8v1.8h-1.8zM626.9 221.2h1.8v1.8h-1.8zM663.0 208.5h1.8v1.8h-1.8zM670.9 206.5h1.8v1.8h-1.8zM651.7 216.3h1.8v1.8h-1.8zM664.8 179.0h1.8v1.8h-1.8zM636.9 226.2h1.8v1.8h-1.8zM653.9 203.3h1.8v1.8h-1.8zM622.3 223.0h1.8v1.8h-1.8zM706.7 149.9h1.8v1.8h-1.8zM633.8 194.0h1.8v1.8h-1.8zM737.6 108.4h1.8v1.8h-1.8zM644.6 214.9h1.8v1.8h-1.8zM674.1 202.3h1.8v1.8h-1.8zM652.3 182.1h1.8v1.8h-1.8zM664.5 199.2h1.8v1.8h-1.8zM623.7 214.2h1.8v1.8h-1.8zM606.4 218.7h1.8v1.8h-1.8zM676.0 167.3h1.8v1.8h-1.8zM632.1 210.3h1.8v1.8h-1.8zM671.7 208.7h1.8v1.8h-1.8zM628.0 223.0h1.8v1.8h-1.8zM646.2 233.0h1.8v1.8h-1.8zM583.3 263.5h1.8v1.8h-1.8zM631.5 222.8h1.8v1.8h-1.8zM636.4 187.6h1.8v1.8h-1.8zM669.3 168.8h1.8v1.8h-1.8zM656.0 209.2h1.8v1.8h-1.8zM631.3 233.9h1.8v1.8h-1.8zM693.7 168.0h1.8v1.8h-1.8zM642.2 183.5h1.8v1.8h-1.8zM689.4 171.8h1.8v1.8h-1.8zM634.3 222.3h1.8v1.8h-1.8zM639.0 223.9h1.8v1.8h-1.8zM691.6 197.7h1.8v1.8h-1.8zM657.4 205.2h1.8v1.8h-1.8zM662.5 167.6h1.8v1.8h-1.8zM629.0 206.9h1.8v1.8h-1.8zM685.9 164.2h1.8v1.8h-1.8zM633.1 221.3h1.8v1.8h-1.8zM653.1 177.1h1.8v1.8h-1.8zM669.7 168.9h1.8v1.8h-1.8zM645.2 168.8h1.8v1.8h-1.8zM675.5 204.8h1.8v1.8h-1.8zM691.7 199.7h1.8v1.8h-1.8zM686.7 176.1h1.8v1.8h-1.8zM627.2 214.9h1.8v1.8h-1.8zM660.9 200.0h1.8v1.8h-1.8zM695.7 131.0h1.8v1.8h-1.8zM633.7 245.0h1.8v1.8h-1.8zM677.5 162.4h1.8v1.8h-1.8zM689.8 152.9h1.8v1.8h-1.8zM678.0 221.0h1.8v1.8h-1.8zM672.1 175.2h1.8v1.8h-1.8zM624.2 194.2h1.8v1.8h-1.8zM624.2 221.0h1.8v1.8h-1.8zM627.9 208.1h1.8v1.8h-1.8zM654.0 187.0h1.8v1.8h-1.8zM631.5 210.0h1.8v1.8h-1.8zM679.6 195.4h1.8v1.8h-1.8zM686.2 209.3h1.8v1.8h-1.8zM597.1 240.9h1.8v1.8h-1.8zM688.7 165.5h1.8v1.8h-1.8zM694.4 167.6h1.8v1.8h-1.8zM699.1 148.5h1.8v1.8h-1.8zM692.1 186.2h1.8v1.8h-1.8zM625.7 203.2h1.8v1.8h-1.8zM645.1 210.8h1.8v1.8h-1.8zM674.5 162.3h1.8v1.8h-1.8zM689.7 189.5h1.8v1.8h-1.8zM665.1 178.0h1.8v1.8h-1.8zM636.2 221.4h1.8v1.8h-1.8zM669.6 196.6h1.8v1.8h-1.8zM638.7 219.3h1.8v1.8h-1.8zM681.5 198.6h1.8v1.8h-1.8zM634.2 226.7h1.8v1.8h-1.8zM716.1 138.4h1.8v1.8h-1.8zM611.2 244.4h1.8v1.8h-1.8zM653.5 220.7h1.8v1.8h-1.8zM680.0 184.5h1.8v1.8h-1.8zM663.5 209.0h1.8v1.8h-1.8zM651.3 208.1h1.8v1.8h-1.8zM667.4 183.6h1.8v1.8h-1.8zM657.1 197.2h1.8v1.8h-1.8zM694.1 162.5h1.8v1.8h-1.8zM676.2 191.0h1.8v1.8h-1.8zM693.8 200.0h1.8v1.8h-1.8zM705.6 150.7h1.8v1.8h-1.8zM690.8 156.8h1.8v1.8h-1.8zM698.5 146.7h1.8v1.8h-1.8zM652.4 182.0h1.8v1.8h-1.8zM637.9 240.0h1.8v1.8h-1.8zM657.7 208.4h1.8v1.8h-1.8zM665.5 217.2h1.8v1.8h-1.8zM695.1 145.5h1.8v1.8h-1.8zM668.7 209.1h1.8v1.8h-1.8zM653.2 192.2h1.8v1.8h-1.8zM672.0 197.3h1.8v1.8h-1.8zM695.4 170.3h1.8v1.8h-1.8zM678.1 169.8h1.8v1.8h-1.8zM620.3 228.7h1.8v1.8h-1.8zM614.2 250.7h1.8v1.8h-1.8zM605.5 216.5h1.8v1.8h-1.8zM651.7 212.5h1.8v1.8h-1.8zM668.1 179.5h1.8v1.8h-1.8z" fill="#000"/>
<text x="428.6" y="12.3">(b)</text>
<text x="660.8" y="402" text-anchor="middle">buoy speed (m s<tspan dy="-6" font-size="14.5">−1</tspan><tspan dy="6">)</tspan></text>
<text transform="translate(444.6 195.3) rotate(-90)" text-anchor="middle" font-size="15.8">AMSR–E derived ice speed (m s<tspan dy="-6" font-size="14.5">−1</tspan><tspan dy="6">)</tspan></text>
<text x="219.9" y="433">(c)</text>
<defs><clipPath id="mc"><rect x="284.2" y="441.2" width="330.8" height="294.1"/></clipPath></defs>
<g clip-path="url(#mc)">
<path d="M341.7 441.6 342.9 443.4 343.9 444.8 345.0 445.9 346.2 448.0 347.8 449.1 349.6 450.0 350.5 451.6 349.3 452.8 348.3 454.8 346.7 453.2 345.7 452.1 344.0 450.8 342.0 451.2 339.6 450.4 338.6 452.5 337.6 454.0 335.3 454.9 334.7 457.0 332.7 456.1 330.4 457.2 328.6 456.3 326.7 455.4 324.8 456.3 322.7 455.6 320.9 457.2 318.7 456.7 316.8 457.3 315.4 459.2 313.6 460.0 313.0 461.1 314.2 462.2 314.8 464.4 317.0 465.3 316.8 467.6 318.3 469.3 317.6 471.9 318.4 472.7 319.2 474.9 318.9 476.9 320.3 478.5 320.3 480.0 319.4 482.4 321.4 483.7 322.8 484.9 324.2 482.8 326.5 483.6 328.4 482.5 330.5 482.8 332.0 481.3 334.3 481.6 336.3 480.9 337.3 479.1 339.4 478.1 339.3 476.3 339.0 474.1 337.8 472.5 340.0 472.1 342.3 472.7 342.9 475.1 345.1 474.5 347.2 475.7 349.0 474.1 351.2 474.2 352.8 474.1 355.0 474.6 356.7 473.0 358.8 473.3 360.6 471.7 362.6 471.7 364.7 472.5 366.6 471.3 368.5 470.7 370.7 471.7 372.6 471.4 374.4 469.7 376.6 470.8 378.4 469.2 380.3 468.7 382.6 469.8 384.2 468.0 386.4 468.6 388.1 466.9 390.3 467.8 391.9 465.9 394.2 466.4 395.8 465.3 396.6 462.9 398.3 461.8 400.0 460.5 402.4 460.9 403.6 458.8 405.5 458.1 407.8 458.3 408.3 455.8 407.4 454.0 405.4 453.4 403.8 451.6 401.6 451.7 401.1 449.4 399.6 447.6 401.3 446.0 401.0 443.8 402.9 443.8 404.9 443.7 406.5 445.2 408.6 445.1 410.3 446.4 412.4 446.7 410.8 448.2 410.7 449.9 411.4 452.0 413.7 451.8 415.4 452.6 415.4 450.7 415.6 448.5 414.6 446.5 415.7 444.6 417.0 442.7 419.3 442.8 420.9 441.3 423.1 441.0 424.9 442.6 426.9 442.6 428.6 441.3 429.3 441.6M284.0 510.6 285.8 509.7 287.5 511.3 288.0 508.8 288.7 506.9 287.9 505.1 287.6 503.2 287.6 501.6 289.0 500.1 291.0 499.3 292.3 497.7 292.3 495.4 294.3 494.4 295.0 492.3 296.2 490.6 298.4 490.6 300.0 488.8 302.3 489.6 303.6 491.3 305.6 491.3 306.8 489.4 309.1 489.5 310.8 488.5 311.9 488.7 313.0 490.4 312.0 492.4 313.3 494.4 313.2 496.4 312.4 498.4 314.1 500.2 314.1 502.2 312.3 503.9 313.4 505.8 313.3 508.2 311.6 508.5 309.6 509.7 307.7 510.0 305.4 509.7 304.8 512.0 302.7 512.9 303.3 515.3 303.1 516.8 303.9 519.3 305.5 517.7 307.3 519.2 309.5 518.8 311.3 517.4 312.2 516.4 314.5 515.7 316.0 514.7 317.3 513.8 319.2 514.4 321.0 512.7 323.1 512.7 325.3 513.3 326.9 511.5 329.0 511.7 330.8 510.5 332.9 510.8 334.7 509.7 335.0 511.8 336.1 513.6 337.8 514.9 336.6 516.8 336.1 518.8 336.5 521.1 334.5 522.3 336.5 523.8 336.7 526.2 339.0 527.0 338.8 529.4 340.7 530.6 341.1 532.7 341.8 533.8 340.2 535.0 340.6 536.6 340.9 538.8 342.0 539.8 343.0 538.1 342.2 540.3 344.3 541.7 344.2 543.9 344.4 545.9 344.7 547.7 344.5 549.2 344.7 551.2 344.4 553.4 345.8 555.1 345.3 557.0 345.4 559.1 343.3 560.1 341.4 560.5 339.8 561.1 338.5 562.5 338.7 563.0 338.3 565.0 336.7 566.4 335.4 567.9 334.5 569.7 334.0 572.0 331.7 572.5 331.2 574.6 329.8 576.2 330.1 578.3 329.5 580.2 328.0 581.6 327.2 583.6 325.2 584.5 325.0 586.9 322.9 588.1 323.7 590.5 321.5 591.6 321.9 594.0 319.9 595.4 319.7 597.4 320.7 599.4 320.0 601.2 320.1 603.5 318.1 604.7 317.8 606.9 316.8 608.6 314.9 609.8 315.1 612.1 313.0 613.3 312.2 615.1 311.1 617.1 309.0 617.1 308.4 619.4 306.2 620.2 306.0 622.3 305.8 624.2 305.0 626.1 304.2 628.0 305.4 629.5 307.2 630.5 308.6 630.5 309.3 632.8 311.7 632.7 312.7 634.8 314.8 635.4 313.1 637.1 311.7 637.8 311.5 639.9 313.5 640.9 313.8 643.2 315.9 644.0 317.5 645.3 317.8 647.6 319.2 649.1 320.9 650.4 320.7 652.7 321.9 654.4 323.4 655.8 322.7 657.8 323.2 660.0 320.8 660.6 319.0 661.5 317.5 663.0 315.5 663.4 314.6 665.4 314.1 667.0 314.8 668.0 316.3 669.0 317.8 671.0 320.0 669.7 321.2 671.5 319.0 670.4 317.3 672.0 315.1 672.4 315.2 674.6 314.7 676.4 316.2 677.9 318.4 677.7 319.7 678.9 320.0 680.2 320.8 682.4 319.6 684.3 319.9 686.4 318.4 688.0 318.3 690.1 318.6 692.2 318.2 694.2 317.8 696.0 316.3 697.8 316.3 700.0 317.7 701.8 318.3 703.7 317.1 706.0 318.4 707.8 318.0 709.8 315.8 710.6 315.4 713.1 313.0 713.5 311.9 714.3 311.0 712.4 309.5 712.4 309.1 714.4 308.4 716.3 308.4 718.4 308.9 720.3 310.3 722.1 311.1 723.9 310.9 726.1 312.5 727.4 313.3 729.3 314.5 730.8 315.1 733.1 317.2 734.0 317.2 736.0M303.7 491.6 304.2 493.5 303.0 493.6M444.2 441.6 446.1 442.3 447.4 444.2 449.6 444.1 451.6 445.1 453.1 443.3 455.5 444.2 457.4 443.5 458.8 441.5 460.5 441.6M482.9 441.6 484.0 443.5 483.3 445.7 485.2 446.7 486.6 448.4 488.4 447.2 490.3 448.4 492.4 448.3 494.4 448.4 496.4 448.4 498.4 448.8 500.4 448.9 502.4 447.4 504.0 448.1M504.0 448.2 506.0 448.8 508.0 447.6 510.0 447.6 512.0 447.3 513.7 446.9 514.9 445.2 517.3 444.8 518.4 442.9 518.3 441.6M529.8 459.3 531.1 460.8 531.0 463.1 531.6 463.1M531.2 475.6 530.9 477.6 531.5 479.4M552.3 441.6 551.5 443.5 552.0 445.6 550.4 447.4 551.5 449.6 551.7 451.4 551.4 453.7 552.5 455.4 554.4 456.6 556.6 456.5 558.4 457.4 559.8 459.1 561.7 459.8 563.8 460.3 564.8 462.2 567.2 462.0 568.6 461.1 568.2 458.7 570.1 457.4 571.2 456.3 572.2 454.0 574.3 455.3 576.7 454.5 578.4 455.5 579.8 457.2 581.9 457.7 582.4 459.9 584.5 461.0 585.2 462.6 586.2 464.1 587.9 465.2 588.7 467.6 591.0 467.5 592.5 469.0 594.7 469.1 595.9 471.1 598.1 471.3 599.3 473.2 601.5 473.1 603.0 474.9 604.9 473.7 607.0 473.8 608.8 472.9 611.0 473.4 613.0 472.2 615.0 472.5 614.8 473.3M614.8 475.6 613.2 476.9 610.9 476.9 609.2 477.8 607.9 479.7 606.0 480.5 603.8 480.3 602.3 482.0 600.0 481.5 598.3 482.9 596.5 483.4 594.1 483.1 593.1 485.2 591.3 486.3 590.6 488.0 589.1 489.5 589.4 491.7 588.2 493.4 589.4 495.3 588.5 497.5 589.9 499.2 590.9 500.9 591.2 503.0 593.4 503.4 594.6 505.4 596.5 505.9 598.7 505.5 600.3 507.1 602.3 507.6 602.3 510.0 600.1 511.5 599.7 513.4 600.5 515.3 599.7 517.7 601.3 519.3 603.4 519.5 605.4 520.3 606.8 518.7 609.0 518.6 610.1 516.7 611.3 515.1 613.5 514.4 614.8 513.4M601.9 540.0 603.3 538.4 604.2 537.0 606.0 538.5 606.8 539.5 607.3 540.0M605.9 538.0 607.3 539.6 606.9 541.8 608.7 543.4 608.0 545.7 607.5 547.1 607.2 549.3 605.2 549.9 605.6 550.6 606.6 552.1 608.8 553.2 607.5 554.5 606.0 555.9 605.0 557.9 602.8 557.8 601.1 559.5 598.9 558.7 597.3 560.4 595.1 559.9 593.3 561.1 593.1 560.2 592.3 557.9 594.1 556.3 595.3 555.2 596.8 553.8 597.2 551.5 598.5 549.9 599.3 548.1 597.5 546.7 596.9 544.8 597.4 542.5 596.5 540.7 598.2 539.2 597.8 538.7M612.5 577.4 614.4 577.1M284.0 686.2 286.0 686.9 286.7 689.0 288.4 690.3 289.4 692.1 289.5 694.4 291.0 695.8 291.3 697.6 291.9 699.6 289.9 699.2 287.5 699.0 286.6 700.8 287.8 702.6 289.0 704.0 289.8 706.0 290.2 707.9 289.2 708.5 287.4 709.7 285.4 709.9 284.0 709.3M318.8 718.0 319.7 716.2 321.1 714.7 323.3 713.7 323.3 711.5 323.8 709.6 323.0 707.6 321.6 705.9 322.2 704.0 323.4 702.2 325.3 701.1 326.9 700.1 327.9 699.3 330.0 699.8 330.4 702.1 332.4 703.1 332.9 705.1 334.6 706.6 334.5 708.8 336.4 710.0 336.4 712.3 338.6 713.4 339.3 713.2 338.2 711.3 337.5 709.4 338.1 707.2 337.9 705.2 336.0 703.7 335.9 701.7 335.3 699.7 333.8 698.0 334.3 695.9 334.8 693.8 336.9 692.8 338.3 691.8 340.4 691.2 340.8 693.6 341.8 695.1 343.6 696.3 344.0 698.4 344.6 700.3 346.3 700.1 345.0 698.4 344.0 696.6 343.6 694.7 343.9 692.4 342.9 690.6 344.3 689.0 345.0 687.1 346.9 685.9 349.1 686.7 351.0 686.8 353.0 686.4 355.0 686.2 356.8 687.7 359.2 687.6 359.9 689.8 362.1 690.3 362.8 692.6 364.1 693.9 364.2 695.3 363.6 697.0 361.7 697.7 359.3 697.9 360.2 699.7 360.0 702.1 362.5 702.5 363.7 704.4 362.3 706.3 362.4 708.6 361.3 710.5 363.7 710.3 364.7 711.7 365.4 713.8 363.0 714.1 362.2 716.3 360.1 716.9 359.6 719.1 357.3 720.5 359.0 722.2 359.7 723.8 362.0 723.0 362.9 720.8 364.5 719.6 366.6 719.1 368.1 717.8 369.1 715.7 371.1 715.0 373.3 714.4 375.2 715.1 376.7 717.0 378.9 716.3 380.7 717.6 381.5 719.8 380.4 721.7 378.3 722.1 376.3 721.9 374.4 722.7 372.8 724.1 370.6 724.1 368.7 724.7 368.1 727.2 365.8 727.8 365.0 729.8 363.1 730.8 362.3 732.8 360.9 734.2 358.8 735.0 358.5 736.0M318.8 718.0 318.7 720.0 320.2 721.7 319.6 724.0 321.5 725.3 322.5 727.0 323.1 729.0 324.2 730.7 326.3 731.5 327.8 732.8 328.6 734.8 330.1 736.0M390.0 663.2 387.9 663.2 387.5 665.3 386.1 667.3 387.3 669.2 389.7 669.4 390.0 670.7M382.7 679.3 384.7 679.7 386.7 678.9 388.7 679.8 390.0 679.3M382.7 679.9 382.5 681.8 381.3 683.7 382.6 685.5 382.2 687.7 382.2 689.7 382.9 691.5 380.9 691.8 379.1 692.9 377.1 693.5 378.8 695.0 379.1 697.5 380.6 698.8 382.4 699.8 384.7 700.0 386.3 701.3 387.0 703.5 389.0 704.4 389.4 706.6 390.0 706.2M375.2 736.0 375.6 734.0 376.6 732.3 378.3 733.1 380.5 733.2 382.2 733.9 383.1 731.9 384.9 731.1 386.7 729.7 388.9 730.1 390.0 730.9M384.0 679.9 386.0 680.2 388.0 679.6 390.0 680.5 392.0 680.4 393.8 680.7 395.0 681.7 396.6 683.1 395.4 684.9 394.9 686.7 394.7 689.0 392.3 689.5 392.0 691.9 391.0 693.4 391.8 695.4 394.1 695.9 395.6 696.5 397.4 696.6 398.8 695.0 401.0 694.8 402.5 693.1 404.3 694.2 406.3 694.3 405.1 695.6 404.2 697.6 402.0 698.0 401.5 700.0 400.6 701.8 398.9 703.2 398.2 705.1 397.5 707.0 395.5 707.3 393.5 709.1 391.9 707.2 389.7 707.1 389.6 704.6 387.7 703.5 386.2 702.2 385.4 700.0 384.0 699.7M474.0 693.3 471.9 693.1 470.6 694.9 468.3 695.5 468.1 697.6 466.2 698.9 466.7 701.3 465.0 702.9 465.8 705.1 465.6 706.8 465.3 709.1 466.8 710.7 468.7 711.6 469.2 713.9 471.7 714.0 473.2 715.6 474.0 715.3M421.6 721.2 423.0 719.7 425.3 719.1 425.9 721.0 427.8 722.5 426.7 724.5 427.7 726.7 426.9 728.7 427.4 730.6 429.6 732.0 429.2 734.3 428.6 736.0M421.1 736.0 421.7 734.0 420.6 732.0 421.6 730.0 421.2 728.0 420.0 726.0 421.5 724.2 420.9 722.1 421.6 721.2M433.4 736.0 434.0 734.0 436.0 733.2 437.1 731.3 439.6 731.3 441.0 729.9 442.3 728.0 444.7 728.7 446.5 727.7 447.1 729.6 448.6 731.2 448.8 733.5 447.1 735.1 447.4 736.0M385.1 736.0 385.6 734.1 387.5 732.8 388.1 730.9 390.1 731.3 391.3 732.5 392.5 733.5 393.5 735.2 394.2 736.0M409.8 736.0 410.2 734.1 411.8 732.6 412.9 731.8 414.7 730.5 416.8 731.5 418.1 733.4 418.7 735.3 418.4 736.0M464.0 699.7 465.0 697.9 466.9 696.9 467.4 694.8 469.4 694.4 471.4 693.5 473.4 693.8 475.1 693.4 477.3 694.2 479.1 693.0 480.9 694.4 482.9 694.7 485.0 694.0 486.9 694.6 489.0 694.0 490.9 695.1 493.0 694.3 494.4 696.4 496.9 696.0 498.1 698.1 499.7 699.1 502.2 699.0 502.8 701.4 505.0 702.1 505.7 704.1 508.0 704.8 508.3 707.1 510.5 708.0 510.1 709.9 510.3 712.2 507.9 712.7 506.5 714.5 504.3 714.2 503.0 716.0 500.9 716.5 499.3 717.7 498.4 719.7 496.4 720.5 495.6 722.5 493.8 723.7 491.7 724.1 490.5 726.0 488.4 726.3 486.6 727.1 485.3 728.9 483.1 729.0 481.8 730.8 479.5 729.8 477.5 729.5 475.5 730.6 474.5 728.6 473.9 730.4 473.4 732.3 475.3 733.7 474.9 735.7 474.2 736.0M464.0 703.0 465.5 704.5 467.3 702.8 469.2 703.8 470.5 704.9 471.5 706.9 469.9 708.1 467.5 707.8 466.6 709.8 465.6 711.5 466.6 712.7 467.0 714.9 469.4 714.7 471.2 715.4 472.9 717.4 474.2 715.4 475.4 714.1 477.3 713.1 479.5 712.7 477.6 709.9 476.4 712.0 474.6 710.2 472.3 709.9 471.5 710.0 469.2 709.6 468.8 710.5M493.0 736.0 492.2 734.1 493.3 732.0 492.5 730.0 494.1 728.7 495.7 727.5 496.7 725.4 499.1 725.4 500.0 723.1 502.3 723.1 503.3 721.0 505.2 720.2 506.1 718.2 507.3 716.6 509.5 716.1 510.8 714.3 513.1 714.5 514.8 713.2 517.0 714.0 518.9 713.2 520.4 715.0 520.2 716.7 520.8 718.3 522.1 716.7 523.5 715.3 524.4 713.9 525.1 712.8 527.4 712.8 527.2 715.2 528.5 716.8 529.7 718.5 531.8 717.8 532.2 716.2 530.6 714.8 529.3 713.3 530.5 711.2 529.7 709.0 530.9 707.6 532.8 706.9 534.3 705.3 536.6 706.0 537.9 704.3 539.9 703.6 541.2 701.9 543.2 701.6 544.9 700.1 546.8 700.7 548.9 701.4 550.8 700.3 552.8 700.0 554.0 700.6M554.0 700.5 555.8 701.5 556.1 703.9 557.6 705.3 559.8 704.9 562.0 705.4 562.6 707.3 563.7 709.3 562.1 710.6 560.5 711.5 559.7 713.9 557.2 713.2 555.4 714.0 553.4 714.8 551.7 716.1 552.0 718.4 554.4 717.8 555.9 716.1 558.2 716.6 560.0 715.6 561.8 716.7 562.0 714.6 564.1 713.6 565.6 713.7 566.8 715.6 567.6 717.7 567.4 720.0 568.4 718.7 569.0 716.6 571.3 716.2 573.1 715.0 573.4 713.0 574.5 711.2 575.3 710.2 576.9 708.4 578.9 709.2 581.0 708.8 582.5 710.5 581.2 712.6 582.1 714.8 580.7 716.6 581.3 718.7 579.6 720.1 578.9 722.3 580.0 722.4 581.8 723.3 581.1 726.0 581.1 727.8 582.0 729.9 580.4 731.6 580.5 733.7 580.0 735.6 580.4 736.0M536.0 705.4 537.5 703.9 539.6 703.6 540.5 701.3 542.6 700.8 544.7 700.5 546.9 701.7 547.6 699.3 549.8 700.8 552.1 699.9 554.0 701.1 554.0 700.5M303.7 521.5 302.6 523.2 304.3 524.9 305.1 524.7 306.3 523.5 304.8 522.4 303.7 521.5ZM384.5 491.6 384.7 489.6 386.4 488.3 387.6 486.7 389.1 485.5 389.5 483.1 391.9 483.7 393.0 484.5 394.8 485.9 393.3 487.9 394.6 489.9 392.9 491.5 392.7 493.8 390.2 493.7 388.1 493.9 386.4 494.5 383.8 495.3 384.6 493.3 384.5 491.6ZM495.2 442.0 497.1 442.8 498.9 443.3 500.0 443.7 502.2 443.8 502.7 443.5 503.2 445.7 501.1 446.4 499.4 448.0 498.0 446.2 495.7 446.1 495.9 443.6 495.2 442.0ZM489.1 474.6 490.8 473.4 492.9 474.1 495.0 473.4 496.5 475.2 498.0 476.1 500.3 476.7 500.5 479.1 502.2 480.4 500.9 481.0 499.0 480.3 497.0 480.2 495.1 479.9 493.1 478.7 491.1 478.9 489.2 478.9 489.4 476.9 489.4 474.9 489.1 474.6ZM506.7 454.7 508.6 453.6 510.5 455.3 512.6 454.5 514.7 455.5 516.7 454.1 517.0 456.7 514.6 456.8 513.2 458.8 512.6 460.7 510.3 460.6 509.2 458.7 507.6 457.4 507.2 455.6 506.7 454.7ZM515.6 460.7 517.9 460.6 516.9 462.6 517.3 464.7 516.2 464.0 516.2 462.0 515.6 460.7ZM506.0 475.3 506.8 473.4 508.5 472.1 510.7 472.1 512.2 471.9 514.4 472.3 516.3 471.7 518.0 470.4 519.7 469.5 521.8 469.6 523.8 468.4 525.3 470.3 526.1 471.8 528.1 473.0 528.3 475.2 527.1 477.2 528.1 479.3 526.6 480.9 526.5 483.1 525.1 484.6 523.1 484.2 521.7 482.8 519.9 483.8 517.6 482.7 516.8 481.7 514.3 482.6 512.6 481.2 510.6 481.1 508.8 479.7 506.7 479.7 506.1 477.8 505.4 475.9 506.0 475.3ZM511.5 475.1 513.5 475.9 512.9 477.3 513.5 480.0 511.4 479.0 510.9 477.0 511.5 475.1ZM594.3 463.9 595.6 464.5 595.7 465.6 593.7 464.2 594.3 463.9ZM596.7 464.9 598.0 465.5 598.1 466.4 597.1 465.3 596.7 464.9ZM599.1 465.8 601.4 465.6 600.2 466.6 599.9 466.3 599.1 465.8ZM601.6 466.6 603.9 466.4 602.5 467.2 602.1 467.1 601.6 466.6ZM604.0 467.5 606.4 467.1 605.0 468.2 603.3 467.7 604.0 467.5ZM606.5 468.3 608.9 467.9 608.1 470.3 606.2 468.6 606.5 468.3ZM596.4 476.7 598.0 474.9 599.9 475.4 600.1 477.9 599.6 479.6 597.6 478.8 595.7 478.6 596.4 476.7ZM593.0 528.4 594.8 527.3 596.6 526.3 598.5 525.8 600.7 526.6 602.2 528.3 604.5 527.5 606.1 529.5 607.1 529.9 605.3 530.7 603.6 531.8 602.2 533.5 600.0 533.5 598.1 534.3 596.5 535.6 594.8 534.5 592.7 533.7 593.3 531.5 593.3 529.9 593.0 528.4ZM599.1 565.2 600.8 566.1 599.5 566.1 599.1 565.2ZM600.8 546.2 602.4 547.1 601.3 547.0 600.8 546.2ZM341.9 664.3 343.9 664.8 345.9 663.9 347.7 665.3 349.7 664.2 351.6 665.2 353.6 665.4 355.7 664.6 357.7 665.7 359.8 664.7 361.9 666.0 363.3 664.2 365.5 664.4 367.0 662.6 369.3 663.0 369.5 664.6 371.4 666.1 371.7 668.1 372.4 670.0 372.9 672.3 372.1 674.1 370.1 675.1 368.8 676.7 369.2 678.9 369.7 679.5 370.4 681.5 371.2 683.3 370.8 684.6 370.9 687.0 368.8 687.9 368.2 690.1 366.3 691.5 364.3 690.7 362.2 690.6 361.0 688.6 359.6 687.2 357.9 686.1 355.7 685.7 354.6 683.9 352.2 684.0 350.7 682.6 349.4 680.7 347.0 681.1 345.3 680.0 343.4 679.7 341.6 681.0 339.2 680.7 337.9 679.2 336.7 677.5 336.6 675.2 334.6 673.8 335.5 671.7 337.9 672.0 339.1 669.9 341.2 669.4 340.9 667.1 342.3 665.4 341.9 664.3ZM384.8 675.0 386.6 673.9 388.6 675.5 389.6 676.0 387.8 675.4 385.5 675.7 384.8 675.0ZM387.2 664.3 389.1 663.6 391.5 663.3 392.6 665.4 394.0 666.8 396.4 666.8 397.9 668.4 400.0 668.5 401.4 670.2 403.7 670.5 405.2 671.9 404.9 674.3 404.3 675.5 402.9 676.4 400.8 677.4 399.2 676.6 397.7 675.0 395.6 675.1 394.1 674.7 394.4 676.9 392.2 676.9 391.3 675.1 389.5 673.9 389.4 671.5 387.5 670.3 387.3 668.1 387.1 666.2 386.6 664.4 387.2 664.3ZM394.7 672.7 396.3 672.8 397.5 673.2 395.4 675.0 395.2 672.7 394.7 672.7ZM384.0 674.8 385.9 675.8 388.0 675.1 388.1 676.7 386.3 676.0 383.9 677.2 384.0 674.8ZM410.8 677.2 412.3 678.8 414.2 679.4 415.2 681.2 416.3 682.6 416.3 683.8 416.4 686.3 414.1 686.7 412.2 687.4 410.8 686.6 409.5 685.7 409.0 684.2 408.1 682.2 408.9 680.4 410.8 679.1 410.8 677.2ZM416.8 678.8 418.6 679.8 420.8 679.4 421.6 681.5 423.9 682.9 423.4 684.8 420.9 686.4 419.2 684.8 417.8 683.8 417.1 681.8 416.3 680.0 416.8 678.8ZM414.4 701.7 415.2 699.8 417.1 698.7 418.3 697.2 419.1 695.2 418.1 697.0 417.0 698.3 416.4 700.5 414.4 701.1 414.4 701.7ZM430.2 691.1 431.9 690.1 434.1 689.7 434.7 691.7 435.5 693.2 436.3 695.3 436.4 697.4 434.3 698.9 434.7 701.3 432.9 702.5 431.6 703.9 430.8 705.9 429.5 707.6 427.4 708.1 425.9 706.4 426.8 704.6 426.5 702.6 427.1 700.5 425.7 698.7 425.7 696.6 425.4 694.6 428.0 694.2 428.8 692.0 430.2 691.1ZM434.5 705.6 436.1 704.4 437.9 705.6 439.9 706.3 440.5 708.2 438.9 710.0 438.1 711.6 437.2 713.6 435.6 714.8 433.2 715.0 433.0 717.5 432.2 719.3 432.6 721.3 430.3 721.5 430.4 719.7 429.7 717.5 431.1 715.9 430.9 713.8 432.0 711.9 431.6 709.7 433.5 708.2 433.3 705.9 434.5 705.6ZM448.4 699.7 450.0 698.4 452.2 698.5 453.7 696.9 455.6 696.2 457.7 696.0 459.2 694.3 461.4 694.5 463.4 694.1 464.1 696.4 463.8 698.4 462.3 700.2 463.1 702.3 461.6 704.1 462.5 706.3 461.0 708.1 462.3 710.0 461.2 712.0 462.0 714.2 460.4 715.9 460.2 717.5 459.6 719.6 457.5 720.1 455.9 721.5 454.0 722.2 452.4 722.8 450.1 722.9 448.8 724.7 446.3 724.1 445.8 721.9 444.2 720.6 442.5 719.5 440.6 718.8 441.0 716.5 441.5 715.2 441.9 712.9 443.8 712.2 444.3 710.1 446.1 708.6 444.9 706.4 446.7 704.7 446.2 702.5 447.7 701.0 448.4 699.7ZM394.7 713.7 396.0 712.0 398.3 712.6 397.7 714.7 395.7 713.4 394.7 713.7ZM409.2 706.2 409.3 708.3 410.5 710.0 410.3 711.4 411.9 712.9 414.1 711.8 415.5 713.2 415.3 715.8 417.5 717.0 417.2 719.2 415.4 720.3 414.4 722.3 412.0 722.4 410.6 723.7 409.1 725.2 407.0 725.5 405.4 727.1 403.2 726.6 402.2 725.5 400.5 724.1 402.5 722.5 402.8 720.1 403.7 719.2 404.4 717.1 403.6 715.1 402.6 713.3 404.5 712.2 405.9 710.7 406.7 708.7 407.9 707.2 409.2 706.2ZM405.5 713.7 407.3 712.7 409.0 713.9 411.1 714.6 409.8 716.7 409.1 717.3 406.8 717.5 406.8 715.3 406.1 713.5 405.5 713.7Z" fill="none" stroke="#000" stroke-width="1.1" stroke-linejoin="round"/>
<path d="M538.1 705.4a1 1 0 1 0 2 0a1 1 0 1 0 -2 0M539.6 708.0a1 1 0 1 0 2 0a1 1 0 1 0 -2 0M535.5 711.6a1 1 0 1 0 2 0a1 1 0 1 0 -2 0M549.5 719.9a1 1 0 1 0 2 0a1 1 0 1 0 -2 0M549.5 721.9a1 1 0 1 0 2 0a1 1 0 1 0 -2 0M559.3 721.9a1 1 0 1 0 2 0a1 1 0 1 0 -2 0M567.0 720.9a1 1 0 1 0 2 0a1 1 0 1 0 -2 0M567.0 725.5a1 1 0 1 0 2 0a1 1 0 1 0 -2 0M576.8 722.5a1 1 0 1 0 2 0a1 1 0 1 0 -2 0M576.8 730.2a1 1 0 1 0 2 0a1 1 0 1 0 -2 0M578.4 731.2a1 1 0 1 0 2 0a1 1 0 1 0 -2 0M469.4 704.6a1 1 0 1 0 2 0a1 1 0 1 0 -2 0M472.7 710.5a1 1 0 1 0 2 0a1 1 0 1 0 -2 0M477.0 712.1a1 1 0 1 0 2 0a1 1 0 1 0 -2 0M466.2 719.1a1 1 0 1 0 2 0a1 1 0 1 0 -2 0M479.6 699.7a1 1 0 1 0 2 0a1 1 0 1 0 -2 0M499.5 717.5a1 1 0 1 0 2 0a1 1 0 1 0 -2 0M510.3 718.0a1 1 0 1 0 2 0a1 1 0 1 0 -2 0M517.8 720.7a1 1 0 1 0 2 0a1 1 0 1 0 -2 0M531.7 713.2a1 1 0 1 0 2 0a1 1 0 1 0 -2 0M535.0 712.1a1 1 0 1 0 2 0a1 1 0 1 0 -2 0M538.2 706.2a1 1 0 1 0 2 0a1 1 0 1 0 -2 0M539.8 708.3a1 1 0 1 0 2 0a1 1 0 1 0 -2 0M498.4 730.9a1 1 0 1 0 2 0a1 1 0 1 0 -2 0M497.9 733.0a1 1 0 1 0 2 0a1 1 0 1 0 -2 0M550.0 720.1a1 1 0 1 0 2 0a1 1 0 1 0 -2 0M552.1 716.9a1 1 0 1 0 2 0a1 1 0 1 0 -2 0M399.1 682.6a1 1 0 1 0 2 0a1 1 0 1 0 -2 0M383.0 691.1a1 1 0 1 0 2 0a1 1 0 1 0 -2 0M423.3 703.5a1 1 0 1 0 2 0a1 1 0 1 0 -2 0M444.8 696.0a1 1 0 1 0 2 0a1 1 0 1 0 -2 0M450.1 701.9a1 1 0 1 0 2 0a1 1 0 1 0 -2 0M450.1 719.1a1 1 0 1 0 2 0a1 1 0 1 0 -2 0M460.3 712.6a1 1 0 1 0 2 0a1 1 0 1 0 -2 0M466.2 718.5a1 1 0 1 0 2 0a1 1 0 1 0 -2 0M468.9 704.0a1 1 0 1 0 2 0a1 1 0 1 0 -2 0M386.2 734.1a1 1 0 1 0 2 0a1 1 0 1 0 -2 0M424.3 727.7a1 1 0 1 0 2 0a1 1 0 1 0 -2 0M317.8 670.7a1 1 0 1 0 2 0a1 1 0 1 0 -2 0M344.6 700.3a1 1 0 1 0 2 0a1 1 0 1 0 -2 0M374.2 718.0a1 1 0 1 0 2 0a1 1 0 1 0 -2 0M386.0 676.1a1 1 0 1 0 2 0a1 1 0 1 0 -2 0M302.7 492.7a1 1 0 1 0 2 0a1 1 0 1 0 -2 0M310.2 519.4a1 1 0 1 0 2 0a1 1 0 1 0 -2 0M346.8 453.6a1 1 0 1 0 2 0a1 1 0 1 0 -2 0M312.2 463.1a1 1 0 1 0 2 0a1 1 0 1 0 -2 0M338.7 560.4a1 1 0 1 0 2 0a1 1 0 1 0 -2 0M335.3 570.6a1 1 0 1 0 2 0a1 1 0 1 0 -2 0M323.1 588.9a1 1 0 1 0 2 0a1 1 0 1 0 -2 0M300.7 631.7a1 1 0 1 0 2 0a1 1 0 1 0 -2 0M303.4 633.7a1 1 0 1 0 2 0a1 1 0 1 0 -2 0M310.8 645.5a1 1 0 1 0 2 0a1 1 0 1 0 -2 0M315.6 652.0a1 1 0 1 0 2 0a1 1 0 1 0 -2 0" fill="none" stroke="#000" stroke-width="0.9"/>
<path d="M345.2 482.8 347.1 483.0 348.8 482.1 350.7 482.7 350.8 480.6 352.3 479.4 353.9 480.8 356.0 480.5 357.0 482.2 358.9 482.9 360.0 484.3 360.8 486.0 362.0 487.5 364.0 488.1 365.8 486.9 367.7 488.0 369.5 486.7 370.0 487.5" fill="none" stroke="#ff8c8c" stroke-width="1.22" stroke-linejoin="round" stroke-linecap="round"/>
<path d="M346.1 483.9 347.8 483.1 349.7 484.1 351.5 483.4 353.3 484.5 355.1 483.3 356.9 484.5 358.8 484.3 359.3 486.2 361.3 487.0 361.8 488.9 363.6 489.6 364.6 490.5" fill="none" stroke="#ff8c8c" stroke-width="1.22" stroke-linejoin="round" stroke-linecap="round"/>
<path d="M347.9 485.1 349.7 485.9 350.4 487.8 352.5 487.9 354.1 489.1 354.5 491.2 356.3 491.9 356.8 493.9 358.1 495.2 360.5 494.9 361.8 496.6 363.8 495.8 365.3 497.3 366.8 498.2 369.0 497.9 370.0 499.8 371.9 500.1 372.4 499.8" fill="none" stroke="#ff8c8c" stroke-width="1.22" stroke-linejoin="round" stroke-linecap="round"/>
<path d="M346.7 482.8 348.1 481.5 350.2 481.9 351.8 480.7 353.4 481.8 355.5 481.4 357.2 482.3 357.6 484.5 359.7 485.0 361.0 486.3 361.4 488.3 362.5 488.7" fill="none" stroke="#ff8c8c" stroke-width="1.22" stroke-linejoin="round" stroke-linecap="round"/>
<path d="M336.3 487.2 337.9 486.3 339.9 486.0 341.5 487.6 343.5 486.6 344.4 488.6 345.1 489.7 343.1 490.0 341.4 488.9 339.6 489.0 337.5 489.5 337.1 487.8 337.4 487.7 337.6 489.7 338.6 491.2 340.4 492.1 341.3 493.8 343.3 494.5 343.1 496.8 344.9 497.8 345.7 499.4 347.2 500.7 349.1 500.4 350.0 499.1 348.4 497.7 347.4 496.2 347.3 494.2 346.9 492.6 346.6 492.3 344.4 492.7 344.4 494.9 342.7 496.1 343.9 496.3 345.8 496.4 347.4 497.5 349.4 496.9 350.6 498.8 352.8 498.3 354.1 500.2 356.1 499.4 357.8 499.7 359.2 500.9 360.0 502.0 360.9 502.4 362.1 500.8 364.2 500.8 364.6 499.5" fill="none" stroke="#ff1010" stroke-width="1.42" stroke-linejoin="round" stroke-linecap="round"/>
<path d="M336.6 487.8 338.4 488.2 340.2 487.0 342.0 487.4 343.9 487.4 344.6 488.4" fill="none" stroke="#ff1010" stroke-width="1.89" stroke-linejoin="round" stroke-linecap="round"/>
<path d="M370.9 527.6 371.5 529.4 372.8 530.9 372.3 532.2 371.8 534.4 372.3 535.6 372.9 537.6 372.3 539.3 372.9 539.9" fill="none" stroke="#12a8ff" stroke-width="2.43" stroke-linejoin="round" stroke-linecap="round"/>
<path d="M380.4 521.5 379.5 523.1 377.6 524.1 377.5 525.9 377.7 527.9 379.5 529.0 379.1 531.1 378.7 532.9 376.9 534.1 376.3 535.8 375.7 537.8 373.6 537.9 372.1 538.7 370.9 539.9" fill="none" stroke="#0000ff" stroke-width="2.16" stroke-linejoin="round" stroke-linecap="round"/>
<path d="M365.5 541.4 367.1 542.4 366.4 544.5 364.8 545.6 364.0 547.2 364.0 549.2 363.2 550.8 361.2 551.9 361.5 554.0 360.7 555.6 359.2 556.9 358.7 558.7 358.9 560.7 357.0 561.9 357.4 564.0 355.7 565.2 355.7 567.2 353.9 568.2 353.9 570.3 353.3 570.6" fill="none" stroke="#12a8ff" stroke-width="2.43" stroke-linejoin="round" stroke-linecap="round"/>
<path d="M373.6 539.4 373.3 541.2 371.7 542.5 371.8 544.5 371.2 546.2 372.2 548.2 370.5 549.7 371.3 551.8 369.8 553.2 370.1 555.1 368.4 556.3 368.4 558.5 367.3 559.9 365.8 561.1 365.2 562.8 365.5 563.1" fill="none" stroke="#12a8ff" stroke-width="2.43" stroke-linejoin="round" stroke-linecap="round"/>
<path d="M377.7 538.0 376.6 539.5 374.5 539.7 373.8 541.8 371.7 542.0 370.5 543.5 368.9 544.5 368.9 546.7 366.9 547.5 366.0 549.1 365.0 550.6 363.9 552.0 363.1 553.8 363.0 555.7 362.2 557.3 360.7 558.6 360.8 560.6 359.3 561.9 359.2 563.9 358.5 565.5 357.8 567.2 355.8 568.2 356.2 570.4 354.4 571.5 354.3 573.5 353.6 575.1 352.6 576.7 352.2 578.5 351.1 579.9 350.6 581.7 348.7 582.8 348.7 584.9 346.7 585.8 347.1 587.9 345.5 589.2 345.7 591.2 346.1 592.6 344.8 594.1 345.1 596.2 344.5 597.9 344.6 599.3 346.7 599.7 346.5 600.5" fill="none" stroke="#0000ff" stroke-width="2.16" stroke-linejoin="round" stroke-linecap="round"/>
<path d="M373.6 542.1 374.6 543.7 373.6 545.7 373.4 547.3 373.2 549.1 374.3 550.8 373.9 552.8 373.8 554.5 371.7 555.2 371.0 557.0 369.8 557.8 367.7 558.5 367.5 560.6 365.7 561.5 365.8 563.5 365.0 565.2 363.6 566.6 363.8 568.6 362.2 569.9 362.2 571.9 363.0 573.8 361.4 575.4 362.2 577.3 361.7 579.1 361.4 580.8 360.4 582.5 361.2 584.4 359.4 586.0 359.5 587.8 357.9 588.9 359.8 589.2 361.1 590.9 361.8 588.9 360.7 590.4 360.3 592.3 358.6 593.3 358.5 595.3 356.6 596.3 356.9 598.5 355.4 599.8 355.1 601.6 353.7 603.0 352.8 604.5 351.9 606.1 352.0 608.1 351.7 609.2 352.6 610.0" fill="none" stroke="#0000ff" stroke-width="2.16" stroke-linejoin="round" stroke-linecap="round"/>
<path d="M357.3 586.9 358.9 588.0 360.7 588.2 361.3 588.4 361.6 590.5 359.9 590.0 358.0 590.3" fill="none" stroke="#0000ff" stroke-width="4.05" stroke-linejoin="round" stroke-linecap="round"/>
<path d="M352.6 569.9 354.5 569.8 355.9 568.1 357.7 568.6 357.6 570.5 356.0 571.3" fill="none" stroke="#12a8ff" stroke-width="2.97" stroke-linejoin="round" stroke-linecap="round"/>
<path d="M367.5 593.7 367.6 595.5 366.2 597.1 366.2 598.9 365.8 600.7 366.4 602.6 365.5 604.3 365.8 606.1 365.3 607.9 366.3 609.6 365.8 612.1 368.1 611.9 368.6 614.1 369.4 615.4 370.3 617.0 371.3 618.5 372.9 619.5 374.2 620.8 375.4 622.0 376.5 623.7 378.5 624.0 378.4 625.3 378.4 627.5 379.0 628.2 380.3 629.0 382.1 628.8 383.6 627.4 385.2 626.8 387.2 626.8 388.6 625.2 387.9 623.8 387.1 622.8 385.3 623.1 383.7 623.8 381.5 623.0 380.3 624.6 379.1 624.9" fill="none" stroke="#0000ff" stroke-width="2.16" stroke-linejoin="round" stroke-linecap="round"/>
<path d="M378.4 586.9 379.5 588.5 378.5 590.5 380.2 592.0 380.2 593.9 379.7 595.8 380.0 597.6 379.5 599.1 380.6 600.9 379.5 602.9 380.7 604.4 381.9 605.8 382.6 607.5 382.5 609.5 383.3 611.2 384.7 612.5 385.3 614.3 387.3 614.8 388.1 616.6 389.7 617.1 391.6 618.4 392.1 616.4 393.7 615.4 394.0 614.0" fill="none" stroke="#0000ff" stroke-width="2.16" stroke-linejoin="round" stroke-linecap="round"/>
<path d="M389.9 618.1 390.8 616.4 393.0 616.3 394.0 614.7" fill="none" stroke="#12a8ff" stroke-width="2.97" stroke-linejoin="round" stroke-linecap="round"/>
<path d="M352.6 618.1 353.4 619.8 352.9 621.7 353.8 623.4 353.5 625.3 353.5 627.1 354.9 628.7 354.1 630.9 355.1 632.4 356.5 633.6 356.5 635.6 358.2 636.9 358.0 637.9" fill="none" stroke="#0000ff" stroke-width="2.16" stroke-linejoin="round" stroke-linecap="round"/>
<path d="M354.6 636.0 356.4 636.4 356.7 638.1 357.1 639.8 359.1 640.7 360.0 642.3 361.2 643.7 363.2 644.0 363.9 645.8 365.7 646.5 365.6 648.8 367.3 650.3 369.1 648.9 371.0 649.9 372.6 648.7 374.2 649.6 375.8 650.4 377.5 651.2 378.6 652.5 377.9 654.5 375.9 654.1 375.0 655.0" fill="none" stroke="#0000ff" stroke-width="2.16" stroke-linejoin="round" stroke-linecap="round"/>
<path d="M358.0 641.4 359.8 642.1 360.6 643.9 361.9 645.1 363.6 646.0 364.0 648.0 365.8 648.8 367.3 649.9 367.9 651.8 369.8 650.7 371.8 651.4 373.6 650.4 375.2 651.3 376.0 652.7 376.1 654.5 376.3 655.0" fill="none" stroke="#12a8ff" stroke-width="1.89" stroke-linejoin="round" stroke-linecap="round"/>
<path d="M387.9 638.7 389.7 639.2 390.5 641.1 392.4 641.9 393.6 643.3 393.5 645.4 394.0 646.2" fill="none" stroke="#0000ff" stroke-width="2.43" stroke-linejoin="round" stroke-linecap="round"/>
<path d="M387.2 589.6 389.0 589.7 390.9 590.8 392.3 589.2 394.0 590.3" fill="none" stroke="#ff1010" stroke-width="1.76" stroke-linejoin="round" stroke-linecap="round"/>
<path d="M385.8 592.3 387.8 592.4 387.8 594.0 388.1 596.0 386.8 597.5 388.7 598.7 389.8 600.8 387.7 601.8 387.2 603.5 387.0 605.6 385.0 606.3 384.6 608.5 386.6 607.5 388.1 609.2 390.0 609.3 391.8 607.8 392.6 608.6" fill="none" stroke="#ff1010" stroke-width="1.76" stroke-linejoin="round" stroke-linecap="round"/>
<path d="M390.6 591.6 391.3 593.3 392.2 594.9 391.6 596.2 391.2 598.0 391.8 599.7 391.8 601.6 393.3 603.5 391.3 604.6 390.8 606.4 391.3 606.6" fill="none" stroke="#ff1010" stroke-width="1.49" stroke-linejoin="round" stroke-linecap="round"/>
<path d="M394.0 588.2 395.9 588.1 394.8 589.8 394.6 591.8 395.6 593.7 393.5 594.5 395.6 595.6 397.4 595.4 398.1 595.0" fill="none" stroke="#ff1010" stroke-width="1.76" stroke-linejoin="round" stroke-linecap="round"/>
<path d="M409.6 597.1 411.5 597.4 413.1 596.0 415.0 596.8 416.9 596.3 418.3 597.5 418.2 598.2 416.2 597.7 414.7 599.0 412.9 599.2 410.8 599.2 410.5 601.2 410.8 602.9 410.4 603.1 408.8 603.9 408.0 606.1 406.1 606.6 406.0 608.1 406.3 610.0 407.9 611.2 407.7 613.3 408.1 614.3 408.1 616.4 406.2 615.9 407.9 616.2 409.7 617.1 410.3 616.8" fill="none" stroke="#ff1010" stroke-width="1.89" stroke-linejoin="round" stroke-linecap="round"/>
<path d="M394.0 614.0 395.2 612.6 396.9 612.7 398.7 612.7 397.4 613.4 397.5 615.5 395.3 615.9 394.2 617.3 394.0 618.1" fill="none" stroke="#0000ff" stroke-width="2.97" stroke-linejoin="round" stroke-linecap="round"/>
<path d="M483.6 586.2 484.9 587.5 484.2 589.2 482.2 589.2 480.7 590.6 482.1 591.6 483.2 593.5 485.0 591.9 485.6 592.6 485.0 594.4 484.1 596.0 482.1 596.0 480.6 597.2 480.1 598.9 478.4 600.1 479.1 601.1 479.8 603.2 481.5 604.1 483.7 603.7 484.6 605.9 487.1 605.7 487.0 607.9 486.4 607.1 484.1 607.2 483.7 605.4 483.3 603.4 484.9 602.0 484.9 599.7 487.2 600.2 487.7 599.1" fill="none" stroke="#0000ff" stroke-width="2.16" stroke-linejoin="round" stroke-linecap="round"/>
<path d="M486.3 589.6 487.3 591.3 489.6 592.1 488.0 593.4 487.5 595.3 487.9 597.1 489.8 598.2 490.7 599.7 491.7 601.1 492.0 603.1 492.5 604.8 494.5 606.0 493.8 608.0 493.5 609.1 492.4 609.0 491.8 607.3 491.0 605.7 489.0 604.6 489.1 603.2" fill="none" stroke="#12a8ff" stroke-width="2.70" stroke-linejoin="round" stroke-linecap="round"/>
<path d="M467.3 609.3 467.5 611.1 468.0 613.1 465.7 613.3 464.4 613.9 462.8 615.0 461.1 615.7 460.9 617.8 459.3 618.8 459.8 620.6 461.6 620.9 462.9 622.5 464.9 622.6 465.8 624.4 467.7 624.6 469.2 626.2 469.4 624.6 470.0 622.7 468.1 621.7 467.0 620.3 466.7 618.2 464.5 617.6 464.6 616.8" fill="none" stroke="#0000ff" stroke-width="2.16" stroke-linejoin="round" stroke-linecap="round"/>
<path d="M468.0 612.0 469.9 611.8 471.6 612.2 472.1 614.1 473.0 615.1 471.9 616.6 471.5 618.8 470.0 619.8 469.7 621.0 471.9 621.6 472.6 623.4 474.6 623.3 475.7 625.2 476.8 625.9 475.2 627.1 474.0 627.3 472.8 626.3" fill="none" stroke="#12a8ff" stroke-width="2.97" stroke-linejoin="round" stroke-linecap="round"/>
<path d="M496.5 626.3 498.3 625.9 499.8 624.7 499.6 626.8 501.3 628.2 500.9 630.2 502.4 631.7 502.5 633.5 502.2 635.4 503.4 636.9 504.0 637.1" fill="none" stroke="#ff1010" stroke-width="1.76" stroke-linejoin="round" stroke-linecap="round"/>
<path d="M525.7 563.1 527.3 564.2 527.9 564.2 530.1 564.0 531.5 563.3 533.3 563.2 531.8 563.9 530.6 565.7 532.1 567.2 531.1 568.8 530.9 570.8 528.9 569.9 527.1 570.5 525.2 569.8 524.1 571.5 522.9 573.0 522.6 574.3 523.5 575.5 525.5 575.4 526.7 573.8 527.6 575.6 529.3 576.8 529.6 578.6 528.9 580.6 529.4 582.5 530.6 583.9 531.9 585.3 532.5 586.6 533.6 588.3 533.1 590.4 535.3 591.3 535.8 593.4 536.1 594.3 534.6 595.4 533.9 595.1" fill="none" stroke="#0000ff" stroke-width="2.16" stroke-linejoin="round" stroke-linecap="round"/>
<path d="M529.1 572.0 529.5 573.9 527.9 575.4 528.3 577.4 528.8 579.2 529.4 581.0 530.2 582.6 531.3 584.0 533.0 585.3 532.3 587.6 533.5 589.0 534.2 589.7" fill="none" stroke="#12a8ff" stroke-width="1.89" stroke-linejoin="round" stroke-linecap="round"/>
<path d="M542.1 572.0 543.2 573.5 545.1 572.6 546.7 573.5 548.5 574.1 546.2 574.7 545.2 576.3 545.4 578.4 543.5 578.6 542.1 579.8 540.4 580.7 540.7 582.2 541.1 584.3 543.2 583.4 544.5 585.4 546.2 585.7 545.6 587.8 547.5 589.2 546.5 591.2 548.4 592.5 548.2 594.6 549.3 596.1 549.9 597.8 552.0 598.5 553.3 599.8 553.7 601.9 555.4 602.8 553.8 604.2 553.6 606.2 554.0 607.0 555.9 607.2 557.5 607.8 557.9 606.5 557.7 605.3" fill="none" stroke="#0000ff" stroke-width="2.16" stroke-linejoin="round" stroke-linecap="round"/>
<path d="M544.8 585.6 545.6 587.3 545.9 589.0 545.7 591.0 547.4 592.1 547.4 594.2 548.3 595.7 549.2 597.3 551.1 597.9 552.7 598.8 553.3 601.1 554.9 601.9 555.7 601.6" fill="none" stroke="#12a8ff" stroke-width="2.16" stroke-linejoin="round" stroke-linecap="round"/>
<path d="M509.4 613.4 509.4 615.3 509.2 616.2 509.0 618.2 510.2 619.4 512.3 620.0 511.9 622.2 513.9 623.0 515.2 624.3 516.3 625.6 517.2 627.4 518.4 628.6 517.6 629.4 516.4 629.9 514.3 630.6 514.7 632.5 514.5 634.4 516.2 635.4 517.5 636.8 517.6 637.9" fill="none" stroke="#ff1010" stroke-width="1.89" stroke-linejoin="round" stroke-linecap="round"/>
<path d="M504.0 633.1 505.4 634.5 505.8 636.3 506.0 638.0" fill="none" stroke="#ff1010" stroke-width="1.76" stroke-linejoin="round" stroke-linecap="round"/>
<path d="M394.0 642.8 394.6 644.6 395.4 646.2 397.0 646.1 399.1 646.9 399.8 647.6 398.5 649.2 399.7 650.7 399.6 652.8 401.6 653.5 402.0 655.7 403.5 657.0 405.5 656.9 406.9 658.3 408.9 657.9 410.3 659.1" fill="none" stroke="#0000ff" stroke-width="2.43" stroke-linejoin="round" stroke-linecap="round"/>
<path d="M398.1 650.9 399.7 652.0 399.4 654.3 401.4 655.0 402.4 656.8 404.5 656.9 405.7 658.4 407.7 658.4 407.6 658.8" fill="none" stroke="#12a8ff" stroke-width="1.89" stroke-linejoin="round" stroke-linecap="round"/>
<path d="M425.9 658.4 427.7 658.8 429.1 660.1 431.1 660.2 431.9 662.5 433.7 662.9 435.7 663.0 436.5 665.0 438.0 666.1 440.0 666.3 441.2 667.7 442.1 669.6 444.3 669.5 445.8 670.1 447.5 670.7 449.1 672.0 451.1 671.4 452.6 672.8 453.8 672.7" fill="none" stroke="#12a8ff" stroke-width="2.97" stroke-linejoin="round" stroke-linecap="round"/>
<path d="M428.6 659.1 430.4 659.5 431.2 661.4 432.5 662.7 434.6 662.8 435.7 664.5 438.0 664.3 439.5 665.3 440.4 667.2 441.9 668.2 443.9 668.4 445.5 668.8 446.9 670.3 448.8 670.0 450.4 671.3 452.4 670.8 454.1 671.7 455.4 673.1 457.2 673.3 458.8 674.4 460.3 675.2 462.5 674.9 463.5 676.8 465.3 677.4 467.2 677.1 469.0 677.3 470.0 676.7" fill="none" stroke="#0000ff" stroke-width="2.16" stroke-linejoin="round" stroke-linecap="round"/>
<path d="M454.4 668.6 454.9 666.8 456.7 665.7 458.0 665.7 459.2 666.5 461.0 666.7 462.5 668.1 463.9 669.0 464.6 668.6" fill="none" stroke="#ff1010" stroke-width="2.16" stroke-linejoin="round" stroke-linecap="round"/>
<path d="M456.5 670.6 458.0 671.7 459.8 672.1 461.3 673.1 463.4 672.6 464.7 674.1 466.7 674.1 467.3 674.7" fill="none" stroke="#ff1010" stroke-width="2.16" stroke-linejoin="round" stroke-linecap="round"/>
<path d="M460.5 679.5 461.8 681.0 463.7 681.3 465.3 682.0 467.3 681.7 469.1 682.3 470.5 683.5 472.5 683.4 474.2 683.9 475.9 684.2 477.6 684.7 479.2 686.1 479.6 685.6" fill="none" stroke="#0000ff" stroke-width="2.43" stroke-linejoin="round" stroke-linecap="round"/>
<path d="M471.4 665.2 473.2 665.7 474.4 667.2 476.2 666.5 478.2 667.2 479.7 665.8 481.8 665.6 482.8 667.6 484.5 668.2 486.5 668.3 487.8 669.7 489.2 670.9 490.4 670.6" fill="none" stroke="#0000ff" stroke-width="2.43" stroke-linejoin="round" stroke-linecap="round"/>
<path d="M472.8 676.7 474.7 676.4 476.1 678.1 477.9 678.4 479.6 677.0 481.3 678.3 483.4 677.3 484.6 679.4 486.6 679.3 487.9 680.7 489.9 680.7 491.1 681.5" fill="none" stroke="#0000ff" stroke-width="2.43" stroke-linejoin="round" stroke-linecap="round"/>
<path d="M434.7 680.1 436.6 680.4 438.1 681.6 438.9 683.5 441.1 683.5 441.8 685.6 443.8 686.0 444.4 688.0 444.9 687.6" fill="none" stroke="#0000ff" stroke-width="2.43" stroke-linejoin="round" stroke-linecap="round"/>
<path d="M435.4 681.5 437.2 682.0 438.1 682.8" fill="none" stroke="#12a8ff" stroke-width="2.16" stroke-linejoin="round" stroke-linecap="round"/>
<path d="M413.0 667.9 414.1 666.5 415.9 667.4 417.8 667.7 418.9 669.0 420.5 669.8 421.7 671.4 421.8 672.0" fill="none" stroke="#ff1010" stroke-width="1.89" stroke-linejoin="round" stroke-linecap="round"/>
<path d="M499.9 638.7 500.4 640.6 501.9 641.8 502.9 643.3 504.0 643.5" fill="none" stroke="#ff1010" stroke-width="1.89" stroke-linejoin="round" stroke-linecap="round"/>
<path d="M514.9 636.0 516.2 637.3 516.8 639.0 518.6 640.0 518.6 642.2 520.4 643.1 521.3 644.7 523.2 645.2 524.6 646.3 525.7 647.9 527.7 648.2 528.6 650.0 530.7 649.9 531.8 651.7 533.8 652.8 531.8 654.0 532.5 654.3" fill="none" stroke="#ff8c8c" stroke-width="1.49" stroke-linejoin="round" stroke-linecap="round"/>
<path d="M504.0 645.5 505.7 646.2 506.4 648.3 508.7 648.2 510.0 649.4 511.2 651.0 513.1 651.2 513.9 653.2 515.5 654.0 516.7 655.4 517.9 656.7 519.9 657.0 520.3 657.7" fill="none" stroke="#ff1010" stroke-width="1.76" stroke-linejoin="round" stroke-linecap="round"/>
<path d="M504.0 636.7 505.6 637.6 505.4 638.0" fill="none" stroke="#ff1010" stroke-width="1.76" stroke-linejoin="round" stroke-linecap="round"/>
<path d="M524.4 655.7 526.3 655.4 527.5 657.2 528.8 658.4 531.0 658.5 532.3 659.8 533.9 660.7 535.3 661.7 535.9 664.0 537.4 665.0 539.5 665.2 541.1 665.9 542.2 667.7 543.0 668.6 541.0 668.1 539.2 669.1 537.7 667.4 535.9 668.8 534.0 668.0 532.7 669.1 531.0 670.2 532.2 671.5 533.2 673.3 535.0 673.6 537.1 672.8 538.6 673.8 540.2 674.6 541.6 675.9 543.6 675.3 544.1 676.1" fill="none" stroke="#0000ff" stroke-width="2.43" stroke-linejoin="round" stroke-linecap="round"/>
<path d="M531.9 669.3 533.0 670.8 533.6 672.6 535.7 672.3 536.8 674.3 539.0 673.6 540.1 675.7 542.3 675.1 543.4 676.1" fill="none" stroke="#12a8ff" stroke-width="1.89" stroke-linejoin="round" stroke-linecap="round"/>
<path d="M524.4 688.3 525.8 687.2 527.8 687.6 529.5 687.1 531.2 685.9 533.0 686.9 534.8 687.2 536.7 686.1 538.3 687.6 540.2 686.4 541.9 687.7 543.9 687.1 545.4 688.3 547.2 688.6 547.4 689.8 545.7 691.1 543.8 690.2 542.0 690.0 540.3 691.2 538.5 691.9 536.6 690.5 534.8 692.2 533.1 691.0 531.3 690.6 529.4 691.2 528.0 689.6 527.1 689.7" fill="none" stroke="#0000ff" stroke-width="2.43" stroke-linejoin="round" stroke-linecap="round"/>
<path d="M528.5 690.4 530.1 691.4 532.1 690.7 533.6 692.1 535.5 691.1 537.3 692.4 539.1 692.3 540.8 691.1 542.7 691.8 544.4 690.8 544.8 691.0" fill="none" stroke="#12a8ff" stroke-width="1.89" stroke-linejoin="round" stroke-linecap="round"/>
<path d="M508.8 688.3 510.3 689.3 510.7 691.4 512.0 692.7 514.2 692.7 515.7 693.8 516.5 695.6 517.8 696.8 516.2 697.8 515.2 699.6 513.6 700.4 513.3 702.6 512.2 702.6" fill="none" stroke="#12a8ff" stroke-width="2.43" stroke-linejoin="round" stroke-linecap="round"/>
<path d="M509.4 688.7 511.3 689.4 512.3 690.9 513.2 692.7 515.0 693.2 516.1 694.9 516.9 694.7" fill="none" stroke="#0000ff" stroke-width="1.89" stroke-linejoin="round" stroke-linecap="round"/>
<path d="M523.0 701.2 524.6 700.3 526.7 701.0 528.1 699.3 530.1 699.8 531.2 699.2" fill="none" stroke="#ff1010" stroke-width="1.76" stroke-linejoin="round" stroke-linecap="round"/>
</g>
<rect x="284.2" y="441.2" width="330.8" height="294.1" fill="none" stroke="#444" stroke-width="1.3"/>
</svg></body></html>
